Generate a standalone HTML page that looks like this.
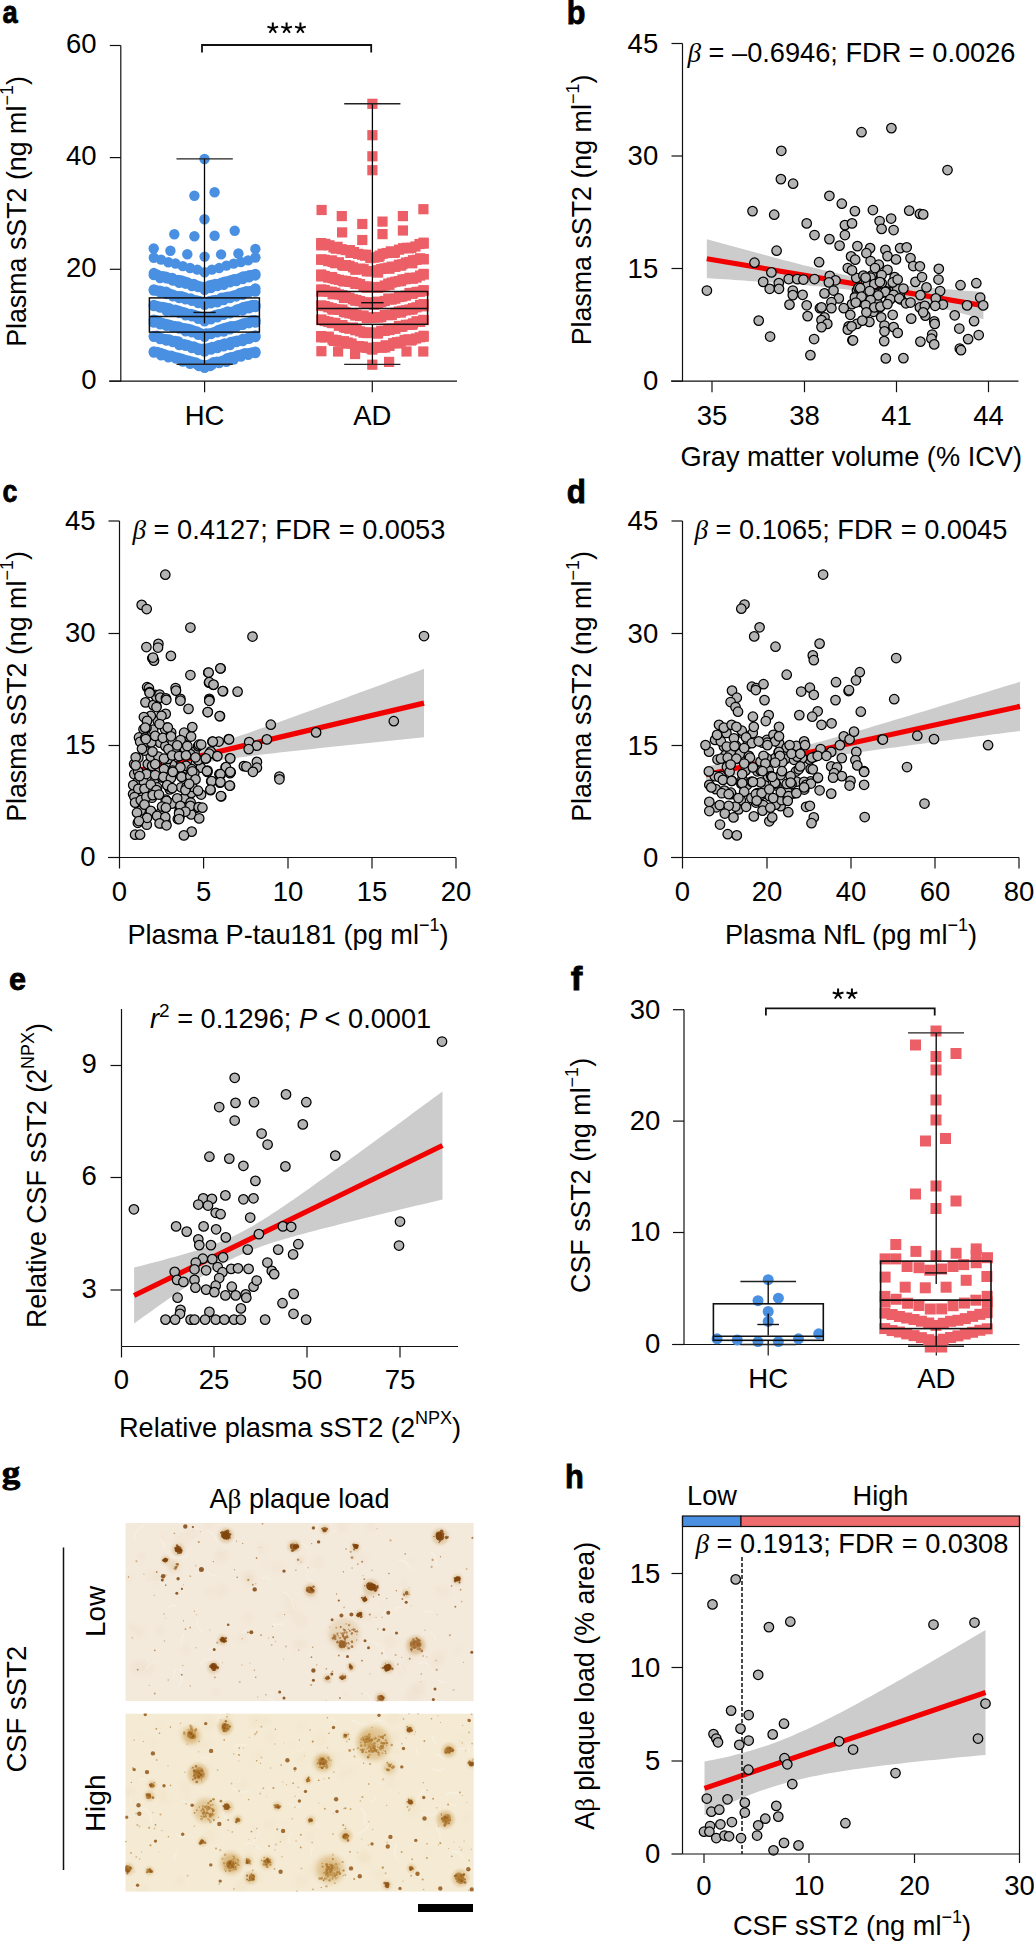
<!DOCTYPE html>
<html><head><meta charset="utf-8"><style>
html,body{margin:0;padding:0;background:#fff;}
svg{display:block;}
text{font-family:"Liberation Sans", sans-serif;fill:#000;}
</style></head><body>
<svg width="1034" height="1942" viewBox="0 0 1034 1942">
<rect width="1034" height="1942" fill="#fff"/>
<g transform="matrix(0.2736,0,0,0.3145,2.48,23.19)"><text x="0" y="0" font-size="100" font-weight="bold" stroke="#000" stroke-width="2.5" style="font-family:'Liberation Sans'">a</text></g>
<line x1="120.80" y1="45.50" x2="120.80" y2="381.50" stroke="#111" stroke-width="1.2" />
<line x1="109.00" y1="381.20" x2="457.00" y2="381.20" stroke="#111" stroke-width="1.2" />
<line x1="109.80" y1="45.50" x2="120.80" y2="45.50" stroke="#111" stroke-width="1.2" />
<text x="96.50" y="53.20" font-size="27.5" text-anchor="end" font-weight="normal" font-style="normal">60</text>
<line x1="109.80" y1="157.60" x2="120.80" y2="157.60" stroke="#111" stroke-width="1.2" />
<text x="96.50" y="165.30" font-size="27.5" text-anchor="end" font-weight="normal" font-style="normal">40</text>
<line x1="109.80" y1="269.30" x2="120.80" y2="269.30" stroke="#111" stroke-width="1.2" />
<text x="96.50" y="277.00" font-size="27.5" text-anchor="end" font-weight="normal" font-style="normal">20</text>
<line x1="109.80" y1="381.20" x2="120.80" y2="381.20" stroke="#111" stroke-width="1.2" />
<text x="96.50" y="388.90" font-size="27.5" text-anchor="end" font-weight="normal" font-style="normal">0</text>
<line x1="204.60" y1="381.20" x2="204.60" y2="392.20" stroke="#111" stroke-width="1.2" />
<text x="204.60" y="424.70" font-size="27.5" text-anchor="middle" font-weight="normal" font-style="normal">HC</text>
<line x1="372.30" y1="381.20" x2="372.30" y2="392.20" stroke="#111" stroke-width="1.2" />
<text x="372.30" y="424.70" font-size="27.5" text-anchor="middle" font-weight="normal" font-style="normal">AD</text>
<text x="25.50" y="211.50" font-size="26.8" text-anchor="middle" font-weight="normal" font-style="normal" transform="rotate(-90 25.50 211.50)">Plasma sST2 (ng ml<tspan dy="-12.5" font-size="18">−1</tspan><tspan dy="12.5">)</tspan></text>
<path d="M202,52.5 L202,45 L371.2,45 L371.2,52.5" fill="none" stroke="#111" stroke-width="1.8"/>
<path d="M272.80,28.20 L272.80,22.60 M272.80,28.20 L278.18,26.66 M272.80,28.20 L276.09,32.73 M272.80,28.20 L269.51,32.73 M272.80,28.20 L267.42,26.66 " stroke="#000" stroke-width="2.0" stroke-linecap="butt" fill="none"/>
<path d="M286.60,28.20 L286.60,22.60 M286.60,28.20 L291.98,26.66 M286.60,28.20 L289.89,32.73 M286.60,28.20 L283.31,32.73 M286.60,28.20 L281.22,26.66 " stroke="#000" stroke-width="2.0" stroke-linecap="butt" fill="none"/>
<path d="M300.40,28.20 L300.40,22.60 M300.40,28.20 L305.78,26.66 M300.40,28.20 L303.69,32.73 M300.40,28.20 L297.11,32.73 M300.40,28.20 L295.02,26.66 " stroke="#000" stroke-width="2.0" stroke-linecap="butt" fill="none"/>
<circle cx="204.50" cy="159.00" r="5.2" fill="#4A90E2" stroke="none" stroke-width="0"/>
<circle cx="194.40" cy="195.70" r="5.2" fill="#4A90E2" stroke="none" stroke-width="0"/>
<circle cx="214.60" cy="192.30" r="5.2" fill="#4A90E2" stroke="none" stroke-width="0"/>
<circle cx="204.50" cy="219.30" r="5.2" fill="#4A90E2" stroke="none" stroke-width="0"/>
<circle cx="174.30" cy="234.30" r="5.2" fill="#4A90E2" stroke="none" stroke-width="0"/>
<circle cx="194.40" cy="236.20" r="5.2" fill="#4A90E2" stroke="none" stroke-width="0"/>
<circle cx="214.60" cy="235.70" r="5.2" fill="#4A90E2" stroke="none" stroke-width="0"/>
<circle cx="234.70" cy="230.70" r="5.2" fill="#4A90E2" stroke="none" stroke-width="0"/>
<circle cx="153.70" cy="248.50" r="5.2" fill="#4A90E2" stroke="none" stroke-width="0"/>
<circle cx="170.40" cy="250.80" r="5.2" fill="#4A90E2" stroke="none" stroke-width="0"/>
<circle cx="187.30" cy="254.20" r="5.2" fill="#4A90E2" stroke="none" stroke-width="0"/>
<circle cx="204.60" cy="256.60" r="5.2" fill="#4A90E2" stroke="none" stroke-width="0"/>
<circle cx="221.10" cy="254.40" r="5.2" fill="#4A90E2" stroke="none" stroke-width="0"/>
<circle cx="238.40" cy="253.50" r="5.2" fill="#4A90E2" stroke="none" stroke-width="0"/>
<circle cx="255.40" cy="248.90" r="5.2" fill="#4A90E2" stroke="none" stroke-width="0"/>
<circle cx="153.80" cy="257.79" r="5.2" fill="#4A90E2" stroke="none" stroke-width="0"/>
<circle cx="161.06" cy="259.61" r="5.2" fill="#4A90E2" stroke="none" stroke-width="0"/>
<circle cx="168.31" cy="262.24" r="5.2" fill="#4A90E2" stroke="none" stroke-width="0"/>
<circle cx="175.57" cy="263.57" r="5.2" fill="#4A90E2" stroke="none" stroke-width="0"/>
<circle cx="182.83" cy="266.16" r="5.2" fill="#4A90E2" stroke="none" stroke-width="0"/>
<circle cx="190.09" cy="267.98" r="5.2" fill="#4A90E2" stroke="none" stroke-width="0"/>
<circle cx="197.34" cy="269.64" r="5.2" fill="#4A90E2" stroke="none" stroke-width="0"/>
<circle cx="204.60" cy="272.21" r="5.2" fill="#4A90E2" stroke="none" stroke-width="0"/>
<circle cx="211.86" cy="269.62" r="5.2" fill="#4A90E2" stroke="none" stroke-width="0"/>
<circle cx="219.11" cy="268.06" r="5.2" fill="#4A90E2" stroke="none" stroke-width="0"/>
<circle cx="226.37" cy="265.60" r="5.2" fill="#4A90E2" stroke="none" stroke-width="0"/>
<circle cx="233.63" cy="263.59" r="5.2" fill="#4A90E2" stroke="none" stroke-width="0"/>
<circle cx="240.89" cy="261.97" r="5.2" fill="#4A90E2" stroke="none" stroke-width="0"/>
<circle cx="248.14" cy="260.42" r="5.2" fill="#4A90E2" stroke="none" stroke-width="0"/>
<circle cx="255.40" cy="257.55" r="5.2" fill="#4A90E2" stroke="none" stroke-width="0"/>
<circle cx="153.80" cy="273.06" r="5.2" fill="#4A90E2" stroke="none" stroke-width="0"/>
<circle cx="156.88" cy="274.55" r="5.2" fill="#4A90E2" stroke="none" stroke-width="0"/>
<circle cx="159.96" cy="275.91" r="5.2" fill="#4A90E2" stroke="none" stroke-width="0"/>
<circle cx="163.04" cy="276.17" r="5.2" fill="#4A90E2" stroke="none" stroke-width="0"/>
<circle cx="166.12" cy="276.73" r="5.2" fill="#4A90E2" stroke="none" stroke-width="0"/>
<circle cx="169.19" cy="278.50" r="5.2" fill="#4A90E2" stroke="none" stroke-width="0"/>
<circle cx="172.27" cy="277.87" r="5.2" fill="#4A90E2" stroke="none" stroke-width="0"/>
<circle cx="175.35" cy="280.01" r="5.2" fill="#4A90E2" stroke="none" stroke-width="0"/>
<circle cx="178.43" cy="279.95" r="5.2" fill="#4A90E2" stroke="none" stroke-width="0"/>
<circle cx="181.51" cy="280.57" r="5.2" fill="#4A90E2" stroke="none" stroke-width="0"/>
<circle cx="184.59" cy="281.37" r="5.2" fill="#4A90E2" stroke="none" stroke-width="0"/>
<circle cx="187.67" cy="282.53" r="5.2" fill="#4A90E2" stroke="none" stroke-width="0"/>
<circle cx="190.75" cy="284.19" r="5.2" fill="#4A90E2" stroke="none" stroke-width="0"/>
<circle cx="193.82" cy="284.02" r="5.2" fill="#4A90E2" stroke="none" stroke-width="0"/>
<circle cx="196.90" cy="285.51" r="5.2" fill="#4A90E2" stroke="none" stroke-width="0"/>
<circle cx="199.98" cy="286.45" r="5.2" fill="#4A90E2" stroke="none" stroke-width="0"/>
<circle cx="203.06" cy="286.87" r="5.2" fill="#4A90E2" stroke="none" stroke-width="0"/>
<circle cx="206.14" cy="287.15" r="5.2" fill="#4A90E2" stroke="none" stroke-width="0"/>
<circle cx="209.22" cy="285.53" r="5.2" fill="#4A90E2" stroke="none" stroke-width="0"/>
<circle cx="212.30" cy="284.67" r="5.2" fill="#4A90E2" stroke="none" stroke-width="0"/>
<circle cx="215.38" cy="284.06" r="5.2" fill="#4A90E2" stroke="none" stroke-width="0"/>
<circle cx="218.45" cy="283.97" r="5.2" fill="#4A90E2" stroke="none" stroke-width="0"/>
<circle cx="221.53" cy="282.72" r="5.2" fill="#4A90E2" stroke="none" stroke-width="0"/>
<circle cx="224.61" cy="281.69" r="5.2" fill="#4A90E2" stroke="none" stroke-width="0"/>
<circle cx="227.69" cy="281.27" r="5.2" fill="#4A90E2" stroke="none" stroke-width="0"/>
<circle cx="230.77" cy="280.21" r="5.2" fill="#4A90E2" stroke="none" stroke-width="0"/>
<circle cx="233.85" cy="279.12" r="5.2" fill="#4A90E2" stroke="none" stroke-width="0"/>
<circle cx="236.93" cy="279.06" r="5.2" fill="#4A90E2" stroke="none" stroke-width="0"/>
<circle cx="240.01" cy="278.06" r="5.2" fill="#4A90E2" stroke="none" stroke-width="0"/>
<circle cx="243.08" cy="276.48" r="5.2" fill="#4A90E2" stroke="none" stroke-width="0"/>
<circle cx="246.16" cy="276.16" r="5.2" fill="#4A90E2" stroke="none" stroke-width="0"/>
<circle cx="249.24" cy="275.24" r="5.2" fill="#4A90E2" stroke="none" stroke-width="0"/>
<circle cx="252.32" cy="274.95" r="5.2" fill="#4A90E2" stroke="none" stroke-width="0"/>
<circle cx="255.40" cy="273.87" r="5.2" fill="#4A90E2" stroke="none" stroke-width="0"/>
<circle cx="153.80" cy="275.16" r="5.2" fill="#4A90E2" stroke="none" stroke-width="0"/>
<circle cx="160.15" cy="278.02" r="5.2" fill="#4A90E2" stroke="none" stroke-width="0"/>
<circle cx="166.50" cy="278.39" r="5.2" fill="#4A90E2" stroke="none" stroke-width="0"/>
<circle cx="172.85" cy="280.62" r="5.2" fill="#4A90E2" stroke="none" stroke-width="0"/>
<circle cx="179.20" cy="282.91" r="5.2" fill="#4A90E2" stroke="none" stroke-width="0"/>
<circle cx="185.55" cy="283.69" r="5.2" fill="#4A90E2" stroke="none" stroke-width="0"/>
<circle cx="191.90" cy="285.98" r="5.2" fill="#4A90E2" stroke="none" stroke-width="0"/>
<circle cx="198.25" cy="287.01" r="5.2" fill="#4A90E2" stroke="none" stroke-width="0"/>
<circle cx="204.60" cy="289.77" r="5.2" fill="#4A90E2" stroke="none" stroke-width="0"/>
<circle cx="210.95" cy="288.17" r="5.2" fill="#4A90E2" stroke="none" stroke-width="0"/>
<circle cx="217.30" cy="286.12" r="5.2" fill="#4A90E2" stroke="none" stroke-width="0"/>
<circle cx="223.65" cy="284.85" r="5.2" fill="#4A90E2" stroke="none" stroke-width="0"/>
<circle cx="230.00" cy="282.20" r="5.2" fill="#4A90E2" stroke="none" stroke-width="0"/>
<circle cx="236.35" cy="281.06" r="5.2" fill="#4A90E2" stroke="none" stroke-width="0"/>
<circle cx="242.70" cy="279.15" r="5.2" fill="#4A90E2" stroke="none" stroke-width="0"/>
<circle cx="249.05" cy="277.38" r="5.2" fill="#4A90E2" stroke="none" stroke-width="0"/>
<circle cx="255.40" cy="275.43" r="5.2" fill="#4A90E2" stroke="none" stroke-width="0"/>
<circle cx="153.80" cy="289.54" r="5.2" fill="#4A90E2" stroke="none" stroke-width="0"/>
<circle cx="156.88" cy="290.56" r="5.2" fill="#4A90E2" stroke="none" stroke-width="0"/>
<circle cx="159.96" cy="290.66" r="5.2" fill="#4A90E2" stroke="none" stroke-width="0"/>
<circle cx="163.04" cy="291.81" r="5.2" fill="#4A90E2" stroke="none" stroke-width="0"/>
<circle cx="166.12" cy="291.69" r="5.2" fill="#4A90E2" stroke="none" stroke-width="0"/>
<circle cx="169.19" cy="293.56" r="5.2" fill="#4A90E2" stroke="none" stroke-width="0"/>
<circle cx="172.27" cy="294.33" r="5.2" fill="#4A90E2" stroke="none" stroke-width="0"/>
<circle cx="175.35" cy="295.73" r="5.2" fill="#4A90E2" stroke="none" stroke-width="0"/>
<circle cx="178.43" cy="296.30" r="5.2" fill="#4A90E2" stroke="none" stroke-width="0"/>
<circle cx="181.51" cy="296.29" r="5.2" fill="#4A90E2" stroke="none" stroke-width="0"/>
<circle cx="184.59" cy="297.30" r="5.2" fill="#4A90E2" stroke="none" stroke-width="0"/>
<circle cx="187.67" cy="298.60" r="5.2" fill="#4A90E2" stroke="none" stroke-width="0"/>
<circle cx="190.75" cy="298.42" r="5.2" fill="#4A90E2" stroke="none" stroke-width="0"/>
<circle cx="193.82" cy="299.97" r="5.2" fill="#4A90E2" stroke="none" stroke-width="0"/>
<circle cx="196.90" cy="300.35" r="5.2" fill="#4A90E2" stroke="none" stroke-width="0"/>
<circle cx="199.98" cy="301.11" r="5.2" fill="#4A90E2" stroke="none" stroke-width="0"/>
<circle cx="203.06" cy="301.87" r="5.2" fill="#4A90E2" stroke="none" stroke-width="0"/>
<circle cx="206.14" cy="303.00" r="5.2" fill="#4A90E2" stroke="none" stroke-width="0"/>
<circle cx="209.22" cy="301.13" r="5.2" fill="#4A90E2" stroke="none" stroke-width="0"/>
<circle cx="212.30" cy="300.47" r="5.2" fill="#4A90E2" stroke="none" stroke-width="0"/>
<circle cx="215.38" cy="299.86" r="5.2" fill="#4A90E2" stroke="none" stroke-width="0"/>
<circle cx="218.45" cy="299.78" r="5.2" fill="#4A90E2" stroke="none" stroke-width="0"/>
<circle cx="221.53" cy="297.66" r="5.2" fill="#4A90E2" stroke="none" stroke-width="0"/>
<circle cx="224.61" cy="297.40" r="5.2" fill="#4A90E2" stroke="none" stroke-width="0"/>
<circle cx="227.69" cy="296.72" r="5.2" fill="#4A90E2" stroke="none" stroke-width="0"/>
<circle cx="230.77" cy="296.40" r="5.2" fill="#4A90E2" stroke="none" stroke-width="0"/>
<circle cx="233.85" cy="295.45" r="5.2" fill="#4A90E2" stroke="none" stroke-width="0"/>
<circle cx="236.93" cy="294.67" r="5.2" fill="#4A90E2" stroke="none" stroke-width="0"/>
<circle cx="240.01" cy="292.89" r="5.2" fill="#4A90E2" stroke="none" stroke-width="0"/>
<circle cx="243.08" cy="292.26" r="5.2" fill="#4A90E2" stroke="none" stroke-width="0"/>
<circle cx="246.16" cy="291.32" r="5.2" fill="#4A90E2" stroke="none" stroke-width="0"/>
<circle cx="249.24" cy="291.31" r="5.2" fill="#4A90E2" stroke="none" stroke-width="0"/>
<circle cx="252.32" cy="290.58" r="5.2" fill="#4A90E2" stroke="none" stroke-width="0"/>
<circle cx="255.40" cy="288.44" r="5.2" fill="#4A90E2" stroke="none" stroke-width="0"/>
<circle cx="153.80" cy="290.48" r="5.2" fill="#4A90E2" stroke="none" stroke-width="0"/>
<circle cx="160.15" cy="292.32" r="5.2" fill="#4A90E2" stroke="none" stroke-width="0"/>
<circle cx="166.50" cy="294.07" r="5.2" fill="#4A90E2" stroke="none" stroke-width="0"/>
<circle cx="172.85" cy="296.23" r="5.2" fill="#4A90E2" stroke="none" stroke-width="0"/>
<circle cx="179.20" cy="298.14" r="5.2" fill="#4A90E2" stroke="none" stroke-width="0"/>
<circle cx="185.55" cy="299.37" r="5.2" fill="#4A90E2" stroke="none" stroke-width="0"/>
<circle cx="191.90" cy="300.71" r="5.2" fill="#4A90E2" stroke="none" stroke-width="0"/>
<circle cx="198.25" cy="303.12" r="5.2" fill="#4A90E2" stroke="none" stroke-width="0"/>
<circle cx="204.60" cy="304.79" r="5.2" fill="#4A90E2" stroke="none" stroke-width="0"/>
<circle cx="210.95" cy="303.36" r="5.2" fill="#4A90E2" stroke="none" stroke-width="0"/>
<circle cx="217.30" cy="302.22" r="5.2" fill="#4A90E2" stroke="none" stroke-width="0"/>
<circle cx="223.65" cy="300.05" r="5.2" fill="#4A90E2" stroke="none" stroke-width="0"/>
<circle cx="230.00" cy="298.02" r="5.2" fill="#4A90E2" stroke="none" stroke-width="0"/>
<circle cx="236.35" cy="296.44" r="5.2" fill="#4A90E2" stroke="none" stroke-width="0"/>
<circle cx="242.70" cy="294.78" r="5.2" fill="#4A90E2" stroke="none" stroke-width="0"/>
<circle cx="249.05" cy="292.04" r="5.2" fill="#4A90E2" stroke="none" stroke-width="0"/>
<circle cx="255.40" cy="291.64" r="5.2" fill="#4A90E2" stroke="none" stroke-width="0"/>
<circle cx="153.80" cy="304.95" r="5.2" fill="#4A90E2" stroke="none" stroke-width="0"/>
<circle cx="156.88" cy="305.95" r="5.2" fill="#4A90E2" stroke="none" stroke-width="0"/>
<circle cx="159.96" cy="306.67" r="5.2" fill="#4A90E2" stroke="none" stroke-width="0"/>
<circle cx="163.04" cy="306.87" r="5.2" fill="#4A90E2" stroke="none" stroke-width="0"/>
<circle cx="166.12" cy="307.73" r="5.2" fill="#4A90E2" stroke="none" stroke-width="0"/>
<circle cx="169.19" cy="308.11" r="5.2" fill="#4A90E2" stroke="none" stroke-width="0"/>
<circle cx="172.27" cy="309.81" r="5.2" fill="#4A90E2" stroke="none" stroke-width="0"/>
<circle cx="175.35" cy="309.74" r="5.2" fill="#4A90E2" stroke="none" stroke-width="0"/>
<circle cx="178.43" cy="310.60" r="5.2" fill="#4A90E2" stroke="none" stroke-width="0"/>
<circle cx="181.51" cy="311.67" r="5.2" fill="#4A90E2" stroke="none" stroke-width="0"/>
<circle cx="184.59" cy="312.44" r="5.2" fill="#4A90E2" stroke="none" stroke-width="0"/>
<circle cx="187.67" cy="313.58" r="5.2" fill="#4A90E2" stroke="none" stroke-width="0"/>
<circle cx="190.75" cy="313.97" r="5.2" fill="#4A90E2" stroke="none" stroke-width="0"/>
<circle cx="193.82" cy="314.73" r="5.2" fill="#4A90E2" stroke="none" stroke-width="0"/>
<circle cx="196.90" cy="315.82" r="5.2" fill="#4A90E2" stroke="none" stroke-width="0"/>
<circle cx="199.98" cy="316.59" r="5.2" fill="#4A90E2" stroke="none" stroke-width="0"/>
<circle cx="203.06" cy="317.86" r="5.2" fill="#4A90E2" stroke="none" stroke-width="0"/>
<circle cx="206.14" cy="317.32" r="5.2" fill="#4A90E2" stroke="none" stroke-width="0"/>
<circle cx="209.22" cy="317.83" r="5.2" fill="#4A90E2" stroke="none" stroke-width="0"/>
<circle cx="212.30" cy="316.56" r="5.2" fill="#4A90E2" stroke="none" stroke-width="0"/>
<circle cx="215.38" cy="314.97" r="5.2" fill="#4A90E2" stroke="none" stroke-width="0"/>
<circle cx="218.45" cy="314.29" r="5.2" fill="#4A90E2" stroke="none" stroke-width="0"/>
<circle cx="221.53" cy="313.59" r="5.2" fill="#4A90E2" stroke="none" stroke-width="0"/>
<circle cx="224.61" cy="312.77" r="5.2" fill="#4A90E2" stroke="none" stroke-width="0"/>
<circle cx="227.69" cy="311.53" r="5.2" fill="#4A90E2" stroke="none" stroke-width="0"/>
<circle cx="230.77" cy="311.85" r="5.2" fill="#4A90E2" stroke="none" stroke-width="0"/>
<circle cx="233.85" cy="311.23" r="5.2" fill="#4A90E2" stroke="none" stroke-width="0"/>
<circle cx="236.93" cy="309.54" r="5.2" fill="#4A90E2" stroke="none" stroke-width="0"/>
<circle cx="240.01" cy="308.72" r="5.2" fill="#4A90E2" stroke="none" stroke-width="0"/>
<circle cx="243.08" cy="307.23" r="5.2" fill="#4A90E2" stroke="none" stroke-width="0"/>
<circle cx="246.16" cy="306.41" r="5.2" fill="#4A90E2" stroke="none" stroke-width="0"/>
<circle cx="249.24" cy="305.95" r="5.2" fill="#4A90E2" stroke="none" stroke-width="0"/>
<circle cx="252.32" cy="304.97" r="5.2" fill="#4A90E2" stroke="none" stroke-width="0"/>
<circle cx="255.40" cy="305.03" r="5.2" fill="#4A90E2" stroke="none" stroke-width="0"/>
<circle cx="153.80" cy="305.96" r="5.2" fill="#4A90E2" stroke="none" stroke-width="0"/>
<circle cx="160.15" cy="307.49" r="5.2" fill="#4A90E2" stroke="none" stroke-width="0"/>
<circle cx="166.50" cy="310.72" r="5.2" fill="#4A90E2" stroke="none" stroke-width="0"/>
<circle cx="172.85" cy="311.80" r="5.2" fill="#4A90E2" stroke="none" stroke-width="0"/>
<circle cx="179.20" cy="312.93" r="5.2" fill="#4A90E2" stroke="none" stroke-width="0"/>
<circle cx="185.55" cy="315.32" r="5.2" fill="#4A90E2" stroke="none" stroke-width="0"/>
<circle cx="191.90" cy="316.24" r="5.2" fill="#4A90E2" stroke="none" stroke-width="0"/>
<circle cx="198.25" cy="318.79" r="5.2" fill="#4A90E2" stroke="none" stroke-width="0"/>
<circle cx="204.60" cy="321.27" r="5.2" fill="#4A90E2" stroke="none" stroke-width="0"/>
<circle cx="210.95" cy="319.33" r="5.2" fill="#4A90E2" stroke="none" stroke-width="0"/>
<circle cx="217.30" cy="317.31" r="5.2" fill="#4A90E2" stroke="none" stroke-width="0"/>
<circle cx="223.65" cy="314.87" r="5.2" fill="#4A90E2" stroke="none" stroke-width="0"/>
<circle cx="230.00" cy="313.29" r="5.2" fill="#4A90E2" stroke="none" stroke-width="0"/>
<circle cx="236.35" cy="311.22" r="5.2" fill="#4A90E2" stroke="none" stroke-width="0"/>
<circle cx="242.70" cy="310.44" r="5.2" fill="#4A90E2" stroke="none" stroke-width="0"/>
<circle cx="249.05" cy="308.30" r="5.2" fill="#4A90E2" stroke="none" stroke-width="0"/>
<circle cx="255.40" cy="306.95" r="5.2" fill="#4A90E2" stroke="none" stroke-width="0"/>
<circle cx="153.80" cy="319.73" r="5.2" fill="#4A90E2" stroke="none" stroke-width="0"/>
<circle cx="156.88" cy="320.41" r="5.2" fill="#4A90E2" stroke="none" stroke-width="0"/>
<circle cx="159.96" cy="322.20" r="5.2" fill="#4A90E2" stroke="none" stroke-width="0"/>
<circle cx="163.04" cy="323.32" r="5.2" fill="#4A90E2" stroke="none" stroke-width="0"/>
<circle cx="166.12" cy="323.96" r="5.2" fill="#4A90E2" stroke="none" stroke-width="0"/>
<circle cx="169.19" cy="324.73" r="5.2" fill="#4A90E2" stroke="none" stroke-width="0"/>
<circle cx="172.27" cy="325.60" r="5.2" fill="#4A90E2" stroke="none" stroke-width="0"/>
<circle cx="175.35" cy="326.32" r="5.2" fill="#4A90E2" stroke="none" stroke-width="0"/>
<circle cx="178.43" cy="326.35" r="5.2" fill="#4A90E2" stroke="none" stroke-width="0"/>
<circle cx="181.51" cy="327.66" r="5.2" fill="#4A90E2" stroke="none" stroke-width="0"/>
<circle cx="184.59" cy="328.25" r="5.2" fill="#4A90E2" stroke="none" stroke-width="0"/>
<circle cx="187.67" cy="328.58" r="5.2" fill="#4A90E2" stroke="none" stroke-width="0"/>
<circle cx="190.75" cy="329.43" r="5.2" fill="#4A90E2" stroke="none" stroke-width="0"/>
<circle cx="193.82" cy="330.68" r="5.2" fill="#4A90E2" stroke="none" stroke-width="0"/>
<circle cx="196.90" cy="331.49" r="5.2" fill="#4A90E2" stroke="none" stroke-width="0"/>
<circle cx="199.98" cy="333.04" r="5.2" fill="#4A90E2" stroke="none" stroke-width="0"/>
<circle cx="203.06" cy="334.31" r="5.2" fill="#4A90E2" stroke="none" stroke-width="0"/>
<circle cx="206.14" cy="333.49" r="5.2" fill="#4A90E2" stroke="none" stroke-width="0"/>
<circle cx="209.22" cy="333.43" r="5.2" fill="#4A90E2" stroke="none" stroke-width="0"/>
<circle cx="212.30" cy="332.66" r="5.2" fill="#4A90E2" stroke="none" stroke-width="0"/>
<circle cx="215.38" cy="331.76" r="5.2" fill="#4A90E2" stroke="none" stroke-width="0"/>
<circle cx="218.45" cy="329.97" r="5.2" fill="#4A90E2" stroke="none" stroke-width="0"/>
<circle cx="221.53" cy="328.89" r="5.2" fill="#4A90E2" stroke="none" stroke-width="0"/>
<circle cx="224.61" cy="328.05" r="5.2" fill="#4A90E2" stroke="none" stroke-width="0"/>
<circle cx="227.69" cy="327.15" r="5.2" fill="#4A90E2" stroke="none" stroke-width="0"/>
<circle cx="230.77" cy="326.31" r="5.2" fill="#4A90E2" stroke="none" stroke-width="0"/>
<circle cx="233.85" cy="326.14" r="5.2" fill="#4A90E2" stroke="none" stroke-width="0"/>
<circle cx="236.93" cy="325.73" r="5.2" fill="#4A90E2" stroke="none" stroke-width="0"/>
<circle cx="240.01" cy="324.79" r="5.2" fill="#4A90E2" stroke="none" stroke-width="0"/>
<circle cx="243.08" cy="323.36" r="5.2" fill="#4A90E2" stroke="none" stroke-width="0"/>
<circle cx="246.16" cy="322.79" r="5.2" fill="#4A90E2" stroke="none" stroke-width="0"/>
<circle cx="249.24" cy="322.18" r="5.2" fill="#4A90E2" stroke="none" stroke-width="0"/>
<circle cx="252.32" cy="320.18" r="5.2" fill="#4A90E2" stroke="none" stroke-width="0"/>
<circle cx="255.40" cy="320.26" r="5.2" fill="#4A90E2" stroke="none" stroke-width="0"/>
<circle cx="153.80" cy="322.66" r="5.2" fill="#4A90E2" stroke="none" stroke-width="0"/>
<circle cx="160.15" cy="324.20" r="5.2" fill="#4A90E2" stroke="none" stroke-width="0"/>
<circle cx="166.50" cy="325.90" r="5.2" fill="#4A90E2" stroke="none" stroke-width="0"/>
<circle cx="172.85" cy="327.21" r="5.2" fill="#4A90E2" stroke="none" stroke-width="0"/>
<circle cx="179.20" cy="328.49" r="5.2" fill="#4A90E2" stroke="none" stroke-width="0"/>
<circle cx="185.55" cy="331.21" r="5.2" fill="#4A90E2" stroke="none" stroke-width="0"/>
<circle cx="191.90" cy="332.23" r="5.2" fill="#4A90E2" stroke="none" stroke-width="0"/>
<circle cx="198.25" cy="334.73" r="5.2" fill="#4A90E2" stroke="none" stroke-width="0"/>
<circle cx="204.60" cy="336.75" r="5.2" fill="#4A90E2" stroke="none" stroke-width="0"/>
<circle cx="210.95" cy="334.08" r="5.2" fill="#4A90E2" stroke="none" stroke-width="0"/>
<circle cx="217.30" cy="332.34" r="5.2" fill="#4A90E2" stroke="none" stroke-width="0"/>
<circle cx="223.65" cy="331.46" r="5.2" fill="#4A90E2" stroke="none" stroke-width="0"/>
<circle cx="230.00" cy="329.36" r="5.2" fill="#4A90E2" stroke="none" stroke-width="0"/>
<circle cx="236.35" cy="326.72" r="5.2" fill="#4A90E2" stroke="none" stroke-width="0"/>
<circle cx="242.70" cy="324.90" r="5.2" fill="#4A90E2" stroke="none" stroke-width="0"/>
<circle cx="249.05" cy="323.19" r="5.2" fill="#4A90E2" stroke="none" stroke-width="0"/>
<circle cx="255.40" cy="322.65" r="5.2" fill="#4A90E2" stroke="none" stroke-width="0"/>
<circle cx="153.80" cy="335.99" r="5.2" fill="#4A90E2" stroke="none" stroke-width="0"/>
<circle cx="156.88" cy="335.78" r="5.2" fill="#4A90E2" stroke="none" stroke-width="0"/>
<circle cx="159.96" cy="337.72" r="5.2" fill="#4A90E2" stroke="none" stroke-width="0"/>
<circle cx="163.04" cy="338.81" r="5.2" fill="#4A90E2" stroke="none" stroke-width="0"/>
<circle cx="166.12" cy="339.15" r="5.2" fill="#4A90E2" stroke="none" stroke-width="0"/>
<circle cx="169.19" cy="339.50" r="5.2" fill="#4A90E2" stroke="none" stroke-width="0"/>
<circle cx="172.27" cy="340.67" r="5.2" fill="#4A90E2" stroke="none" stroke-width="0"/>
<circle cx="175.35" cy="340.85" r="5.2" fill="#4A90E2" stroke="none" stroke-width="0"/>
<circle cx="178.43" cy="341.51" r="5.2" fill="#4A90E2" stroke="none" stroke-width="0"/>
<circle cx="181.51" cy="343.89" r="5.2" fill="#4A90E2" stroke="none" stroke-width="0"/>
<circle cx="184.59" cy="344.22" r="5.2" fill="#4A90E2" stroke="none" stroke-width="0"/>
<circle cx="187.67" cy="344.88" r="5.2" fill="#4A90E2" stroke="none" stroke-width="0"/>
<circle cx="190.75" cy="346.38" r="5.2" fill="#4A90E2" stroke="none" stroke-width="0"/>
<circle cx="193.82" cy="346.42" r="5.2" fill="#4A90E2" stroke="none" stroke-width="0"/>
<circle cx="196.90" cy="347.97" r="5.2" fill="#4A90E2" stroke="none" stroke-width="0"/>
<circle cx="199.98" cy="348.75" r="5.2" fill="#4A90E2" stroke="none" stroke-width="0"/>
<circle cx="203.06" cy="348.61" r="5.2" fill="#4A90E2" stroke="none" stroke-width="0"/>
<circle cx="206.14" cy="348.68" r="5.2" fill="#4A90E2" stroke="none" stroke-width="0"/>
<circle cx="209.22" cy="347.90" r="5.2" fill="#4A90E2" stroke="none" stroke-width="0"/>
<circle cx="212.30" cy="346.96" r="5.2" fill="#4A90E2" stroke="none" stroke-width="0"/>
<circle cx="215.38" cy="346.67" r="5.2" fill="#4A90E2" stroke="none" stroke-width="0"/>
<circle cx="218.45" cy="345.30" r="5.2" fill="#4A90E2" stroke="none" stroke-width="0"/>
<circle cx="221.53" cy="344.70" r="5.2" fill="#4A90E2" stroke="none" stroke-width="0"/>
<circle cx="224.61" cy="343.39" r="5.2" fill="#4A90E2" stroke="none" stroke-width="0"/>
<circle cx="227.69" cy="343.79" r="5.2" fill="#4A90E2" stroke="none" stroke-width="0"/>
<circle cx="230.77" cy="342.05" r="5.2" fill="#4A90E2" stroke="none" stroke-width="0"/>
<circle cx="233.85" cy="341.37" r="5.2" fill="#4A90E2" stroke="none" stroke-width="0"/>
<circle cx="236.93" cy="340.72" r="5.2" fill="#4A90E2" stroke="none" stroke-width="0"/>
<circle cx="240.01" cy="340.39" r="5.2" fill="#4A90E2" stroke="none" stroke-width="0"/>
<circle cx="243.08" cy="338.77" r="5.2" fill="#4A90E2" stroke="none" stroke-width="0"/>
<circle cx="246.16" cy="338.71" r="5.2" fill="#4A90E2" stroke="none" stroke-width="0"/>
<circle cx="249.24" cy="337.20" r="5.2" fill="#4A90E2" stroke="none" stroke-width="0"/>
<circle cx="252.32" cy="336.40" r="5.2" fill="#4A90E2" stroke="none" stroke-width="0"/>
<circle cx="255.40" cy="335.54" r="5.2" fill="#4A90E2" stroke="none" stroke-width="0"/>
<circle cx="153.80" cy="336.73" r="5.2" fill="#4A90E2" stroke="none" stroke-width="0"/>
<circle cx="160.15" cy="339.15" r="5.2" fill="#4A90E2" stroke="none" stroke-width="0"/>
<circle cx="166.50" cy="340.49" r="5.2" fill="#4A90E2" stroke="none" stroke-width="0"/>
<circle cx="172.85" cy="341.96" r="5.2" fill="#4A90E2" stroke="none" stroke-width="0"/>
<circle cx="179.20" cy="344.98" r="5.2" fill="#4A90E2" stroke="none" stroke-width="0"/>
<circle cx="185.55" cy="345.73" r="5.2" fill="#4A90E2" stroke="none" stroke-width="0"/>
<circle cx="191.90" cy="347.96" r="5.2" fill="#4A90E2" stroke="none" stroke-width="0"/>
<circle cx="198.25" cy="350.11" r="5.2" fill="#4A90E2" stroke="none" stroke-width="0"/>
<circle cx="204.60" cy="351.59" r="5.2" fill="#4A90E2" stroke="none" stroke-width="0"/>
<circle cx="210.95" cy="349.47" r="5.2" fill="#4A90E2" stroke="none" stroke-width="0"/>
<circle cx="217.30" cy="348.03" r="5.2" fill="#4A90E2" stroke="none" stroke-width="0"/>
<circle cx="223.65" cy="346.34" r="5.2" fill="#4A90E2" stroke="none" stroke-width="0"/>
<circle cx="230.00" cy="344.95" r="5.2" fill="#4A90E2" stroke="none" stroke-width="0"/>
<circle cx="236.35" cy="342.12" r="5.2" fill="#4A90E2" stroke="none" stroke-width="0"/>
<circle cx="242.70" cy="341.10" r="5.2" fill="#4A90E2" stroke="none" stroke-width="0"/>
<circle cx="249.05" cy="338.85" r="5.2" fill="#4A90E2" stroke="none" stroke-width="0"/>
<circle cx="255.40" cy="337.14" r="5.2" fill="#4A90E2" stroke="none" stroke-width="0"/>
<circle cx="153.80" cy="351.44" r="5.2" fill="#4A90E2" stroke="none" stroke-width="0"/>
<circle cx="157.30" cy="351.98" r="5.2" fill="#4A90E2" stroke="none" stroke-width="0"/>
<circle cx="160.81" cy="353.03" r="5.2" fill="#4A90E2" stroke="none" stroke-width="0"/>
<circle cx="164.31" cy="354.31" r="5.2" fill="#4A90E2" stroke="none" stroke-width="0"/>
<circle cx="167.81" cy="355.52" r="5.2" fill="#4A90E2" stroke="none" stroke-width="0"/>
<circle cx="171.32" cy="355.74" r="5.2" fill="#4A90E2" stroke="none" stroke-width="0"/>
<circle cx="174.82" cy="356.97" r="5.2" fill="#4A90E2" stroke="none" stroke-width="0"/>
<circle cx="178.32" cy="357.77" r="5.2" fill="#4A90E2" stroke="none" stroke-width="0"/>
<circle cx="181.83" cy="358.74" r="5.2" fill="#4A90E2" stroke="none" stroke-width="0"/>
<circle cx="185.33" cy="360.00" r="5.2" fill="#4A90E2" stroke="none" stroke-width="0"/>
<circle cx="188.83" cy="360.58" r="5.2" fill="#4A90E2" stroke="none" stroke-width="0"/>
<circle cx="192.34" cy="361.67" r="5.2" fill="#4A90E2" stroke="none" stroke-width="0"/>
<circle cx="195.84" cy="362.55" r="5.2" fill="#4A90E2" stroke="none" stroke-width="0"/>
<circle cx="199.34" cy="364.26" r="5.2" fill="#4A90E2" stroke="none" stroke-width="0"/>
<circle cx="202.85" cy="364.84" r="5.2" fill="#4A90E2" stroke="none" stroke-width="0"/>
<circle cx="206.35" cy="365.12" r="5.2" fill="#4A90E2" stroke="none" stroke-width="0"/>
<circle cx="209.86" cy="364.26" r="5.2" fill="#4A90E2" stroke="none" stroke-width="0"/>
<circle cx="213.36" cy="362.20" r="5.2" fill="#4A90E2" stroke="none" stroke-width="0"/>
<circle cx="216.86" cy="361.72" r="5.2" fill="#4A90E2" stroke="none" stroke-width="0"/>
<circle cx="220.37" cy="361.36" r="5.2" fill="#4A90E2" stroke="none" stroke-width="0"/>
<circle cx="223.87" cy="360.23" r="5.2" fill="#4A90E2" stroke="none" stroke-width="0"/>
<circle cx="227.37" cy="358.14" r="5.2" fill="#4A90E2" stroke="none" stroke-width="0"/>
<circle cx="230.88" cy="357.15" r="5.2" fill="#4A90E2" stroke="none" stroke-width="0"/>
<circle cx="234.38" cy="356.70" r="5.2" fill="#4A90E2" stroke="none" stroke-width="0"/>
<circle cx="237.88" cy="355.14" r="5.2" fill="#4A90E2" stroke="none" stroke-width="0"/>
<circle cx="241.39" cy="354.45" r="5.2" fill="#4A90E2" stroke="none" stroke-width="0"/>
<circle cx="244.89" cy="353.21" r="5.2" fill="#4A90E2" stroke="none" stroke-width="0"/>
<circle cx="248.39" cy="353.20" r="5.2" fill="#4A90E2" stroke="none" stroke-width="0"/>
<circle cx="251.90" cy="352.42" r="5.2" fill="#4A90E2" stroke="none" stroke-width="0"/>
<circle cx="255.40" cy="351.64" r="5.2" fill="#4A90E2" stroke="none" stroke-width="0"/>
<circle cx="153.80" cy="352.45" r="5.2" fill="#4A90E2" stroke="none" stroke-width="0"/>
<circle cx="161.06" cy="355.35" r="5.2" fill="#4A90E2" stroke="none" stroke-width="0"/>
<circle cx="168.31" cy="357.26" r="5.2" fill="#4A90E2" stroke="none" stroke-width="0"/>
<circle cx="175.57" cy="358.43" r="5.2" fill="#4A90E2" stroke="none" stroke-width="0"/>
<circle cx="182.83" cy="361.61" r="5.2" fill="#4A90E2" stroke="none" stroke-width="0"/>
<circle cx="190.09" cy="363.75" r="5.2" fill="#4A90E2" stroke="none" stroke-width="0"/>
<circle cx="197.34" cy="364.55" r="5.2" fill="#4A90E2" stroke="none" stroke-width="0"/>
<circle cx="204.60" cy="367.72" r="5.2" fill="#4A90E2" stroke="none" stroke-width="0"/>
<circle cx="211.86" cy="364.84" r="5.2" fill="#4A90E2" stroke="none" stroke-width="0"/>
<circle cx="219.11" cy="362.98" r="5.2" fill="#4A90E2" stroke="none" stroke-width="0"/>
<circle cx="226.37" cy="361.78" r="5.2" fill="#4A90E2" stroke="none" stroke-width="0"/>
<circle cx="233.63" cy="359.53" r="5.2" fill="#4A90E2" stroke="none" stroke-width="0"/>
<circle cx="240.89" cy="356.46" r="5.2" fill="#4A90E2" stroke="none" stroke-width="0"/>
<circle cx="248.14" cy="354.89" r="5.2" fill="#4A90E2" stroke="none" stroke-width="0"/>
<circle cx="255.40" cy="353.02" r="5.2" fill="#4A90E2" stroke="none" stroke-width="0"/>
<circle cx="199.00" cy="366.00" r="5.2" fill="#4A90E2" stroke="none" stroke-width="0"/>
<circle cx="204.60" cy="367.00" r="5.2" fill="#4A90E2" stroke="none" stroke-width="0"/>
<circle cx="210.00" cy="366.00" r="5.2" fill="#4A90E2" stroke="none" stroke-width="0"/>
<rect x="367.30" y="98.70" width="10.20" height="10.20" fill="#EC5F66" stroke="none" stroke-width="0"/>
<rect x="367.30" y="130.10" width="10.20" height="10.20" fill="#EC5F66" stroke="none" stroke-width="0"/>
<rect x="367.30" y="151.20" width="10.20" height="10.20" fill="#EC5F66" stroke="none" stroke-width="0"/>
<rect x="367.30" y="165.10" width="10.20" height="10.20" fill="#EC5F66" stroke="none" stroke-width="0"/>
<rect x="316.50" y="204.90" width="10.20" height="10.20" fill="#EC5F66" stroke="none" stroke-width="0"/>
<rect x="336.70" y="211.00" width="10.20" height="10.20" fill="#EC5F66" stroke="none" stroke-width="0"/>
<rect x="357.20" y="218.90" width="10.20" height="10.20" fill="#EC5F66" stroke="none" stroke-width="0"/>
<rect x="377.40" y="216.50" width="10.20" height="10.20" fill="#EC5F66" stroke="none" stroke-width="0"/>
<rect x="397.80" y="211.00" width="10.20" height="10.20" fill="#EC5F66" stroke="none" stroke-width="0"/>
<rect x="418.30" y="204.10" width="10.20" height="10.20" fill="#EC5F66" stroke="none" stroke-width="0"/>
<rect x="337.00" y="227.30" width="10.20" height="10.20" fill="#EC5F66" stroke="none" stroke-width="0"/>
<rect x="357.20" y="234.90" width="10.20" height="10.20" fill="#EC5F66" stroke="none" stroke-width="0"/>
<rect x="377.40" y="229.00" width="10.20" height="10.20" fill="#EC5F66" stroke="none" stroke-width="0"/>
<rect x="397.80" y="225.40" width="10.20" height="10.20" fill="#EC5F66" stroke="none" stroke-width="0"/>
<rect x="316.10" y="238.01" width="10.20" height="10.20" fill="#EC5F66" stroke="none" stroke-width="0"/>
<rect x="320.20" y="238.79" width="10.20" height="10.20" fill="#EC5F66" stroke="none" stroke-width="0"/>
<rect x="324.29" y="240.20" width="10.20" height="10.20" fill="#EC5F66" stroke="none" stroke-width="0"/>
<rect x="328.39" y="242.29" width="10.20" height="10.20" fill="#EC5F66" stroke="none" stroke-width="0"/>
<rect x="332.48" y="241.73" width="10.20" height="10.20" fill="#EC5F66" stroke="none" stroke-width="0"/>
<rect x="336.58" y="244.13" width="10.20" height="10.20" fill="#EC5F66" stroke="none" stroke-width="0"/>
<rect x="340.68" y="244.98" width="10.20" height="10.20" fill="#EC5F66" stroke="none" stroke-width="0"/>
<rect x="344.77" y="245.08" width="10.20" height="10.20" fill="#EC5F66" stroke="none" stroke-width="0"/>
<rect x="348.87" y="246.96" width="10.20" height="10.20" fill="#EC5F66" stroke="none" stroke-width="0"/>
<rect x="352.96" y="248.78" width="10.20" height="10.20" fill="#EC5F66" stroke="none" stroke-width="0"/>
<rect x="357.06" y="249.63" width="10.20" height="10.20" fill="#EC5F66" stroke="none" stroke-width="0"/>
<rect x="361.16" y="249.67" width="10.20" height="10.20" fill="#EC5F66" stroke="none" stroke-width="0"/>
<rect x="365.25" y="253.00" width="10.20" height="10.20" fill="#EC5F66" stroke="none" stroke-width="0"/>
<rect x="369.35" y="252.53" width="10.20" height="10.20" fill="#EC5F66" stroke="none" stroke-width="0"/>
<rect x="373.44" y="251.85" width="10.20" height="10.20" fill="#EC5F66" stroke="none" stroke-width="0"/>
<rect x="377.54" y="248.65" width="10.20" height="10.20" fill="#EC5F66" stroke="none" stroke-width="0"/>
<rect x="381.64" y="247.92" width="10.20" height="10.20" fill="#EC5F66" stroke="none" stroke-width="0"/>
<rect x="385.73" y="246.26" width="10.20" height="10.20" fill="#EC5F66" stroke="none" stroke-width="0"/>
<rect x="389.83" y="246.91" width="10.20" height="10.20" fill="#EC5F66" stroke="none" stroke-width="0"/>
<rect x="393.92" y="244.57" width="10.20" height="10.20" fill="#EC5F66" stroke="none" stroke-width="0"/>
<rect x="398.02" y="243.11" width="10.20" height="10.20" fill="#EC5F66" stroke="none" stroke-width="0"/>
<rect x="402.12" y="242.69" width="10.20" height="10.20" fill="#EC5F66" stroke="none" stroke-width="0"/>
<rect x="406.21" y="242.75" width="10.20" height="10.20" fill="#EC5F66" stroke="none" stroke-width="0"/>
<rect x="410.31" y="241.41" width="10.20" height="10.20" fill="#EC5F66" stroke="none" stroke-width="0"/>
<rect x="414.40" y="238.94" width="10.20" height="10.20" fill="#EC5F66" stroke="none" stroke-width="0"/>
<rect x="418.50" y="237.56" width="10.20" height="10.20" fill="#EC5F66" stroke="none" stroke-width="0"/>
<rect x="316.10" y="240.24" width="10.20" height="10.20" fill="#EC5F66" stroke="none" stroke-width="0"/>
<rect x="330.73" y="243.54" width="10.20" height="10.20" fill="#EC5F66" stroke="none" stroke-width="0"/>
<rect x="345.36" y="247.80" width="10.20" height="10.20" fill="#EC5F66" stroke="none" stroke-width="0"/>
<rect x="359.99" y="250.58" width="10.20" height="10.20" fill="#EC5F66" stroke="none" stroke-width="0"/>
<rect x="374.61" y="250.52" width="10.20" height="10.20" fill="#EC5F66" stroke="none" stroke-width="0"/>
<rect x="389.24" y="247.78" width="10.20" height="10.20" fill="#EC5F66" stroke="none" stroke-width="0"/>
<rect x="403.87" y="243.25" width="10.20" height="10.20" fill="#EC5F66" stroke="none" stroke-width="0"/>
<rect x="418.50" y="238.54" width="10.20" height="10.20" fill="#EC5F66" stroke="none" stroke-width="0"/>
<rect x="316.10" y="254.45" width="10.20" height="10.20" fill="#EC5F66" stroke="none" stroke-width="0"/>
<rect x="319.63" y="254.69" width="10.20" height="10.20" fill="#EC5F66" stroke="none" stroke-width="0"/>
<rect x="323.16" y="256.05" width="10.20" height="10.20" fill="#EC5F66" stroke="none" stroke-width="0"/>
<rect x="326.69" y="255.30" width="10.20" height="10.20" fill="#EC5F66" stroke="none" stroke-width="0"/>
<rect x="330.22" y="258.12" width="10.20" height="10.20" fill="#EC5F66" stroke="none" stroke-width="0"/>
<rect x="333.76" y="257.19" width="10.20" height="10.20" fill="#EC5F66" stroke="none" stroke-width="0"/>
<rect x="337.29" y="260.06" width="10.20" height="10.20" fill="#EC5F66" stroke="none" stroke-width="0"/>
<rect x="340.82" y="260.05" width="10.20" height="10.20" fill="#EC5F66" stroke="none" stroke-width="0"/>
<rect x="344.35" y="260.74" width="10.20" height="10.20" fill="#EC5F66" stroke="none" stroke-width="0"/>
<rect x="347.88" y="262.22" width="10.20" height="10.20" fill="#EC5F66" stroke="none" stroke-width="0"/>
<rect x="351.41" y="264.08" width="10.20" height="10.20" fill="#EC5F66" stroke="none" stroke-width="0"/>
<rect x="354.94" y="263.46" width="10.20" height="10.20" fill="#EC5F66" stroke="none" stroke-width="0"/>
<rect x="358.47" y="264.10" width="10.20" height="10.20" fill="#EC5F66" stroke="none" stroke-width="0"/>
<rect x="362.00" y="266.02" width="10.20" height="10.20" fill="#EC5F66" stroke="none" stroke-width="0"/>
<rect x="365.53" y="266.29" width="10.20" height="10.20" fill="#EC5F66" stroke="none" stroke-width="0"/>
<rect x="369.07" y="265.98" width="10.20" height="10.20" fill="#EC5F66" stroke="none" stroke-width="0"/>
<rect x="372.60" y="265.14" width="10.20" height="10.20" fill="#EC5F66" stroke="none" stroke-width="0"/>
<rect x="376.13" y="263.91" width="10.20" height="10.20" fill="#EC5F66" stroke="none" stroke-width="0"/>
<rect x="379.66" y="263.30" width="10.20" height="10.20" fill="#EC5F66" stroke="none" stroke-width="0"/>
<rect x="383.19" y="262.60" width="10.20" height="10.20" fill="#EC5F66" stroke="none" stroke-width="0"/>
<rect x="386.72" y="261.62" width="10.20" height="10.20" fill="#EC5F66" stroke="none" stroke-width="0"/>
<rect x="390.25" y="261.75" width="10.20" height="10.20" fill="#EC5F66" stroke="none" stroke-width="0"/>
<rect x="393.78" y="259.65" width="10.20" height="10.20" fill="#EC5F66" stroke="none" stroke-width="0"/>
<rect x="397.31" y="259.19" width="10.20" height="10.20" fill="#EC5F66" stroke="none" stroke-width="0"/>
<rect x="400.84" y="257.45" width="10.20" height="10.20" fill="#EC5F66" stroke="none" stroke-width="0"/>
<rect x="404.38" y="256.89" width="10.20" height="10.20" fill="#EC5F66" stroke="none" stroke-width="0"/>
<rect x="407.91" y="255.14" width="10.20" height="10.20" fill="#EC5F66" stroke="none" stroke-width="0"/>
<rect x="411.44" y="254.73" width="10.20" height="10.20" fill="#EC5F66" stroke="none" stroke-width="0"/>
<rect x="414.97" y="253.20" width="10.20" height="10.20" fill="#EC5F66" stroke="none" stroke-width="0"/>
<rect x="418.50" y="253.96" width="10.20" height="10.20" fill="#EC5F66" stroke="none" stroke-width="0"/>
<rect x="316.10" y="254.50" width="10.20" height="10.20" fill="#EC5F66" stroke="none" stroke-width="0"/>
<rect x="327.48" y="256.89" width="10.20" height="10.20" fill="#EC5F66" stroke="none" stroke-width="0"/>
<rect x="338.86" y="260.57" width="10.20" height="10.20" fill="#EC5F66" stroke="none" stroke-width="0"/>
<rect x="350.23" y="264.60" width="10.20" height="10.20" fill="#EC5F66" stroke="none" stroke-width="0"/>
<rect x="361.61" y="266.06" width="10.20" height="10.20" fill="#EC5F66" stroke="none" stroke-width="0"/>
<rect x="372.99" y="267.48" width="10.20" height="10.20" fill="#EC5F66" stroke="none" stroke-width="0"/>
<rect x="384.37" y="263.60" width="10.20" height="10.20" fill="#EC5F66" stroke="none" stroke-width="0"/>
<rect x="395.74" y="260.61" width="10.20" height="10.20" fill="#EC5F66" stroke="none" stroke-width="0"/>
<rect x="407.12" y="258.18" width="10.20" height="10.20" fill="#EC5F66" stroke="none" stroke-width="0"/>
<rect x="418.50" y="254.19" width="10.20" height="10.20" fill="#EC5F66" stroke="none" stroke-width="0"/>
<rect x="316.10" y="269.42" width="10.20" height="10.20" fill="#EC5F66" stroke="none" stroke-width="0"/>
<rect x="319.63" y="270.82" width="10.20" height="10.20" fill="#EC5F66" stroke="none" stroke-width="0"/>
<rect x="323.16" y="272.49" width="10.20" height="10.20" fill="#EC5F66" stroke="none" stroke-width="0"/>
<rect x="326.69" y="271.92" width="10.20" height="10.20" fill="#EC5F66" stroke="none" stroke-width="0"/>
<rect x="330.22" y="274.06" width="10.20" height="10.20" fill="#EC5F66" stroke="none" stroke-width="0"/>
<rect x="333.76" y="274.72" width="10.20" height="10.20" fill="#EC5F66" stroke="none" stroke-width="0"/>
<rect x="337.29" y="275.52" width="10.20" height="10.20" fill="#EC5F66" stroke="none" stroke-width="0"/>
<rect x="340.82" y="275.93" width="10.20" height="10.20" fill="#EC5F66" stroke="none" stroke-width="0"/>
<rect x="344.35" y="276.76" width="10.20" height="10.20" fill="#EC5F66" stroke="none" stroke-width="0"/>
<rect x="347.88" y="277.02" width="10.20" height="10.20" fill="#EC5F66" stroke="none" stroke-width="0"/>
<rect x="351.41" y="278.17" width="10.20" height="10.20" fill="#EC5F66" stroke="none" stroke-width="0"/>
<rect x="354.94" y="278.99" width="10.20" height="10.20" fill="#EC5F66" stroke="none" stroke-width="0"/>
<rect x="358.47" y="281.56" width="10.20" height="10.20" fill="#EC5F66" stroke="none" stroke-width="0"/>
<rect x="362.00" y="281.37" width="10.20" height="10.20" fill="#EC5F66" stroke="none" stroke-width="0"/>
<rect x="365.53" y="282.11" width="10.20" height="10.20" fill="#EC5F66" stroke="none" stroke-width="0"/>
<rect x="369.07" y="281.92" width="10.20" height="10.20" fill="#EC5F66" stroke="none" stroke-width="0"/>
<rect x="372.60" y="282.77" width="10.20" height="10.20" fill="#EC5F66" stroke="none" stroke-width="0"/>
<rect x="376.13" y="281.88" width="10.20" height="10.20" fill="#EC5F66" stroke="none" stroke-width="0"/>
<rect x="379.66" y="280.43" width="10.20" height="10.20" fill="#EC5F66" stroke="none" stroke-width="0"/>
<rect x="383.19" y="278.53" width="10.20" height="10.20" fill="#EC5F66" stroke="none" stroke-width="0"/>
<rect x="386.72" y="277.47" width="10.20" height="10.20" fill="#EC5F66" stroke="none" stroke-width="0"/>
<rect x="390.25" y="276.63" width="10.20" height="10.20" fill="#EC5F66" stroke="none" stroke-width="0"/>
<rect x="393.78" y="276.06" width="10.20" height="10.20" fill="#EC5F66" stroke="none" stroke-width="0"/>
<rect x="397.31" y="274.37" width="10.20" height="10.20" fill="#EC5F66" stroke="none" stroke-width="0"/>
<rect x="400.84" y="274.10" width="10.20" height="10.20" fill="#EC5F66" stroke="none" stroke-width="0"/>
<rect x="404.38" y="272.69" width="10.20" height="10.20" fill="#EC5F66" stroke="none" stroke-width="0"/>
<rect x="407.91" y="273.40" width="10.20" height="10.20" fill="#EC5F66" stroke="none" stroke-width="0"/>
<rect x="411.44" y="272.47" width="10.20" height="10.20" fill="#EC5F66" stroke="none" stroke-width="0"/>
<rect x="414.97" y="270.48" width="10.20" height="10.20" fill="#EC5F66" stroke="none" stroke-width="0"/>
<rect x="418.50" y="268.79" width="10.20" height="10.20" fill="#EC5F66" stroke="none" stroke-width="0"/>
<rect x="316.10" y="271.33" width="10.20" height="10.20" fill="#EC5F66" stroke="none" stroke-width="0"/>
<rect x="327.48" y="273.13" width="10.20" height="10.20" fill="#EC5F66" stroke="none" stroke-width="0"/>
<rect x="338.86" y="276.34" width="10.20" height="10.20" fill="#EC5F66" stroke="none" stroke-width="0"/>
<rect x="350.23" y="278.74" width="10.20" height="10.20" fill="#EC5F66" stroke="none" stroke-width="0"/>
<rect x="361.61" y="282.61" width="10.20" height="10.20" fill="#EC5F66" stroke="none" stroke-width="0"/>
<rect x="372.99" y="282.79" width="10.20" height="10.20" fill="#EC5F66" stroke="none" stroke-width="0"/>
<rect x="384.37" y="279.74" width="10.20" height="10.20" fill="#EC5F66" stroke="none" stroke-width="0"/>
<rect x="395.74" y="276.02" width="10.20" height="10.20" fill="#EC5F66" stroke="none" stroke-width="0"/>
<rect x="407.12" y="273.52" width="10.20" height="10.20" fill="#EC5F66" stroke="none" stroke-width="0"/>
<rect x="418.50" y="269.41" width="10.20" height="10.20" fill="#EC5F66" stroke="none" stroke-width="0"/>
<rect x="316.10" y="284.33" width="10.20" height="10.20" fill="#EC5F66" stroke="none" stroke-width="0"/>
<rect x="319.63" y="284.88" width="10.20" height="10.20" fill="#EC5F66" stroke="none" stroke-width="0"/>
<rect x="323.16" y="286.59" width="10.20" height="10.20" fill="#EC5F66" stroke="none" stroke-width="0"/>
<rect x="326.69" y="286.70" width="10.20" height="10.20" fill="#EC5F66" stroke="none" stroke-width="0"/>
<rect x="330.22" y="287.62" width="10.20" height="10.20" fill="#EC5F66" stroke="none" stroke-width="0"/>
<rect x="333.76" y="289.26" width="10.20" height="10.20" fill="#EC5F66" stroke="none" stroke-width="0"/>
<rect x="337.29" y="290.05" width="10.20" height="10.20" fill="#EC5F66" stroke="none" stroke-width="0"/>
<rect x="340.82" y="291.86" width="10.20" height="10.20" fill="#EC5F66" stroke="none" stroke-width="0"/>
<rect x="344.35" y="292.69" width="10.20" height="10.20" fill="#EC5F66" stroke="none" stroke-width="0"/>
<rect x="347.88" y="294.19" width="10.20" height="10.20" fill="#EC5F66" stroke="none" stroke-width="0"/>
<rect x="351.41" y="294.93" width="10.20" height="10.20" fill="#EC5F66" stroke="none" stroke-width="0"/>
<rect x="354.94" y="296.04" width="10.20" height="10.20" fill="#EC5F66" stroke="none" stroke-width="0"/>
<rect x="358.47" y="297.40" width="10.20" height="10.20" fill="#EC5F66" stroke="none" stroke-width="0"/>
<rect x="362.00" y="297.19" width="10.20" height="10.20" fill="#EC5F66" stroke="none" stroke-width="0"/>
<rect x="365.53" y="298.00" width="10.20" height="10.20" fill="#EC5F66" stroke="none" stroke-width="0"/>
<rect x="369.07" y="299.58" width="10.20" height="10.20" fill="#EC5F66" stroke="none" stroke-width="0"/>
<rect x="372.60" y="296.61" width="10.20" height="10.20" fill="#EC5F66" stroke="none" stroke-width="0"/>
<rect x="376.13" y="297.02" width="10.20" height="10.20" fill="#EC5F66" stroke="none" stroke-width="0"/>
<rect x="379.66" y="295.86" width="10.20" height="10.20" fill="#EC5F66" stroke="none" stroke-width="0"/>
<rect x="383.19" y="293.46" width="10.20" height="10.20" fill="#EC5F66" stroke="none" stroke-width="0"/>
<rect x="386.72" y="294.39" width="10.20" height="10.20" fill="#EC5F66" stroke="none" stroke-width="0"/>
<rect x="390.25" y="293.56" width="10.20" height="10.20" fill="#EC5F66" stroke="none" stroke-width="0"/>
<rect x="393.78" y="291.96" width="10.20" height="10.20" fill="#EC5F66" stroke="none" stroke-width="0"/>
<rect x="397.31" y="291.25" width="10.20" height="10.20" fill="#EC5F66" stroke="none" stroke-width="0"/>
<rect x="400.84" y="290.48" width="10.20" height="10.20" fill="#EC5F66" stroke="none" stroke-width="0"/>
<rect x="404.38" y="287.90" width="10.20" height="10.20" fill="#EC5F66" stroke="none" stroke-width="0"/>
<rect x="407.91" y="287.85" width="10.20" height="10.20" fill="#EC5F66" stroke="none" stroke-width="0"/>
<rect x="411.44" y="286.84" width="10.20" height="10.20" fill="#EC5F66" stroke="none" stroke-width="0"/>
<rect x="414.97" y="286.67" width="10.20" height="10.20" fill="#EC5F66" stroke="none" stroke-width="0"/>
<rect x="418.50" y="285.63" width="10.20" height="10.20" fill="#EC5F66" stroke="none" stroke-width="0"/>
<rect x="316.10" y="286.55" width="10.20" height="10.20" fill="#EC5F66" stroke="none" stroke-width="0"/>
<rect x="327.48" y="289.18" width="10.20" height="10.20" fill="#EC5F66" stroke="none" stroke-width="0"/>
<rect x="338.86" y="292.91" width="10.20" height="10.20" fill="#EC5F66" stroke="none" stroke-width="0"/>
<rect x="350.23" y="295.60" width="10.20" height="10.20" fill="#EC5F66" stroke="none" stroke-width="0"/>
<rect x="361.61" y="298.73" width="10.20" height="10.20" fill="#EC5F66" stroke="none" stroke-width="0"/>
<rect x="372.99" y="297.80" width="10.20" height="10.20" fill="#EC5F66" stroke="none" stroke-width="0"/>
<rect x="384.37" y="294.30" width="10.20" height="10.20" fill="#EC5F66" stroke="none" stroke-width="0"/>
<rect x="395.74" y="291.39" width="10.20" height="10.20" fill="#EC5F66" stroke="none" stroke-width="0"/>
<rect x="407.12" y="288.73" width="10.20" height="10.20" fill="#EC5F66" stroke="none" stroke-width="0"/>
<rect x="418.50" y="285.11" width="10.20" height="10.20" fill="#EC5F66" stroke="none" stroke-width="0"/>
<rect x="316.10" y="300.71" width="10.20" height="10.20" fill="#EC5F66" stroke="none" stroke-width="0"/>
<rect x="319.63" y="301.01" width="10.20" height="10.20" fill="#EC5F66" stroke="none" stroke-width="0"/>
<rect x="323.16" y="302.14" width="10.20" height="10.20" fill="#EC5F66" stroke="none" stroke-width="0"/>
<rect x="326.69" y="303.10" width="10.20" height="10.20" fill="#EC5F66" stroke="none" stroke-width="0"/>
<rect x="330.22" y="304.20" width="10.20" height="10.20" fill="#EC5F66" stroke="none" stroke-width="0"/>
<rect x="333.76" y="304.70" width="10.20" height="10.20" fill="#EC5F66" stroke="none" stroke-width="0"/>
<rect x="337.29" y="304.50" width="10.20" height="10.20" fill="#EC5F66" stroke="none" stroke-width="0"/>
<rect x="340.82" y="307.37" width="10.20" height="10.20" fill="#EC5F66" stroke="none" stroke-width="0"/>
<rect x="344.35" y="308.22" width="10.20" height="10.20" fill="#EC5F66" stroke="none" stroke-width="0"/>
<rect x="347.88" y="308.60" width="10.20" height="10.20" fill="#EC5F66" stroke="none" stroke-width="0"/>
<rect x="351.41" y="309.64" width="10.20" height="10.20" fill="#EC5F66" stroke="none" stroke-width="0"/>
<rect x="354.94" y="310.90" width="10.20" height="10.20" fill="#EC5F66" stroke="none" stroke-width="0"/>
<rect x="358.47" y="310.44" width="10.20" height="10.20" fill="#EC5F66" stroke="none" stroke-width="0"/>
<rect x="362.00" y="313.02" width="10.20" height="10.20" fill="#EC5F66" stroke="none" stroke-width="0"/>
<rect x="365.53" y="312.82" width="10.20" height="10.20" fill="#EC5F66" stroke="none" stroke-width="0"/>
<rect x="369.07" y="312.40" width="10.20" height="10.20" fill="#EC5F66" stroke="none" stroke-width="0"/>
<rect x="372.60" y="311.89" width="10.20" height="10.20" fill="#EC5F66" stroke="none" stroke-width="0"/>
<rect x="376.13" y="312.04" width="10.20" height="10.20" fill="#EC5F66" stroke="none" stroke-width="0"/>
<rect x="379.66" y="309.81" width="10.20" height="10.20" fill="#EC5F66" stroke="none" stroke-width="0"/>
<rect x="383.19" y="310.13" width="10.20" height="10.20" fill="#EC5F66" stroke="none" stroke-width="0"/>
<rect x="386.72" y="309.73" width="10.20" height="10.20" fill="#EC5F66" stroke="none" stroke-width="0"/>
<rect x="390.25" y="307.61" width="10.20" height="10.20" fill="#EC5F66" stroke="none" stroke-width="0"/>
<rect x="393.78" y="306.38" width="10.20" height="10.20" fill="#EC5F66" stroke="none" stroke-width="0"/>
<rect x="397.31" y="305.64" width="10.20" height="10.20" fill="#EC5F66" stroke="none" stroke-width="0"/>
<rect x="400.84" y="305.17" width="10.20" height="10.20" fill="#EC5F66" stroke="none" stroke-width="0"/>
<rect x="404.38" y="304.40" width="10.20" height="10.20" fill="#EC5F66" stroke="none" stroke-width="0"/>
<rect x="407.91" y="303.08" width="10.20" height="10.20" fill="#EC5F66" stroke="none" stroke-width="0"/>
<rect x="411.44" y="302.17" width="10.20" height="10.20" fill="#EC5F66" stroke="none" stroke-width="0"/>
<rect x="414.97" y="299.85" width="10.20" height="10.20" fill="#EC5F66" stroke="none" stroke-width="0"/>
<rect x="418.50" y="299.05" width="10.20" height="10.20" fill="#EC5F66" stroke="none" stroke-width="0"/>
<rect x="316.10" y="300.41" width="10.20" height="10.20" fill="#EC5F66" stroke="none" stroke-width="0"/>
<rect x="327.48" y="304.50" width="10.20" height="10.20" fill="#EC5F66" stroke="none" stroke-width="0"/>
<rect x="338.86" y="306.73" width="10.20" height="10.20" fill="#EC5F66" stroke="none" stroke-width="0"/>
<rect x="350.23" y="310.37" width="10.20" height="10.20" fill="#EC5F66" stroke="none" stroke-width="0"/>
<rect x="361.61" y="312.37" width="10.20" height="10.20" fill="#EC5F66" stroke="none" stroke-width="0"/>
<rect x="372.99" y="312.47" width="10.20" height="10.20" fill="#EC5F66" stroke="none" stroke-width="0"/>
<rect x="384.37" y="309.77" width="10.20" height="10.20" fill="#EC5F66" stroke="none" stroke-width="0"/>
<rect x="395.74" y="307.47" width="10.20" height="10.20" fill="#EC5F66" stroke="none" stroke-width="0"/>
<rect x="407.12" y="304.40" width="10.20" height="10.20" fill="#EC5F66" stroke="none" stroke-width="0"/>
<rect x="418.50" y="301.25" width="10.20" height="10.20" fill="#EC5F66" stroke="none" stroke-width="0"/>
<rect x="316.10" y="314.40" width="10.20" height="10.20" fill="#EC5F66" stroke="none" stroke-width="0"/>
<rect x="319.63" y="315.91" width="10.20" height="10.20" fill="#EC5F66" stroke="none" stroke-width="0"/>
<rect x="323.16" y="316.75" width="10.20" height="10.20" fill="#EC5F66" stroke="none" stroke-width="0"/>
<rect x="326.69" y="317.72" width="10.20" height="10.20" fill="#EC5F66" stroke="none" stroke-width="0"/>
<rect x="330.22" y="317.85" width="10.20" height="10.20" fill="#EC5F66" stroke="none" stroke-width="0"/>
<rect x="333.76" y="320.67" width="10.20" height="10.20" fill="#EC5F66" stroke="none" stroke-width="0"/>
<rect x="337.29" y="319.97" width="10.20" height="10.20" fill="#EC5F66" stroke="none" stroke-width="0"/>
<rect x="340.82" y="322.81" width="10.20" height="10.20" fill="#EC5F66" stroke="none" stroke-width="0"/>
<rect x="344.35" y="323.67" width="10.20" height="10.20" fill="#EC5F66" stroke="none" stroke-width="0"/>
<rect x="347.88" y="322.43" width="10.20" height="10.20" fill="#EC5F66" stroke="none" stroke-width="0"/>
<rect x="351.41" y="324.46" width="10.20" height="10.20" fill="#EC5F66" stroke="none" stroke-width="0"/>
<rect x="354.94" y="326.29" width="10.20" height="10.20" fill="#EC5F66" stroke="none" stroke-width="0"/>
<rect x="358.47" y="327.61" width="10.20" height="10.20" fill="#EC5F66" stroke="none" stroke-width="0"/>
<rect x="362.00" y="327.33" width="10.20" height="10.20" fill="#EC5F66" stroke="none" stroke-width="0"/>
<rect x="365.53" y="327.86" width="10.20" height="10.20" fill="#EC5F66" stroke="none" stroke-width="0"/>
<rect x="369.07" y="327.72" width="10.20" height="10.20" fill="#EC5F66" stroke="none" stroke-width="0"/>
<rect x="372.60" y="328.52" width="10.20" height="10.20" fill="#EC5F66" stroke="none" stroke-width="0"/>
<rect x="376.13" y="325.79" width="10.20" height="10.20" fill="#EC5F66" stroke="none" stroke-width="0"/>
<rect x="379.66" y="325.72" width="10.20" height="10.20" fill="#EC5F66" stroke="none" stroke-width="0"/>
<rect x="383.19" y="323.70" width="10.20" height="10.20" fill="#EC5F66" stroke="none" stroke-width="0"/>
<rect x="386.72" y="323.65" width="10.20" height="10.20" fill="#EC5F66" stroke="none" stroke-width="0"/>
<rect x="390.25" y="323.71" width="10.20" height="10.20" fill="#EC5F66" stroke="none" stroke-width="0"/>
<rect x="393.78" y="320.78" width="10.20" height="10.20" fill="#EC5F66" stroke="none" stroke-width="0"/>
<rect x="397.31" y="321.46" width="10.20" height="10.20" fill="#EC5F66" stroke="none" stroke-width="0"/>
<rect x="400.84" y="319.75" width="10.20" height="10.20" fill="#EC5F66" stroke="none" stroke-width="0"/>
<rect x="404.38" y="319.69" width="10.20" height="10.20" fill="#EC5F66" stroke="none" stroke-width="0"/>
<rect x="407.91" y="318.28" width="10.20" height="10.20" fill="#EC5F66" stroke="none" stroke-width="0"/>
<rect x="411.44" y="316.19" width="10.20" height="10.20" fill="#EC5F66" stroke="none" stroke-width="0"/>
<rect x="414.97" y="316.82" width="10.20" height="10.20" fill="#EC5F66" stroke="none" stroke-width="0"/>
<rect x="418.50" y="314.87" width="10.20" height="10.20" fill="#EC5F66" stroke="none" stroke-width="0"/>
<rect x="316.10" y="314.95" width="10.20" height="10.20" fill="#EC5F66" stroke="none" stroke-width="0"/>
<rect x="327.48" y="318.02" width="10.20" height="10.20" fill="#EC5F66" stroke="none" stroke-width="0"/>
<rect x="338.86" y="322.11" width="10.20" height="10.20" fill="#EC5F66" stroke="none" stroke-width="0"/>
<rect x="350.23" y="325.13" width="10.20" height="10.20" fill="#EC5F66" stroke="none" stroke-width="0"/>
<rect x="361.61" y="327.95" width="10.20" height="10.20" fill="#EC5F66" stroke="none" stroke-width="0"/>
<rect x="372.99" y="327.63" width="10.20" height="10.20" fill="#EC5F66" stroke="none" stroke-width="0"/>
<rect x="384.37" y="324.92" width="10.20" height="10.20" fill="#EC5F66" stroke="none" stroke-width="0"/>
<rect x="395.74" y="321.75" width="10.20" height="10.20" fill="#EC5F66" stroke="none" stroke-width="0"/>
<rect x="407.12" y="319.69" width="10.20" height="10.20" fill="#EC5F66" stroke="none" stroke-width="0"/>
<rect x="418.50" y="314.90" width="10.20" height="10.20" fill="#EC5F66" stroke="none" stroke-width="0"/>
<rect x="316.10" y="331.00" width="10.20" height="10.20" fill="#EC5F66" stroke="none" stroke-width="0"/>
<rect x="319.89" y="332.25" width="10.20" height="10.20" fill="#EC5F66" stroke="none" stroke-width="0"/>
<rect x="323.69" y="331.56" width="10.20" height="10.20" fill="#EC5F66" stroke="none" stroke-width="0"/>
<rect x="327.48" y="334.53" width="10.20" height="10.20" fill="#EC5F66" stroke="none" stroke-width="0"/>
<rect x="331.27" y="335.06" width="10.20" height="10.20" fill="#EC5F66" stroke="none" stroke-width="0"/>
<rect x="335.06" y="336.55" width="10.20" height="10.20" fill="#EC5F66" stroke="none" stroke-width="0"/>
<rect x="338.86" y="336.12" width="10.20" height="10.20" fill="#EC5F66" stroke="none" stroke-width="0"/>
<rect x="342.65" y="337.35" width="10.20" height="10.20" fill="#EC5F66" stroke="none" stroke-width="0"/>
<rect x="346.44" y="338.44" width="10.20" height="10.20" fill="#EC5F66" stroke="none" stroke-width="0"/>
<rect x="350.23" y="340.93" width="10.20" height="10.20" fill="#EC5F66" stroke="none" stroke-width="0"/>
<rect x="354.03" y="340.98" width="10.20" height="10.20" fill="#EC5F66" stroke="none" stroke-width="0"/>
<rect x="357.82" y="341.47" width="10.20" height="10.20" fill="#EC5F66" stroke="none" stroke-width="0"/>
<rect x="361.61" y="342.67" width="10.20" height="10.20" fill="#EC5F66" stroke="none" stroke-width="0"/>
<rect x="365.40" y="343.34" width="10.20" height="10.20" fill="#EC5F66" stroke="none" stroke-width="0"/>
<rect x="369.20" y="342.80" width="10.20" height="10.20" fill="#EC5F66" stroke="none" stroke-width="0"/>
<rect x="372.99" y="341.89" width="10.20" height="10.20" fill="#EC5F66" stroke="none" stroke-width="0"/>
<rect x="376.78" y="342.61" width="10.20" height="10.20" fill="#EC5F66" stroke="none" stroke-width="0"/>
<rect x="380.57" y="340.26" width="10.20" height="10.20" fill="#EC5F66" stroke="none" stroke-width="0"/>
<rect x="384.37" y="340.78" width="10.20" height="10.20" fill="#EC5F66" stroke="none" stroke-width="0"/>
<rect x="388.16" y="338.09" width="10.20" height="10.20" fill="#EC5F66" stroke="none" stroke-width="0"/>
<rect x="391.95" y="337.10" width="10.20" height="10.20" fill="#EC5F66" stroke="none" stroke-width="0"/>
<rect x="395.74" y="336.65" width="10.20" height="10.20" fill="#EC5F66" stroke="none" stroke-width="0"/>
<rect x="399.54" y="334.84" width="10.20" height="10.20" fill="#EC5F66" stroke="none" stroke-width="0"/>
<rect x="403.33" y="334.24" width="10.20" height="10.20" fill="#EC5F66" stroke="none" stroke-width="0"/>
<rect x="407.12" y="334.61" width="10.20" height="10.20" fill="#EC5F66" stroke="none" stroke-width="0"/>
<rect x="410.91" y="333.40" width="10.20" height="10.20" fill="#EC5F66" stroke="none" stroke-width="0"/>
<rect x="414.71" y="332.19" width="10.20" height="10.20" fill="#EC5F66" stroke="none" stroke-width="0"/>
<rect x="418.50" y="330.71" width="10.20" height="10.20" fill="#EC5F66" stroke="none" stroke-width="0"/>
<rect x="316.10" y="332.23" width="10.20" height="10.20" fill="#EC5F66" stroke="none" stroke-width="0"/>
<rect x="328.90" y="335.78" width="10.20" height="10.20" fill="#EC5F66" stroke="none" stroke-width="0"/>
<rect x="341.70" y="338.50" width="10.20" height="10.20" fill="#EC5F66" stroke="none" stroke-width="0"/>
<rect x="354.50" y="342.34" width="10.20" height="10.20" fill="#EC5F66" stroke="none" stroke-width="0"/>
<rect x="367.30" y="344.50" width="10.20" height="10.20" fill="#EC5F66" stroke="none" stroke-width="0"/>
<rect x="380.10" y="342.36" width="10.20" height="10.20" fill="#EC5F66" stroke="none" stroke-width="0"/>
<rect x="392.90" y="338.30" width="10.20" height="10.20" fill="#EC5F66" stroke="none" stroke-width="0"/>
<rect x="405.70" y="335.41" width="10.20" height="10.20" fill="#EC5F66" stroke="none" stroke-width="0"/>
<rect x="418.50" y="331.69" width="10.20" height="10.20" fill="#EC5F66" stroke="none" stroke-width="0"/>
<rect x="316.30" y="346.10" width="10.20" height="10.20" fill="#EC5F66" stroke="none" stroke-width="0"/>
<rect x="333.00" y="346.40" width="10.20" height="10.20" fill="#EC5F66" stroke="none" stroke-width="0"/>
<rect x="350.00" y="348.90" width="10.20" height="10.20" fill="#EC5F66" stroke="none" stroke-width="0"/>
<rect x="367.20" y="359.60" width="10.20" height="10.20" fill="#EC5F66" stroke="none" stroke-width="0"/>
<rect x="384.00" y="356.80" width="10.20" height="10.20" fill="#EC5F66" stroke="none" stroke-width="0"/>
<rect x="401.40" y="346.40" width="10.20" height="10.20" fill="#EC5F66" stroke="none" stroke-width="0"/>
<rect x="418.20" y="346.40" width="10.20" height="10.20" fill="#EC5F66" stroke="none" stroke-width="0"/>
<rect x="149.40" y="297.90" width="110.00" height="34.20" fill="none" stroke="#111" stroke-width="1.5"/>
<line x1="149.40" y1="316.40" x2="259.40" y2="316.40" stroke="#111" stroke-width="1.5" />
<line x1="204.50" y1="158.90" x2="204.50" y2="297.90" stroke="#000" stroke-width="1.3" />
<line x1="204.50" y1="332.10" x2="204.50" y2="364.20" stroke="#000" stroke-width="1.3" />
<line x1="176.50" y1="158.90" x2="232.80" y2="158.90" stroke="#222" stroke-width="1.4" />
<line x1="176.50" y1="364.20" x2="232.80" y2="364.20" stroke="#222" stroke-width="1.4" />
<line x1="193.40" y1="312.40" x2="215.70" y2="312.40" stroke="#111" stroke-width="1.4" />
<line x1="204.50" y1="301.40" x2="204.50" y2="323.40" stroke="#000" stroke-width="1.3" />
<rect x="317.30" y="291.50" width="110.30" height="32.80" fill="none" stroke="#111" stroke-width="1.5"/>
<line x1="317.30" y1="308.40" x2="427.60" y2="308.40" stroke="#111" stroke-width="1.5" />
<line x1="372.40" y1="103.70" x2="372.40" y2="291.50" stroke="#000" stroke-width="1.3" />
<line x1="372.40" y1="324.30" x2="372.40" y2="364.40" stroke="#000" stroke-width="1.3" />
<line x1="344.20" y1="103.70" x2="400.40" y2="103.70" stroke="#222" stroke-width="1.4" />
<line x1="344.20" y1="364.40" x2="400.40" y2="364.40" stroke="#222" stroke-width="1.4" />
<line x1="361.30" y1="302.70" x2="383.60" y2="302.70" stroke="#111" stroke-width="1.4" />
<line x1="372.40" y1="291.70" x2="372.40" y2="313.70" stroke="#000" stroke-width="1.3" />
<g transform="matrix(0.3060,0,0,0.3356,566.76,24.40)"><text x="0" y="0" font-size="100" font-weight="bold" stroke="#000" stroke-width="2.5" style="font-family:'Liberation Sans'">b</text></g>
<line x1="682.50" y1="43.50" x2="682.50" y2="381.20" stroke="#111" stroke-width="1.2" />
<line x1="671.00" y1="381.20" x2="1018.50" y2="381.20" stroke="#111" stroke-width="1.2" />
<line x1="671.50" y1="43.50" x2="682.50" y2="43.50" stroke="#111" stroke-width="1.2" />
<text x="658.20" y="52.60" font-size="27.5" text-anchor="end" font-weight="normal" font-style="normal">45</text>
<line x1="671.50" y1="156.00" x2="682.50" y2="156.00" stroke="#111" stroke-width="1.2" />
<text x="658.20" y="165.10" font-size="27.5" text-anchor="end" font-weight="normal" font-style="normal">30</text>
<line x1="671.50" y1="268.50" x2="682.50" y2="268.50" stroke="#111" stroke-width="1.2" />
<text x="658.20" y="277.60" font-size="27.5" text-anchor="end" font-weight="normal" font-style="normal">15</text>
<line x1="671.50" y1="381.20" x2="682.50" y2="381.20" stroke="#111" stroke-width="1.2" />
<text x="658.20" y="390.30" font-size="27.5" text-anchor="end" font-weight="normal" font-style="normal">0</text>
<line x1="712.00" y1="381.20" x2="712.00" y2="392.20" stroke="#111" stroke-width="1.2" />
<text x="712.00" y="425.00" font-size="27.5" text-anchor="middle" font-weight="normal" font-style="normal">35</text>
<line x1="804.50" y1="381.20" x2="804.50" y2="392.20" stroke="#111" stroke-width="1.2" />
<text x="804.50" y="425.00" font-size="27.5" text-anchor="middle" font-weight="normal" font-style="normal">38</text>
<line x1="896.50" y1="381.20" x2="896.50" y2="392.20" stroke="#111" stroke-width="1.2" />
<text x="896.50" y="425.00" font-size="27.5" text-anchor="middle" font-weight="normal" font-style="normal">41</text>
<line x1="988.50" y1="381.20" x2="988.50" y2="392.20" stroke="#111" stroke-width="1.2" />
<text x="988.50" y="425.00" font-size="27.5" text-anchor="middle" font-weight="normal" font-style="normal">44</text>
<text x="851.30" y="466.30" font-size="27.2" text-anchor="middle" font-weight="normal" font-style="normal">Gray matter volume (% ICV)</text>
<text x="591.00" y="210.00" font-size="26.8" text-anchor="middle" font-weight="normal" font-style="normal" transform="rotate(-90 591.00 210.00)">Plasma sST2 (ng ml<tspan dy="-12.5" font-size="18">−1</tspan><tspan dy="12.5">)</tspan></text>
<text x="687.50" y="61.50" font-size="27.2" text-anchor="start" font-weight="normal" font-style="normal"><tspan font-family="Liberation Serif" font-style="italic">β</tspan> = –0.6946; FDR = 0.0026</text>
<g transform="matrix(0.2673,0,0,0.3055,2.43,501.79)"><text x="0" y="0" font-size="100" font-weight="bold" stroke="#000" stroke-width="2.5" style="font-family:'Liberation Sans'">c</text></g>
<line x1="119.50" y1="521.00" x2="119.50" y2="857.50" stroke="#111" stroke-width="1.2" />
<line x1="108.00" y1="857.50" x2="456.00" y2="857.50" stroke="#111" stroke-width="1.2" />
<line x1="108.50" y1="521.00" x2="119.50" y2="521.00" stroke="#111" stroke-width="1.2" />
<text x="95.50" y="529.60" font-size="27.5" text-anchor="end" font-weight="normal" font-style="normal">45</text>
<line x1="108.50" y1="633.50" x2="119.50" y2="633.50" stroke="#111" stroke-width="1.2" />
<text x="95.50" y="642.10" font-size="27.5" text-anchor="end" font-weight="normal" font-style="normal">30</text>
<line x1="108.50" y1="745.50" x2="119.50" y2="745.50" stroke="#111" stroke-width="1.2" />
<text x="95.50" y="754.10" font-size="27.5" text-anchor="end" font-weight="normal" font-style="normal">15</text>
<line x1="108.50" y1="857.50" x2="119.50" y2="857.50" stroke="#111" stroke-width="1.2" />
<text x="95.50" y="866.10" font-size="27.5" text-anchor="end" font-weight="normal" font-style="normal">0</text>
<line x1="119.50" y1="857.50" x2="119.50" y2="868.50" stroke="#111" stroke-width="1.2" />
<text x="119.50" y="901.00" font-size="27.5" text-anchor="middle" font-weight="normal" font-style="normal">0</text>
<line x1="203.60" y1="857.50" x2="203.60" y2="868.50" stroke="#111" stroke-width="1.2" />
<text x="203.60" y="901.00" font-size="27.5" text-anchor="middle" font-weight="normal" font-style="normal">5</text>
<line x1="288.00" y1="857.50" x2="288.00" y2="868.50" stroke="#111" stroke-width="1.2" />
<text x="288.00" y="901.00" font-size="27.5" text-anchor="middle" font-weight="normal" font-style="normal">10</text>
<line x1="372.00" y1="857.50" x2="372.00" y2="868.50" stroke="#111" stroke-width="1.2" />
<text x="372.00" y="901.00" font-size="27.5" text-anchor="middle" font-weight="normal" font-style="normal">15</text>
<line x1="456.00" y1="857.50" x2="456.00" y2="868.50" stroke="#111" stroke-width="1.2" />
<text x="456.00" y="901.00" font-size="27.5" text-anchor="middle" font-weight="normal" font-style="normal">20</text>
<text x="288.00" y="943.50" font-size="27.2" text-anchor="middle" font-weight="normal" font-style="normal">Plasma P-tau181 (pg ml<tspan dy="-12.5" font-size="18">−1</tspan><tspan dy="12.5">)</tspan></text>
<text x="25.50" y="686.50" font-size="26.8" text-anchor="middle" font-weight="normal" font-style="normal" transform="rotate(-90 25.50 686.50)">Plasma sST2 (ng ml<tspan dy="-12.5" font-size="18">−1</tspan><tspan dy="12.5">)</tspan></text>
<text x="132.50" y="539.00" font-size="27.2" text-anchor="start" font-weight="normal" font-style="normal"><tspan font-family="Liberation Serif" font-style="italic">β</tspan> = 0.4127; FDR = 0.0053</text>
<g transform="matrix(0.3140,0,0,0.3356,566.84,502.50)"><text x="0" y="0" font-size="100" font-weight="bold" stroke="#000" stroke-width="2.5" style="font-family:'Liberation Sans'">d</text></g>
<line x1="682.50" y1="521.00" x2="682.50" y2="857.50" stroke="#111" stroke-width="1.2" />
<line x1="671.00" y1="857.50" x2="1019.00" y2="857.50" stroke="#111" stroke-width="1.2" />
<line x1="671.50" y1="521.00" x2="682.50" y2="521.00" stroke="#111" stroke-width="1.2" />
<text x="658.20" y="530.20" font-size="27.5" text-anchor="end" font-weight="normal" font-style="normal">45</text>
<line x1="671.50" y1="633.50" x2="682.50" y2="633.50" stroke="#111" stroke-width="1.2" />
<text x="658.20" y="642.70" font-size="27.5" text-anchor="end" font-weight="normal" font-style="normal">30</text>
<line x1="671.50" y1="745.50" x2="682.50" y2="745.50" stroke="#111" stroke-width="1.2" />
<text x="658.20" y="754.70" font-size="27.5" text-anchor="end" font-weight="normal" font-style="normal">15</text>
<line x1="671.50" y1="857.50" x2="682.50" y2="857.50" stroke="#111" stroke-width="1.2" />
<text x="658.20" y="866.70" font-size="27.5" text-anchor="end" font-weight="normal" font-style="normal">0</text>
<line x1="682.50" y1="857.50" x2="682.50" y2="868.50" stroke="#111" stroke-width="1.2" />
<text x="682.50" y="901.00" font-size="27.5" text-anchor="middle" font-weight="normal" font-style="normal">0</text>
<line x1="767.00" y1="857.50" x2="767.00" y2="868.50" stroke="#111" stroke-width="1.2" />
<text x="767.00" y="901.00" font-size="27.5" text-anchor="middle" font-weight="normal" font-style="normal">20</text>
<line x1="851.00" y1="857.50" x2="851.00" y2="868.50" stroke="#111" stroke-width="1.2" />
<text x="851.00" y="901.00" font-size="27.5" text-anchor="middle" font-weight="normal" font-style="normal">40</text>
<line x1="935.00" y1="857.50" x2="935.00" y2="868.50" stroke="#111" stroke-width="1.2" />
<text x="935.00" y="901.00" font-size="27.5" text-anchor="middle" font-weight="normal" font-style="normal">60</text>
<line x1="1019.00" y1="857.50" x2="1019.00" y2="868.50" stroke="#111" stroke-width="1.2" />
<text x="1019.00" y="901.00" font-size="27.5" text-anchor="middle" font-weight="normal" font-style="normal">80</text>
<text x="851.00" y="943.50" font-size="27.2" text-anchor="middle" font-weight="normal" font-style="normal">Plasma NfL (pg ml<tspan dy="-12.5" font-size="18">−1</tspan><tspan dy="12.5">)</tspan></text>
<text x="591.00" y="686.50" font-size="26.8" text-anchor="middle" font-weight="normal" font-style="normal" transform="rotate(-90 591.00 686.50)">Plasma sST2 (ng ml<tspan dy="-12.5" font-size="18">−1</tspan><tspan dy="12.5">)</tspan></text>
<text x="694.50" y="539.00" font-size="27.2" text-anchor="start" font-weight="normal" font-style="normal"><tspan font-family="Liberation Serif" font-style="italic">β</tspan> = 0.1065; FDR = 0.0045</text>
<g transform="matrix(0.3062,0,0,0.3127,9.08,990.09)"><text x="0" y="0" font-size="100" font-weight="bold" stroke="#000" stroke-width="2.5" style="font-family:'Liberation Sans'">e</text></g>
<line x1="121.50" y1="1009.00" x2="121.50" y2="1346.50" stroke="#111" stroke-width="1.2" />
<line x1="121.50" y1="1346.50" x2="458.00" y2="1346.50" stroke="#111" stroke-width="1.2" />
<line x1="110.50" y1="1065.50" x2="121.50" y2="1065.50" stroke="#111" stroke-width="1.2" />
<text x="96.80" y="1073.00" font-size="27.5" text-anchor="end" font-weight="normal" font-style="normal">9</text>
<line x1="110.50" y1="1177.50" x2="121.50" y2="1177.50" stroke="#111" stroke-width="1.2" />
<text x="96.80" y="1185.00" font-size="27.5" text-anchor="end" font-weight="normal" font-style="normal">6</text>
<line x1="110.50" y1="1290.00" x2="121.50" y2="1290.00" stroke="#111" stroke-width="1.2" />
<text x="96.80" y="1297.50" font-size="27.5" text-anchor="end" font-weight="normal" font-style="normal">3</text>
<line x1="121.50" y1="1346.50" x2="121.50" y2="1357.50" stroke="#111" stroke-width="1.2" />
<text x="121.50" y="1389.00" font-size="27.5" text-anchor="middle" font-weight="normal" font-style="normal">0</text>
<line x1="214.00" y1="1346.50" x2="214.00" y2="1357.50" stroke="#111" stroke-width="1.2" />
<text x="214.00" y="1389.00" font-size="27.5" text-anchor="middle" font-weight="normal" font-style="normal">25</text>
<line x1="307.00" y1="1346.50" x2="307.00" y2="1357.50" stroke="#111" stroke-width="1.2" />
<text x="307.00" y="1389.00" font-size="27.5" text-anchor="middle" font-weight="normal" font-style="normal">50</text>
<line x1="400.00" y1="1346.50" x2="400.00" y2="1357.50" stroke="#111" stroke-width="1.2" />
<text x="400.00" y="1389.00" font-size="27.5" text-anchor="middle" font-weight="normal" font-style="normal">75</text>
<text x="290.00" y="1436.50" font-size="27.2" text-anchor="middle" font-weight="normal" font-style="normal">Relative plasma sST2 (2<tspan dy="-12.5" font-size="18">NPX</tspan><tspan dy="12.5">)</tspan></text>
<text x="46.00" y="1175.50" font-size="26.8" text-anchor="middle" font-weight="normal" font-style="normal" transform="rotate(-90 46.00 1175.50)">Relative CSF sST2 (2<tspan dy="-12.5" font-size="18">NPX</tspan><tspan dy="12.5">)</tspan></text>
<text x="150.00" y="1027.50" font-size="27.2" text-anchor="start" font-weight="normal" font-style="normal"><tspan font-style="italic">r</tspan><tspan dy="-10.5" font-size="19">2</tspan><tspan dy="10.5"> = 0.1296; </tspan><tspan font-style="italic">P</tspan> &lt; 0.0001</text>
<g transform="matrix(0.3484,0,0,0.3260,570.70,990.40)"><text x="0" y="0" font-size="100" font-weight="bold" stroke="#000" stroke-width="2.5" style="font-family:'Liberation Sans'">f</text></g>
<line x1="684.00" y1="1009.70" x2="684.00" y2="1344.50" stroke="#111" stroke-width="1.2" />
<line x1="672.00" y1="1344.50" x2="1019.50" y2="1344.50" stroke="#111" stroke-width="1.2" />
<line x1="673.00" y1="1009.70" x2="684.00" y2="1009.70" stroke="#111" stroke-width="1.2" />
<text x="660.40" y="1018.60" font-size="27.5" text-anchor="end" font-weight="normal" font-style="normal">30</text>
<line x1="673.00" y1="1121.10" x2="684.00" y2="1121.10" stroke="#111" stroke-width="1.2" />
<text x="660.40" y="1130.00" font-size="27.5" text-anchor="end" font-weight="normal" font-style="normal">20</text>
<line x1="673.00" y1="1232.50" x2="684.00" y2="1232.50" stroke="#111" stroke-width="1.2" />
<text x="660.40" y="1241.40" font-size="27.5" text-anchor="end" font-weight="normal" font-style="normal">10</text>
<line x1="673.00" y1="1344.50" x2="684.00" y2="1344.50" stroke="#111" stroke-width="1.2" />
<text x="660.40" y="1353.40" font-size="27.5" text-anchor="end" font-weight="normal" font-style="normal">0</text>
<line x1="768.20" y1="1344.50" x2="768.20" y2="1355.50" stroke="#111" stroke-width="1.2" />
<text x="768.20" y="1387.50" font-size="27.5" text-anchor="middle" font-weight="normal" font-style="normal">HC</text>
<line x1="936.30" y1="1344.50" x2="936.30" y2="1355.50" stroke="#111" stroke-width="1.2" />
<text x="936.30" y="1387.50" font-size="27.5" text-anchor="middle" font-weight="normal" font-style="normal">AD</text>
<text x="590.50" y="1175.40" font-size="26.8" text-anchor="middle" font-weight="normal" font-style="normal" transform="rotate(-90 590.50 1175.40)">CSF sST2 (ng ml<tspan dy="-12.5" font-size="18">−1</tspan><tspan dy="12.5">)</tspan></text>
<path d="M765.9,1015.5 L765.9,1008.3 L934.7,1008.3 L934.7,1015.5" fill="none" stroke="#111" stroke-width="1.8"/>
<path d="M838.10,994.00 L838.10,988.40 M838.10,994.00 L843.48,992.46 M838.10,994.00 L841.39,998.53 M838.10,994.00 L834.81,998.53 M838.10,994.00 L832.72,992.46 " stroke="#000" stroke-width="2.0" stroke-linecap="butt" fill="none"/>
<path d="M851.90,994.00 L851.90,988.40 M851.90,994.00 L857.28,992.46 M851.90,994.00 L855.19,998.53 M851.90,994.00 L848.61,998.53 M851.90,994.00 L846.52,992.46 " stroke="#000" stroke-width="2.0" stroke-linecap="butt" fill="none"/>
<g transform="matrix(0.3696,0,0,0.3096,1.79,1483.10)"><text x="0" y="0" font-size="100" font-weight="bold" stroke="#000" stroke-width="2.5" style="font-family:'Liberation Serif'">g</text></g>
<text x="299.50" y="1507.50" font-size="27.2" text-anchor="middle" font-weight="normal" font-style="normal">A<tspan font-family="Liberation Serif">β</tspan> plaque load</text>
<line x1="63.50" y1="1547.50" x2="63.50" y2="1870.00" stroke="#111" stroke-width="1.5" />
<text x="26.30" y="1709.20" font-size="27.5" text-anchor="middle" font-weight="normal" font-style="normal" transform="rotate(-90 26.30 1709.20)">CSF sST2</text>
<text x="105.30" y="1611.50" font-size="27.9" text-anchor="middle" font-weight="normal" font-style="normal" transform="rotate(-90 105.30 1611.50)">Low</text>
<text x="105.30" y="1803.30" font-size="28" text-anchor="middle" font-weight="normal" font-style="normal" transform="rotate(-90 105.30 1803.30)">High</text>
<rect x="418.00" y="1904.00" width="55.00" height="8.00" fill="#000" stroke="none" stroke-width="0"/>
<g transform="matrix(0.3083,0,0,0.3288,565.04,1488.10)"><text x="0" y="0" font-size="100" font-weight="bold" stroke="#000" stroke-width="2.5" style="font-family:'Liberation Sans'">h</text></g>
<text x="712.00" y="1505.00" font-size="27.2" text-anchor="middle" font-weight="normal" font-style="normal">Low</text>
<text x="880.50" y="1505.00" font-size="27.2" text-anchor="middle" font-weight="normal" font-style="normal">High</text>
<rect x="682.50" y="1516.00" width="58.50" height="10.50" fill="#4A90E2" stroke="#111" stroke-width="1.2"/>
<rect x="741.00" y="1516.00" width="278.50" height="10.50" fill="#EE6B6E" stroke="#111" stroke-width="1.2"/>
<line x1="671.50" y1="1573.50" x2="682.50" y2="1573.50" stroke="#111" stroke-width="1.2" />
<text x="660.40" y="1582.60" font-size="27.5" text-anchor="end" font-weight="normal" font-style="normal">15</text>
<line x1="671.50" y1="1667.50" x2="682.50" y2="1667.50" stroke="#111" stroke-width="1.2" />
<text x="660.40" y="1676.60" font-size="27.5" text-anchor="end" font-weight="normal" font-style="normal">10</text>
<line x1="671.50" y1="1761.00" x2="682.50" y2="1761.00" stroke="#111" stroke-width="1.2" />
<text x="660.40" y="1770.10" font-size="27.5" text-anchor="end" font-weight="normal" font-style="normal">5</text>
<line x1="671.50" y1="1854.00" x2="682.50" y2="1854.00" stroke="#111" stroke-width="1.2" />
<text x="660.40" y="1863.10" font-size="27.5" text-anchor="end" font-weight="normal" font-style="normal">0</text>
<line x1="704.00" y1="1854.00" x2="704.00" y2="1863.00" stroke="#111" stroke-width="1.2" />
<text x="704.00" y="1895.00" font-size="27.5" text-anchor="middle" font-weight="normal" font-style="normal">0</text>
<line x1="809.00" y1="1854.00" x2="809.00" y2="1863.00" stroke="#111" stroke-width="1.2" />
<text x="809.00" y="1895.00" font-size="27.5" text-anchor="middle" font-weight="normal" font-style="normal">10</text>
<line x1="914.50" y1="1854.00" x2="914.50" y2="1863.00" stroke="#111" stroke-width="1.2" />
<text x="914.50" y="1895.00" font-size="27.5" text-anchor="middle" font-weight="normal" font-style="normal">20</text>
<line x1="1019.50" y1="1854.00" x2="1019.50" y2="1863.00" stroke="#111" stroke-width="1.2" />
<text x="1019.50" y="1895.00" font-size="27.5" text-anchor="middle" font-weight="normal" font-style="normal">30</text>
<text x="852.00" y="1935.00" font-size="27.2" text-anchor="middle" font-weight="normal" font-style="normal">CSF sST2 (ng ml<tspan dy="-12.5" font-size="18">−1</tspan><tspan dy="12.5">)</tspan></text>
<text x="594.00" y="1685.80" font-size="26.8" text-anchor="middle" font-weight="normal" font-style="normal" transform="rotate(-90 594.00 1685.80)">A<tspan font-family="Liberation Serif">β</tspan> plaque load (% area)</text>
<text x="695.50" y="1552.50" font-size="27.2" text-anchor="start" font-weight="normal" font-style="normal"><tspan font-family="Liberation Serif" font-style="italic">β</tspan> = 0.1913; FDR = 0.0308</text>
<path d="M706.80,239.33 L711.41,240.59 L716.02,241.84 L720.63,243.10 L725.24,244.35 L729.85,245.60 L734.46,246.85 L739.07,248.10 L743.68,249.35 L748.29,250.59 L752.90,251.83 L757.51,253.07 L762.12,254.30 L766.73,255.53 L771.34,256.75 L775.95,257.97 L780.56,259.19 L785.17,260.39 L789.78,261.60 L794.39,262.79 L799.00,263.98 L803.61,265.16 L808.22,266.32 L812.83,267.48 L817.44,268.62 L822.05,269.75 L826.66,270.86 L831.27,271.95 L835.88,273.02 L840.49,274.07 L845.10,275.09 L849.71,276.08 L854.32,277.05 L858.93,277.97 L863.54,278.86 L868.15,279.71 L872.76,280.53 L877.37,281.30 L881.98,282.03 L886.59,282.72 L891.20,283.38 L895.81,284.00 L900.42,284.58 L905.03,285.14 L909.64,285.67 L914.25,286.17 L918.86,286.65 L923.47,287.11 L928.08,287.56 L932.69,287.99 L937.30,288.40 L941.91,288.80 L946.52,289.19 L951.13,289.58 L955.74,289.95 L960.35,290.31 L964.96,290.67 L969.57,291.02 L974.18,291.37 L978.79,291.71 L983.40,292.05 L983.40,319.17 L978.79,317.95 L974.18,316.73 L969.57,315.51 L964.96,314.30 L960.35,313.09 L955.74,311.89 L951.13,310.70 L946.52,309.52 L941.91,308.35 L937.30,307.19 L932.69,306.04 L928.08,304.90 L923.47,303.78 L918.86,302.68 L914.25,301.60 L909.64,300.54 L905.03,299.50 L900.42,298.49 L895.81,297.52 L891.20,296.57 L886.59,295.66 L881.98,294.79 L877.37,293.96 L872.76,293.17 L868.15,292.42 L863.54,291.70 L858.93,291.03 L854.32,290.39 L849.71,289.79 L845.10,289.22 L840.49,288.68 L835.88,288.16 L831.27,287.67 L826.66,287.20 L822.05,286.75 L817.44,286.31 L812.83,285.89 L808.22,285.48 L803.61,285.08 L799.00,284.70 L794.39,284.32 L789.78,283.95 L785.17,283.59 L780.56,283.23 L775.95,282.88 L771.34,282.54 L766.73,282.20 L762.12,281.87 L757.51,281.54 L752.90,281.21 L748.29,280.88 L743.68,280.56 L739.07,280.24 L734.46,279.93 L729.85,279.61 L725.24,279.30 L720.63,278.99 L716.02,278.68 L711.41,278.38 L706.80,278.07Z" fill="#CCCCCC"/>
<line x1="706.80" y1="258.70" x2="983.40" y2="305.60" stroke="#F20000" stroke-width="5.2" />
<circle cx="882.91" cy="290.68" r="4.75" fill="#B3B3B3" stroke="#000" stroke-width="1.25"/>
<circle cx="859.69" cy="301.78" r="4.75" fill="#B3B3B3" stroke="#000" stroke-width="1.25"/>
<circle cx="889.63" cy="291.97" r="4.75" fill="#B3B3B3" stroke="#000" stroke-width="1.25"/>
<circle cx="867.04" cy="299.27" r="4.75" fill="#B3B3B3" stroke="#000" stroke-width="1.25"/>
<circle cx="856.96" cy="290.67" r="4.75" fill="#B3B3B3" stroke="#000" stroke-width="1.25"/>
<circle cx="856.25" cy="277.78" r="4.75" fill="#B3B3B3" stroke="#000" stroke-width="1.25"/>
<circle cx="886.29" cy="291.40" r="4.75" fill="#B3B3B3" stroke="#000" stroke-width="1.25"/>
<circle cx="872.58" cy="303.16" r="4.75" fill="#B3B3B3" stroke="#000" stroke-width="1.25"/>
<circle cx="881.71" cy="283.20" r="4.75" fill="#B3B3B3" stroke="#000" stroke-width="1.25"/>
<circle cx="877.51" cy="303.17" r="4.75" fill="#B3B3B3" stroke="#000" stroke-width="1.25"/>
<circle cx="871.94" cy="275.42" r="4.75" fill="#B3B3B3" stroke="#000" stroke-width="1.25"/>
<circle cx="894.65" cy="277.07" r="4.75" fill="#B3B3B3" stroke="#000" stroke-width="1.25"/>
<circle cx="863.39" cy="275.58" r="4.75" fill="#B3B3B3" stroke="#000" stroke-width="1.25"/>
<circle cx="870.56" cy="277.54" r="4.75" fill="#B3B3B3" stroke="#000" stroke-width="1.25"/>
<circle cx="877.69" cy="293.86" r="4.75" fill="#B3B3B3" stroke="#000" stroke-width="1.25"/>
<circle cx="889.66" cy="299.73" r="4.75" fill="#B3B3B3" stroke="#000" stroke-width="1.25"/>
<circle cx="865.85" cy="280.43" r="4.75" fill="#B3B3B3" stroke="#000" stroke-width="1.25"/>
<circle cx="879.52" cy="307.48" r="4.75" fill="#B3B3B3" stroke="#000" stroke-width="1.25"/>
<circle cx="867.65" cy="285.36" r="4.75" fill="#B3B3B3" stroke="#000" stroke-width="1.25"/>
<circle cx="900.85" cy="299.46" r="4.75" fill="#B3B3B3" stroke="#000" stroke-width="1.25"/>
<circle cx="873.42" cy="311.79" r="4.75" fill="#B3B3B3" stroke="#000" stroke-width="1.25"/>
<circle cx="899.89" cy="296.33" r="4.75" fill="#B3B3B3" stroke="#000" stroke-width="1.25"/>
<circle cx="897.32" cy="289.10" r="4.75" fill="#B3B3B3" stroke="#000" stroke-width="1.25"/>
<circle cx="882.38" cy="292.78" r="4.75" fill="#B3B3B3" stroke="#000" stroke-width="1.25"/>
<circle cx="781.30" cy="150.80" r="4.75" fill="#B3B3B3" stroke="#000" stroke-width="1.25"/>
<circle cx="780.90" cy="179.10" r="4.75" fill="#B3B3B3" stroke="#000" stroke-width="1.25"/>
<circle cx="793.10" cy="183.70" r="4.75" fill="#B3B3B3" stroke="#000" stroke-width="1.25"/>
<circle cx="829.40" cy="195.80" r="4.75" fill="#B3B3B3" stroke="#000" stroke-width="1.25"/>
<circle cx="841.80" cy="203.70" r="4.75" fill="#B3B3B3" stroke="#000" stroke-width="1.25"/>
<circle cx="854.90" cy="211.10" r="4.75" fill="#B3B3B3" stroke="#000" stroke-width="1.25"/>
<circle cx="752.50" cy="211.10" r="4.75" fill="#B3B3B3" stroke="#000" stroke-width="1.25"/>
<circle cx="774.20" cy="214.70" r="4.75" fill="#B3B3B3" stroke="#000" stroke-width="1.25"/>
<circle cx="806.70" cy="223.40" r="4.75" fill="#B3B3B3" stroke="#000" stroke-width="1.25"/>
<circle cx="844.90" cy="225.10" r="4.75" fill="#B3B3B3" stroke="#000" stroke-width="1.25"/>
<circle cx="852.00" cy="223.40" r="4.75" fill="#B3B3B3" stroke="#000" stroke-width="1.25"/>
<circle cx="814.50" cy="235.00" r="4.75" fill="#B3B3B3" stroke="#000" stroke-width="1.25"/>
<circle cx="829.40" cy="239.10" r="4.75" fill="#B3B3B3" stroke="#000" stroke-width="1.25"/>
<circle cx="844.90" cy="235.00" r="4.75" fill="#B3B3B3" stroke="#000" stroke-width="1.25"/>
<circle cx="839.60" cy="245.60" r="4.75" fill="#B3B3B3" stroke="#000" stroke-width="1.25"/>
<circle cx="857.40" cy="246.10" r="4.75" fill="#B3B3B3" stroke="#000" stroke-width="1.25"/>
<circle cx="776.60" cy="250.70" r="4.75" fill="#B3B3B3" stroke="#000" stroke-width="1.25"/>
<circle cx="861.50" cy="132.20" r="4.75" fill="#B3B3B3" stroke="#000" stroke-width="1.25"/>
<circle cx="891.40" cy="128.10" r="4.75" fill="#B3B3B3" stroke="#000" stroke-width="1.25"/>
<circle cx="947.50" cy="170.00" r="4.75" fill="#B3B3B3" stroke="#000" stroke-width="1.25"/>
<circle cx="872.90" cy="210.00" r="4.75" fill="#B3B3B3" stroke="#000" stroke-width="1.25"/>
<circle cx="909.20" cy="210.60" r="4.75" fill="#B3B3B3" stroke="#000" stroke-width="1.25"/>
<circle cx="919.90" cy="213.90" r="4.75" fill="#B3B3B3" stroke="#000" stroke-width="1.25"/>
<circle cx="923.20" cy="214.40" r="4.75" fill="#B3B3B3" stroke="#000" stroke-width="1.25"/>
<circle cx="879.60" cy="221.00" r="4.75" fill="#B3B3B3" stroke="#000" stroke-width="1.25"/>
<circle cx="891.10" cy="218.50" r="4.75" fill="#B3B3B3" stroke="#000" stroke-width="1.25"/>
<circle cx="881.60" cy="228.90" r="4.75" fill="#B3B3B3" stroke="#000" stroke-width="1.25"/>
<circle cx="893.60" cy="230.00" r="4.75" fill="#B3B3B3" stroke="#000" stroke-width="1.25"/>
<circle cx="870.10" cy="248.10" r="4.75" fill="#B3B3B3" stroke="#000" stroke-width="1.25"/>
<circle cx="885.40" cy="249.80" r="4.75" fill="#B3B3B3" stroke="#000" stroke-width="1.25"/>
<circle cx="900.10" cy="248.10" r="4.75" fill="#B3B3B3" stroke="#000" stroke-width="1.25"/>
<circle cx="906.70" cy="247.30" r="4.75" fill="#B3B3B3" stroke="#000" stroke-width="1.25"/>
<circle cx="754.50" cy="262.70" r="4.75" fill="#B3B3B3" stroke="#000" stroke-width="1.25"/>
<circle cx="819.10" cy="262.20" r="4.75" fill="#B3B3B3" stroke="#000" stroke-width="1.25"/>
<circle cx="851.10" cy="256.40" r="4.75" fill="#B3B3B3" stroke="#000" stroke-width="1.25"/>
<circle cx="855.20" cy="259.70" r="4.75" fill="#B3B3B3" stroke="#000" stroke-width="1.25"/>
<circle cx="847.80" cy="268.00" r="4.75" fill="#B3B3B3" stroke="#000" stroke-width="1.25"/>
<circle cx="852.00" cy="270.40" r="4.75" fill="#B3B3B3" stroke="#000" stroke-width="1.25"/>
<circle cx="771.40" cy="272.40" r="4.75" fill="#B3B3B3" stroke="#000" stroke-width="1.25"/>
<circle cx="763.20" cy="281.90" r="4.75" fill="#B3B3B3" stroke="#000" stroke-width="1.25"/>
<circle cx="778.80" cy="283.10" r="4.75" fill="#B3B3B3" stroke="#000" stroke-width="1.25"/>
<circle cx="769.70" cy="288.80" r="4.75" fill="#B3B3B3" stroke="#000" stroke-width="1.25"/>
<circle cx="779.00" cy="288.80" r="4.75" fill="#B3B3B3" stroke="#000" stroke-width="1.25"/>
<circle cx="788.70" cy="279.00" r="4.75" fill="#B3B3B3" stroke="#000" stroke-width="1.25"/>
<circle cx="797.20" cy="279.00" r="4.75" fill="#B3B3B3" stroke="#000" stroke-width="1.25"/>
<circle cx="803.40" cy="279.50" r="4.75" fill="#B3B3B3" stroke="#000" stroke-width="1.25"/>
<circle cx="814.50" cy="279.00" r="4.75" fill="#B3B3B3" stroke="#000" stroke-width="1.25"/>
<circle cx="829.80" cy="275.80" r="4.75" fill="#B3B3B3" stroke="#000" stroke-width="1.25"/>
<circle cx="835.50" cy="280.30" r="4.75" fill="#B3B3B3" stroke="#000" stroke-width="1.25"/>
<circle cx="828.90" cy="282.40" r="4.75" fill="#B3B3B3" stroke="#000" stroke-width="1.25"/>
<circle cx="706.90" cy="290.50" r="4.75" fill="#B3B3B3" stroke="#000" stroke-width="1.25"/>
<circle cx="792.80" cy="290.50" r="4.75" fill="#B3B3B3" stroke="#000" stroke-width="1.25"/>
<circle cx="792.80" cy="295.10" r="4.75" fill="#B3B3B3" stroke="#000" stroke-width="1.25"/>
<circle cx="802.60" cy="294.80" r="4.75" fill="#B3B3B3" stroke="#000" stroke-width="1.25"/>
<circle cx="824.50" cy="293.40" r="4.75" fill="#B3B3B3" stroke="#000" stroke-width="1.25"/>
<circle cx="833.50" cy="290.50" r="4.75" fill="#B3B3B3" stroke="#000" stroke-width="1.25"/>
<circle cx="838.80" cy="298.40" r="4.75" fill="#B3B3B3" stroke="#000" stroke-width="1.25"/>
<circle cx="831.40" cy="302.20" r="4.75" fill="#B3B3B3" stroke="#000" stroke-width="1.25"/>
<circle cx="858.50" cy="287.70" r="4.75" fill="#B3B3B3" stroke="#000" stroke-width="1.25"/>
<circle cx="855.20" cy="296.70" r="4.75" fill="#B3B3B3" stroke="#000" stroke-width="1.25"/>
<circle cx="852.00" cy="304.10" r="4.75" fill="#B3B3B3" stroke="#000" stroke-width="1.25"/>
<circle cx="856.00" cy="301.70" r="4.75" fill="#B3B3B3" stroke="#000" stroke-width="1.25"/>
<circle cx="789.50" cy="304.60" r="4.75" fill="#B3B3B3" stroke="#000" stroke-width="1.25"/>
<circle cx="806.70" cy="305.30" r="4.75" fill="#B3B3B3" stroke="#000" stroke-width="1.25"/>
<circle cx="819.90" cy="308.20" r="4.75" fill="#B3B3B3" stroke="#000" stroke-width="1.25"/>
<circle cx="821.50" cy="307.40" r="4.75" fill="#B3B3B3" stroke="#000" stroke-width="1.25"/>
<circle cx="831.40" cy="308.20" r="4.75" fill="#B3B3B3" stroke="#000" stroke-width="1.25"/>
<circle cx="843.70" cy="308.20" r="4.75" fill="#B3B3B3" stroke="#000" stroke-width="1.25"/>
<circle cx="850.30" cy="314.80" r="4.75" fill="#B3B3B3" stroke="#000" stroke-width="1.25"/>
<circle cx="807.60" cy="316.10" r="4.75" fill="#B3B3B3" stroke="#000" stroke-width="1.25"/>
<circle cx="824.50" cy="317.30" r="4.75" fill="#B3B3B3" stroke="#000" stroke-width="1.25"/>
<circle cx="821.50" cy="320.10" r="4.75" fill="#B3B3B3" stroke="#000" stroke-width="1.25"/>
<circle cx="827.30" cy="323.90" r="4.75" fill="#B3B3B3" stroke="#000" stroke-width="1.25"/>
<circle cx="821.50" cy="327.10" r="4.75" fill="#B3B3B3" stroke="#000" stroke-width="1.25"/>
<circle cx="758.70" cy="320.60" r="4.75" fill="#B3B3B3" stroke="#000" stroke-width="1.25"/>
<circle cx="848.70" cy="326.30" r="4.75" fill="#B3B3B3" stroke="#000" stroke-width="1.25"/>
<circle cx="847.80" cy="329.60" r="4.75" fill="#B3B3B3" stroke="#000" stroke-width="1.25"/>
<circle cx="856.90" cy="323.90" r="4.75" fill="#B3B3B3" stroke="#000" stroke-width="1.25"/>
<circle cx="770.10" cy="336.50" r="4.75" fill="#B3B3B3" stroke="#000" stroke-width="1.25"/>
<circle cx="814.10" cy="339.00" r="4.75" fill="#B3B3B3" stroke="#000" stroke-width="1.25"/>
<circle cx="852.40" cy="340.30" r="4.75" fill="#B3B3B3" stroke="#000" stroke-width="1.25"/>
<circle cx="810.40" cy="355.10" r="4.75" fill="#B3B3B3" stroke="#000" stroke-width="1.25"/>
<circle cx="866.40" cy="253.20" r="4.75" fill="#B3B3B3" stroke="#000" stroke-width="1.25"/>
<circle cx="887.50" cy="256.10" r="4.75" fill="#B3B3B3" stroke="#000" stroke-width="1.25"/>
<circle cx="896.00" cy="259.40" r="4.75" fill="#B3B3B3" stroke="#000" stroke-width="1.25"/>
<circle cx="910.50" cy="258.10" r="4.75" fill="#B3B3B3" stroke="#000" stroke-width="1.25"/>
<circle cx="913.30" cy="266.00" r="4.75" fill="#B3B3B3" stroke="#000" stroke-width="1.25"/>
<circle cx="919.90" cy="266.30" r="4.75" fill="#B3B3B3" stroke="#000" stroke-width="1.25"/>
<circle cx="870.60" cy="261.00" r="4.75" fill="#B3B3B3" stroke="#000" stroke-width="1.25"/>
<circle cx="878.80" cy="264.70" r="4.75" fill="#B3B3B3" stroke="#000" stroke-width="1.25"/>
<circle cx="875.00" cy="268.00" r="4.75" fill="#B3B3B3" stroke="#000" stroke-width="1.25"/>
<circle cx="887.50" cy="269.90" r="4.75" fill="#B3B3B3" stroke="#000" stroke-width="1.25"/>
<circle cx="881.60" cy="275.00" r="4.75" fill="#B3B3B3" stroke="#000" stroke-width="1.25"/>
<circle cx="865.60" cy="277.50" r="4.75" fill="#B3B3B3" stroke="#000" stroke-width="1.25"/>
<circle cx="892.70" cy="282.40" r="4.75" fill="#B3B3B3" stroke="#000" stroke-width="1.25"/>
<circle cx="897.70" cy="279.50" r="4.75" fill="#B3B3B3" stroke="#000" stroke-width="1.25"/>
<circle cx="874.30" cy="284.10" r="4.75" fill="#B3B3B3" stroke="#000" stroke-width="1.25"/>
<circle cx="879.90" cy="282.00" r="4.75" fill="#B3B3B3" stroke="#000" stroke-width="1.25"/>
<circle cx="860.20" cy="288.20" r="4.75" fill="#B3B3B3" stroke="#000" stroke-width="1.25"/>
<circle cx="869.70" cy="291.00" r="4.75" fill="#B3B3B3" stroke="#000" stroke-width="1.25"/>
<circle cx="885.40" cy="291.80" r="4.75" fill="#B3B3B3" stroke="#000" stroke-width="1.25"/>
<circle cx="903.40" cy="288.50" r="4.75" fill="#B3B3B3" stroke="#000" stroke-width="1.25"/>
<circle cx="915.40" cy="281.90" r="4.75" fill="#B3B3B3" stroke="#000" stroke-width="1.25"/>
<circle cx="922.00" cy="277.00" r="4.75" fill="#B3B3B3" stroke="#000" stroke-width="1.25"/>
<circle cx="926.50" cy="287.40" r="4.75" fill="#B3B3B3" stroke="#000" stroke-width="1.25"/>
<circle cx="938.80" cy="268.80" r="4.75" fill="#B3B3B3" stroke="#000" stroke-width="1.25"/>
<circle cx="938.50" cy="279.50" r="4.75" fill="#B3B3B3" stroke="#000" stroke-width="1.25"/>
<circle cx="940.10" cy="291.00" r="4.75" fill="#B3B3B3" stroke="#000" stroke-width="1.25"/>
<circle cx="960.50" cy="285.20" r="4.75" fill="#B3B3B3" stroke="#000" stroke-width="1.25"/>
<circle cx="976.30" cy="283.20" r="4.75" fill="#B3B3B3" stroke="#000" stroke-width="1.25"/>
<circle cx="980.20" cy="297.50" r="4.75" fill="#B3B3B3" stroke="#000" stroke-width="1.25"/>
<circle cx="983.20" cy="305.40" r="4.75" fill="#B3B3B3" stroke="#000" stroke-width="1.25"/>
<circle cx="967.10" cy="305.40" r="4.75" fill="#B3B3B3" stroke="#000" stroke-width="1.25"/>
<circle cx="854.90" cy="297.50" r="4.75" fill="#B3B3B3" stroke="#000" stroke-width="1.25"/>
<circle cx="861.50" cy="296.70" r="4.75" fill="#B3B3B3" stroke="#000" stroke-width="1.25"/>
<circle cx="878.30" cy="295.40" r="4.75" fill="#B3B3B3" stroke="#000" stroke-width="1.25"/>
<circle cx="893.60" cy="294.80" r="4.75" fill="#B3B3B3" stroke="#000" stroke-width="1.25"/>
<circle cx="890.30" cy="299.20" r="4.75" fill="#B3B3B3" stroke="#000" stroke-width="1.25"/>
<circle cx="899.30" cy="298.40" r="4.75" fill="#B3B3B3" stroke="#000" stroke-width="1.25"/>
<circle cx="870.60" cy="300.00" r="4.75" fill="#B3B3B3" stroke="#000" stroke-width="1.25"/>
<circle cx="920.40" cy="295.10" r="4.75" fill="#B3B3B3" stroke="#000" stroke-width="1.25"/>
<circle cx="935.80" cy="298.40" r="4.75" fill="#B3B3B3" stroke="#000" stroke-width="1.25"/>
<circle cx="942.90" cy="304.50" r="4.75" fill="#B3B3B3" stroke="#000" stroke-width="1.25"/>
<circle cx="935.20" cy="305.80" r="4.75" fill="#B3B3B3" stroke="#000" stroke-width="1.25"/>
<circle cx="905.90" cy="303.30" r="4.75" fill="#B3B3B3" stroke="#000" stroke-width="1.25"/>
<circle cx="910.50" cy="302.50" r="4.75" fill="#B3B3B3" stroke="#000" stroke-width="1.25"/>
<circle cx="855.80" cy="302.50" r="4.75" fill="#B3B3B3" stroke="#000" stroke-width="1.25"/>
<circle cx="865.60" cy="305.00" r="4.75" fill="#B3B3B3" stroke="#000" stroke-width="1.25"/>
<circle cx="874.30" cy="307.40" r="4.75" fill="#B3B3B3" stroke="#000" stroke-width="1.25"/>
<circle cx="880.40" cy="306.60" r="4.75" fill="#B3B3B3" stroke="#000" stroke-width="1.25"/>
<circle cx="887.50" cy="304.10" r="4.75" fill="#B3B3B3" stroke="#000" stroke-width="1.25"/>
<circle cx="919.90" cy="307.40" r="4.75" fill="#B3B3B3" stroke="#000" stroke-width="1.25"/>
<circle cx="924.80" cy="305.80" r="4.75" fill="#B3B3B3" stroke="#000" stroke-width="1.25"/>
<circle cx="866.40" cy="312.30" r="4.75" fill="#B3B3B3" stroke="#000" stroke-width="1.25"/>
<circle cx="881.20" cy="317.30" r="4.75" fill="#B3B3B3" stroke="#000" stroke-width="1.25"/>
<circle cx="892.70" cy="314.80" r="4.75" fill="#B3B3B3" stroke="#000" stroke-width="1.25"/>
<circle cx="911.20" cy="318.60" r="4.75" fill="#B3B3B3" stroke="#000" stroke-width="1.25"/>
<circle cx="925.30" cy="315.60" r="4.75" fill="#B3B3B3" stroke="#000" stroke-width="1.25"/>
<circle cx="923.20" cy="312.30" r="4.75" fill="#B3B3B3" stroke="#000" stroke-width="1.25"/>
<circle cx="934.20" cy="321.40" r="4.75" fill="#B3B3B3" stroke="#000" stroke-width="1.25"/>
<circle cx="934.70" cy="323.90" r="4.75" fill="#B3B3B3" stroke="#000" stroke-width="1.25"/>
<circle cx="954.70" cy="315.30" r="4.75" fill="#B3B3B3" stroke="#000" stroke-width="1.25"/>
<circle cx="974.10" cy="321.10" r="4.75" fill="#B3B3B3" stroke="#000" stroke-width="1.25"/>
<circle cx="869.40" cy="321.90" r="4.75" fill="#B3B3B3" stroke="#000" stroke-width="1.25"/>
<circle cx="862.30" cy="320.60" r="4.75" fill="#B3B3B3" stroke="#000" stroke-width="1.25"/>
<circle cx="851.60" cy="326.30" r="4.75" fill="#B3B3B3" stroke="#000" stroke-width="1.25"/>
<circle cx="884.50" cy="325.50" r="4.75" fill="#B3B3B3" stroke="#000" stroke-width="1.25"/>
<circle cx="893.60" cy="327.10" r="4.75" fill="#B3B3B3" stroke="#000" stroke-width="1.25"/>
<circle cx="884.50" cy="331.30" r="4.75" fill="#B3B3B3" stroke="#000" stroke-width="1.25"/>
<circle cx="897.70" cy="332.90" r="4.75" fill="#B3B3B3" stroke="#000" stroke-width="1.25"/>
<circle cx="932.20" cy="334.50" r="4.75" fill="#B3B3B3" stroke="#000" stroke-width="1.25"/>
<circle cx="931.40" cy="338.70" r="4.75" fill="#B3B3B3" stroke="#000" stroke-width="1.25"/>
<circle cx="934.20" cy="344.40" r="4.75" fill="#B3B3B3" stroke="#000" stroke-width="1.25"/>
<circle cx="920.40" cy="341.60" r="4.75" fill="#B3B3B3" stroke="#000" stroke-width="1.25"/>
<circle cx="884.20" cy="341.10" r="4.75" fill="#B3B3B3" stroke="#000" stroke-width="1.25"/>
<circle cx="853.00" cy="340.30" r="4.75" fill="#B3B3B3" stroke="#000" stroke-width="1.25"/>
<circle cx="959.30" cy="328.50" r="4.75" fill="#B3B3B3" stroke="#000" stroke-width="1.25"/>
<circle cx="968.10" cy="339.10" r="4.75" fill="#B3B3B3" stroke="#000" stroke-width="1.25"/>
<circle cx="978.70" cy="335.00" r="4.75" fill="#B3B3B3" stroke="#000" stroke-width="1.25"/>
<circle cx="959.80" cy="348.50" r="4.75" fill="#B3B3B3" stroke="#000" stroke-width="1.25"/>
<circle cx="961.00" cy="350.20" r="4.75" fill="#B3B3B3" stroke="#000" stroke-width="1.25"/>
<circle cx="885.80" cy="358.40" r="4.75" fill="#B3B3B3" stroke="#000" stroke-width="1.25"/>
<circle cx="903.40" cy="358.10" r="4.75" fill="#B3B3B3" stroke="#000" stroke-width="1.25"/>
<path d="M134.30,762.10 L139.13,761.39 L143.96,760.65 L148.78,759.87 L153.61,759.06 L158.44,758.20 L163.27,757.29 L168.10,756.33 L172.93,755.31 L177.75,754.23 L182.58,753.09 L187.41,751.89 L192.24,750.62 L197.07,749.30 L201.90,747.92 L206.73,746.50 L211.55,745.03 L216.38,743.52 L221.21,741.98 L226.04,740.41 L230.87,738.81 L235.69,737.19 L240.52,735.55 L245.35,733.90 L250.18,732.22 L255.01,730.54 L259.84,728.85 L264.66,727.14 L269.49,725.43 L274.32,723.71 L279.15,721.98 L283.98,720.25 L288.81,718.51 L293.63,716.77 L298.46,715.02 L303.29,713.27 L308.12,711.52 L312.95,709.76 L317.78,708.00 L322.61,706.23 L327.43,704.47 L332.26,702.70 L337.09,700.93 L341.92,699.16 L346.75,697.38 L351.58,695.61 L356.40,693.83 L361.23,692.05 L366.06,690.27 L370.89,688.49 L375.72,686.71 L380.54,684.93 L385.37,683.15 L390.20,681.36 L395.03,679.58 L399.86,677.79 L404.69,676.01 L409.51,674.22 L414.34,672.43 L419.17,670.64 L424.00,668.85 L424.00,737.35 L419.17,737.84 L414.34,738.33 L409.51,738.83 L404.69,739.32 L399.86,739.81 L395.03,740.31 L390.20,740.80 L385.37,741.30 L380.54,741.79 L375.72,742.29 L370.89,742.79 L366.06,743.29 L361.23,743.79 L356.40,744.29 L351.58,744.79 L346.75,745.30 L341.92,745.80 L337.09,746.31 L332.26,746.82 L327.43,747.33 L322.61,747.85 L317.78,748.37 L312.95,748.88 L308.12,749.41 L303.29,749.93 L298.46,750.46 L293.63,750.99 L288.81,751.53 L283.98,752.07 L279.15,752.62 L274.32,753.17 L269.49,753.73 L264.66,754.30 L259.84,754.87 L255.01,755.46 L250.18,756.06 L245.35,756.67 L240.52,757.29 L235.69,757.93 L230.87,758.59 L226.04,759.28 L221.21,759.98 L216.38,760.72 L211.55,761.49 L206.73,762.31 L201.90,763.16 L197.07,764.06 L192.24,765.02 L187.41,766.03 L182.58,767.11 L177.75,768.25 L172.93,769.45 L168.10,770.71 L163.27,772.03 L158.44,773.40 L153.61,774.82 L148.78,776.29 L143.96,777.79 L139.13,779.33 L134.30,780.90Z" fill="#CCCCCC"/>
<line x1="134.30" y1="771.50" x2="424.00" y2="703.10" stroke="#F20000" stroke-width="5.2" />
<circle cx="163.11" cy="810.33" r="4.75" fill="#B3B3B3" stroke="#000" stroke-width="1.25"/>
<circle cx="154.06" cy="782.14" r="4.75" fill="#B3B3B3" stroke="#000" stroke-width="1.25"/>
<circle cx="160.01" cy="742.62" r="4.75" fill="#B3B3B3" stroke="#000" stroke-width="1.25"/>
<circle cx="195.52" cy="807.94" r="4.75" fill="#B3B3B3" stroke="#000" stroke-width="1.25"/>
<circle cx="195.79" cy="763.56" r="4.75" fill="#B3B3B3" stroke="#000" stroke-width="1.25"/>
<circle cx="173.01" cy="803.20" r="4.75" fill="#B3B3B3" stroke="#000" stroke-width="1.25"/>
<circle cx="184.15" cy="805.76" r="4.75" fill="#B3B3B3" stroke="#000" stroke-width="1.25"/>
<circle cx="150.65" cy="750.85" r="4.75" fill="#B3B3B3" stroke="#000" stroke-width="1.25"/>
<circle cx="186.10" cy="765.86" r="4.75" fill="#B3B3B3" stroke="#000" stroke-width="1.25"/>
<circle cx="143.53" cy="729.25" r="4.75" fill="#B3B3B3" stroke="#000" stroke-width="1.25"/>
<circle cx="157.17" cy="787.49" r="4.75" fill="#B3B3B3" stroke="#000" stroke-width="1.25"/>
<circle cx="134.29" cy="774.23" r="4.75" fill="#B3B3B3" stroke="#000" stroke-width="1.25"/>
<circle cx="184.21" cy="798.09" r="4.75" fill="#B3B3B3" stroke="#000" stroke-width="1.25"/>
<circle cx="177.91" cy="743.47" r="4.75" fill="#B3B3B3" stroke="#000" stroke-width="1.25"/>
<circle cx="156.39" cy="706.11" r="4.75" fill="#B3B3B3" stroke="#000" stroke-width="1.25"/>
<circle cx="139.01" cy="737.43" r="4.75" fill="#B3B3B3" stroke="#000" stroke-width="1.25"/>
<circle cx="153.12" cy="729.71" r="4.75" fill="#B3B3B3" stroke="#000" stroke-width="1.25"/>
<circle cx="176.79" cy="757.07" r="4.75" fill="#B3B3B3" stroke="#000" stroke-width="1.25"/>
<circle cx="151.94" cy="797.73" r="4.75" fill="#B3B3B3" stroke="#000" stroke-width="1.25"/>
<circle cx="134.13" cy="764.01" r="4.75" fill="#B3B3B3" stroke="#000" stroke-width="1.25"/>
<circle cx="190.62" cy="773.33" r="4.75" fill="#B3B3B3" stroke="#000" stroke-width="1.25"/>
<circle cx="133.10" cy="794.06" r="4.75" fill="#B3B3B3" stroke="#000" stroke-width="1.25"/>
<circle cx="141.09" cy="801.54" r="4.75" fill="#B3B3B3" stroke="#000" stroke-width="1.25"/>
<circle cx="158.73" cy="722.07" r="4.75" fill="#B3B3B3" stroke="#000" stroke-width="1.25"/>
<circle cx="165.38" cy="746.09" r="4.75" fill="#B3B3B3" stroke="#000" stroke-width="1.25"/>
<circle cx="147.85" cy="764.15" r="4.75" fill="#B3B3B3" stroke="#000" stroke-width="1.25"/>
<circle cx="194.52" cy="751.89" r="4.75" fill="#B3B3B3" stroke="#000" stroke-width="1.25"/>
<circle cx="150.94" cy="812.78" r="4.75" fill="#B3B3B3" stroke="#000" stroke-width="1.25"/>
<circle cx="185.76" cy="739.89" r="4.75" fill="#B3B3B3" stroke="#000" stroke-width="1.25"/>
<circle cx="188.84" cy="736.47" r="4.75" fill="#B3B3B3" stroke="#000" stroke-width="1.25"/>
<circle cx="165.64" cy="799.66" r="4.75" fill="#B3B3B3" stroke="#000" stroke-width="1.25"/>
<circle cx="161.04" cy="812.28" r="4.75" fill="#B3B3B3" stroke="#000" stroke-width="1.25"/>
<circle cx="150.79" cy="756.58" r="4.75" fill="#B3B3B3" stroke="#000" stroke-width="1.25"/>
<circle cx="166.29" cy="772.76" r="4.75" fill="#B3B3B3" stroke="#000" stroke-width="1.25"/>
<circle cx="169.76" cy="789.36" r="4.75" fill="#B3B3B3" stroke="#000" stroke-width="1.25"/>
<circle cx="151.23" cy="742.41" r="4.75" fill="#B3B3B3" stroke="#000" stroke-width="1.25"/>
<circle cx="140.16" cy="741.76" r="4.75" fill="#B3B3B3" stroke="#000" stroke-width="1.25"/>
<circle cx="165.41" cy="821.49" r="4.75" fill="#B3B3B3" stroke="#000" stroke-width="1.25"/>
<circle cx="191.18" cy="814.39" r="4.75" fill="#B3B3B3" stroke="#000" stroke-width="1.25"/>
<circle cx="167.85" cy="779.97" r="4.75" fill="#B3B3B3" stroke="#000" stroke-width="1.25"/>
<circle cx="165.71" cy="713.91" r="4.75" fill="#B3B3B3" stroke="#000" stroke-width="1.25"/>
<circle cx="172.77" cy="741.65" r="4.75" fill="#B3B3B3" stroke="#000" stroke-width="1.25"/>
<circle cx="145.45" cy="702.33" r="4.75" fill="#B3B3B3" stroke="#000" stroke-width="1.25"/>
<circle cx="167.24" cy="727.36" r="4.75" fill="#B3B3B3" stroke="#000" stroke-width="1.25"/>
<circle cx="191.45" cy="792.84" r="4.75" fill="#B3B3B3" stroke="#000" stroke-width="1.25"/>
<circle cx="172.23" cy="764.96" r="4.75" fill="#B3B3B3" stroke="#000" stroke-width="1.25"/>
<circle cx="192.19" cy="786.76" r="4.75" fill="#B3B3B3" stroke="#000" stroke-width="1.25"/>
<circle cx="141.89" cy="791.34" r="4.75" fill="#B3B3B3" stroke="#000" stroke-width="1.25"/>
<circle cx="146.81" cy="720.46" r="4.75" fill="#B3B3B3" stroke="#000" stroke-width="1.25"/>
<circle cx="139.17" cy="800.10" r="4.75" fill="#B3B3B3" stroke="#000" stroke-width="1.25"/>
<circle cx="147.61" cy="811.72" r="4.75" fill="#B3B3B3" stroke="#000" stroke-width="1.25"/>
<circle cx="144.53" cy="750.54" r="4.75" fill="#B3B3B3" stroke="#000" stroke-width="1.25"/>
<circle cx="162.12" cy="777.54" r="4.75" fill="#B3B3B3" stroke="#000" stroke-width="1.25"/>
<circle cx="181.15" cy="787.29" r="4.75" fill="#B3B3B3" stroke="#000" stroke-width="1.25"/>
<circle cx="147.19" cy="810.20" r="4.75" fill="#B3B3B3" stroke="#000" stroke-width="1.25"/>
<circle cx="198.16" cy="746.10" r="4.75" fill="#B3B3B3" stroke="#000" stroke-width="1.25"/>
<circle cx="155.34" cy="694.89" r="4.75" fill="#B3B3B3" stroke="#000" stroke-width="1.25"/>
<circle cx="200.85" cy="767.67" r="4.75" fill="#B3B3B3" stroke="#000" stroke-width="1.25"/>
<circle cx="198.09" cy="760.13" r="4.75" fill="#B3B3B3" stroke="#000" stroke-width="1.25"/>
<circle cx="181.13" cy="775.86" r="4.75" fill="#B3B3B3" stroke="#000" stroke-width="1.25"/>
<circle cx="161.35" cy="823.22" r="4.75" fill="#B3B3B3" stroke="#000" stroke-width="1.25"/>
<circle cx="171.77" cy="803.50" r="4.75" fill="#B3B3B3" stroke="#000" stroke-width="1.25"/>
<circle cx="190.33" cy="754.08" r="4.75" fill="#B3B3B3" stroke="#000" stroke-width="1.25"/>
<circle cx="179.71" cy="815.99" r="4.75" fill="#B3B3B3" stroke="#000" stroke-width="1.25"/>
<circle cx="145.30" cy="737.59" r="4.75" fill="#B3B3B3" stroke="#000" stroke-width="1.25"/>
<circle cx="150.25" cy="772.01" r="4.75" fill="#B3B3B3" stroke="#000" stroke-width="1.25"/>
<circle cx="137.86" cy="822.78" r="4.75" fill="#B3B3B3" stroke="#000" stroke-width="1.25"/>
<circle cx="186.50" cy="787.08" r="4.75" fill="#B3B3B3" stroke="#000" stroke-width="1.25"/>
<circle cx="165.10" cy="729.32" r="4.75" fill="#B3B3B3" stroke="#000" stroke-width="1.25"/>
<circle cx="158.34" cy="756.52" r="4.75" fill="#B3B3B3" stroke="#000" stroke-width="1.25"/>
<circle cx="146.78" cy="824.71" r="4.75" fill="#B3B3B3" stroke="#000" stroke-width="1.25"/>
<circle cx="165.94" cy="762.98" r="4.75" fill="#B3B3B3" stroke="#000" stroke-width="1.25"/>
<circle cx="153.24" cy="705.09" r="4.75" fill="#B3B3B3" stroke="#000" stroke-width="1.25"/>
<circle cx="171.16" cy="732.54" r="4.75" fill="#B3B3B3" stroke="#000" stroke-width="1.25"/>
<circle cx="140.80" cy="810.42" r="4.75" fill="#B3B3B3" stroke="#000" stroke-width="1.25"/>
<circle cx="184.78" cy="748.59" r="4.75" fill="#B3B3B3" stroke="#000" stroke-width="1.25"/>
<circle cx="138.26" cy="780.96" r="4.75" fill="#B3B3B3" stroke="#000" stroke-width="1.25"/>
<circle cx="146.48" cy="727.63" r="4.75" fill="#B3B3B3" stroke="#000" stroke-width="1.25"/>
<circle cx="190.63" cy="802.54" r="4.75" fill="#B3B3B3" stroke="#000" stroke-width="1.25"/>
<circle cx="167.88" cy="758.94" r="4.75" fill="#B3B3B3" stroke="#000" stroke-width="1.25"/>
<circle cx="201.12" cy="794.57" r="4.75" fill="#B3B3B3" stroke="#000" stroke-width="1.25"/>
<circle cx="174.84" cy="749.57" r="4.75" fill="#B3B3B3" stroke="#000" stroke-width="1.25"/>
<circle cx="138.37" cy="757.75" r="4.75" fill="#B3B3B3" stroke="#000" stroke-width="1.25"/>
<circle cx="156.22" cy="696.54" r="4.75" fill="#B3B3B3" stroke="#000" stroke-width="1.25"/>
<circle cx="169.51" cy="786.70" r="4.75" fill="#B3B3B3" stroke="#000" stroke-width="1.25"/>
<circle cx="177.81" cy="819.01" r="4.75" fill="#B3B3B3" stroke="#000" stroke-width="1.25"/>
<circle cx="194.33" cy="772.87" r="4.75" fill="#B3B3B3" stroke="#000" stroke-width="1.25"/>
<circle cx="152.08" cy="765.83" r="4.75" fill="#B3B3B3" stroke="#000" stroke-width="1.25"/>
<circle cx="148.20" cy="789.82" r="4.75" fill="#B3B3B3" stroke="#000" stroke-width="1.25"/>
<circle cx="179.60" cy="810.81" r="4.75" fill="#B3B3B3" stroke="#000" stroke-width="1.25"/>
<circle cx="138.15" cy="771.41" r="4.75" fill="#B3B3B3" stroke="#000" stroke-width="1.25"/>
<circle cx="157.80" cy="720.99" r="4.75" fill="#B3B3B3" stroke="#000" stroke-width="1.25"/>
<circle cx="143.94" cy="782.20" r="4.75" fill="#B3B3B3" stroke="#000" stroke-width="1.25"/>
<circle cx="165.30" cy="574.70" r="4.75" fill="#B3B3B3" stroke="#000" stroke-width="1.25"/>
<circle cx="141.70" cy="604.90" r="4.75" fill="#B3B3B3" stroke="#000" stroke-width="1.25"/>
<circle cx="146.70" cy="609.00" r="4.75" fill="#B3B3B3" stroke="#000" stroke-width="1.25"/>
<circle cx="190.40" cy="627.50" r="4.75" fill="#B3B3B3" stroke="#000" stroke-width="1.25"/>
<circle cx="252.50" cy="636.50" r="4.75" fill="#B3B3B3" stroke="#000" stroke-width="1.25"/>
<circle cx="424.00" cy="636.00" r="4.75" fill="#B3B3B3" stroke="#000" stroke-width="1.25"/>
<circle cx="146.40" cy="647.00" r="4.75" fill="#B3B3B3" stroke="#000" stroke-width="1.25"/>
<circle cx="158.40" cy="643.90" r="4.75" fill="#B3B3B3" stroke="#000" stroke-width="1.25"/>
<circle cx="170.90" cy="655.90" r="4.75" fill="#B3B3B3" stroke="#000" stroke-width="1.25"/>
<circle cx="152.30" cy="658.30" r="4.75" fill="#B3B3B3" stroke="#000" stroke-width="1.25"/>
<circle cx="154.00" cy="660.60" r="4.75" fill="#B3B3B3" stroke="#000" stroke-width="1.25"/>
<circle cx="190.40" cy="675.00" r="4.75" fill="#B3B3B3" stroke="#000" stroke-width="1.25"/>
<circle cx="208.30" cy="672.50" r="4.75" fill="#B3B3B3" stroke="#000" stroke-width="1.25"/>
<circle cx="220.60" cy="668.40" r="4.75" fill="#B3B3B3" stroke="#000" stroke-width="1.25"/>
<circle cx="209.00" cy="682.60" r="4.75" fill="#B3B3B3" stroke="#000" stroke-width="1.25"/>
<circle cx="213.30" cy="684.80" r="4.75" fill="#B3B3B3" stroke="#000" stroke-width="1.25"/>
<circle cx="223.10" cy="691.10" r="4.75" fill="#B3B3B3" stroke="#000" stroke-width="1.25"/>
<circle cx="237.60" cy="691.60" r="4.75" fill="#B3B3B3" stroke="#000" stroke-width="1.25"/>
<circle cx="147.10" cy="687.20" r="4.75" fill="#B3B3B3" stroke="#000" stroke-width="1.25"/>
<circle cx="148.90" cy="688.20" r="4.75" fill="#B3B3B3" stroke="#000" stroke-width="1.25"/>
<circle cx="149.60" cy="692.00" r="4.75" fill="#B3B3B3" stroke="#000" stroke-width="1.25"/>
<circle cx="175.60" cy="688.00" r="4.75" fill="#B3B3B3" stroke="#000" stroke-width="1.25"/>
<circle cx="159.60" cy="694.50" r="4.75" fill="#B3B3B3" stroke="#000" stroke-width="1.25"/>
<circle cx="160.30" cy="697.70" r="4.75" fill="#B3B3B3" stroke="#000" stroke-width="1.25"/>
<circle cx="165.90" cy="698.30" r="4.75" fill="#B3B3B3" stroke="#000" stroke-width="1.25"/>
<circle cx="180.40" cy="698.90" r="4.75" fill="#B3B3B3" stroke="#000" stroke-width="1.25"/>
<circle cx="209.30" cy="698.90" r="4.75" fill="#B3B3B3" stroke="#000" stroke-width="1.25"/>
<circle cx="149.60" cy="692.80" r="4.75" fill="#B3B3B3" stroke="#000" stroke-width="1.25"/>
<circle cx="166.30" cy="699.80" r="4.75" fill="#B3B3B3" stroke="#000" stroke-width="1.25"/>
<circle cx="176.00" cy="690.60" r="4.75" fill="#B3B3B3" stroke="#000" stroke-width="1.25"/>
<circle cx="180.40" cy="700.70" r="4.75" fill="#B3B3B3" stroke="#000" stroke-width="1.25"/>
<circle cx="188.50" cy="708.90" r="4.75" fill="#B3B3B3" stroke="#000" stroke-width="1.25"/>
<circle cx="209.30" cy="700.10" r="4.75" fill="#B3B3B3" stroke="#000" stroke-width="1.25"/>
<circle cx="207.80" cy="712.00" r="4.75" fill="#B3B3B3" stroke="#000" stroke-width="1.25"/>
<circle cx="220.00" cy="716.10" r="4.75" fill="#B3B3B3" stroke="#000" stroke-width="1.25"/>
<circle cx="156.50" cy="707.00" r="4.75" fill="#B3B3B3" stroke="#000" stroke-width="1.25"/>
<circle cx="150.80" cy="715.80" r="4.75" fill="#B3B3B3" stroke="#000" stroke-width="1.25"/>
<circle cx="161.50" cy="715.80" r="4.75" fill="#B3B3B3" stroke="#000" stroke-width="1.25"/>
<circle cx="143.90" cy="717.00" r="4.75" fill="#B3B3B3" stroke="#000" stroke-width="1.25"/>
<circle cx="147.10" cy="720.80" r="4.75" fill="#B3B3B3" stroke="#000" stroke-width="1.25"/>
<circle cx="159.60" cy="724.00" r="4.75" fill="#B3B3B3" stroke="#000" stroke-width="1.25"/>
<circle cx="167.80" cy="727.50" r="4.75" fill="#B3B3B3" stroke="#000" stroke-width="1.25"/>
<circle cx="145.20" cy="727.70" r="4.75" fill="#B3B3B3" stroke="#000" stroke-width="1.25"/>
<circle cx="192.30" cy="727.10" r="4.75" fill="#B3B3B3" stroke="#000" stroke-width="1.25"/>
<circle cx="184.10" cy="732.70" r="4.75" fill="#B3B3B3" stroke="#000" stroke-width="1.25"/>
<circle cx="191.10" cy="736.50" r="4.75" fill="#B3B3B3" stroke="#000" stroke-width="1.25"/>
<circle cx="145.80" cy="739.00" r="4.75" fill="#B3B3B3" stroke="#000" stroke-width="1.25"/>
<circle cx="155.20" cy="735.90" r="4.75" fill="#B3B3B3" stroke="#000" stroke-width="1.25"/>
<circle cx="162.80" cy="737.80" r="4.75" fill="#B3B3B3" stroke="#000" stroke-width="1.25"/>
<circle cx="171.00" cy="736.30" r="4.75" fill="#B3B3B3" stroke="#000" stroke-width="1.25"/>
<circle cx="180.60" cy="740.00" r="4.75" fill="#B3B3B3" stroke="#000" stroke-width="1.25"/>
<circle cx="187.30" cy="746.00" r="4.75" fill="#B3B3B3" stroke="#000" stroke-width="1.25"/>
<circle cx="199.00" cy="744.70" r="4.75" fill="#B3B3B3" stroke="#000" stroke-width="1.25"/>
<circle cx="212.40" cy="741.50" r="4.75" fill="#B3B3B3" stroke="#000" stroke-width="1.25"/>
<circle cx="218.70" cy="741.50" r="4.75" fill="#B3B3B3" stroke="#000" stroke-width="1.25"/>
<circle cx="228.80" cy="739.00" r="4.75" fill="#B3B3B3" stroke="#000" stroke-width="1.25"/>
<circle cx="142.00" cy="748.80" r="4.75" fill="#B3B3B3" stroke="#000" stroke-width="1.25"/>
<circle cx="152.50" cy="751.60" r="4.75" fill="#B3B3B3" stroke="#000" stroke-width="1.25"/>
<circle cx="168.40" cy="749.10" r="4.75" fill="#B3B3B3" stroke="#000" stroke-width="1.25"/>
<circle cx="177.20" cy="745.30" r="4.75" fill="#B3B3B3" stroke="#000" stroke-width="1.25"/>
<circle cx="135.70" cy="757.30" r="4.75" fill="#B3B3B3" stroke="#000" stroke-width="1.25"/>
<circle cx="135.70" cy="765.40" r="4.75" fill="#B3B3B3" stroke="#000" stroke-width="1.25"/>
<circle cx="155.20" cy="764.20" r="4.75" fill="#B3B3B3" stroke="#000" stroke-width="1.25"/>
<circle cx="164.00" cy="758.50" r="4.75" fill="#B3B3B3" stroke="#000" stroke-width="1.25"/>
<circle cx="172.20" cy="755.40" r="4.75" fill="#B3B3B3" stroke="#000" stroke-width="1.25"/>
<circle cx="179.10" cy="756.00" r="4.75" fill="#B3B3B3" stroke="#000" stroke-width="1.25"/>
<circle cx="186.00" cy="755.40" r="4.75" fill="#B3B3B3" stroke="#000" stroke-width="1.25"/>
<circle cx="195.50" cy="757.30" r="4.75" fill="#B3B3B3" stroke="#000" stroke-width="1.25"/>
<circle cx="206.10" cy="758.50" r="4.75" fill="#B3B3B3" stroke="#000" stroke-width="1.25"/>
<circle cx="210.80" cy="751.60" r="4.75" fill="#B3B3B3" stroke="#000" stroke-width="1.25"/>
<circle cx="216.80" cy="756.00" r="4.75" fill="#B3B3B3" stroke="#000" stroke-width="1.25"/>
<circle cx="230.00" cy="758.30" r="4.75" fill="#B3B3B3" stroke="#000" stroke-width="1.25"/>
<circle cx="243.90" cy="766.10" r="4.75" fill="#B3B3B3" stroke="#000" stroke-width="1.25"/>
<circle cx="146.40" cy="774.00" r="4.75" fill="#B3B3B3" stroke="#000" stroke-width="1.25"/>
<circle cx="164.00" cy="769.20" r="4.75" fill="#B3B3B3" stroke="#000" stroke-width="1.25"/>
<circle cx="172.80" cy="770.50" r="4.75" fill="#B3B3B3" stroke="#000" stroke-width="1.25"/>
<circle cx="180.40" cy="767.30" r="4.75" fill="#B3B3B3" stroke="#000" stroke-width="1.25"/>
<circle cx="191.70" cy="769.20" r="4.75" fill="#B3B3B3" stroke="#000" stroke-width="1.25"/>
<circle cx="207.40" cy="770.50" r="4.75" fill="#B3B3B3" stroke="#000" stroke-width="1.25"/>
<circle cx="219.40" cy="774.20" r="4.75" fill="#B3B3B3" stroke="#000" stroke-width="1.25"/>
<circle cx="225.60" cy="767.30" r="4.75" fill="#B3B3B3" stroke="#000" stroke-width="1.25"/>
<circle cx="230.70" cy="772.30" r="4.75" fill="#B3B3B3" stroke="#000" stroke-width="1.25"/>
<circle cx="139.50" cy="776.10" r="4.75" fill="#B3B3B3" stroke="#000" stroke-width="1.25"/>
<circle cx="155.20" cy="775.00" r="4.75" fill="#B3B3B3" stroke="#000" stroke-width="1.25"/>
<circle cx="163.40" cy="776.90" r="4.75" fill="#B3B3B3" stroke="#000" stroke-width="1.25"/>
<circle cx="170.90" cy="778.20" r="4.75" fill="#B3B3B3" stroke="#000" stroke-width="1.25"/>
<circle cx="172.80" cy="771.90" r="4.75" fill="#B3B3B3" stroke="#000" stroke-width="1.25"/>
<circle cx="181.60" cy="776.90" r="4.75" fill="#B3B3B3" stroke="#000" stroke-width="1.25"/>
<circle cx="190.40" cy="776.30" r="4.75" fill="#B3B3B3" stroke="#000" stroke-width="1.25"/>
<circle cx="192.30" cy="771.30" r="4.75" fill="#B3B3B3" stroke="#000" stroke-width="1.25"/>
<circle cx="195.50" cy="779.40" r="4.75" fill="#B3B3B3" stroke="#000" stroke-width="1.25"/>
<circle cx="207.40" cy="771.90" r="4.75" fill="#B3B3B3" stroke="#000" stroke-width="1.25"/>
<circle cx="220.60" cy="774.40" r="4.75" fill="#B3B3B3" stroke="#000" stroke-width="1.25"/>
<circle cx="230.00" cy="773.10" r="4.75" fill="#B3B3B3" stroke="#000" stroke-width="1.25"/>
<circle cx="211.20" cy="781.30" r="4.75" fill="#B3B3B3" stroke="#000" stroke-width="1.25"/>
<circle cx="220.00" cy="782.60" r="4.75" fill="#B3B3B3" stroke="#000" stroke-width="1.25"/>
<circle cx="230.00" cy="785.70" r="4.75" fill="#B3B3B3" stroke="#000" stroke-width="1.25"/>
<circle cx="133.20" cy="785.10" r="4.75" fill="#B3B3B3" stroke="#000" stroke-width="1.25"/>
<circle cx="138.30" cy="788.90" r="4.75" fill="#B3B3B3" stroke="#000" stroke-width="1.25"/>
<circle cx="144.50" cy="788.90" r="4.75" fill="#B3B3B3" stroke="#000" stroke-width="1.25"/>
<circle cx="150.80" cy="784.50" r="4.75" fill="#B3B3B3" stroke="#000" stroke-width="1.25"/>
<circle cx="156.50" cy="790.10" r="4.75" fill="#B3B3B3" stroke="#000" stroke-width="1.25"/>
<circle cx="167.20" cy="785.10" r="4.75" fill="#B3B3B3" stroke="#000" stroke-width="1.25"/>
<circle cx="172.20" cy="788.20" r="4.75" fill="#B3B3B3" stroke="#000" stroke-width="1.25"/>
<circle cx="185.40" cy="790.10" r="4.75" fill="#B3B3B3" stroke="#000" stroke-width="1.25"/>
<circle cx="189.20" cy="783.80" r="4.75" fill="#B3B3B3" stroke="#000" stroke-width="1.25"/>
<circle cx="198.00" cy="790.70" r="4.75" fill="#B3B3B3" stroke="#000" stroke-width="1.25"/>
<circle cx="210.60" cy="790.10" r="4.75" fill="#B3B3B3" stroke="#000" stroke-width="1.25"/>
<circle cx="221.20" cy="796.40" r="4.75" fill="#B3B3B3" stroke="#000" stroke-width="1.25"/>
<circle cx="134.50" cy="797.00" r="4.75" fill="#B3B3B3" stroke="#000" stroke-width="1.25"/>
<circle cx="135.10" cy="802.70" r="4.75" fill="#B3B3B3" stroke="#000" stroke-width="1.25"/>
<circle cx="140.80" cy="800.20" r="4.75" fill="#B3B3B3" stroke="#000" stroke-width="1.25"/>
<circle cx="146.40" cy="797.00" r="4.75" fill="#B3B3B3" stroke="#000" stroke-width="1.25"/>
<circle cx="152.70" cy="795.10" r="4.75" fill="#B3B3B3" stroke="#000" stroke-width="1.25"/>
<circle cx="159.00" cy="794.50" r="4.75" fill="#B3B3B3" stroke="#000" stroke-width="1.25"/>
<circle cx="166.50" cy="800.80" r="4.75" fill="#B3B3B3" stroke="#000" stroke-width="1.25"/>
<circle cx="177.20" cy="798.30" r="4.75" fill="#B3B3B3" stroke="#000" stroke-width="1.25"/>
<circle cx="162.10" cy="806.50" r="4.75" fill="#B3B3B3" stroke="#000" stroke-width="1.25"/>
<circle cx="165.90" cy="807.70" r="4.75" fill="#B3B3B3" stroke="#000" stroke-width="1.25"/>
<circle cx="144.50" cy="804.60" r="4.75" fill="#B3B3B3" stroke="#000" stroke-width="1.25"/>
<circle cx="180.40" cy="805.80" r="4.75" fill="#B3B3B3" stroke="#000" stroke-width="1.25"/>
<circle cx="190.40" cy="805.80" r="4.75" fill="#B3B3B3" stroke="#000" stroke-width="1.25"/>
<circle cx="198.60" cy="807.10" r="4.75" fill="#B3B3B3" stroke="#000" stroke-width="1.25"/>
<circle cx="202.40" cy="807.70" r="4.75" fill="#B3B3B3" stroke="#000" stroke-width="1.25"/>
<circle cx="185.40" cy="811.50" r="4.75" fill="#B3B3B3" stroke="#000" stroke-width="1.25"/>
<circle cx="179.10" cy="813.40" r="4.75" fill="#B3B3B3" stroke="#000" stroke-width="1.25"/>
<circle cx="137.00" cy="812.70" r="4.75" fill="#B3B3B3" stroke="#000" stroke-width="1.25"/>
<circle cx="150.80" cy="810.90" r="4.75" fill="#B3B3B3" stroke="#000" stroke-width="1.25"/>
<circle cx="157.10" cy="815.90" r="4.75" fill="#B3B3B3" stroke="#000" stroke-width="1.25"/>
<circle cx="165.30" cy="817.10" r="4.75" fill="#B3B3B3" stroke="#000" stroke-width="1.25"/>
<circle cx="147.10" cy="817.80" r="4.75" fill="#B3B3B3" stroke="#000" stroke-width="1.25"/>
<circle cx="138.90" cy="821.00" r="4.75" fill="#B3B3B3" stroke="#000" stroke-width="1.25"/>
<circle cx="179.10" cy="819.00" r="4.75" fill="#B3B3B3" stroke="#000" stroke-width="1.25"/>
<circle cx="199.20" cy="818.40" r="4.75" fill="#B3B3B3" stroke="#000" stroke-width="1.25"/>
<circle cx="159.60" cy="823.40" r="4.75" fill="#B3B3B3" stroke="#000" stroke-width="1.25"/>
<circle cx="166.50" cy="825.30" r="4.75" fill="#B3B3B3" stroke="#000" stroke-width="1.25"/>
<circle cx="135.10" cy="834.70" r="4.75" fill="#B3B3B3" stroke="#000" stroke-width="1.25"/>
<circle cx="140.10" cy="834.70" r="4.75" fill="#B3B3B3" stroke="#000" stroke-width="1.25"/>
<circle cx="191.70" cy="831.60" r="4.75" fill="#B3B3B3" stroke="#000" stroke-width="1.25"/>
<circle cx="183.90" cy="835.40" r="4.75" fill="#B3B3B3" stroke="#000" stroke-width="1.25"/>
<circle cx="220.40" cy="668.30" r="4.75" fill="#B3B3B3" stroke="#000" stroke-width="1.25"/>
<circle cx="208.60" cy="672.50" r="4.75" fill="#B3B3B3" stroke="#000" stroke-width="1.25"/>
<circle cx="209.30" cy="682.20" r="4.75" fill="#B3B3B3" stroke="#000" stroke-width="1.25"/>
<circle cx="213.50" cy="684.60" r="4.75" fill="#B3B3B3" stroke="#000" stroke-width="1.25"/>
<circle cx="222.70" cy="691.10" r="4.75" fill="#B3B3B3" stroke="#000" stroke-width="1.25"/>
<circle cx="209.30" cy="700.80" r="4.75" fill="#B3B3B3" stroke="#000" stroke-width="1.25"/>
<circle cx="207.70" cy="712.00" r="4.75" fill="#B3B3B3" stroke="#000" stroke-width="1.25"/>
<circle cx="219.70" cy="716.10" r="4.75" fill="#B3B3B3" stroke="#000" stroke-width="1.25"/>
<circle cx="270.80" cy="724.70" r="4.75" fill="#B3B3B3" stroke="#000" stroke-width="1.25"/>
<circle cx="316.10" cy="732.40" r="4.75" fill="#B3B3B3" stroke="#000" stroke-width="1.25"/>
<circle cx="393.80" cy="721.20" r="4.75" fill="#B3B3B3" stroke="#000" stroke-width="1.25"/>
<circle cx="266.90" cy="739.40" r="4.75" fill="#B3B3B3" stroke="#000" stroke-width="1.25"/>
<circle cx="229.00" cy="739.40" r="4.75" fill="#B3B3B3" stroke="#000" stroke-width="1.25"/>
<circle cx="212.80" cy="741.70" r="4.75" fill="#B3B3B3" stroke="#000" stroke-width="1.25"/>
<circle cx="201.20" cy="744.50" r="4.75" fill="#B3B3B3" stroke="#000" stroke-width="1.25"/>
<circle cx="249.20" cy="742.10" r="4.75" fill="#B3B3B3" stroke="#000" stroke-width="1.25"/>
<circle cx="256.90" cy="745.60" r="4.75" fill="#B3B3B3" stroke="#000" stroke-width="1.25"/>
<circle cx="248.70" cy="749.10" r="4.75" fill="#B3B3B3" stroke="#000" stroke-width="1.25"/>
<circle cx="209.30" cy="753.70" r="4.75" fill="#B3B3B3" stroke="#000" stroke-width="1.25"/>
<circle cx="217.40" cy="756.10" r="4.75" fill="#B3B3B3" stroke="#000" stroke-width="1.25"/>
<circle cx="205.80" cy="758.40" r="4.75" fill="#B3B3B3" stroke="#000" stroke-width="1.25"/>
<circle cx="230.20" cy="758.40" r="4.75" fill="#B3B3B3" stroke="#000" stroke-width="1.25"/>
<circle cx="256.90" cy="761.90" r="4.75" fill="#B3B3B3" stroke="#000" stroke-width="1.25"/>
<circle cx="256.90" cy="767.70" r="4.75" fill="#B3B3B3" stroke="#000" stroke-width="1.25"/>
<circle cx="246.40" cy="766.50" r="4.75" fill="#B3B3B3" stroke="#000" stroke-width="1.25"/>
<circle cx="252.90" cy="771.80" r="4.75" fill="#B3B3B3" stroke="#000" stroke-width="1.25"/>
<circle cx="226.00" cy="767.20" r="4.75" fill="#B3B3B3" stroke="#000" stroke-width="1.25"/>
<circle cx="207.00" cy="771.20" r="4.75" fill="#B3B3B3" stroke="#000" stroke-width="1.25"/>
<circle cx="220.40" cy="774.20" r="4.75" fill="#B3B3B3" stroke="#000" stroke-width="1.25"/>
<circle cx="230.20" cy="771.80" r="4.75" fill="#B3B3B3" stroke="#000" stroke-width="1.25"/>
<circle cx="279.40" cy="776.50" r="4.75" fill="#B3B3B3" stroke="#000" stroke-width="1.25"/>
<circle cx="279.40" cy="779.30" r="4.75" fill="#B3B3B3" stroke="#000" stroke-width="1.25"/>
<circle cx="211.60" cy="781.10" r="4.75" fill="#B3B3B3" stroke="#000" stroke-width="1.25"/>
<circle cx="220.40" cy="782.10" r="4.75" fill="#B3B3B3" stroke="#000" stroke-width="1.25"/>
<circle cx="229.70" cy="785.50" r="4.75" fill="#B3B3B3" stroke="#000" stroke-width="1.25"/>
<circle cx="210.40" cy="789.70" r="4.75" fill="#B3B3B3" stroke="#000" stroke-width="1.25"/>
<circle cx="220.90" cy="796.00" r="4.75" fill="#B3B3B3" stroke="#000" stroke-width="1.25"/>
<circle cx="153.00" cy="657.50" r="4.75" fill="#B3B3B3" stroke="#000" stroke-width="1.25"/>
<circle cx="158.00" cy="647.50" r="4.75" fill="#B3B3B3" stroke="#000" stroke-width="1.25"/>
<path d="M706.00,766.22 L711.23,765.39 L716.47,764.54 L721.70,763.67 L726.93,762.78 L732.17,761.87 L737.40,760.93 L742.63,759.96 L747.87,758.96 L753.10,757.93 L758.33,756.86 L763.57,755.75 L768.80,754.61 L774.03,753.43 L779.27,752.22 L784.50,750.97 L789.73,749.69 L794.97,748.37 L800.20,747.03 L805.43,745.66 L810.67,744.27 L815.90,742.86 L821.13,741.42 L826.37,739.97 L831.60,738.50 L836.83,737.02 L842.07,735.52 L847.30,734.02 L852.53,732.50 L857.77,730.97 L863.00,729.44 L868.23,727.90 L873.47,726.35 L878.70,724.80 L883.93,723.24 L889.17,721.68 L894.40,720.11 L899.63,718.54 L904.87,716.96 L910.10,715.38 L915.33,713.80 L920.57,712.22 L925.80,710.63 L931.03,709.04 L936.27,707.45 L941.50,705.85 L946.73,704.26 L951.97,702.66 L957.20,701.06 L962.43,699.46 L967.67,697.86 L972.90,696.26 L978.13,694.65 L983.37,693.05 L988.60,691.44 L993.83,689.84 L999.07,688.23 L1004.30,686.62 L1009.53,685.01 L1014.77,683.40 L1020.00,681.79 L1020.00,730.97 L1014.77,731.64 L1009.53,732.31 L1004.30,732.98 L999.07,733.65 L993.83,734.33 L988.60,735.00 L983.37,735.68 L978.13,736.35 L972.90,737.03 L967.67,737.70 L962.43,738.38 L957.20,739.06 L951.97,739.75 L946.73,740.43 L941.50,741.11 L936.27,741.80 L931.03,742.49 L925.80,743.18 L920.57,743.88 L915.33,744.57 L910.10,745.27 L904.87,745.97 L899.63,746.68 L894.40,747.39 L889.17,748.10 L883.93,748.82 L878.70,749.54 L873.47,750.27 L868.23,751.00 L863.00,751.74 L857.77,752.49 L852.53,753.24 L847.30,754.01 L842.07,754.78 L836.83,755.57 L831.60,756.36 L826.37,757.18 L821.13,758.00 L815.90,758.85 L810.67,759.72 L805.43,760.60 L800.20,761.52 L794.97,762.45 L789.73,763.42 L784.50,764.42 L779.27,765.45 L774.03,766.52 L768.80,767.62 L763.57,768.76 L758.33,769.94 L753.10,771.15 L747.87,772.39 L742.63,773.67 L737.40,774.99 L732.17,776.33 L726.93,777.69 L721.70,779.08 L716.47,780.50 L711.23,781.93 L706.00,783.38Z" fill="#CCCCCC"/>
<line x1="706.00" y1="774.80" x2="1020.00" y2="706.40" stroke="#F20000" stroke-width="5.2" />
<circle cx="747.11" cy="785.07" r="4.75" fill="#B3B3B3" stroke="#000" stroke-width="1.25"/>
<circle cx="757.39" cy="771.30" r="4.75" fill="#B3B3B3" stroke="#000" stroke-width="1.25"/>
<circle cx="810.70" cy="781.48" r="4.75" fill="#B3B3B3" stroke="#000" stroke-width="1.25"/>
<circle cx="789.04" cy="785.91" r="4.75" fill="#B3B3B3" stroke="#000" stroke-width="1.25"/>
<circle cx="796.53" cy="781.61" r="4.75" fill="#B3B3B3" stroke="#000" stroke-width="1.25"/>
<circle cx="809.59" cy="759.65" r="4.75" fill="#B3B3B3" stroke="#000" stroke-width="1.25"/>
<circle cx="795.98" cy="771.49" r="4.75" fill="#B3B3B3" stroke="#000" stroke-width="1.25"/>
<circle cx="714.78" cy="776.16" r="4.75" fill="#B3B3B3" stroke="#000" stroke-width="1.25"/>
<circle cx="796.39" cy="745.93" r="4.75" fill="#B3B3B3" stroke="#000" stroke-width="1.25"/>
<circle cx="715.09" cy="739.89" r="4.75" fill="#B3B3B3" stroke="#000" stroke-width="1.25"/>
<circle cx="780.60" cy="806.18" r="4.75" fill="#B3B3B3" stroke="#000" stroke-width="1.25"/>
<circle cx="793.74" cy="793.41" r="4.75" fill="#B3B3B3" stroke="#000" stroke-width="1.25"/>
<circle cx="761.41" cy="794.92" r="4.75" fill="#B3B3B3" stroke="#000" stroke-width="1.25"/>
<circle cx="762.48" cy="742.66" r="4.75" fill="#B3B3B3" stroke="#000" stroke-width="1.25"/>
<circle cx="709.05" cy="751.66" r="4.75" fill="#B3B3B3" stroke="#000" stroke-width="1.25"/>
<circle cx="766.91" cy="739.99" r="4.75" fill="#B3B3B3" stroke="#000" stroke-width="1.25"/>
<circle cx="810.68" cy="768.87" r="4.75" fill="#B3B3B3" stroke="#000" stroke-width="1.25"/>
<circle cx="723.92" cy="746.54" r="4.75" fill="#B3B3B3" stroke="#000" stroke-width="1.25"/>
<circle cx="752.76" cy="733.00" r="4.75" fill="#B3B3B3" stroke="#000" stroke-width="1.25"/>
<circle cx="775.11" cy="758.24" r="4.75" fill="#B3B3B3" stroke="#000" stroke-width="1.25"/>
<circle cx="814.08" cy="756.96" r="4.75" fill="#B3B3B3" stroke="#000" stroke-width="1.25"/>
<circle cx="726.42" cy="732.98" r="4.75" fill="#B3B3B3" stroke="#000" stroke-width="1.25"/>
<circle cx="767.22" cy="742.72" r="4.75" fill="#B3B3B3" stroke="#000" stroke-width="1.25"/>
<circle cx="775.59" cy="804.60" r="4.75" fill="#B3B3B3" stroke="#000" stroke-width="1.25"/>
<circle cx="736.02" cy="745.71" r="4.75" fill="#B3B3B3" stroke="#000" stroke-width="1.25"/>
<circle cx="764.52" cy="784.80" r="4.75" fill="#B3B3B3" stroke="#000" stroke-width="1.25"/>
<circle cx="768.83" cy="770.79" r="4.75" fill="#B3B3B3" stroke="#000" stroke-width="1.25"/>
<circle cx="785.37" cy="758.83" r="4.75" fill="#B3B3B3" stroke="#000" stroke-width="1.25"/>
<circle cx="778.66" cy="752.20" r="4.75" fill="#B3B3B3" stroke="#000" stroke-width="1.25"/>
<circle cx="755.95" cy="802.57" r="4.75" fill="#B3B3B3" stroke="#000" stroke-width="1.25"/>
<circle cx="742.42" cy="779.33" r="4.75" fill="#B3B3B3" stroke="#000" stroke-width="1.25"/>
<circle cx="738.59" cy="809.34" r="4.75" fill="#B3B3B3" stroke="#000" stroke-width="1.25"/>
<circle cx="763.39" cy="805.23" r="4.75" fill="#B3B3B3" stroke="#000" stroke-width="1.25"/>
<circle cx="717.50" cy="759.53" r="4.75" fill="#B3B3B3" stroke="#000" stroke-width="1.25"/>
<circle cx="760.55" cy="761.56" r="4.75" fill="#B3B3B3" stroke="#000" stroke-width="1.25"/>
<circle cx="716.28" cy="807.27" r="4.75" fill="#B3B3B3" stroke="#000" stroke-width="1.25"/>
<circle cx="794.00" cy="759.82" r="4.75" fill="#B3B3B3" stroke="#000" stroke-width="1.25"/>
<circle cx="726.93" cy="766.96" r="4.75" fill="#B3B3B3" stroke="#000" stroke-width="1.25"/>
<circle cx="715.83" cy="789.15" r="4.75" fill="#B3B3B3" stroke="#000" stroke-width="1.25"/>
<circle cx="751.40" cy="798.06" r="4.75" fill="#B3B3B3" stroke="#000" stroke-width="1.25"/>
<circle cx="720.74" cy="775.98" r="4.75" fill="#B3B3B3" stroke="#000" stroke-width="1.25"/>
<circle cx="733.95" cy="738.25" r="4.75" fill="#B3B3B3" stroke="#000" stroke-width="1.25"/>
<circle cx="804.22" cy="789.52" r="4.75" fill="#B3B3B3" stroke="#000" stroke-width="1.25"/>
<circle cx="729.60" cy="771.76" r="4.75" fill="#B3B3B3" stroke="#000" stroke-width="1.25"/>
<circle cx="747.74" cy="743.99" r="4.75" fill="#B3B3B3" stroke="#000" stroke-width="1.25"/>
<circle cx="779.19" cy="743.39" r="4.75" fill="#B3B3B3" stroke="#000" stroke-width="1.25"/>
<circle cx="781.53" cy="800.06" r="4.75" fill="#B3B3B3" stroke="#000" stroke-width="1.25"/>
<circle cx="725.39" cy="755.14" r="4.75" fill="#B3B3B3" stroke="#000" stroke-width="1.25"/>
<circle cx="802.19" cy="758.09" r="4.75" fill="#B3B3B3" stroke="#000" stroke-width="1.25"/>
<circle cx="787.74" cy="797.84" r="4.75" fill="#B3B3B3" stroke="#000" stroke-width="1.25"/>
<circle cx="751.61" cy="781.59" r="4.75" fill="#B3B3B3" stroke="#000" stroke-width="1.25"/>
<circle cx="743.05" cy="733.80" r="4.75" fill="#B3B3B3" stroke="#000" stroke-width="1.25"/>
<circle cx="787.22" cy="790.40" r="4.75" fill="#B3B3B3" stroke="#000" stroke-width="1.25"/>
<circle cx="736.48" cy="758.38" r="4.75" fill="#B3B3B3" stroke="#000" stroke-width="1.25"/>
<circle cx="719.75" cy="805.06" r="4.75" fill="#B3B3B3" stroke="#000" stroke-width="1.25"/>
<circle cx="780.74" cy="775.00" r="4.75" fill="#B3B3B3" stroke="#000" stroke-width="1.25"/>
<circle cx="731.85" cy="780.79" r="4.75" fill="#B3B3B3" stroke="#000" stroke-width="1.25"/>
<circle cx="743.90" cy="759.83" r="4.75" fill="#B3B3B3" stroke="#000" stroke-width="1.25"/>
<circle cx="724.39" cy="790.57" r="4.75" fill="#B3B3B3" stroke="#000" stroke-width="1.25"/>
<circle cx="782.34" cy="762.12" r="4.75" fill="#B3B3B3" stroke="#000" stroke-width="1.25"/>
<circle cx="773.43" cy="734.90" r="4.75" fill="#B3B3B3" stroke="#000" stroke-width="1.25"/>
<circle cx="731.39" cy="794.14" r="4.75" fill="#B3B3B3" stroke="#000" stroke-width="1.25"/>
<circle cx="721.80" cy="793.22" r="4.75" fill="#B3B3B3" stroke="#000" stroke-width="1.25"/>
<circle cx="776.59" cy="785.55" r="4.75" fill="#B3B3B3" stroke="#000" stroke-width="1.25"/>
<circle cx="769.54" cy="796.08" r="4.75" fill="#B3B3B3" stroke="#000" stroke-width="1.25"/>
<circle cx="741.76" cy="730.70" r="4.75" fill="#B3B3B3" stroke="#000" stroke-width="1.25"/>
<circle cx="766.11" cy="759.17" r="4.75" fill="#B3B3B3" stroke="#000" stroke-width="1.25"/>
<circle cx="760.68" cy="770.70" r="4.75" fill="#B3B3B3" stroke="#000" stroke-width="1.25"/>
<circle cx="757.24" cy="793.06" r="4.75" fill="#B3B3B3" stroke="#000" stroke-width="1.25"/>
<circle cx="745.46" cy="770.68" r="4.75" fill="#B3B3B3" stroke="#000" stroke-width="1.25"/>
<circle cx="730.64" cy="752.58" r="4.75" fill="#B3B3B3" stroke="#000" stroke-width="1.25"/>
<circle cx="766.56" cy="758.19" r="4.75" fill="#B3B3B3" stroke="#000" stroke-width="1.25"/>
<circle cx="740.10" cy="753.73" r="4.75" fill="#B3B3B3" stroke="#000" stroke-width="1.25"/>
<circle cx="798.78" cy="769.29" r="4.75" fill="#B3B3B3" stroke="#000" stroke-width="1.25"/>
<circle cx="748.89" cy="755.88" r="4.75" fill="#B3B3B3" stroke="#000" stroke-width="1.25"/>
<circle cx="740.79" cy="800.15" r="4.75" fill="#B3B3B3" stroke="#000" stroke-width="1.25"/>
<circle cx="786.70" cy="747.62" r="4.75" fill="#B3B3B3" stroke="#000" stroke-width="1.25"/>
<circle cx="767.95" cy="776.54" r="4.75" fill="#B3B3B3" stroke="#000" stroke-width="1.25"/>
<circle cx="730.91" cy="792.71" r="4.75" fill="#B3B3B3" stroke="#000" stroke-width="1.25"/>
<circle cx="708.87" cy="771.42" r="4.75" fill="#B3B3B3" stroke="#000" stroke-width="1.25"/>
<circle cx="797.19" cy="756.58" r="4.75" fill="#B3B3B3" stroke="#000" stroke-width="1.25"/>
<circle cx="735.41" cy="806.51" r="4.75" fill="#B3B3B3" stroke="#000" stroke-width="1.25"/>
<circle cx="720.81" cy="741.29" r="4.75" fill="#B3B3B3" stroke="#000" stroke-width="1.25"/>
<circle cx="791.60" cy="784.02" r="4.75" fill="#B3B3B3" stroke="#000" stroke-width="1.25"/>
<circle cx="760.62" cy="782.40" r="4.75" fill="#B3B3B3" stroke="#000" stroke-width="1.25"/>
<circle cx="775.40" cy="783.56" r="4.75" fill="#B3B3B3" stroke="#000" stroke-width="1.25"/>
<circle cx="823.10" cy="574.50" r="4.75" fill="#B3B3B3" stroke="#000" stroke-width="1.25"/>
<circle cx="744.50" cy="604.50" r="4.75" fill="#B3B3B3" stroke="#000" stroke-width="1.25"/>
<circle cx="741.30" cy="608.70" r="4.75" fill="#B3B3B3" stroke="#000" stroke-width="1.25"/>
<circle cx="759.60" cy="627.30" r="4.75" fill="#B3B3B3" stroke="#000" stroke-width="1.25"/>
<circle cx="754.20" cy="636.40" r="4.75" fill="#B3B3B3" stroke="#000" stroke-width="1.25"/>
<circle cx="775.50" cy="646.70" r="4.75" fill="#B3B3B3" stroke="#000" stroke-width="1.25"/>
<circle cx="819.60" cy="643.60" r="4.75" fill="#B3B3B3" stroke="#000" stroke-width="1.25"/>
<circle cx="812.80" cy="655.40" r="4.75" fill="#B3B3B3" stroke="#000" stroke-width="1.25"/>
<circle cx="813.80" cy="660.20" r="4.75" fill="#B3B3B3" stroke="#000" stroke-width="1.25"/>
<circle cx="786.70" cy="674.70" r="4.75" fill="#B3B3B3" stroke="#000" stroke-width="1.25"/>
<circle cx="859.80" cy="672.20" r="4.75" fill="#B3B3B3" stroke="#000" stroke-width="1.25"/>
<circle cx="856.00" cy="680.30" r="4.75" fill="#B3B3B3" stroke="#000" stroke-width="1.25"/>
<circle cx="836.00" cy="682.20" r="4.75" fill="#B3B3B3" stroke="#000" stroke-width="1.25"/>
<circle cx="848.60" cy="691.00" r="4.75" fill="#B3B3B3" stroke="#000" stroke-width="1.25"/>
<circle cx="732.00" cy="690.60" r="4.75" fill="#B3B3B3" stroke="#000" stroke-width="1.25"/>
<circle cx="751.90" cy="686.70" r="4.75" fill="#B3B3B3" stroke="#000" stroke-width="1.25"/>
<circle cx="756.20" cy="688.00" r="4.75" fill="#B3B3B3" stroke="#000" stroke-width="1.25"/>
<circle cx="763.50" cy="684.20" r="4.75" fill="#B3B3B3" stroke="#000" stroke-width="1.25"/>
<circle cx="801.20" cy="691.50" r="4.75" fill="#B3B3B3" stroke="#000" stroke-width="1.25"/>
<circle cx="809.90" cy="687.70" r="4.75" fill="#B3B3B3" stroke="#000" stroke-width="1.25"/>
<circle cx="813.80" cy="694.80" r="4.75" fill="#B3B3B3" stroke="#000" stroke-width="1.25"/>
<circle cx="736.80" cy="697.70" r="4.75" fill="#B3B3B3" stroke="#000" stroke-width="1.25"/>
<circle cx="730.60" cy="702.00" r="4.75" fill="#B3B3B3" stroke="#000" stroke-width="1.25"/>
<circle cx="735.50" cy="707.00" r="4.75" fill="#B3B3B3" stroke="#000" stroke-width="1.25"/>
<circle cx="738.00" cy="711.70" r="4.75" fill="#B3B3B3" stroke="#000" stroke-width="1.25"/>
<circle cx="764.50" cy="700.10" r="4.75" fill="#B3B3B3" stroke="#000" stroke-width="1.25"/>
<circle cx="755.80" cy="690.00" r="4.75" fill="#B3B3B3" stroke="#000" stroke-width="1.25"/>
<circle cx="835.50" cy="700.10" r="4.75" fill="#B3B3B3" stroke="#000" stroke-width="1.25"/>
<circle cx="860.80" cy="711.70" r="4.75" fill="#B3B3B3" stroke="#000" stroke-width="1.25"/>
<circle cx="817.70" cy="711.30" r="4.75" fill="#B3B3B3" stroke="#000" stroke-width="1.25"/>
<circle cx="799.30" cy="715.10" r="4.75" fill="#B3B3B3" stroke="#000" stroke-width="1.25"/>
<circle cx="812.20" cy="716.70" r="4.75" fill="#B3B3B3" stroke="#000" stroke-width="1.25"/>
<circle cx="821.50" cy="724.80" r="4.75" fill="#B3B3B3" stroke="#000" stroke-width="1.25"/>
<circle cx="831.60" cy="723.30" r="4.75" fill="#B3B3B3" stroke="#000" stroke-width="1.25"/>
<circle cx="768.70" cy="715.10" r="4.75" fill="#B3B3B3" stroke="#000" stroke-width="1.25"/>
<circle cx="752.90" cy="716.70" r="4.75" fill="#B3B3B3" stroke="#000" stroke-width="1.25"/>
<circle cx="765.80" cy="721.00" r="4.75" fill="#B3B3B3" stroke="#000" stroke-width="1.25"/>
<circle cx="753.80" cy="726.80" r="4.75" fill="#B3B3B3" stroke="#000" stroke-width="1.25"/>
<circle cx="779.00" cy="726.80" r="4.75" fill="#B3B3B3" stroke="#000" stroke-width="1.25"/>
<circle cx="719.00" cy="724.80" r="4.75" fill="#B3B3B3" stroke="#000" stroke-width="1.25"/>
<circle cx="723.80" cy="727.70" r="4.75" fill="#B3B3B3" stroke="#000" stroke-width="1.25"/>
<circle cx="731.60" cy="724.80" r="4.75" fill="#B3B3B3" stroke="#000" stroke-width="1.25"/>
<circle cx="736.40" cy="726.80" r="4.75" fill="#B3B3B3" stroke="#000" stroke-width="1.25"/>
<circle cx="717.10" cy="734.90" r="4.75" fill="#B3B3B3" stroke="#000" stroke-width="1.25"/>
<circle cx="705.50" cy="745.10" r="4.75" fill="#B3B3B3" stroke="#000" stroke-width="1.25"/>
<circle cx="746.10" cy="737.40" r="4.75" fill="#B3B3B3" stroke="#000" stroke-width="1.25"/>
<circle cx="751.90" cy="743.20" r="4.75" fill="#B3B3B3" stroke="#000" stroke-width="1.25"/>
<circle cx="758.70" cy="741.30" r="4.75" fill="#B3B3B3" stroke="#000" stroke-width="1.25"/>
<circle cx="726.80" cy="746.50" r="4.75" fill="#B3B3B3" stroke="#000" stroke-width="1.25"/>
<circle cx="734.50" cy="746.10" r="4.75" fill="#B3B3B3" stroke="#000" stroke-width="1.25"/>
<circle cx="744.20" cy="748.00" r="4.75" fill="#B3B3B3" stroke="#000" stroke-width="1.25"/>
<circle cx="775.10" cy="741.30" r="4.75" fill="#B3B3B3" stroke="#000" stroke-width="1.25"/>
<circle cx="779.00" cy="736.40" r="4.75" fill="#B3B3B3" stroke="#000" stroke-width="1.25"/>
<circle cx="789.60" cy="745.10" r="4.75" fill="#B3B3B3" stroke="#000" stroke-width="1.25"/>
<circle cx="804.10" cy="741.30" r="4.75" fill="#B3B3B3" stroke="#000" stroke-width="1.25"/>
<circle cx="805.10" cy="745.10" r="4.75" fill="#B3B3B3" stroke="#000" stroke-width="1.25"/>
<circle cx="767.40" cy="745.10" r="4.75" fill="#B3B3B3" stroke="#000" stroke-width="1.25"/>
<circle cx="779.00" cy="751.90" r="4.75" fill="#B3B3B3" stroke="#000" stroke-width="1.25"/>
<circle cx="791.50" cy="753.80" r="4.75" fill="#B3B3B3" stroke="#000" stroke-width="1.25"/>
<circle cx="800.30" cy="753.80" r="4.75" fill="#B3B3B3" stroke="#000" stroke-width="1.25"/>
<circle cx="820.60" cy="749.00" r="4.75" fill="#B3B3B3" stroke="#000" stroke-width="1.25"/>
<circle cx="831.20" cy="751.90" r="4.75" fill="#B3B3B3" stroke="#000" stroke-width="1.25"/>
<circle cx="839.90" cy="745.10" r="4.75" fill="#B3B3B3" stroke="#000" stroke-width="1.25"/>
<circle cx="843.80" cy="736.40" r="4.75" fill="#B3B3B3" stroke="#000" stroke-width="1.25"/>
<circle cx="849.60" cy="739.30" r="4.75" fill="#B3B3B3" stroke="#000" stroke-width="1.25"/>
<circle cx="854.00" cy="731.60" r="4.75" fill="#B3B3B3" stroke="#000" stroke-width="1.25"/>
<circle cx="882.10" cy="739.30" r="4.75" fill="#B3B3B3" stroke="#000" stroke-width="1.25"/>
<circle cx="721.00" cy="758.70" r="4.75" fill="#B3B3B3" stroke="#000" stroke-width="1.25"/>
<circle cx="727.70" cy="757.70" r="4.75" fill="#B3B3B3" stroke="#000" stroke-width="1.25"/>
<circle cx="736.40" cy="758.70" r="4.75" fill="#B3B3B3" stroke="#000" stroke-width="1.25"/>
<circle cx="750.00" cy="757.70" r="4.75" fill="#B3B3B3" stroke="#000" stroke-width="1.25"/>
<circle cx="763.50" cy="755.80" r="4.75" fill="#B3B3B3" stroke="#000" stroke-width="1.25"/>
<circle cx="779.90" cy="755.80" r="4.75" fill="#B3B3B3" stroke="#000" stroke-width="1.25"/>
<circle cx="811.90" cy="757.70" r="4.75" fill="#B3B3B3" stroke="#000" stroke-width="1.25"/>
<circle cx="817.70" cy="755.80" r="4.75" fill="#B3B3B3" stroke="#000" stroke-width="1.25"/>
<circle cx="826.40" cy="755.80" r="4.75" fill="#B3B3B3" stroke="#000" stroke-width="1.25"/>
<circle cx="841.80" cy="758.10" r="4.75" fill="#B3B3B3" stroke="#000" stroke-width="1.25"/>
<circle cx="856.30" cy="751.90" r="4.75" fill="#B3B3B3" stroke="#000" stroke-width="1.25"/>
<circle cx="855.40" cy="760.00" r="4.75" fill="#B3B3B3" stroke="#000" stroke-width="1.25"/>
<circle cx="857.30" cy="765.40" r="4.75" fill="#B3B3B3" stroke="#000" stroke-width="1.25"/>
<circle cx="864.10" cy="771.20" r="4.75" fill="#B3B3B3" stroke="#000" stroke-width="1.25"/>
<circle cx="730.60" cy="764.50" r="4.75" fill="#B3B3B3" stroke="#000" stroke-width="1.25"/>
<circle cx="744.20" cy="763.50" r="4.75" fill="#B3B3B3" stroke="#000" stroke-width="1.25"/>
<circle cx="765.40" cy="763.50" r="4.75" fill="#B3B3B3" stroke="#000" stroke-width="1.25"/>
<circle cx="775.10" cy="762.50" r="4.75" fill="#B3B3B3" stroke="#000" stroke-width="1.25"/>
<circle cx="752.90" cy="767.40" r="4.75" fill="#B3B3B3" stroke="#000" stroke-width="1.25"/>
<circle cx="800.30" cy="766.40" r="4.75" fill="#B3B3B3" stroke="#000" stroke-width="1.25"/>
<circle cx="831.20" cy="766.40" r="4.75" fill="#B3B3B3" stroke="#000" stroke-width="1.25"/>
<circle cx="837.00" cy="767.40" r="4.75" fill="#B3B3B3" stroke="#000" stroke-width="1.25"/>
<circle cx="812.80" cy="769.30" r="4.75" fill="#B3B3B3" stroke="#000" stroke-width="1.25"/>
<circle cx="834.10" cy="773.20" r="4.75" fill="#B3B3B3" stroke="#000" stroke-width="1.25"/>
<circle cx="841.80" cy="776.10" r="4.75" fill="#B3B3B3" stroke="#000" stroke-width="1.25"/>
<circle cx="850.50" cy="780.90" r="4.75" fill="#B3B3B3" stroke="#000" stroke-width="1.25"/>
<circle cx="864.10" cy="784.80" r="4.75" fill="#B3B3B3" stroke="#000" stroke-width="1.25"/>
<circle cx="742.20" cy="774.10" r="4.75" fill="#B3B3B3" stroke="#000" stroke-width="1.25"/>
<circle cx="762.50" cy="771.20" r="4.75" fill="#B3B3B3" stroke="#000" stroke-width="1.25"/>
<circle cx="771.20" cy="776.10" r="4.75" fill="#B3B3B3" stroke="#000" stroke-width="1.25"/>
<circle cx="781.90" cy="771.20" r="4.75" fill="#B3B3B3" stroke="#000" stroke-width="1.25"/>
<circle cx="790.60" cy="776.10" r="4.75" fill="#B3B3B3" stroke="#000" stroke-width="1.25"/>
<circle cx="817.70" cy="778.00" r="4.75" fill="#B3B3B3" stroke="#000" stroke-width="1.25"/>
<circle cx="719.00" cy="777.00" r="4.75" fill="#B3B3B3" stroke="#000" stroke-width="1.25"/>
<circle cx="722.90" cy="779.90" r="4.75" fill="#B3B3B3" stroke="#000" stroke-width="1.25"/>
<circle cx="731.60" cy="780.90" r="4.75" fill="#B3B3B3" stroke="#000" stroke-width="1.25"/>
<circle cx="709.30" cy="784.80" r="4.75" fill="#B3B3B3" stroke="#000" stroke-width="1.25"/>
<circle cx="741.30" cy="783.80" r="4.75" fill="#B3B3B3" stroke="#000" stroke-width="1.25"/>
<circle cx="752.90" cy="781.90" r="4.75" fill="#B3B3B3" stroke="#000" stroke-width="1.25"/>
<circle cx="775.10" cy="782.80" r="4.75" fill="#B3B3B3" stroke="#000" stroke-width="1.25"/>
<circle cx="786.70" cy="783.80" r="4.75" fill="#B3B3B3" stroke="#000" stroke-width="1.25"/>
<circle cx="804.10" cy="781.90" r="4.75" fill="#B3B3B3" stroke="#000" stroke-width="1.25"/>
<circle cx="806.10" cy="784.80" r="4.75" fill="#B3B3B3" stroke="#000" stroke-width="1.25"/>
<circle cx="711.30" cy="787.40" r="4.75" fill="#B3B3B3" stroke="#000" stroke-width="1.25"/>
<circle cx="742.20" cy="783.20" r="4.75" fill="#B3B3B3" stroke="#000" stroke-width="1.25"/>
<circle cx="772.20" cy="776.80" r="4.75" fill="#B3B3B3" stroke="#000" stroke-width="1.25"/>
<circle cx="790.60" cy="782.60" r="4.75" fill="#B3B3B3" stroke="#000" stroke-width="1.25"/>
<circle cx="810.90" cy="783.50" r="4.75" fill="#B3B3B3" stroke="#000" stroke-width="1.25"/>
<circle cx="818.00" cy="777.70" r="4.75" fill="#B3B3B3" stroke="#000" stroke-width="1.25"/>
<circle cx="833.10" cy="777.70" r="4.75" fill="#B3B3B3" stroke="#000" stroke-width="1.25"/>
<circle cx="849.60" cy="785.50" r="4.75" fill="#B3B3B3" stroke="#000" stroke-width="1.25"/>
<circle cx="864.10" cy="771.90" r="4.75" fill="#B3B3B3" stroke="#000" stroke-width="1.25"/>
<circle cx="819.60" cy="790.30" r="4.75" fill="#B3B3B3" stroke="#000" stroke-width="1.25"/>
<circle cx="831.20" cy="793.60" r="4.75" fill="#B3B3B3" stroke="#000" stroke-width="1.25"/>
<circle cx="744.20" cy="791.70" r="4.75" fill="#B3B3B3" stroke="#000" stroke-width="1.25"/>
<circle cx="728.70" cy="794.20" r="4.75" fill="#B3B3B3" stroke="#000" stroke-width="1.25"/>
<circle cx="738.40" cy="798.00" r="4.75" fill="#B3B3B3" stroke="#000" stroke-width="1.25"/>
<circle cx="755.80" cy="794.20" r="4.75" fill="#B3B3B3" stroke="#000" stroke-width="1.25"/>
<circle cx="761.60" cy="793.20" r="4.75" fill="#B3B3B3" stroke="#000" stroke-width="1.25"/>
<circle cx="769.30" cy="789.30" r="4.75" fill="#B3B3B3" stroke="#000" stroke-width="1.25"/>
<circle cx="773.20" cy="798.00" r="4.75" fill="#B3B3B3" stroke="#000" stroke-width="1.25"/>
<circle cx="780.90" cy="792.20" r="4.75" fill="#B3B3B3" stroke="#000" stroke-width="1.25"/>
<circle cx="788.60" cy="796.10" r="4.75" fill="#B3B3B3" stroke="#000" stroke-width="1.25"/>
<circle cx="796.40" cy="793.20" r="4.75" fill="#B3B3B3" stroke="#000" stroke-width="1.25"/>
<circle cx="804.10" cy="787.40" r="4.75" fill="#B3B3B3" stroke="#000" stroke-width="1.25"/>
<circle cx="709.30" cy="801.90" r="4.75" fill="#B3B3B3" stroke="#000" stroke-width="1.25"/>
<circle cx="709.30" cy="811.00" r="4.75" fill="#B3B3B3" stroke="#000" stroke-width="1.25"/>
<circle cx="728.70" cy="805.80" r="4.75" fill="#B3B3B3" stroke="#000" stroke-width="1.25"/>
<circle cx="746.10" cy="806.80" r="4.75" fill="#B3B3B3" stroke="#000" stroke-width="1.25"/>
<circle cx="756.70" cy="800.60" r="4.75" fill="#B3B3B3" stroke="#000" stroke-width="1.25"/>
<circle cx="762.50" cy="810.60" r="4.75" fill="#B3B3B3" stroke="#000" stroke-width="1.25"/>
<circle cx="770.30" cy="807.70" r="4.75" fill="#B3B3B3" stroke="#000" stroke-width="1.25"/>
<circle cx="787.70" cy="800.90" r="4.75" fill="#B3B3B3" stroke="#000" stroke-width="1.25"/>
<circle cx="788.30" cy="812.20" r="4.75" fill="#B3B3B3" stroke="#000" stroke-width="1.25"/>
<circle cx="806.10" cy="806.80" r="4.75" fill="#B3B3B3" stroke="#000" stroke-width="1.25"/>
<circle cx="809.90" cy="805.80" r="4.75" fill="#B3B3B3" stroke="#000" stroke-width="1.25"/>
<circle cx="813.80" cy="817.40" r="4.75" fill="#B3B3B3" stroke="#000" stroke-width="1.25"/>
<circle cx="811.50" cy="823.20" r="4.75" fill="#B3B3B3" stroke="#000" stroke-width="1.25"/>
<circle cx="724.80" cy="813.50" r="4.75" fill="#B3B3B3" stroke="#000" stroke-width="1.25"/>
<circle cx="733.50" cy="817.40" r="4.75" fill="#B3B3B3" stroke="#000" stroke-width="1.25"/>
<circle cx="753.80" cy="816.40" r="4.75" fill="#B3B3B3" stroke="#000" stroke-width="1.25"/>
<circle cx="769.30" cy="821.30" r="4.75" fill="#B3B3B3" stroke="#000" stroke-width="1.25"/>
<circle cx="772.20" cy="817.40" r="4.75" fill="#B3B3B3" stroke="#000" stroke-width="1.25"/>
<circle cx="720.00" cy="824.50" r="4.75" fill="#B3B3B3" stroke="#000" stroke-width="1.25"/>
<circle cx="727.70" cy="834.20" r="4.75" fill="#B3B3B3" stroke="#000" stroke-width="1.25"/>
<circle cx="736.80" cy="835.40" r="4.75" fill="#B3B3B3" stroke="#000" stroke-width="1.25"/>
<circle cx="864.70" cy="817.00" r="4.75" fill="#B3B3B3" stroke="#000" stroke-width="1.25"/>
<circle cx="896.20" cy="658.00" r="4.75" fill="#B3B3B3" stroke="#000" stroke-width="1.25"/>
<circle cx="894.20" cy="699.20" r="4.75" fill="#B3B3B3" stroke="#000" stroke-width="1.25"/>
<circle cx="882.90" cy="739.50" r="4.75" fill="#B3B3B3" stroke="#000" stroke-width="1.25"/>
<circle cx="917.30" cy="735.70" r="4.75" fill="#B3B3B3" stroke="#000" stroke-width="1.25"/>
<circle cx="934.00" cy="739.10" r="4.75" fill="#B3B3B3" stroke="#000" stroke-width="1.25"/>
<circle cx="988.10" cy="745.20" r="4.75" fill="#B3B3B3" stroke="#000" stroke-width="1.25"/>
<circle cx="907.00" cy="767.00" r="4.75" fill="#B3B3B3" stroke="#000" stroke-width="1.25"/>
<circle cx="924.50" cy="803.50" r="4.75" fill="#B3B3B3" stroke="#000" stroke-width="1.25"/>
<circle cx="849.00" cy="690.00" r="4.75" fill="#B3B3B3" stroke="#000" stroke-width="1.25"/>
<path d="M134.10,1267.52 L139.24,1266.22 L144.38,1264.91 L149.52,1263.59 L154.66,1262.25 L159.80,1260.89 L164.94,1259.52 L170.08,1258.12 L175.22,1256.70 L180.36,1255.24 L185.50,1253.75 L190.64,1252.22 L195.78,1250.63 L200.92,1248.97 L206.06,1247.25 L211.20,1245.43 L216.34,1243.51 L221.48,1241.46 L226.62,1239.28 L231.76,1236.96 L236.90,1234.48 L242.04,1231.84 L247.18,1229.06 L252.32,1226.13 L257.46,1223.08 L262.60,1219.93 L267.74,1216.68 L272.88,1213.35 L278.02,1209.95 L283.16,1206.50 L288.30,1203.00 L293.44,1199.46 L298.58,1195.89 L303.72,1192.29 L308.86,1188.67 L314.00,1185.03 L319.14,1181.37 L324.28,1177.70 L329.42,1174.01 L334.56,1170.31 L339.70,1166.60 L344.84,1162.89 L349.98,1159.16 L355.12,1155.43 L360.26,1151.70 L365.40,1147.95 L370.54,1144.21 L375.68,1140.46 L380.82,1136.70 L385.96,1132.94 L391.10,1129.18 L396.24,1125.41 L401.38,1121.65 L406.52,1117.88 L411.66,1114.10 L416.80,1110.33 L421.94,1106.55 L427.08,1102.77 L432.22,1098.99 L437.36,1095.21 L442.50,1091.43 L442.50,1199.50 L437.36,1200.72 L432.22,1201.94 L427.08,1203.16 L421.94,1204.38 L416.80,1205.60 L411.66,1206.83 L406.52,1208.06 L401.38,1209.29 L396.24,1210.52 L391.10,1211.76 L385.96,1213.00 L380.82,1214.24 L375.68,1215.49 L370.54,1216.74 L365.40,1217.99 L360.26,1219.25 L355.12,1220.51 L349.98,1221.78 L344.84,1223.06 L339.70,1224.35 L334.56,1225.64 L329.42,1226.94 L324.28,1228.26 L319.14,1229.59 L314.00,1230.93 L308.86,1232.29 L303.72,1233.67 L298.58,1235.07 L293.44,1236.50 L288.30,1237.96 L283.16,1239.47 L278.02,1241.02 L272.88,1242.62 L267.74,1244.29 L262.60,1246.04 L257.46,1247.89 L252.32,1249.84 L247.18,1251.92 L242.04,1254.13 L236.90,1256.50 L231.76,1259.02 L226.62,1261.69 L221.48,1264.52 L216.34,1267.47 L211.20,1270.55 L206.06,1273.74 L200.92,1277.01 L195.78,1280.36 L190.64,1283.77 L185.50,1287.24 L180.36,1290.74 L175.22,1294.29 L170.08,1297.87 L164.94,1301.47 L159.80,1305.10 L154.66,1308.75 L149.52,1312.41 L144.38,1316.09 L139.24,1319.78 L134.10,1323.48Z" fill="#CCCCCC"/>
<line x1="134.10" y1="1295.50" x2="442.50" y2="1145.50" stroke="#F20000" stroke-width="5.2" />
<circle cx="442.00" cy="1041.50" r="4.75" fill="#B3B3B3" stroke="#000" stroke-width="1.25"/>
<circle cx="234.70" cy="1077.80" r="4.75" fill="#B3B3B3" stroke="#000" stroke-width="1.25"/>
<circle cx="286.00" cy="1094.40" r="4.75" fill="#B3B3B3" stroke="#000" stroke-width="1.25"/>
<circle cx="306.30" cy="1102.20" r="4.75" fill="#B3B3B3" stroke="#000" stroke-width="1.25"/>
<circle cx="219.20" cy="1107.00" r="4.75" fill="#B3B3B3" stroke="#000" stroke-width="1.25"/>
<circle cx="235.50" cy="1102.90" r="4.75" fill="#B3B3B3" stroke="#000" stroke-width="1.25"/>
<circle cx="254.00" cy="1102.20" r="4.75" fill="#B3B3B3" stroke="#000" stroke-width="1.25"/>
<circle cx="234.70" cy="1120.50" r="4.75" fill="#B3B3B3" stroke="#000" stroke-width="1.25"/>
<circle cx="302.80" cy="1124.40" r="4.75" fill="#B3B3B3" stroke="#000" stroke-width="1.25"/>
<circle cx="261.60" cy="1133.50" r="4.75" fill="#B3B3B3" stroke="#000" stroke-width="1.25"/>
<circle cx="267.60" cy="1144.50" r="4.75" fill="#B3B3B3" stroke="#000" stroke-width="1.25"/>
<circle cx="209.40" cy="1156.70" r="4.75" fill="#B3B3B3" stroke="#000" stroke-width="1.25"/>
<circle cx="229.30" cy="1158.60" r="4.75" fill="#B3B3B3" stroke="#000" stroke-width="1.25"/>
<circle cx="243.40" cy="1165.80" r="4.75" fill="#B3B3B3" stroke="#000" stroke-width="1.25"/>
<circle cx="285.40" cy="1166.40" r="4.75" fill="#B3B3B3" stroke="#000" stroke-width="1.25"/>
<circle cx="255.40" cy="1180.90" r="4.75" fill="#B3B3B3" stroke="#000" stroke-width="1.25"/>
<circle cx="335.30" cy="1155.60" r="4.75" fill="#B3B3B3" stroke="#000" stroke-width="1.25"/>
<circle cx="203.20" cy="1198.30" r="4.75" fill="#B3B3B3" stroke="#000" stroke-width="1.25"/>
<circle cx="211.90" cy="1198.90" r="4.75" fill="#B3B3B3" stroke="#000" stroke-width="1.25"/>
<circle cx="225.40" cy="1195.40" r="4.75" fill="#B3B3B3" stroke="#000" stroke-width="1.25"/>
<circle cx="243.40" cy="1199.30" r="4.75" fill="#B3B3B3" stroke="#000" stroke-width="1.25"/>
<circle cx="253.50" cy="1198.30" r="4.75" fill="#B3B3B3" stroke="#000" stroke-width="1.25"/>
<circle cx="400.00" cy="1221.50" r="4.75" fill="#B3B3B3" stroke="#000" stroke-width="1.25"/>
<circle cx="399.00" cy="1245.50" r="4.75" fill="#B3B3B3" stroke="#000" stroke-width="1.25"/>
<circle cx="133.90" cy="1209.30" r="4.75" fill="#B3B3B3" stroke="#000" stroke-width="1.25"/>
<circle cx="198.30" cy="1204.50" r="4.75" fill="#B3B3B3" stroke="#000" stroke-width="1.25"/>
<circle cx="208.00" cy="1205.50" r="4.75" fill="#B3B3B3" stroke="#000" stroke-width="1.25"/>
<circle cx="215.70" cy="1212.80" r="4.75" fill="#B3B3B3" stroke="#000" stroke-width="1.25"/>
<circle cx="220.60" cy="1214.20" r="4.75" fill="#B3B3B3" stroke="#000" stroke-width="1.25"/>
<circle cx="250.20" cy="1217.50" r="4.75" fill="#B3B3B3" stroke="#000" stroke-width="1.25"/>
<circle cx="176.10" cy="1226.40" r="4.75" fill="#B3B3B3" stroke="#000" stroke-width="1.25"/>
<circle cx="186.70" cy="1231.60" r="4.75" fill="#B3B3B3" stroke="#000" stroke-width="1.25"/>
<circle cx="203.60" cy="1226.40" r="4.75" fill="#B3B3B3" stroke="#000" stroke-width="1.25"/>
<circle cx="216.10" cy="1229.30" r="4.75" fill="#B3B3B3" stroke="#000" stroke-width="1.25"/>
<circle cx="225.80" cy="1237.40" r="4.75" fill="#B3B3B3" stroke="#000" stroke-width="1.25"/>
<circle cx="198.30" cy="1239.30" r="4.75" fill="#B3B3B3" stroke="#000" stroke-width="1.25"/>
<circle cx="199.30" cy="1245.10" r="4.75" fill="#B3B3B3" stroke="#000" stroke-width="1.25"/>
<circle cx="210.90" cy="1245.10" r="4.75" fill="#B3B3B3" stroke="#000" stroke-width="1.25"/>
<circle cx="258.90" cy="1234.10" r="4.75" fill="#B3B3B3" stroke="#000" stroke-width="1.25"/>
<circle cx="282.90" cy="1226.40" r="4.75" fill="#B3B3B3" stroke="#000" stroke-width="1.25"/>
<circle cx="291.20" cy="1226.80" r="4.75" fill="#B3B3B3" stroke="#000" stroke-width="1.25"/>
<circle cx="298.30" cy="1244.20" r="4.75" fill="#B3B3B3" stroke="#000" stroke-width="1.25"/>
<circle cx="278.20" cy="1249.60" r="4.75" fill="#B3B3B3" stroke="#000" stroke-width="1.25"/>
<circle cx="293.10" cy="1254.40" r="4.75" fill="#B3B3B3" stroke="#000" stroke-width="1.25"/>
<circle cx="247.70" cy="1249.60" r="4.75" fill="#B3B3B3" stroke="#000" stroke-width="1.25"/>
<circle cx="202.80" cy="1258.70" r="4.75" fill="#B3B3B3" stroke="#000" stroke-width="1.25"/>
<circle cx="212.30" cy="1259.10" r="4.75" fill="#B3B3B3" stroke="#000" stroke-width="1.25"/>
<circle cx="223.10" cy="1257.30" r="4.75" fill="#B3B3B3" stroke="#000" stroke-width="1.25"/>
<circle cx="195.80" cy="1262.50" r="4.75" fill="#B3B3B3" stroke="#000" stroke-width="1.25"/>
<circle cx="194.50" cy="1269.30" r="4.75" fill="#B3B3B3" stroke="#000" stroke-width="1.25"/>
<circle cx="206.10" cy="1270.30" r="4.75" fill="#B3B3B3" stroke="#000" stroke-width="1.25"/>
<circle cx="217.70" cy="1267.00" r="4.75" fill="#B3B3B3" stroke="#000" stroke-width="1.25"/>
<circle cx="222.50" cy="1272.20" r="4.75" fill="#B3B3B3" stroke="#000" stroke-width="1.25"/>
<circle cx="231.20" cy="1268.90" r="4.75" fill="#B3B3B3" stroke="#000" stroke-width="1.25"/>
<circle cx="238.00" cy="1268.30" r="4.75" fill="#B3B3B3" stroke="#000" stroke-width="1.25"/>
<circle cx="248.60" cy="1268.90" r="4.75" fill="#B3B3B3" stroke="#000" stroke-width="1.25"/>
<circle cx="267.40" cy="1262.50" r="4.75" fill="#B3B3B3" stroke="#000" stroke-width="1.25"/>
<circle cx="271.80" cy="1270.90" r="4.75" fill="#B3B3B3" stroke="#000" stroke-width="1.25"/>
<circle cx="274.20" cy="1274.10" r="4.75" fill="#B3B3B3" stroke="#000" stroke-width="1.25"/>
<circle cx="174.70" cy="1271.80" r="4.75" fill="#B3B3B3" stroke="#000" stroke-width="1.25"/>
<circle cx="177.10" cy="1279.90" r="4.75" fill="#B3B3B3" stroke="#000" stroke-width="1.25"/>
<circle cx="183.40" cy="1281.90" r="4.75" fill="#B3B3B3" stroke="#000" stroke-width="1.25"/>
<circle cx="194.50" cy="1279.90" r="4.75" fill="#B3B3B3" stroke="#000" stroke-width="1.25"/>
<circle cx="195.40" cy="1287.70" r="4.75" fill="#B3B3B3" stroke="#000" stroke-width="1.25"/>
<circle cx="219.20" cy="1278.00" r="4.75" fill="#B3B3B3" stroke="#000" stroke-width="1.25"/>
<circle cx="215.70" cy="1285.70" r="4.75" fill="#B3B3B3" stroke="#000" stroke-width="1.25"/>
<circle cx="231.80" cy="1286.70" r="4.75" fill="#B3B3B3" stroke="#000" stroke-width="1.25"/>
<circle cx="206.10" cy="1289.60" r="4.75" fill="#B3B3B3" stroke="#000" stroke-width="1.25"/>
<circle cx="214.40" cy="1292.10" r="4.75" fill="#B3B3B3" stroke="#000" stroke-width="1.25"/>
<circle cx="225.40" cy="1295.40" r="4.75" fill="#B3B3B3" stroke="#000" stroke-width="1.25"/>
<circle cx="235.70" cy="1295.40" r="4.75" fill="#B3B3B3" stroke="#000" stroke-width="1.25"/>
<circle cx="245.70" cy="1294.40" r="4.75" fill="#B3B3B3" stroke="#000" stroke-width="1.25"/>
<circle cx="246.30" cy="1297.70" r="4.75" fill="#B3B3B3" stroke="#000" stroke-width="1.25"/>
<circle cx="253.50" cy="1286.70" r="4.75" fill="#B3B3B3" stroke="#000" stroke-width="1.25"/>
<circle cx="256.70" cy="1280.50" r="4.75" fill="#B3B3B3" stroke="#000" stroke-width="1.25"/>
<circle cx="177.60" cy="1297.70" r="4.75" fill="#B3B3B3" stroke="#000" stroke-width="1.25"/>
<circle cx="293.70" cy="1293.90" r="4.75" fill="#B3B3B3" stroke="#000" stroke-width="1.25"/>
<circle cx="282.50" cy="1303.20" r="4.75" fill="#B3B3B3" stroke="#000" stroke-width="1.25"/>
<circle cx="293.50" cy="1313.80" r="4.75" fill="#B3B3B3" stroke="#000" stroke-width="1.25"/>
<circle cx="306.10" cy="1319.60" r="4.75" fill="#B3B3B3" stroke="#000" stroke-width="1.25"/>
<circle cx="265.10" cy="1319.60" r="4.75" fill="#B3B3B3" stroke="#000" stroke-width="1.25"/>
<circle cx="240.90" cy="1308.40" r="4.75" fill="#B3B3B3" stroke="#000" stroke-width="1.25"/>
<circle cx="209.40" cy="1311.90" r="4.75" fill="#B3B3B3" stroke="#000" stroke-width="1.25"/>
<circle cx="180.50" cy="1309.90" r="4.75" fill="#B3B3B3" stroke="#000" stroke-width="1.25"/>
<circle cx="180.00" cy="1313.80" r="4.75" fill="#B3B3B3" stroke="#000" stroke-width="1.25"/>
<circle cx="165.50" cy="1319.60" r="4.75" fill="#B3B3B3" stroke="#000" stroke-width="1.25"/>
<circle cx="175.10" cy="1319.60" r="4.75" fill="#B3B3B3" stroke="#000" stroke-width="1.25"/>
<circle cx="190.60" cy="1319.60" r="4.75" fill="#B3B3B3" stroke="#000" stroke-width="1.25"/>
<circle cx="194.50" cy="1319.60" r="4.75" fill="#B3B3B3" stroke="#000" stroke-width="1.25"/>
<circle cx="205.10" cy="1319.60" r="4.75" fill="#B3B3B3" stroke="#000" stroke-width="1.25"/>
<circle cx="215.70" cy="1319.60" r="4.75" fill="#B3B3B3" stroke="#000" stroke-width="1.25"/>
<circle cx="224.40" cy="1319.60" r="4.75" fill="#B3B3B3" stroke="#000" stroke-width="1.25"/>
<circle cx="234.10" cy="1319.60" r="4.75" fill="#B3B3B3" stroke="#000" stroke-width="1.25"/>
<circle cx="240.90" cy="1319.60" r="4.75" fill="#B3B3B3" stroke="#000" stroke-width="1.25"/>
<path d="M704.50,1761.44 L709.18,1760.56 L713.87,1759.65 L718.55,1758.70 L723.23,1757.69 L727.92,1756.64 L732.60,1755.54 L737.28,1754.37 L741.97,1753.15 L746.65,1751.86 L751.33,1750.50 L756.02,1749.08 L760.70,1747.59 L765.38,1746.02 L770.07,1744.38 L774.75,1742.67 L779.43,1740.90 L784.12,1739.05 L788.80,1737.14 L793.48,1735.16 L798.17,1733.12 L802.85,1731.03 L807.53,1728.88 L812.22,1726.68 L816.90,1724.43 L821.58,1722.15 L826.27,1719.82 L830.95,1717.45 L835.63,1715.06 L840.32,1712.63 L845.00,1710.17 L849.68,1707.69 L854.37,1705.18 L859.05,1702.65 L863.73,1700.10 L868.42,1697.53 L873.10,1694.94 L877.78,1692.34 L882.47,1689.73 L887.15,1687.10 L891.83,1684.46 L896.52,1681.81 L901.20,1679.14 L905.88,1676.47 L910.57,1673.79 L915.25,1671.10 L919.93,1668.40 L924.62,1665.70 L929.30,1662.99 L933.98,1660.27 L938.67,1657.55 L943.35,1654.82 L948.03,1652.09 L952.72,1649.35 L957.40,1646.60 L962.08,1643.86 L966.77,1641.10 L971.45,1638.35 L976.13,1635.59 L980.82,1632.83 L985.50,1630.06 L985.50,1754.93 L980.82,1755.36 L976.13,1755.79 L971.45,1756.23 L966.77,1756.67 L962.08,1757.12 L957.40,1757.57 L952.72,1758.02 L948.03,1758.48 L943.35,1758.94 L938.67,1759.41 L933.98,1759.88 L929.30,1760.36 L924.62,1760.85 L919.93,1761.34 L915.25,1761.84 L910.57,1762.35 L905.88,1762.86 L901.20,1763.39 L896.52,1763.92 L891.83,1764.47 L887.15,1765.02 L882.47,1765.59 L877.78,1766.17 L873.10,1766.77 L868.42,1767.38 L863.73,1768.01 L859.05,1768.66 L854.37,1769.32 L849.68,1770.01 L845.00,1770.73 L840.32,1771.46 L835.63,1772.23 L830.95,1773.03 L826.27,1773.86 L821.58,1774.73 L816.90,1775.64 L812.22,1776.59 L807.53,1777.59 L802.85,1778.64 L798.17,1779.74 L793.48,1780.90 L788.80,1782.12 L784.12,1783.40 L779.43,1784.75 L774.75,1786.17 L770.07,1787.66 L765.38,1789.22 L760.70,1790.85 L756.02,1792.55 L751.33,1794.33 L746.65,1796.17 L741.97,1798.08 L737.28,1800.05 L732.60,1802.08 L727.92,1804.17 L723.23,1806.32 L718.55,1808.51 L713.87,1810.75 L709.18,1813.04 L704.50,1815.36Z" fill="#CCCCCC"/>
<line x1="704.50" y1="1788.40" x2="985.50" y2="1692.50" stroke="#F20000" stroke-width="5.2" />
<line x1="742.00" y1="1557.00" x2="742.00" y2="1854.00" stroke="#111" stroke-width="1.5" stroke-dasharray="4,2"/>
<circle cx="735.70" cy="1579.40" r="4.75" fill="#B3B3B3" stroke="#000" stroke-width="1.25"/>
<circle cx="712.50" cy="1604.40" r="4.75" fill="#B3B3B3" stroke="#000" stroke-width="1.25"/>
<circle cx="768.90" cy="1627.10" r="4.75" fill="#B3B3B3" stroke="#000" stroke-width="1.25"/>
<circle cx="790.30" cy="1621.70" r="4.75" fill="#B3B3B3" stroke="#000" stroke-width="1.25"/>
<circle cx="758.20" cy="1674.80" r="4.75" fill="#B3B3B3" stroke="#000" stroke-width="1.25"/>
<circle cx="933.50" cy="1624.50" r="4.75" fill="#B3B3B3" stroke="#000" stroke-width="1.25"/>
<circle cx="974.50" cy="1622.50" r="4.75" fill="#B3B3B3" stroke="#000" stroke-width="1.25"/>
<circle cx="985.50" cy="1703.50" r="4.75" fill="#B3B3B3" stroke="#000" stroke-width="1.25"/>
<circle cx="978.00" cy="1738.50" r="4.75" fill="#B3B3B3" stroke="#000" stroke-width="1.25"/>
<circle cx="895.50" cy="1773.00" r="4.75" fill="#B3B3B3" stroke="#000" stroke-width="1.25"/>
<circle cx="731.10" cy="1710.60" r="4.75" fill="#B3B3B3" stroke="#000" stroke-width="1.25"/>
<circle cx="748.70" cy="1715.00" r="4.75" fill="#B3B3B3" stroke="#000" stroke-width="1.25"/>
<circle cx="784.00" cy="1723.70" r="4.75" fill="#B3B3B3" stroke="#000" stroke-width="1.25"/>
<circle cx="740.50" cy="1728.60" r="4.75" fill="#B3B3B3" stroke="#000" stroke-width="1.25"/>
<circle cx="713.50" cy="1734.10" r="4.75" fill="#B3B3B3" stroke="#000" stroke-width="1.25"/>
<circle cx="716.30" cy="1738.50" r="4.75" fill="#B3B3B3" stroke="#000" stroke-width="1.25"/>
<circle cx="718.00" cy="1742.30" r="4.75" fill="#B3B3B3" stroke="#000" stroke-width="1.25"/>
<circle cx="739.30" cy="1744.80" r="4.75" fill="#B3B3B3" stroke="#000" stroke-width="1.25"/>
<circle cx="748.70" cy="1740.50" r="4.75" fill="#B3B3B3" stroke="#000" stroke-width="1.25"/>
<circle cx="772.70" cy="1734.40" r="4.75" fill="#B3B3B3" stroke="#000" stroke-width="1.25"/>
<circle cx="839.10" cy="1741.30" r="4.75" fill="#B3B3B3" stroke="#000" stroke-width="1.25"/>
<circle cx="853.10" cy="1749.50" r="4.75" fill="#B3B3B3" stroke="#000" stroke-width="1.25"/>
<circle cx="784.50" cy="1758.20" r="4.75" fill="#B3B3B3" stroke="#000" stroke-width="1.25"/>
<circle cx="787.30" cy="1764.30" r="4.75" fill="#B3B3B3" stroke="#000" stroke-width="1.25"/>
<circle cx="748.40" cy="1769.70" r="4.75" fill="#B3B3B3" stroke="#000" stroke-width="1.25"/>
<circle cx="792.30" cy="1784.00" r="4.75" fill="#B3B3B3" stroke="#000" stroke-width="1.25"/>
<circle cx="706.80" cy="1798.50" r="4.75" fill="#B3B3B3" stroke="#000" stroke-width="1.25"/>
<circle cx="727.50" cy="1799.30" r="4.75" fill="#B3B3B3" stroke="#000" stroke-width="1.25"/>
<circle cx="744.80" cy="1802.60" r="4.75" fill="#B3B3B3" stroke="#000" stroke-width="1.25"/>
<circle cx="711.40" cy="1811.70" r="4.75" fill="#B3B3B3" stroke="#000" stroke-width="1.25"/>
<circle cx="719.30" cy="1809.70" r="4.75" fill="#B3B3B3" stroke="#000" stroke-width="1.25"/>
<circle cx="744.80" cy="1812.50" r="4.75" fill="#B3B3B3" stroke="#000" stroke-width="1.25"/>
<circle cx="776.30" cy="1805.90" r="4.75" fill="#B3B3B3" stroke="#000" stroke-width="1.25"/>
<circle cx="778.30" cy="1816.60" r="4.75" fill="#B3B3B3" stroke="#000" stroke-width="1.25"/>
<circle cx="765.30" cy="1818.70" r="4.75" fill="#B3B3B3" stroke="#000" stroke-width="1.25"/>
<circle cx="758.20" cy="1825.30" r="4.75" fill="#B3B3B3" stroke="#000" stroke-width="1.25"/>
<circle cx="757.10" cy="1835.50" r="4.75" fill="#B3B3B3" stroke="#000" stroke-width="1.25"/>
<circle cx="731.90" cy="1822.00" r="4.75" fill="#B3B3B3" stroke="#000" stroke-width="1.25"/>
<circle cx="720.40" cy="1824.30" r="4.75" fill="#B3B3B3" stroke="#000" stroke-width="1.25"/>
<circle cx="710.10" cy="1826.00" r="4.75" fill="#B3B3B3" stroke="#000" stroke-width="1.25"/>
<circle cx="704.00" cy="1831.70" r="4.75" fill="#B3B3B3" stroke="#000" stroke-width="1.25"/>
<circle cx="709.40" cy="1831.70" r="4.75" fill="#B3B3B3" stroke="#000" stroke-width="1.25"/>
<circle cx="716.30" cy="1838.00" r="4.75" fill="#B3B3B3" stroke="#000" stroke-width="1.25"/>
<circle cx="724.50" cy="1835.50" r="4.75" fill="#B3B3B3" stroke="#000" stroke-width="1.25"/>
<circle cx="729.10" cy="1836.30" r="4.75" fill="#B3B3B3" stroke="#000" stroke-width="1.25"/>
<circle cx="741.00" cy="1838.00" r="4.75" fill="#B3B3B3" stroke="#000" stroke-width="1.25"/>
<circle cx="773.50" cy="1850.30" r="4.75" fill="#B3B3B3" stroke="#000" stroke-width="1.25"/>
<circle cx="784.00" cy="1842.90" r="4.75" fill="#B3B3B3" stroke="#000" stroke-width="1.25"/>
<circle cx="798.50" cy="1845.40" r="4.75" fill="#B3B3B3" stroke="#000" stroke-width="1.25"/>
<circle cx="845.40" cy="1823.20" r="4.75" fill="#B3B3B3" stroke="#000" stroke-width="1.25"/>
<line x1="682.50" y1="1516.00" x2="682.50" y2="1854.00" stroke="#111" stroke-width="1.2" />
<line x1="1019.50" y1="1516.00" x2="1019.50" y2="1854.00" stroke="#111" stroke-width="1.2" />
<line x1="682.50" y1="1854.00" x2="1019.50" y2="1854.00" stroke="#111" stroke-width="1.2" />
<circle cx="768.20" cy="1279.70" r="5.5" fill="#4A90E2" stroke="none" stroke-width="0"/>
<circle cx="758.00" cy="1300.70" r="5.5" fill="#4A90E2" stroke="none" stroke-width="0"/>
<circle cx="778.40" cy="1298.20" r="5.5" fill="#4A90E2" stroke="none" stroke-width="0"/>
<circle cx="768.20" cy="1311.50" r="5.5" fill="#4A90E2" stroke="none" stroke-width="0"/>
<circle cx="768.20" cy="1321.40" r="5.5" fill="#4A90E2" stroke="none" stroke-width="0"/>
<circle cx="717.10" cy="1338.80" r="5.5" fill="#4A90E2" stroke="none" stroke-width="0"/>
<circle cx="737.30" cy="1340.00" r="5.5" fill="#4A90E2" stroke="none" stroke-width="0"/>
<circle cx="758.00" cy="1341.60" r="5.5" fill="#4A90E2" stroke="none" stroke-width="0"/>
<circle cx="778.40" cy="1341.60" r="5.5" fill="#4A90E2" stroke="none" stroke-width="0"/>
<circle cx="798.50" cy="1338.80" r="5.5" fill="#4A90E2" stroke="none" stroke-width="0"/>
<circle cx="818.70" cy="1333.80" r="5.5" fill="#4A90E2" stroke="none" stroke-width="0"/>
<rect x="930.50" y="1025.50" width="11.00" height="11.00" fill="#EC5F66" stroke="none" stroke-width="0"/>
<rect x="910.00" y="1039.50" width="11.00" height="11.00" fill="#EC5F66" stroke="none" stroke-width="0"/>
<rect x="950.50" y="1048.00" width="11.00" height="11.00" fill="#EC5F66" stroke="none" stroke-width="0"/>
<rect x="930.50" y="1051.00" width="11.00" height="11.00" fill="#EC5F66" stroke="none" stroke-width="0"/>
<rect x="930.50" y="1064.50" width="11.00" height="11.00" fill="#EC5F66" stroke="none" stroke-width="0"/>
<rect x="930.50" y="1094.50" width="11.00" height="11.00" fill="#EC5F66" stroke="none" stroke-width="0"/>
<rect x="930.50" y="1114.50" width="11.00" height="11.00" fill="#EC5F66" stroke="none" stroke-width="0"/>
<rect x="920.00" y="1135.50" width="11.00" height="11.00" fill="#EC5F66" stroke="none" stroke-width="0"/>
<rect x="940.00" y="1133.00" width="11.00" height="11.00" fill="#EC5F66" stroke="none" stroke-width="0"/>
<rect x="930.50" y="1180.50" width="11.00" height="11.00" fill="#EC5F66" stroke="none" stroke-width="0"/>
<rect x="910.00" y="1188.50" width="11.00" height="11.00" fill="#EC5F66" stroke="none" stroke-width="0"/>
<rect x="950.50" y="1195.50" width="11.00" height="11.00" fill="#EC5F66" stroke="none" stroke-width="0"/>
<rect x="930.50" y="1203.00" width="11.00" height="11.00" fill="#EC5F66" stroke="none" stroke-width="0"/>
<rect x="890.30" y="1239.00" width="11.00" height="11.00" fill="#EC5F66" stroke="none" stroke-width="0"/>
<rect x="910.40" y="1245.90" width="11.00" height="11.00" fill="#EC5F66" stroke="none" stroke-width="0"/>
<rect x="930.50" y="1250.30" width="11.00" height="11.00" fill="#EC5F66" stroke="none" stroke-width="0"/>
<rect x="950.60" y="1247.80" width="11.00" height="11.00" fill="#EC5F66" stroke="none" stroke-width="0"/>
<rect x="970.70" y="1243.40" width="11.00" height="11.00" fill="#EC5F66" stroke="none" stroke-width="0"/>
<rect x="970.70" y="1249.50" width="11.00" height="11.00" fill="#EC5F66" stroke="none" stroke-width="0"/>
<rect x="879.60" y="1253.40" width="11.00" height="11.00" fill="#EC5F66" stroke="none" stroke-width="0"/>
<rect x="890.30" y="1253.40" width="11.00" height="11.00" fill="#EC5F66" stroke="none" stroke-width="0"/>
<rect x="982.00" y="1252.20" width="11.00" height="11.00" fill="#EC5F66" stroke="none" stroke-width="0"/>
<rect x="901.60" y="1261.00" width="11.00" height="11.00" fill="#EC5F66" stroke="none" stroke-width="0"/>
<rect x="913.50" y="1262.20" width="11.00" height="11.00" fill="#EC5F66" stroke="none" stroke-width="0"/>
<rect x="924.20" y="1264.70" width="11.00" height="11.00" fill="#EC5F66" stroke="none" stroke-width="0"/>
<rect x="936.20" y="1263.50" width="11.00" height="11.00" fill="#EC5F66" stroke="none" stroke-width="0"/>
<rect x="947.50" y="1261.00" width="11.00" height="11.00" fill="#EC5F66" stroke="none" stroke-width="0"/>
<rect x="958.20" y="1259.10" width="11.00" height="11.00" fill="#EC5F66" stroke="none" stroke-width="0"/>
<rect x="970.70" y="1257.20" width="11.00" height="11.00" fill="#EC5F66" stroke="none" stroke-width="0"/>
<rect x="879.60" y="1271.60" width="11.00" height="11.00" fill="#EC5F66" stroke="none" stroke-width="0"/>
<rect x="981.40" y="1271.00" width="11.00" height="11.00" fill="#EC5F66" stroke="none" stroke-width="0"/>
<rect x="960.70" y="1274.80" width="11.00" height="11.00" fill="#EC5F66" stroke="none" stroke-width="0"/>
<rect x="899.70" y="1281.70" width="11.00" height="11.00" fill="#EC5F66" stroke="none" stroke-width="0"/>
<rect x="919.80" y="1282.30" width="11.00" height="11.00" fill="#EC5F66" stroke="none" stroke-width="0"/>
<rect x="940.60" y="1281.70" width="11.00" height="11.00" fill="#EC5F66" stroke="none" stroke-width="0"/>
<rect x="879.30" y="1290.89" width="11.00" height="11.00" fill="#EC5F66" stroke="none" stroke-width="0"/>
<rect x="890.68" y="1293.76" width="11.00" height="11.00" fill="#EC5F66" stroke="none" stroke-width="0"/>
<rect x="902.06" y="1297.75" width="11.00" height="11.00" fill="#EC5F66" stroke="none" stroke-width="0"/>
<rect x="913.43" y="1300.06" width="11.00" height="11.00" fill="#EC5F66" stroke="none" stroke-width="0"/>
<rect x="924.81" y="1303.52" width="11.00" height="11.00" fill="#EC5F66" stroke="none" stroke-width="0"/>
<rect x="936.19" y="1303.39" width="11.00" height="11.00" fill="#EC5F66" stroke="none" stroke-width="0"/>
<rect x="947.57" y="1300.23" width="11.00" height="11.00" fill="#EC5F66" stroke="none" stroke-width="0"/>
<rect x="958.94" y="1297.56" width="11.00" height="11.00" fill="#EC5F66" stroke="none" stroke-width="0"/>
<rect x="970.32" y="1294.69" width="11.00" height="11.00" fill="#EC5F66" stroke="none" stroke-width="0"/>
<rect x="981.70" y="1290.86" width="11.00" height="11.00" fill="#EC5F66" stroke="none" stroke-width="0"/>
<rect x="879.60" y="1296.50" width="11.00" height="11.00" fill="#EC5F66" stroke="none" stroke-width="0"/>
<rect x="982.00" y="1296.50" width="11.00" height="11.00" fill="#EC5F66" stroke="none" stroke-width="0"/>
<rect x="879.30" y="1307.66" width="11.00" height="11.00" fill="#EC5F66" stroke="none" stroke-width="0"/>
<rect x="886.61" y="1309.02" width="11.00" height="11.00" fill="#EC5F66" stroke="none" stroke-width="0"/>
<rect x="893.93" y="1310.99" width="11.00" height="11.00" fill="#EC5F66" stroke="none" stroke-width="0"/>
<rect x="901.24" y="1312.54" width="11.00" height="11.00" fill="#EC5F66" stroke="none" stroke-width="0"/>
<rect x="908.56" y="1314.02" width="11.00" height="11.00" fill="#EC5F66" stroke="none" stroke-width="0"/>
<rect x="915.87" y="1315.73" width="11.00" height="11.00" fill="#EC5F66" stroke="none" stroke-width="0"/>
<rect x="923.19" y="1317.49" width="11.00" height="11.00" fill="#EC5F66" stroke="none" stroke-width="0"/>
<rect x="930.50" y="1319.91" width="11.00" height="11.00" fill="#EC5F66" stroke="none" stroke-width="0"/>
<rect x="937.81" y="1317.78" width="11.00" height="11.00" fill="#EC5F66" stroke="none" stroke-width="0"/>
<rect x="945.13" y="1315.79" width="11.00" height="11.00" fill="#EC5F66" stroke="none" stroke-width="0"/>
<rect x="952.44" y="1314.76" width="11.00" height="11.00" fill="#EC5F66" stroke="none" stroke-width="0"/>
<rect x="959.76" y="1313.14" width="11.00" height="11.00" fill="#EC5F66" stroke="none" stroke-width="0"/>
<rect x="967.07" y="1310.88" width="11.00" height="11.00" fill="#EC5F66" stroke="none" stroke-width="0"/>
<rect x="974.39" y="1308.85" width="11.00" height="11.00" fill="#EC5F66" stroke="none" stroke-width="0"/>
<rect x="981.70" y="1307.19" width="11.00" height="11.00" fill="#EC5F66" stroke="none" stroke-width="0"/>
<rect x="879.30" y="1323.09" width="11.00" height="11.00" fill="#EC5F66" stroke="none" stroke-width="0"/>
<rect x="886.61" y="1325.06" width="11.00" height="11.00" fill="#EC5F66" stroke="none" stroke-width="0"/>
<rect x="893.93" y="1326.52" width="11.00" height="11.00" fill="#EC5F66" stroke="none" stroke-width="0"/>
<rect x="901.24" y="1328.38" width="11.00" height="11.00" fill="#EC5F66" stroke="none" stroke-width="0"/>
<rect x="908.56" y="1330.12" width="11.00" height="11.00" fill="#EC5F66" stroke="none" stroke-width="0"/>
<rect x="915.87" y="1332.14" width="11.00" height="11.00" fill="#EC5F66" stroke="none" stroke-width="0"/>
<rect x="923.19" y="1334.17" width="11.00" height="11.00" fill="#EC5F66" stroke="none" stroke-width="0"/>
<rect x="930.50" y="1335.75" width="11.00" height="11.00" fill="#EC5F66" stroke="none" stroke-width="0"/>
<rect x="937.81" y="1333.70" width="11.00" height="11.00" fill="#EC5F66" stroke="none" stroke-width="0"/>
<rect x="945.13" y="1331.99" width="11.00" height="11.00" fill="#EC5F66" stroke="none" stroke-width="0"/>
<rect x="952.44" y="1330.38" width="11.00" height="11.00" fill="#EC5F66" stroke="none" stroke-width="0"/>
<rect x="959.76" y="1328.52" width="11.00" height="11.00" fill="#EC5F66" stroke="none" stroke-width="0"/>
<rect x="967.07" y="1326.77" width="11.00" height="11.00" fill="#EC5F66" stroke="none" stroke-width="0"/>
<rect x="974.39" y="1324.78" width="11.00" height="11.00" fill="#EC5F66" stroke="none" stroke-width="0"/>
<rect x="981.70" y="1323.28" width="11.00" height="11.00" fill="#EC5F66" stroke="none" stroke-width="0"/>
<rect x="924.80" y="1341.50" width="11.00" height="11.00" fill="#EC5F66" stroke="none" stroke-width="0"/>
<rect x="936.20" y="1341.50" width="11.00" height="11.00" fill="#EC5F66" stroke="none" stroke-width="0"/>
<rect x="713.40" y="1303.80" width="109.90" height="36.50" fill="none" stroke="#111" stroke-width="1.6"/>
<line x1="713.40" y1="1336.30" x2="823.30" y2="1336.30" stroke="#111" stroke-width="1.6" />
<line x1="768.20" y1="1281.50" x2="768.20" y2="1303.80" stroke="#000" stroke-width="1.3" />
<line x1="768.20" y1="1340.30" x2="768.20" y2="1344.50" stroke="#000" stroke-width="1.3" />
<line x1="740.40" y1="1281.50" x2="796.10" y2="1281.50" stroke="#222" stroke-width="1.4" />
<line x1="740.40" y1="1344.50" x2="796.10" y2="1344.50" stroke="#222" stroke-width="1.4" />
<line x1="757.40" y1="1324.50" x2="779.00" y2="1324.50" stroke="#111" stroke-width="1.4" />
<line x1="768.20" y1="1313.50" x2="768.20" y2="1335.50" stroke="#000" stroke-width="1.3" />
<rect x="880.60" y="1261.10" width="110.40" height="67.50" fill="none" stroke="#111" stroke-width="1.6"/>
<line x1="880.60" y1="1300.10" x2="991.00" y2="1300.10" stroke="#111" stroke-width="1.6" />
<line x1="936.20" y1="1032.90" x2="936.20" y2="1261.10" stroke="#000" stroke-width="1.3" />
<line x1="936.20" y1="1328.60" x2="936.20" y2="1346.20" stroke="#000" stroke-width="1.3" />
<line x1="908.00" y1="1032.90" x2="964.00" y2="1032.90" stroke="#222" stroke-width="1.4" />
<line x1="908.00" y1="1346.20" x2="964.00" y2="1346.20" stroke="#222" stroke-width="1.4" />
<line x1="925.10" y1="1272.90" x2="946.80" y2="1272.90" stroke="#111" stroke-width="1.4" />
<line x1="936.20" y1="1261.90" x2="936.20" y2="1283.90" stroke="#000" stroke-width="1.3" />
<defs>
<filter id="bl1" x="-50%" y="-50%" width="200%" height="200%"><feGaussianBlur stdDeviation="0.7"/></filter>
<filter id="bl2" x="-50%" y="-50%" width="200%" height="200%"><feGaussianBlur stdDeviation="1.4"/></filter>
<filter id="bl3" x="-50%" y="-50%" width="200%" height="200%"><feGaussianBlur stdDeviation="2.5"/></filter>
<clipPath id="cg1"><rect x="125.3" y="1523" width="348.5" height="178.3"/></clipPath>
<clipPath id="cg2"><rect x="125.3" y="1713.4" width="348.5" height="178.4"/></clipPath>
</defs>
<g clip-path="url(#cg1)">
<rect x="125.30" y="1523.00" width="348.50" height="178.30" fill="#F4EADC" stroke="none" stroke-width="0"/>
<path d="M182.8,1646.0 q-3.9,-4.4 0.9,-11.7 M200.6,1664.3 q2.1,-5.7 11.1,-4.8 M301.3,1565.1 q5.2,0.1 7.1,7.6 M329.3,1535.3 q1.2,-4.2 7.7,-4.2 M206.4,1530.5 q7.4,-0.1 10.6,10.5 M430.3,1632.8 q4.9,1.1 5.3,8.4 M298.7,1543.6 q5.0,-1.6 9.2,5.0 M179.3,1668.8 q6.1,6.1 -0.2,17.1 M283.2,1621.4 q-3.3,4.9 -11.6,2.2 M190.4,1529.6 q2.9,-3.3 8.8,-0.4 M397.2,1560.2 q8.2,-1.7 13.8,9.5 M388.3,1659.0 q-6.5,-3.6 -3.9,-14.2 M168.0,1607.9 q1.9,-3.7 8.1,-2.4 M447.0,1681.3 q-4.4,2.8 -10.1,-2.4 M282.6,1591.8 q5.3,-0.2 7.7,7.4 M134.7,1539.6 q-1.8,-8.8 10.1,-14.8 M298.2,1610.6 q-7.1,-2.3 -6.6,-13.4 M202.7,1631.6 q-6.3,-2.3 -5.5,-12.3 M188.3,1553.3 q-4.9,7.0 -16.9,2.6 M246.1,1629.5 q-1.3,3.4 -6.6,2.9 M148.2,1668.1 q0.9,-5.2 8.6,-6.0 M363.4,1643.5 q7.0,-5.2 17.3,2.8 M267.1,1699.4 q6.3,-1.6 11.1,6.9 M433.1,1610.5 q-3.2,3.2 -9.0,-0.2 M430.6,1551.9 q7.1,3.3 5.2,14.8 M395.0,1609.1 q1.7,-2.8 6.5,-1.5 M215.2,1574.7 q-3.5,2.0 -7.7,-2.3 M149.5,1583.3 q7.2,-5.3 17.6,2.9 M385.2,1608.4 q-0.1,8.8 -12.7,12.0 M308.5,1652.9 q4.2,0.8 4.8,7.1 M417.4,1664.8 q4.8,-4.5 13.2,0.7 M273.8,1626.6 q2.8,-3.9 9.6,-1.4 M311.5,1572.2 q0.3,-3.0 4.8,-3.7 M364.1,1693.1 q6.5,1.0 7.7,10.7 M349.7,1674.9 q-3.9,-2.3 -2.2,-8.8 M266.7,1693.9 q3.1,-2.1 7.4,1.5 M158.4,1539.7 q5.6,0.9 6.5,9.3 M174.4,1677.6 q-2.1,-3.1 1.5,-7.4 M313.0,1580.8 q-4.3,0.2 -6.3,-5.9 M183.2,1555.8 q-5.2,5.0 -14.5,-0.5 M317.0,1531.2 q-2.0,-8.0 8.6,-14.0 M395.1,1664.0 q5.8,0.3 7.6,8.7 M147.4,1659.2 q3.3,6.5 -4.7,13.8 M213.4,1647.2 q-1.3,3.0 -6.1,2.4 M260.8,1578.2 q3.9,-2.8 9.4,1.6 " stroke="#fbf7f0" stroke-width="1.3" fill="none" opacity="0.45"/>
<circle cx="300.6" cy="1620.9" r="7.7" fill="#D0AD78" opacity="0.06" filter="url(#bl3)"/>
<circle cx="159.6" cy="1630.2" r="5.5" fill="#D0AD78" opacity="0.06" filter="url(#bl3)"/>
<circle cx="381.3" cy="1695.4" r="4.6" fill="#D0AD78" opacity="0.06" filter="url(#bl3)"/>
<circle cx="369.1" cy="1616.7" r="5.8" fill="#D0AD78" opacity="0.06" filter="url(#bl3)"/>
<circle cx="147.5" cy="1668.3" r="7.9" fill="#D0AD78" opacity="0.06" filter="url(#bl3)"/>
<circle cx="249.1" cy="1579.7" r="8.0" fill="#D0AD78" opacity="0.06" filter="url(#bl3)"/>
<circle cx="162.8" cy="1536.6" r="3.4" fill="#D0AD78" opacity="0.06" filter="url(#bl3)"/>
<circle cx="409.1" cy="1658.5" r="5.2" fill="#D0AD78" opacity="0.06" filter="url(#bl3)"/>
<circle cx="341.9" cy="1526.5" r="6.2" fill="#D0AD78" opacity="0.06" filter="url(#bl3)"/>
<circle cx="279.6" cy="1615.3" r="4.9" fill="#D0AD78" opacity="0.06" filter="url(#bl3)"/>
<circle cx="265.2" cy="1563.2" r="3.2" fill="#D0AD78" opacity="0.06" filter="url(#bl3)"/>
<circle cx="276.5" cy="1567.1" r="6.5" fill="#D0AD78" opacity="0.06" filter="url(#bl3)"/>
<circle cx="410.1" cy="1652.0" r="5.3" fill="#D0AD78" opacity="0.06" filter="url(#bl3)"/>
<circle cx="207.7" cy="1591.7" r="5.4" fill="#D0AD78" opacity="0.06" filter="url(#bl3)"/>
<circle cx="345.5" cy="1694.7" r="3.4" fill="#D0AD78" opacity="0.06" filter="url(#bl3)"/>
<circle cx="292.5" cy="1610.7" r="6.6" fill="#D0AD78" opacity="0.06" filter="url(#bl3)"/>
<circle cx="435.6" cy="1662.0" r="6.1" fill="#D0AD78" opacity="0.06" filter="url(#bl3)"/>
<circle cx="389.6" cy="1642.1" r="7.3" fill="#D0AD78" opacity="0.06" filter="url(#bl3)"/>
<circle cx="368.9" cy="1644.8" r="4.2" fill="#D0AD78" opacity="0.06" filter="url(#bl3)"/>
<circle cx="444.8" cy="1591.8" r="6.1" fill="#D0AD78" opacity="0.06" filter="url(#bl3)"/>
<circle cx="412.8" cy="1694.8" r="7.9" fill="#D0AD78" opacity="0.06" filter="url(#bl3)"/>
<circle cx="127.5" cy="1578.7" r="4.6" fill="#D0AD78" opacity="0.06" filter="url(#bl3)"/>
<circle cx="261.6" cy="1548.9" r="5.8" fill="#D0AD78" opacity="0.06" filter="url(#bl3)"/>
<circle cx="153.0" cy="1577.0" r="7.7" fill="#D0AD78" opacity="0.06" filter="url(#bl3)"/>
<circle cx="384.0" cy="1605.4" r="3.5" fill="#D0AD78" opacity="0.06" filter="url(#bl3)"/>
<circle cx="458.5" cy="1648.5" r="4.0" fill="#D0AD78" opacity="0.06" filter="url(#bl3)"/>
<circle cx="242.1" cy="1637.4" r="6.4" fill="#D0AD78" opacity="0.06" filter="url(#bl3)"/>
<circle cx="216.2" cy="1692.6" r="4.6" fill="#D0AD78" opacity="0.06" filter="url(#bl3)"/>
<circle cx="213.9" cy="1673.7" r="3.8" fill="#D0AD78" opacity="0.06" filter="url(#bl3)"/>
<circle cx="362.7" cy="1558.6" r="6.0" fill="#D0AD78" opacity="0.06" filter="url(#bl3)"/>
<circle cx="222.0" cy="1590.6" r="7.7" fill="#D0AD78" opacity="0.06" filter="url(#bl3)"/>
<circle cx="288.0" cy="1600.9" r="6.1" fill="#D0AD78" opacity="0.06" filter="url(#bl3)"/>
<circle cx="223.1" cy="1554.1" r="4.9" fill="#D0AD78" opacity="0.06" filter="url(#bl3)"/>
<circle cx="220.2" cy="1556.6" r="7.8" fill="#D0AD78" opacity="0.06" filter="url(#bl3)"/>
<circle cx="137.3" cy="1667.5" r="7.7" fill="#D0AD78" opacity="0.06" filter="url(#bl3)"/>
<circle cx="370.9" cy="1526.4" r="5.5" fill="#D0AD78" opacity="0.06" filter="url(#bl3)"/>
<circle cx="139.0" cy="1631.4" r="6.5" fill="#D0AD78" opacity="0.06" filter="url(#bl3)"/>
<circle cx="209.0" cy="1524.4" r="5.7" fill="#D0AD78" opacity="0.06" filter="url(#bl3)"/>
<circle cx="158.2" cy="1578.1" r="5.3" fill="#D0AD78" opacity="0.06" filter="url(#bl3)"/>
<circle cx="437.0" cy="1589.0" r="3.7" fill="#D0AD78" opacity="0.06" filter="url(#bl3)"/>
<circle cx="401.2" cy="1669.6" r="5.6" fill="#D0AD78" opacity="0.06" filter="url(#bl3)"/>
<circle cx="142.4" cy="1556.4" r="5.0" fill="#D0AD78" opacity="0.06" filter="url(#bl3)"/>
<circle cx="317.6" cy="1563.1" r="7.0" fill="#D0AD78" opacity="0.06" filter="url(#bl3)"/>
<circle cx="419.3" cy="1688.0" r="7.4" fill="#D0AD78" opacity="0.06" filter="url(#bl3)"/>
<circle cx="131.4" cy="1626.8" r="3.4" fill="#D0AD78" opacity="0.06" filter="url(#bl3)"/>
<circle cx="438.8" cy="1656.2" r="6.8" fill="#D0AD78" opacity="0.06" filter="url(#bl3)"/>
<circle cx="190.9" cy="1533.6" r="7.1" fill="#D0AD78" opacity="0.06" filter="url(#bl3)"/>
<circle cx="336.7" cy="1633.6" r="5.4" fill="#D0AD78" opacity="0.06" filter="url(#bl3)"/>
<circle cx="404.1" cy="1583.3" r="4.3" fill="#D0AD78" opacity="0.06" filter="url(#bl3)"/>
<circle cx="248.4" cy="1576.1" r="6.1" fill="#D0AD78" opacity="0.06" filter="url(#bl3)"/>
<circle cx="435.5" cy="1535.7" r="3.3" fill="#D0AD78" opacity="0.06" filter="url(#bl3)"/>
<circle cx="303.6" cy="1643.9" r="3.9" fill="#D0AD78" opacity="0.06" filter="url(#bl3)"/>
<circle cx="219.3" cy="1533.5" r="3.2" fill="#D0AD78" opacity="0.06" filter="url(#bl3)"/>
<circle cx="297.8" cy="1644.4" r="6.3" fill="#D0AD78" opacity="0.06" filter="url(#bl3)"/>
<circle cx="180.4" cy="1541.6" r="7.7" fill="#D0AD78" opacity="0.06" filter="url(#bl3)"/>
<circle cx="313.0" cy="1595.8" r="6.5" fill="#D0AD78" opacity="0.06" filter="url(#bl3)"/>
<circle cx="378.9" cy="1616.5" r="3.4" fill="#D0AD78" opacity="0.06" filter="url(#bl3)"/>
<circle cx="413.6" cy="1561.1" r="3.2" fill="#D0AD78" opacity="0.06" filter="url(#bl3)"/>
<circle cx="248.1" cy="1618.0" r="6.1" fill="#D0AD78" opacity="0.06" filter="url(#bl3)"/>
<circle cx="186.0" cy="1649.5" r="5.5" fill="#D0AD78" opacity="0.06" filter="url(#bl3)"/>
<circle cx="181.8" cy="1674.7" r="1.0" fill="#A0652A" opacity="0.75"/>
<circle cx="362.1" cy="1561.7" r="1.0" fill="#A0652A" opacity="0.75"/>
<circle cx="311.1" cy="1685.0" r="1.1" fill="#A0652A" opacity="0.50"/>
<circle cx="453.5" cy="1690.0" r="1.0" fill="#A0652A" opacity="0.31"/>
<circle cx="247.9" cy="1632.4" r="0.9" fill="#A0652A" opacity="0.68"/>
<circle cx="350.7" cy="1551.8" r="1.1" fill="#A0652A" opacity="0.57"/>
<circle cx="432.6" cy="1559.9" r="1.1" fill="#A0652A" opacity="0.58"/>
<circle cx="395.6" cy="1654.9" r="1.0" fill="#A0652A" opacity="0.48"/>
<circle cx="154.2" cy="1595.3" r="0.6" fill="#A0652A" opacity="0.57"/>
<circle cx="409.3" cy="1587.6" r="0.6" fill="#A0652A" opacity="0.31"/>
<circle cx="272.7" cy="1626.5" r="0.5" fill="#A0652A" opacity="0.63"/>
<circle cx="198.8" cy="1542.1" r="1.1" fill="#A0652A" opacity="0.56"/>
<circle cx="437.2" cy="1614.6" r="0.6" fill="#A0652A" opacity="0.42"/>
<circle cx="273.2" cy="1637.3" r="1.0" fill="#A0652A" opacity="0.68"/>
<circle cx="352.1" cy="1568.1" r="0.8" fill="#A0652A" opacity="0.49"/>
<circle cx="295.9" cy="1570.3" r="0.8" fill="#A0652A" opacity="0.53"/>
<circle cx="137.7" cy="1669.7" r="0.9" fill="#A0652A" opacity="0.70"/>
<circle cx="382.0" cy="1653.3" r="1.1" fill="#A0652A" opacity="0.49"/>
<circle cx="262.5" cy="1523.7" r="0.9" fill="#A0652A" opacity="0.59"/>
<circle cx="326.2" cy="1700.9" r="0.6" fill="#A0652A" opacity="0.41"/>
<circle cx="381.1" cy="1667.8" r="0.8" fill="#A0652A" opacity="0.33"/>
<circle cx="254.4" cy="1670.3" r="0.8" fill="#A0652A" opacity="0.53"/>
<circle cx="261.0" cy="1635.1" r="0.9" fill="#A0652A" opacity="0.65"/>
<circle cx="426.8" cy="1657.0" r="0.7" fill="#A0652A" opacity="0.43"/>
<circle cx="397.8" cy="1664.4" r="1.1" fill="#A0652A" opacity="0.40"/>
<circle cx="420.7" cy="1681.8" r="0.5" fill="#A0652A" opacity="0.45"/>
<circle cx="346.1" cy="1549.1" r="1.0" fill="#A0652A" opacity="0.43"/>
<circle cx="363.1" cy="1575.7" r="0.6" fill="#A0652A" opacity="0.40"/>
<circle cx="298.7" cy="1650.1" r="0.6" fill="#A0652A" opacity="0.64"/>
<circle cx="242.1" cy="1638.8" r="0.7" fill="#A0652A" opacity="0.40"/>
<circle cx="174.4" cy="1533.3" r="0.9" fill="#A0652A" opacity="0.51"/>
<circle cx="168.3" cy="1680.0" r="0.9" fill="#A0652A" opacity="0.31"/>
<circle cx="377.9" cy="1629.0" r="0.8" fill="#A0652A" opacity="0.55"/>
<circle cx="460.6" cy="1589.7" r="0.9" fill="#A0652A" opacity="0.62"/>
<circle cx="252.8" cy="1584.8" r="1.0" fill="#A0652A" opacity="0.62"/>
<circle cx="284.5" cy="1614.6" r="0.6" fill="#A0652A" opacity="0.69"/>
<circle cx="132.2" cy="1637.7" r="0.8" fill="#A0652A" opacity="0.41"/>
<circle cx="329.8" cy="1627.0" r="0.6" fill="#A0652A" opacity="0.55"/>
<circle cx="182.8" cy="1665.5" r="0.7" fill="#A0652A" opacity="0.46"/>
<circle cx="200.4" cy="1531.6" r="0.6" fill="#A0652A" opacity="0.38"/>
<circle cx="342.8" cy="1674.1" r="0.6" fill="#A0652A" opacity="0.36"/>
<circle cx="311.6" cy="1543.6" r="0.7" fill="#A0652A" opacity="0.68"/>
<circle cx="196.1" cy="1647.7" r="0.8" fill="#A0652A" opacity="0.34"/>
<circle cx="209.8" cy="1629.9" r="0.6" fill="#A0652A" opacity="0.40"/>
<circle cx="326.3" cy="1668.9" r="0.8" fill="#A0652A" opacity="0.63"/>
<circle cx="128.5" cy="1577.0" r="0.7" fill="#A0652A" opacity="0.76"/>
<circle cx="249.9" cy="1662.9" r="0.5" fill="#A0652A" opacity="0.55"/>
<circle cx="436.0" cy="1660.5" r="0.8" fill="#A0652A" opacity="0.39"/>
<circle cx="448.1" cy="1537.2" r="1.1" fill="#A0652A" opacity="0.69"/>
<circle cx="376.1" cy="1617.6" r="0.6" fill="#A0652A" opacity="0.47"/>
<circle cx="356.7" cy="1640.0" r="0.7" fill="#A0652A" opacity="0.70"/>
<circle cx="143.9" cy="1574.2" r="0.6" fill="#A0652A" opacity="0.46"/>
<circle cx="401.6" cy="1657.3" r="0.6" fill="#A0652A" opacity="0.45"/>
<circle cx="164.4" cy="1641.0" r="0.8" fill="#A0652A" opacity="0.42"/>
<circle cx="255.7" cy="1677.3" r="0.8" fill="#A0652A" opacity="0.65"/>
<circle cx="344.1" cy="1607.4" r="0.8" fill="#A0652A" opacity="0.48"/>
<circle cx="194.4" cy="1611.2" r="0.7" fill="#A0652A" opacity="0.47"/>
<circle cx="190.3" cy="1685.9" r="0.8" fill="#A0652A" opacity="0.40"/>
<circle cx="136.4" cy="1561.2" r="1.0" fill="#A0652A" opacity="0.47"/>
<circle cx="357.8" cy="1564.1" r="0.9" fill="#A0652A" opacity="0.53"/>
<circle cx="381.9" cy="1617.2" r="0.7" fill="#A0652A" opacity="0.44"/>
<circle cx="332.4" cy="1671.3" r="0.9" fill="#A0652A" opacity="0.54"/>
<circle cx="239.8" cy="1681.9" r="1.0" fill="#A0652A" opacity="0.37"/>
<circle cx="362.0" cy="1660.7" r="0.9" fill="#A0652A" opacity="0.78"/>
<circle cx="431.6" cy="1566.9" r="1.1" fill="#A0652A" opacity="0.46"/>
<circle cx="257.7" cy="1697.1" r="0.6" fill="#A0652A" opacity="0.50"/>
<circle cx="343.4" cy="1571.7" r="0.7" fill="#A0652A" opacity="0.70"/>
<circle cx="338.8" cy="1655.6" r="1.0" fill="#A0652A" opacity="0.74"/>
<circle cx="436.7" cy="1669.8" r="1.1" fill="#A0652A" opacity="0.55"/>
<circle cx="369.8" cy="1614.6" r="1.1" fill="#A0652A" opacity="0.63"/>
<circle cx="275.4" cy="1641.4" r="0.7" fill="#A0652A" opacity="0.36"/>
<circle cx="259.9" cy="1547.4" r="0.5" fill="#A0652A" opacity="0.35"/>
<circle cx="283.6" cy="1659.1" r="0.5" fill="#A0652A" opacity="0.62"/>
<circle cx="164.1" cy="1614.0" r="0.7" fill="#A0652A" opacity="0.52"/>
<circle cx="373.4" cy="1596.7" r="0.7" fill="#A0652A" opacity="0.66"/>
<circle cx="165.7" cy="1585.2" r="0.9" fill="#A0652A" opacity="0.72"/>
<circle cx="466.6" cy="1568.9" r="0.9" fill="#A0652A" opacity="0.46"/>
<circle cx="369.9" cy="1673.9" r="0.6" fill="#A0652A" opacity="0.47"/>
<circle cx="451.6" cy="1585.8" r="0.9" fill="#A0652A" opacity="0.71"/>
<circle cx="222.4" cy="1662.7" r="0.5" fill="#A0652A" opacity="0.47"/>
<circle cx="183.5" cy="1584.7" r="0.6" fill="#A0652A" opacity="0.31"/>
<circle cx="405.2" cy="1553.9" r="0.8" fill="#A0652A" opacity="0.58"/>
<circle cx="421.3" cy="1674.0" r="0.9" fill="#A0652A" opacity="0.38"/>
<circle cx="390.5" cy="1540.4" r="1.1" fill="#A0652A" opacity="0.45"/>
<circle cx="213.4" cy="1561.6" r="0.7" fill="#A0652A" opacity="0.70"/>
<circle cx="423.2" cy="1656.0" r="0.9" fill="#A0652A" opacity="0.42"/>
<circle cx="237.2" cy="1577.2" r="0.8" fill="#A0652A" opacity="0.74"/>
<circle cx="472.4" cy="1537.9" r="1.1" fill="#A0652A" opacity="0.76"/>
<circle cx="285.9" cy="1646.5" r="1.0" fill="#A0652A" opacity="0.39"/>
<circle cx="339.9" cy="1698.0" r="1.0" fill="#A0652A" opacity="0.76"/>
<circle cx="154.8" cy="1650.4" r="0.8" fill="#A0652A" opacity="0.75"/>
<circle cx="183.5" cy="1620.8" r="0.6" fill="#A0652A" opacity="0.70"/>
<circle cx="377.1" cy="1528.6" r="0.7" fill="#A0652A" opacity="0.37"/>
<circle cx="346.8" cy="1635.3" r="0.5" fill="#A0652A" opacity="0.78"/>
<circle cx="461.7" cy="1601.6" r="0.8" fill="#A0652A" opacity="0.48"/>
<circle cx="336.6" cy="1594.0" r="0.8" fill="#A0652A" opacity="0.67"/>
<circle cx="190.3" cy="1576.2" r="1.0" fill="#A0652A" opacity="0.41"/>
<circle cx="149.3" cy="1685.5" r="0.6" fill="#A0652A" opacity="0.51"/>
<circle cx="234.5" cy="1569.7" r="0.7" fill="#A0652A" opacity="0.57"/>
<circle cx="165.7" cy="1618.1" r="0.5" fill="#A0652A" opacity="0.34"/>
<circle cx="195.8" cy="1565.8" r="0.7" fill="#A0652A" opacity="0.45"/>
<circle cx="416.9" cy="1640.3" r="0.8" fill="#A0652A" opacity="0.69"/>
<circle cx="364.3" cy="1579.2" r="0.9" fill="#A0652A" opacity="0.67"/>
<circle cx="311.5" cy="1657.2" r="0.9" fill="#A0652A" opacity="0.76"/>
<circle cx="217.3" cy="1642.7" r="1.1" fill="#A0652A" opacity="0.56"/>
<circle cx="440.8" cy="1539.9" r="0.9" fill="#A0652A" opacity="0.43"/>
<circle cx="386.8" cy="1598.5" r="0.8" fill="#A0652A" opacity="0.42"/>
<circle cx="214.9" cy="1677.3" r="0.9" fill="#A0652A" opacity="0.61"/>
<circle cx="165.6" cy="1575.3" r="1.1" fill="#A0652A" opacity="0.40"/>
<circle cx="312.7" cy="1647.2" r="0.8" fill="#A0652A" opacity="0.58"/>
<circle cx="463.4" cy="1662.3" r="0.6" fill="#A0652A" opacity="0.52"/>
<circle cx="271.6" cy="1644.9" r="0.9" fill="#A0652A" opacity="0.43"/>
<circle cx="366.6" cy="1599.9" r="0.5" fill="#A0652A" opacity="0.45"/>
<circle cx="256.6" cy="1558.1" r="0.9" fill="#A0652A" opacity="0.80"/>
<circle cx="449.9" cy="1635.3" r="1.0" fill="#A0652A" opacity="0.55"/>
<circle cx="329.7" cy="1682.4" r="0.5" fill="#A0652A" opacity="0.48"/>
<circle cx="255.7" cy="1583.8" r="0.8" fill="#A0652A" opacity="0.33"/>
<circle cx="362.0" cy="1693.6" r="0.6" fill="#A0652A" opacity="0.39"/>
<circle cx="241.9" cy="1665.0" r="0.6" fill="#A0652A" opacity="0.69"/>
<circle cx="185.5" cy="1629.1" r="0.9" fill="#A0652A" opacity="0.64"/>
<circle cx="154.7" cy="1693.6" r="1.0" fill="#A0652A" opacity="0.54"/>
<circle cx="424.8" cy="1630.2" r="0.6" fill="#A0652A" opacity="0.50"/>
<circle cx="411.3" cy="1605.7" r="0.5" fill="#A0652A" opacity="0.38"/>
<circle cx="190.2" cy="1627.5" r="0.9" fill="#A0652A" opacity="0.52"/>
<circle cx="266.0" cy="1694.7" r="0.7" fill="#A0652A" opacity="0.64"/>
<circle cx="196.6" cy="1614.7" r="0.6" fill="#A0652A" opacity="0.36"/>
<circle cx="242.7" cy="1543.5" r="0.7" fill="#A0652A" opacity="0.63"/>
<circle cx="316.7" cy="1664.9" r="0.8" fill="#A0652A" opacity="0.34"/>
<circle cx="378.8" cy="1594.7" r="1.0" fill="#A0652A" opacity="0.79"/>
<circle cx="308.0" cy="1567.7" r="0.7" fill="#A0652A" opacity="0.55"/>
<circle cx="236.5" cy="1541.1" r="0.7" fill="#A0652A" opacity="0.63"/>
<circle cx="409.7" cy="1658.8" r="1.0" fill="#A0652A" opacity="0.70"/>
<circle cx="268.7" cy="1637.9" r="0.5" fill="#A0652A" opacity="0.70"/>
<circle cx="372.0" cy="1570.3" r="0.8" fill="#A0652A" opacity="0.44"/>
<circle cx="402.4" cy="1599.1" r="1.0" fill="#A0652A" opacity="0.76"/>
<circle cx="396.3" cy="1590.8" r="0.7" fill="#A0652A" opacity="0.77"/>
<circle cx="440.5" cy="1556.8" r="0.7" fill="#A0652A" opacity="0.69"/>
<circle cx="388.9" cy="1573.5" r="0.8" fill="#A0652A" opacity="0.78"/>
<circle cx="156.7" cy="1571.9" r="0.9" fill="#A0652A" opacity="0.75"/>
<circle cx="455.3" cy="1606.7" r="1.0" fill="#A0652A" opacity="0.79"/>
<circle cx="226.1" cy="1535.3" r="7.5" fill="#D0AD78" opacity="0.5" filter="url(#bl2)"/>
<ellipse cx="225.5" cy="1534.3" rx="3.1" ry="3.7" fill="#80440E" opacity="0.85" filter="url(#bl1)"/>
<ellipse cx="224.8" cy="1535.5" rx="3.9" ry="3.0" fill="#80440E" opacity="0.85" filter="url(#bl1)"/>
<ellipse cx="226.6" cy="1535.4" rx="4.0" ry="3.4" fill="#80440E" opacity="0.85" filter="url(#bl1)"/>
<ellipse cx="226.1" cy="1536.7" rx="3.7" ry="2.9" fill="#80440E" opacity="0.85" filter="url(#bl1)"/>
<circle cx="227.5" cy="1531.3" r="1.9" fill="#80440E" opacity="0.8" filter="url(#bl1)"/>
<circle cx="230.5" cy="1534.3" r="1.0" fill="#80440E" opacity="0.8" filter="url(#bl1)"/>
<circle cx="226.7" cy="1539.1" r="0.7" fill="#80440E" opacity="0.8" filter="url(#bl1)"/>
<circle cx="228.7" cy="1539.8" r="0.5" fill="#80440E" opacity="0.8" filter="url(#bl1)"/>
<circle cx="222.2" cy="1532.5" r="1.5" fill="#80440E" opacity="0.8" filter="url(#bl1)"/>
<circle cx="220.8" cy="1532.9" r="0.8" fill="#80440E" opacity="0.8" filter="url(#bl1)"/>
<circle cx="230.1" cy="1537.9" r="0.8" fill="#80440E" opacity="0.8" filter="url(#bl1)"/>
<circle cx="178.1" cy="1549.8" r="6.0" fill="#D0AD78" opacity="0.5" filter="url(#bl2)"/>
<ellipse cx="179.5" cy="1551.0" rx="2.9" ry="3.0" fill="#80440E" opacity="0.85" filter="url(#bl1)"/>
<ellipse cx="177.4" cy="1549.8" rx="2.6" ry="2.5" fill="#80440E" opacity="0.85" filter="url(#bl1)"/>
<ellipse cx="177.7" cy="1549.7" rx="2.9" ry="2.2" fill="#80440E" opacity="0.85" filter="url(#bl1)"/>
<ellipse cx="178.2" cy="1548.8" rx="3.2" ry="2.8" fill="#80440E" opacity="0.85" filter="url(#bl1)"/>
<circle cx="175.4" cy="1548.1" r="1.2" fill="#80440E" opacity="0.8" filter="url(#bl1)"/>
<circle cx="177.0" cy="1545.4" r="1.1" fill="#80440E" opacity="0.8" filter="url(#bl1)"/>
<circle cx="177.6" cy="1553.7" r="0.5" fill="#80440E" opacity="0.8" filter="url(#bl1)"/>
<circle cx="178.0" cy="1546.7" r="1.3" fill="#80440E" opacity="0.8" filter="url(#bl1)"/>
<circle cx="180.7" cy="1552.6" r="0.6" fill="#80440E" opacity="0.8" filter="url(#bl1)"/>
<circle cx="181.1" cy="1550.5" r="1.4" fill="#80440E" opacity="0.8" filter="url(#bl1)"/>
<circle cx="165.7" cy="1560" r="4.2" fill="#D0AD78" opacity="0.5" filter="url(#bl2)"/>
<ellipse cx="165.5" cy="1560.0" rx="2.1" ry="2.2" fill="#80440E" opacity="0.85" filter="url(#bl1)"/>
<ellipse cx="165.2" cy="1560.4" rx="2.1" ry="2.1" fill="#80440E" opacity="0.85" filter="url(#bl1)"/>
<ellipse cx="165.4" cy="1559.9" rx="2.1" ry="1.7" fill="#80440E" opacity="0.85" filter="url(#bl1)"/>
<ellipse cx="165.7" cy="1560.3" rx="2.1" ry="1.7" fill="#80440E" opacity="0.85" filter="url(#bl1)"/>
<circle cx="164.7" cy="1558.2" r="0.5" fill="#80440E" opacity="0.8" filter="url(#bl1)"/>
<circle cx="163.0" cy="1560.4" r="0.9" fill="#80440E" opacity="0.8" filter="url(#bl1)"/>
<circle cx="167.6" cy="1559.4" r="0.8" fill="#80440E" opacity="0.8" filter="url(#bl1)"/>
<circle cx="163.6" cy="1560.3" r="1.2" fill="#80440E" opacity="0.8" filter="url(#bl1)"/>
<circle cx="185.3" cy="1526.5" r="2.2" fill="#80440E" opacity="0.85" filter="url(#bl1)"/>
<circle cx="192.9" cy="1527.1" r="1.1" fill="#80440E" opacity="0.85" filter="url(#bl1)"/>
<circle cx="201.4" cy="1569.4" r="2.5" fill="#80440E" opacity="0.85" filter="url(#bl1)"/>
<circle cx="163.1" cy="1576.2" r="2.2" fill="#80440E" opacity="0.85" filter="url(#bl1)"/>
<circle cx="162.3" cy="1580" r="1.5" fill="#80440E" opacity="0.85" filter="url(#bl1)"/>
<circle cx="178.1" cy="1578.7" r="1.7" fill="#80440E" opacity="0.85" filter="url(#bl1)"/>
<circle cx="176.8" cy="1593.2" r="1.5" fill="#80440E" opacity="0.85" filter="url(#bl1)"/>
<circle cx="181.9" cy="1588.9" r="1.1" fill="#80440E" opacity="0.85" filter="url(#bl1)"/>
<circle cx="174" cy="1566" r="6.0" fill="#D0AD78" opacity="0.3" filter="url(#bl3)"/>
<circle cx="175.9" cy="1566.9" r="0.8" fill="#A0652A" opacity="0.64" filter="url(#bl1)"/>
<circle cx="177.1" cy="1566.5" r="0.8" fill="#A0652A" opacity="0.72" filter="url(#bl1)"/>
<circle cx="176.3" cy="1567.7" r="1.0" fill="#A0652A" opacity="0.87" filter="url(#bl1)"/>
<circle cx="174.1" cy="1566.0" r="0.6" fill="#A0652A" opacity="0.45" filter="url(#bl1)"/>
<circle cx="176.3" cy="1564.1" r="0.9" fill="#A0652A" opacity="0.70" filter="url(#bl1)"/>
<circle cx="174.8" cy="1568.4" r="1.2" fill="#A0652A" opacity="0.71" filter="url(#bl1)"/>
<circle cx="176.0" cy="1567.0" r="1.0" fill="#A0652A" opacity="0.95" filter="url(#bl1)"/>
<circle cx="177.5" cy="1564.4" r="1.4" fill="#A0652A" opacity="0.94" filter="url(#bl1)"/>
<circle cx="175.8" cy="1569.2" r="0.6" fill="#A0652A" opacity="0.90" filter="url(#bl1)"/>
<circle cx="293.4" cy="1546.4" r="5.7" fill="#D0AD78" opacity="0.5" filter="url(#bl2)"/>
<ellipse cx="292.8" cy="1545.9" rx="2.9" ry="2.3" fill="#80440E" opacity="0.85" filter="url(#bl1)"/>
<ellipse cx="292.9" cy="1546.3" rx="2.7" ry="2.5" fill="#80440E" opacity="0.85" filter="url(#bl1)"/>
<ellipse cx="294.7" cy="1547.4" rx="2.4" ry="2.9" fill="#80440E" opacity="0.85" filter="url(#bl1)"/>
<ellipse cx="292.7" cy="1546.8" rx="2.3" ry="2.7" fill="#80440E" opacity="0.85" filter="url(#bl1)"/>
<circle cx="293.5" cy="1550.1" r="1.4" fill="#80440E" opacity="0.8" filter="url(#bl1)"/>
<circle cx="295.7" cy="1547.7" r="0.8" fill="#80440E" opacity="0.8" filter="url(#bl1)"/>
<circle cx="295.3" cy="1549.1" r="1.0" fill="#80440E" opacity="0.8" filter="url(#bl1)"/>
<circle cx="292.3" cy="1550.6" r="1.4" fill="#80440E" opacity="0.8" filter="url(#bl1)"/>
<circle cx="291.2" cy="1548.4" r="0.6" fill="#80440E" opacity="0.8" filter="url(#bl1)"/>
<circle cx="254.7" cy="1589.4" r="2.2" fill="#80440E" opacity="0.85" filter="url(#bl1)"/>
<circle cx="248.3" cy="1579.6" r="2.0" fill="#D0AD78" opacity="0.3" filter="url(#bl3)"/>
<circle cx="248.3" cy="1579.9" r="1.1" fill="#A0652A" opacity="0.67" filter="url(#bl1)"/>
<circle cx="284" cy="1571.1" r="1.7" fill="#80440E" opacity="0.85" filter="url(#bl1)"/>
<circle cx="222.7" cy="1640" r="4.9" fill="#D0AD78" opacity="0.5" filter="url(#bl2)"/>
<ellipse cx="223.8" cy="1640.4" rx="1.9" ry="2.0" fill="#80440E" opacity="0.85" filter="url(#bl1)"/>
<ellipse cx="222.6" cy="1640.2" rx="2.5" ry="2.4" fill="#80440E" opacity="0.85" filter="url(#bl1)"/>
<ellipse cx="222.5" cy="1638.9" rx="2.2" ry="2.2" fill="#80440E" opacity="0.85" filter="url(#bl1)"/>
<ellipse cx="222.9" cy="1639.2" rx="2.4" ry="1.8" fill="#80440E" opacity="0.85" filter="url(#bl1)"/>
<circle cx="225.9" cy="1641.2" r="1.1" fill="#80440E" opacity="0.8" filter="url(#bl1)"/>
<circle cx="224.3" cy="1641.7" r="1.2" fill="#80440E" opacity="0.8" filter="url(#bl1)"/>
<circle cx="225.7" cy="1638.3" r="1.3" fill="#80440E" opacity="0.8" filter="url(#bl1)"/>
<circle cx="220.1" cy="1639.8" r="0.8" fill="#80440E" opacity="0.8" filter="url(#bl1)"/>
<circle cx="213.4" cy="1667.2" r="6.0" fill="#D0AD78" opacity="0.5" filter="url(#bl2)"/>
<ellipse cx="214.0" cy="1666.0" rx="2.8" ry="3.0" fill="#80440E" opacity="0.85" filter="url(#bl1)"/>
<ellipse cx="213.5" cy="1667.0" rx="3.1" ry="2.2" fill="#80440E" opacity="0.85" filter="url(#bl1)"/>
<ellipse cx="212.6" cy="1665.9" rx="2.5" ry="2.7" fill="#80440E" opacity="0.85" filter="url(#bl1)"/>
<ellipse cx="213.9" cy="1668.2" rx="2.5" ry="2.9" fill="#80440E" opacity="0.85" filter="url(#bl1)"/>
<circle cx="210.2" cy="1666.5" r="1.2" fill="#80440E" opacity="0.8" filter="url(#bl1)"/>
<circle cx="216.6" cy="1665.1" r="0.4" fill="#80440E" opacity="0.8" filter="url(#bl1)"/>
<circle cx="213.9" cy="1670.2" r="0.9" fill="#80440E" opacity="0.8" filter="url(#bl1)"/>
<circle cx="217.1" cy="1669.8" r="0.4" fill="#80440E" opacity="0.8" filter="url(#bl1)"/>
<circle cx="216.6" cy="1667.0" r="1.6" fill="#80440E" opacity="0.8" filter="url(#bl1)"/>
<circle cx="217.9" cy="1667.7" r="1.2" fill="#80440E" opacity="0.8" filter="url(#bl1)"/>
<circle cx="251.3" cy="1632.3" r="2.0" fill="#80440E" opacity="0.85" filter="url(#bl1)"/>
<circle cx="228.2" cy="1624.7" r="1.3" fill="#80440E" opacity="0.85" filter="url(#bl1)"/>
<circle cx="214.2" cy="1649.4" r="1.5" fill="#80440E" opacity="0.85" filter="url(#bl1)"/>
<circle cx="279.7" cy="1691.9" r="1.5" fill="#80440E" opacity="0.85" filter="url(#bl1)"/>
<circle cx="284" cy="1697.9" r="1.5" fill="#80440E" opacity="0.85" filter="url(#bl1)"/>
<circle cx="440.3" cy="1536.6" r="8.2" fill="#D0AD78" opacity="0.5" filter="url(#bl2)"/>
<ellipse cx="438.9" cy="1535.9" rx="3.2" ry="3.6" fill="#80440E" opacity="0.85" filter="url(#bl1)"/>
<ellipse cx="438.9" cy="1534.9" rx="3.2" ry="3.3" fill="#80440E" opacity="0.85" filter="url(#bl1)"/>
<ellipse cx="440.1" cy="1537.1" rx="4.1" ry="3.7" fill="#80440E" opacity="0.85" filter="url(#bl1)"/>
<ellipse cx="439.4" cy="1536.8" rx="3.2" ry="3.1" fill="#80440E" opacity="0.85" filter="url(#bl1)"/>
<circle cx="441.3" cy="1533.2" r="0.5" fill="#80440E" opacity="0.8" filter="url(#bl1)"/>
<circle cx="441.6" cy="1531.3" r="1.9" fill="#80440E" opacity="0.8" filter="url(#bl1)"/>
<circle cx="441.4" cy="1532.7" r="0.8" fill="#80440E" opacity="0.8" filter="url(#bl1)"/>
<circle cx="433.9" cy="1536.6" r="0.7" fill="#80440E" opacity="0.8" filter="url(#bl1)"/>
<circle cx="439.0" cy="1542.6" r="0.7" fill="#80440E" opacity="0.8" filter="url(#bl1)"/>
<circle cx="443.1" cy="1534.0" r="1.4" fill="#80440E" opacity="0.8" filter="url(#bl1)"/>
<circle cx="446.4" cy="1537.5" r="1.7" fill="#80440E" opacity="0.8" filter="url(#bl1)"/>
<circle cx="439.8" cy="1541.2" r="1.0" fill="#80440E" opacity="0.8" filter="url(#bl1)"/>
<circle cx="355.4" cy="1547.1" r="4.5" fill="#D0AD78" opacity="0.5" filter="url(#bl2)"/>
<ellipse cx="355.3" cy="1546.4" rx="2.1" ry="2.3" fill="#80440E" opacity="0.85" filter="url(#bl1)"/>
<ellipse cx="356.1" cy="1546.2" rx="2.2" ry="2.0" fill="#80440E" opacity="0.85" filter="url(#bl1)"/>
<ellipse cx="355.9" cy="1546.3" rx="2.1" ry="2.3" fill="#80440E" opacity="0.85" filter="url(#bl1)"/>
<ellipse cx="356.3" cy="1547.4" rx="1.9" ry="1.8" fill="#80440E" opacity="0.85" filter="url(#bl1)"/>
<circle cx="354.2" cy="1545.6" r="0.6" fill="#80440E" opacity="0.8" filter="url(#bl1)"/>
<circle cx="353.5" cy="1544.8" r="1.2" fill="#80440E" opacity="0.8" filter="url(#bl1)"/>
<circle cx="358.1" cy="1545.4" r="0.9" fill="#80440E" opacity="0.8" filter="url(#bl1)"/>
<circle cx="354.1" cy="1549.5" r="0.9" fill="#80440E" opacity="0.8" filter="url(#bl1)"/>
<circle cx="352.8" cy="1556.8" r="2.0" fill="#D0AD78" opacity="0.3" filter="url(#bl3)"/>
<circle cx="352.0" cy="1557.6" r="1.4" fill="#A0652A" opacity="0.67" filter="url(#bl1)"/>
<circle cx="324.8" cy="1529.6" r="4.2" fill="#D0AD78" opacity="0.55" filter="url(#bl2)"/>
<ellipse cx="324.1" cy="1529.1" rx="2.2" ry="2.1" fill="#A0652A" opacity="0.8" filter="url(#bl1)"/>
<ellipse cx="324.2" cy="1530.4" rx="1.8" ry="2.0" fill="#A0652A" opacity="0.8" filter="url(#bl1)"/>
<ellipse cx="324.9" cy="1530.2" rx="1.9" ry="1.5" fill="#A0652A" opacity="0.8" filter="url(#bl1)"/>
<circle cx="322.1" cy="1528.6" r="0.9" fill="#80440E" opacity="0.7" filter="url(#bl1)"/>
<circle cx="325.6" cy="1528.0" r="0.8" fill="#80440E" opacity="0.7" filter="url(#bl1)"/>
<circle cx="324.0" cy="1530.5" r="1.0" fill="#80440E" opacity="0.7" filter="url(#bl1)"/>
<circle cx="326.9" cy="1529.0" r="1.2" fill="#80440E" opacity="0.7" filter="url(#bl1)"/>
<circle cx="325.5" cy="1531.0" r="1.0" fill="#80440E" opacity="0.7" filter="url(#bl1)"/>
<circle cx="324.3" cy="1530.0" r="1.3" fill="#80440E" opacity="0.7" filter="url(#bl1)"/>
<circle cx="313.4" cy="1527.9" r="1.7" fill="#80440E" opacity="0.85" filter="url(#bl1)"/>
<circle cx="318.6" cy="1541.9" r="1.7" fill="#80440E" opacity="0.85" filter="url(#bl1)"/>
<circle cx="300.3" cy="1560.3" r="3.0" fill="#D0AD78" opacity="0.3" filter="url(#bl3)"/>
<circle cx="298.1" cy="1559.8" r="1.3" fill="#A0652A" opacity="0.66" filter="url(#bl1)"/>
<circle cx="301.0" cy="1562.0" r="0.6" fill="#A0652A" opacity="0.61" filter="url(#bl1)"/>
<circle cx="457.4" cy="1579.5" r="4.9" fill="#D0AD78" opacity="0.5" filter="url(#bl2)"/>
<ellipse cx="456.3" cy="1579.5" rx="2.2" ry="2.0" fill="#80440E" opacity="0.85" filter="url(#bl1)"/>
<ellipse cx="456.8" cy="1578.5" rx="1.8" ry="1.9" fill="#80440E" opacity="0.85" filter="url(#bl1)"/>
<ellipse cx="458.5" cy="1578.4" rx="2.4" ry="2.2" fill="#80440E" opacity="0.85" filter="url(#bl1)"/>
<ellipse cx="457.6" cy="1579.0" rx="2.6" ry="2.5" fill="#80440E" opacity="0.85" filter="url(#bl1)"/>
<circle cx="455.1" cy="1581.1" r="1.3" fill="#80440E" opacity="0.8" filter="url(#bl1)"/>
<circle cx="459.5" cy="1582.6" r="1.0" fill="#80440E" opacity="0.8" filter="url(#bl1)"/>
<circle cx="454.6" cy="1578.3" r="1.0" fill="#80440E" opacity="0.8" filter="url(#bl1)"/>
<circle cx="459.5" cy="1580.8" r="0.8" fill="#80440E" opacity="0.8" filter="url(#bl1)"/>
<circle cx="371.1" cy="1587.4" r="8.2" fill="#D0AD78" opacity="0.5" filter="url(#bl2)"/>
<ellipse cx="370.0" cy="1585.8" rx="4.0" ry="3.6" fill="#80440E" opacity="0.85" filter="url(#bl1)"/>
<ellipse cx="372.0" cy="1587.0" rx="4.3" ry="3.4" fill="#80440E" opacity="0.85" filter="url(#bl1)"/>
<ellipse cx="371.1" cy="1587.1" rx="4.1" ry="3.2" fill="#80440E" opacity="0.85" filter="url(#bl1)"/>
<ellipse cx="371.3" cy="1587.2" rx="3.9" ry="3.3" fill="#80440E" opacity="0.85" filter="url(#bl1)"/>
<circle cx="364.8" cy="1585.7" r="0.6" fill="#80440E" opacity="0.8" filter="url(#bl1)"/>
<circle cx="377.5" cy="1586.2" r="1.1" fill="#80440E" opacity="0.8" filter="url(#bl1)"/>
<circle cx="375.4" cy="1589.8" r="2.0" fill="#80440E" opacity="0.8" filter="url(#bl1)"/>
<circle cx="376.9" cy="1587.4" r="1.7" fill="#80440E" opacity="0.8" filter="url(#bl1)"/>
<circle cx="375.1" cy="1590.9" r="0.6" fill="#80440E" opacity="0.8" filter="url(#bl1)"/>
<circle cx="375.2" cy="1590.3" r="0.9" fill="#80440E" opacity="0.8" filter="url(#bl1)"/>
<circle cx="368.4" cy="1583.2" r="0.8" fill="#80440E" opacity="0.8" filter="url(#bl1)"/>
<circle cx="374.0" cy="1585.8" r="1.7" fill="#80440E" opacity="0.8" filter="url(#bl1)"/>
<circle cx="365" cy="1598.8" r="4.2" fill="#D0AD78" opacity="0.5" filter="url(#bl2)"/>
<ellipse cx="364.6" cy="1599.6" rx="2.0" ry="1.9" fill="#80440E" opacity="0.85" filter="url(#bl1)"/>
<ellipse cx="364.4" cy="1599.5" rx="2.1" ry="2.2" fill="#80440E" opacity="0.85" filter="url(#bl1)"/>
<ellipse cx="365.2" cy="1599.6" rx="2.2" ry="2.0" fill="#80440E" opacity="0.85" filter="url(#bl1)"/>
<ellipse cx="364.7" cy="1599.0" rx="1.8" ry="2.1" fill="#80440E" opacity="0.85" filter="url(#bl1)"/>
<circle cx="362.0" cy="1597.8" r="1.1" fill="#80440E" opacity="0.8" filter="url(#bl1)"/>
<circle cx="365.1" cy="1596.8" r="0.7" fill="#80440E" opacity="0.8" filter="url(#bl1)"/>
<circle cx="366.9" cy="1599.9" r="0.5" fill="#80440E" opacity="0.8" filter="url(#bl1)"/>
<circle cx="364.1" cy="1601.7" r="0.5" fill="#80440E" opacity="0.8" filter="url(#bl1)"/>
<circle cx="310.4" cy="1590" r="6.3" fill="#D0AD78" opacity="0.55" filter="url(#bl2)"/>
<ellipse cx="311.5" cy="1591.1" rx="3.1" ry="2.5" fill="#A0652A" opacity="0.8" filter="url(#bl1)"/>
<ellipse cx="309.8" cy="1589.9" rx="2.9" ry="3.3" fill="#A0652A" opacity="0.8" filter="url(#bl1)"/>
<ellipse cx="309.1" cy="1588.9" rx="3.2" ry="2.3" fill="#A0652A" opacity="0.8" filter="url(#bl1)"/>
<circle cx="311.7" cy="1589.0" r="1.4" fill="#80440E" opacity="0.7" filter="url(#bl1)"/>
<circle cx="307.1" cy="1590.6" r="1.2" fill="#80440E" opacity="0.7" filter="url(#bl1)"/>
<circle cx="311.5" cy="1587.7" r="0.9" fill="#80440E" opacity="0.7" filter="url(#bl1)"/>
<circle cx="310.9" cy="1588.1" r="0.8" fill="#80440E" opacity="0.7" filter="url(#bl1)"/>
<circle cx="313.5" cy="1586.7" r="1.2" fill="#80440E" opacity="0.7" filter="url(#bl1)"/>
<circle cx="309.1" cy="1591.9" r="0.6" fill="#80440E" opacity="0.7" filter="url(#bl1)"/>
<circle cx="310.9" cy="1589.0" r="0.7" fill="#80440E" opacity="0.7" filter="url(#bl1)"/>
<circle cx="313.1" cy="1590.4" r="1.4" fill="#80440E" opacity="0.7" filter="url(#bl1)"/>
<circle cx="312.1" cy="1590.8" r="0.7" fill="#80440E" opacity="0.7" filter="url(#bl1)"/>
<circle cx="406.2" cy="1593.5" r="3.9" fill="#D0AD78" opacity="0.55" filter="url(#bl2)"/>
<ellipse cx="406.5" cy="1593.3" rx="1.5" ry="1.9" fill="#A0652A" opacity="0.8" filter="url(#bl1)"/>
<ellipse cx="406.9" cy="1592.9" rx="1.4" ry="1.7" fill="#A0652A" opacity="0.8" filter="url(#bl1)"/>
<ellipse cx="406.9" cy="1592.8" rx="1.5" ry="1.9" fill="#A0652A" opacity="0.8" filter="url(#bl1)"/>
<circle cx="406.3" cy="1591.8" r="0.5" fill="#80440E" opacity="0.7" filter="url(#bl1)"/>
<circle cx="405.4" cy="1593.2" r="0.6" fill="#80440E" opacity="0.7" filter="url(#bl1)"/>
<circle cx="408.9" cy="1594.5" r="0.6" fill="#80440E" opacity="0.7" filter="url(#bl1)"/>
<circle cx="403.6" cy="1593.9" r="0.7" fill="#80440E" opacity="0.7" filter="url(#bl1)"/>
<circle cx="404.2" cy="1595.1" r="1.0" fill="#80440E" opacity="0.7" filter="url(#bl1)"/>
<circle cx="406.2" cy="1602.3" r="1.5" fill="#80440E" opacity="0.85" filter="url(#bl1)"/>
<circle cx="338.8" cy="1600.5" r="1.1" fill="#80440E" opacity="0.85" filter="url(#bl1)"/>
<circle cx="359.4" cy="1614.5" r="4.2" fill="#D0AD78" opacity="0.5" filter="url(#bl2)"/>
<ellipse cx="358.8" cy="1614.6" rx="2.2" ry="2.1" fill="#80440E" opacity="0.85" filter="url(#bl1)"/>
<ellipse cx="360.3" cy="1613.6" rx="1.6" ry="1.9" fill="#80440E" opacity="0.85" filter="url(#bl1)"/>
<ellipse cx="358.4" cy="1615.4" rx="1.7" ry="1.9" fill="#80440E" opacity="0.85" filter="url(#bl1)"/>
<ellipse cx="360.1" cy="1614.4" rx="2.1" ry="1.6" fill="#80440E" opacity="0.85" filter="url(#bl1)"/>
<circle cx="356.7" cy="1615.5" r="0.8" fill="#80440E" opacity="0.8" filter="url(#bl1)"/>
<circle cx="360.6" cy="1617.4" r="0.7" fill="#80440E" opacity="0.8" filter="url(#bl1)"/>
<circle cx="361.3" cy="1613.3" r="1.1" fill="#80440E" opacity="0.8" filter="url(#bl1)"/>
<circle cx="361.4" cy="1616.5" r="1.2" fill="#80440E" opacity="0.8" filter="url(#bl1)"/>
<circle cx="351.4" cy="1614.5" r="2.0" fill="#80440E" opacity="0.85" filter="url(#bl1)"/>
<circle cx="341.4" cy="1615.4" r="2.0" fill="#80440E" opacity="0.85" filter="url(#bl1)"/>
<circle cx="388.3" cy="1612.8" r="2.0" fill="#80440E" opacity="0.85" filter="url(#bl1)"/>
<circle cx="332.1" cy="1619.8" r="1.5" fill="#80440E" opacity="0.85" filter="url(#bl1)"/>
<circle cx="342.3" cy="1644.3" r="5.7" fill="#D0AD78" opacity="0.5" filter="url(#bl2)"/>
<ellipse cx="342.6" cy="1644.1" rx="3.0" ry="3.0" fill="#80440E" opacity="0.85" filter="url(#bl1)"/>
<ellipse cx="343.2" cy="1643.6" rx="2.2" ry="2.7" fill="#80440E" opacity="0.85" filter="url(#bl1)"/>
<ellipse cx="341.3" cy="1643.1" rx="2.6" ry="3.0" fill="#80440E" opacity="0.85" filter="url(#bl1)"/>
<ellipse cx="341.7" cy="1645.2" rx="3.0" ry="3.0" fill="#80440E" opacity="0.85" filter="url(#bl1)"/>
<circle cx="344.6" cy="1645.6" r="1.5" fill="#80440E" opacity="0.8" filter="url(#bl1)"/>
<circle cx="344.9" cy="1643.7" r="0.6" fill="#80440E" opacity="0.8" filter="url(#bl1)"/>
<circle cx="341.7" cy="1641.9" r="0.5" fill="#80440E" opacity="0.8" filter="url(#bl1)"/>
<circle cx="344.2" cy="1647.3" r="0.8" fill="#80440E" opacity="0.8" filter="url(#bl1)"/>
<circle cx="343.7" cy="1642.1" r="1.4" fill="#80440E" opacity="0.8" filter="url(#bl1)"/>
<circle cx="334.4" cy="1637.3" r="3.5" fill="#D0AD78" opacity="0.55" filter="url(#bl2)"/>
<ellipse cx="334.8" cy="1637.1" rx="1.6" ry="1.7" fill="#A0652A" opacity="0.8" filter="url(#bl1)"/>
<ellipse cx="333.8" cy="1637.9" rx="1.5" ry="1.6" fill="#A0652A" opacity="0.8" filter="url(#bl1)"/>
<ellipse cx="334.9" cy="1636.6" rx="1.4" ry="1.3" fill="#A0652A" opacity="0.8" filter="url(#bl1)"/>
<circle cx="334.3" cy="1636.3" r="1.1" fill="#80440E" opacity="0.7" filter="url(#bl1)"/>
<circle cx="333.8" cy="1634.6" r="0.7" fill="#80440E" opacity="0.7" filter="url(#bl1)"/>
<circle cx="332.5" cy="1638.5" r="0.9" fill="#80440E" opacity="0.7" filter="url(#bl1)"/>
<circle cx="335.3" cy="1639.1" r="1.2" fill="#80440E" opacity="0.7" filter="url(#bl1)"/>
<circle cx="333.1" cy="1637.7" r="0.6" fill="#80440E" opacity="0.7" filter="url(#bl1)"/>
<circle cx="344" cy="1633.8" r="16.0" fill="#D0AD78" opacity="0.3" filter="url(#bl3)"/>
<circle cx="348.7" cy="1648.3" r="1.3" fill="#A0652A" opacity="0.78" filter="url(#bl1)"/>
<circle cx="346.2" cy="1623.9" r="0.7" fill="#A0652A" opacity="0.67" filter="url(#bl1)"/>
<circle cx="338.3" cy="1635.8" r="0.6" fill="#A0652A" opacity="0.92" filter="url(#bl1)"/>
<circle cx="345.3" cy="1637.0" r="0.9" fill="#A0652A" opacity="0.64" filter="url(#bl1)"/>
<circle cx="340.0" cy="1645.8" r="1.2" fill="#A0652A" opacity="0.73" filter="url(#bl1)"/>
<circle cx="342.4" cy="1633.2" r="0.9" fill="#A0652A" opacity="0.59" filter="url(#bl1)"/>
<circle cx="346.2" cy="1643.6" r="1.1" fill="#A0652A" opacity="0.89" filter="url(#bl1)"/>
<circle cx="337.7" cy="1640.9" r="0.6" fill="#A0652A" opacity="0.93" filter="url(#bl1)"/>
<circle cx="346.4" cy="1637.4" r="1.2" fill="#A0652A" opacity="0.65" filter="url(#bl1)"/>
<circle cx="337.6" cy="1633.2" r="1.0" fill="#A0652A" opacity="0.55" filter="url(#bl1)"/>
<circle cx="347.3" cy="1636.9" r="0.9" fill="#A0652A" opacity="0.88" filter="url(#bl1)"/>
<circle cx="343.7" cy="1645.8" r="1.0" fill="#A0652A" opacity="0.62" filter="url(#bl1)"/>
<circle cx="340.7" cy="1627.1" r="1.0" fill="#A0652A" opacity="0.92" filter="url(#bl1)"/>
<circle cx="343.2" cy="1636.3" r="1.2" fill="#A0652A" opacity="0.83" filter="url(#bl1)"/>
<circle cx="344.8" cy="1630.4" r="1.2" fill="#A0652A" opacity="0.69" filter="url(#bl1)"/>
<circle cx="335.1" cy="1635.0" r="0.6" fill="#A0652A" opacity="0.81" filter="url(#bl1)"/>
<circle cx="343.6" cy="1629.2" r="0.9" fill="#A0652A" opacity="0.62" filter="url(#bl1)"/>
<circle cx="352.1" cy="1641.2" r="1.0" fill="#A0652A" opacity="0.53" filter="url(#bl1)"/>
<circle cx="357.0" cy="1631.4" r="1.2" fill="#A0652A" opacity="0.71" filter="url(#bl1)"/>
<circle cx="344.0" cy="1629.5" r="0.5" fill="#A0652A" opacity="0.53" filter="url(#bl1)"/>
<circle cx="348.2" cy="1642.9" r="0.8" fill="#A0652A" opacity="0.90" filter="url(#bl1)"/>
<circle cx="352.0" cy="1646.7" r="1.4" fill="#A0652A" opacity="0.80" filter="url(#bl1)"/>
<circle cx="353.7" cy="1630.2" r="0.6" fill="#A0652A" opacity="0.93" filter="url(#bl1)"/>
<circle cx="347.0" cy="1635.5" r="1.1" fill="#A0652A" opacity="0.53" filter="url(#bl1)"/>
<circle cx="345.1" cy="1638.4" r="1.1" fill="#A0652A" opacity="0.86" filter="url(#bl1)"/>
<circle cx="340.7" cy="1637.4" r="0.6" fill="#A0652A" opacity="0.62" filter="url(#bl1)"/>
<circle cx="342.6" cy="1643.3" r="0.7" fill="#A0652A" opacity="0.59" filter="url(#bl1)"/>
<circle cx="348.1" cy="1637.3" r="0.7" fill="#A0652A" opacity="0.72" filter="url(#bl1)"/>
<circle cx="351.3" cy="1634.2" r="0.6" fill="#A0652A" opacity="0.80" filter="url(#bl1)"/>
<circle cx="340.7" cy="1632.9" r="0.6" fill="#A0652A" opacity="0.83" filter="url(#bl1)"/>
<circle cx="350.0" cy="1631.1" r="1.0" fill="#A0652A" opacity="0.56" filter="url(#bl1)"/>
<circle cx="344.8" cy="1639.6" r="0.8" fill="#A0652A" opacity="0.82" filter="url(#bl1)"/>
<circle cx="341.5" cy="1634.0" r="0.7" fill="#A0652A" opacity="0.75" filter="url(#bl1)"/>
<circle cx="343.2" cy="1635.2" r="0.9" fill="#A0652A" opacity="0.66" filter="url(#bl1)"/>
<circle cx="354.8" cy="1629.4" r="0.8" fill="#A0652A" opacity="0.70" filter="url(#bl1)"/>
<circle cx="349.1" cy="1625.1" r="1.3" fill="#A0652A" opacity="0.58" filter="url(#bl1)"/>
<circle cx="344.6" cy="1642.4" r="0.6" fill="#A0652A" opacity="0.46" filter="url(#bl1)"/>
<circle cx="349.0" cy="1643.8" r="0.9" fill="#A0652A" opacity="0.66" filter="url(#bl1)"/>
<circle cx="348.5" cy="1629.3" r="0.7" fill="#A0652A" opacity="0.61" filter="url(#bl1)"/>
<circle cx="346.6" cy="1632.5" r="1.2" fill="#A0652A" opacity="0.65" filter="url(#bl1)"/>
<circle cx="337.4" cy="1642.3" r="1.2" fill="#A0652A" opacity="0.88" filter="url(#bl1)"/>
<circle cx="342.6" cy="1635.7" r="1.0" fill="#A0652A" opacity="0.49" filter="url(#bl1)"/>
<circle cx="352.1" cy="1642.2" r="1.1" fill="#A0652A" opacity="0.75" filter="url(#bl1)"/>
<circle cx="345.0" cy="1629.9" r="0.6" fill="#A0652A" opacity="0.59" filter="url(#bl1)"/>
<circle cx="345.4" cy="1640.0" r="0.7" fill="#A0652A" opacity="0.72" filter="url(#bl1)"/>
<circle cx="349.6" cy="1630.3" r="0.5" fill="#A0652A" opacity="0.86" filter="url(#bl1)"/>
<circle cx="344.7" cy="1641.7" r="1.2" fill="#A0652A" opacity="0.59" filter="url(#bl1)"/>
<circle cx="344.2" cy="1642.7" r="1.3" fill="#A0652A" opacity="0.78" filter="url(#bl1)"/>
<circle cx="356.8" cy="1634.3" r="0.6" fill="#A0652A" opacity="0.71" filter="url(#bl1)"/>
<circle cx="352.0" cy="1633.3" r="1.2" fill="#A0652A" opacity="0.72" filter="url(#bl1)"/>
<circle cx="355.2" cy="1631.4" r="0.9" fill="#A0652A" opacity="0.93" filter="url(#bl1)"/>
<circle cx="353.4" cy="1629.5" r="1.2" fill="#A0652A" opacity="0.69" filter="url(#bl1)"/>
<circle cx="344.1" cy="1632.5" r="0.9" fill="#A0652A" opacity="0.61" filter="url(#bl1)"/>
<circle cx="344.1" cy="1630.0" r="0.6" fill="#A0652A" opacity="0.93" filter="url(#bl1)"/>
<circle cx="344.2" cy="1637.9" r="1.3" fill="#A0652A" opacity="0.56" filter="url(#bl1)"/>
<circle cx="346.7" cy="1637.4" r="0.5" fill="#A0652A" opacity="0.57" filter="url(#bl1)"/>
<circle cx="351.6" cy="1629.7" r="0.8" fill="#A0652A" opacity="0.57" filter="url(#bl1)"/>
<circle cx="347.0" cy="1646.3" r="0.6" fill="#A0652A" opacity="0.81" filter="url(#bl1)"/>
<circle cx="336.3" cy="1627.7" r="0.9" fill="#A0652A" opacity="0.51" filter="url(#bl1)"/>
<circle cx="339.8" cy="1638.0" r="1.3" fill="#A0652A" opacity="0.46" filter="url(#bl1)"/>
<circle cx="343.2" cy="1634.0" r="1.1" fill="#A0652A" opacity="0.68" filter="url(#bl1)"/>
<circle cx="337.3" cy="1634.3" r="1.1" fill="#A0652A" opacity="0.53" filter="url(#bl1)"/>
<circle cx="351.3" cy="1641.4" r="0.9" fill="#A0652A" opacity="0.50" filter="url(#bl1)"/>
<circle cx="344.5" cy="1633.0" r="0.7" fill="#A0652A" opacity="0.68" filter="url(#bl1)"/>
<circle cx="365" cy="1640.8" r="1.5" fill="#80440E" opacity="0.85" filter="url(#bl1)"/>
<circle cx="396.5" cy="1632.9" r="1.5" fill="#80440E" opacity="0.85" filter="url(#bl1)"/>
<circle cx="383.9" cy="1629.4" r="1.5" fill="#80440E" opacity="0.85" filter="url(#bl1)"/>
<circle cx="415.8" cy="1645.2" r="9.1" fill="#D0AD78" opacity="0.55" filter="url(#bl2)"/>
<ellipse cx="414.3" cy="1645.1" rx="4.6" ry="3.7" fill="#A0652A" opacity="0.8" filter="url(#bl1)"/>
<ellipse cx="417.0" cy="1644.2" rx="4.6" ry="3.4" fill="#A0652A" opacity="0.8" filter="url(#bl1)"/>
<ellipse cx="414.3" cy="1643.4" rx="4.2" ry="3.3" fill="#A0652A" opacity="0.8" filter="url(#bl1)"/>
<circle cx="414.5" cy="1641.7" r="1.3" fill="#80440E" opacity="0.7" filter="url(#bl1)"/>
<circle cx="411.2" cy="1649.3" r="1.2" fill="#80440E" opacity="0.7" filter="url(#bl1)"/>
<circle cx="411.7" cy="1649.4" r="1.0" fill="#80440E" opacity="0.7" filter="url(#bl1)"/>
<circle cx="412.6" cy="1643.1" r="0.6" fill="#80440E" opacity="0.7" filter="url(#bl1)"/>
<circle cx="411.5" cy="1644.6" r="0.9" fill="#80440E" opacity="0.7" filter="url(#bl1)"/>
<circle cx="418.1" cy="1644.9" r="1.3" fill="#80440E" opacity="0.7" filter="url(#bl1)"/>
<circle cx="414.0" cy="1644.5" r="1.0" fill="#80440E" opacity="0.7" filter="url(#bl1)"/>
<circle cx="417.4" cy="1649.1" r="0.9" fill="#80440E" opacity="0.7" filter="url(#bl1)"/>
<circle cx="416.7" cy="1638.6" r="0.6" fill="#80440E" opacity="0.7" filter="url(#bl1)"/>
<circle cx="420.6" cy="1640.4" r="0.6" fill="#80440E" opacity="0.7" filter="url(#bl1)"/>
<circle cx="419.3" cy="1647.2" r="0.5" fill="#80440E" opacity="0.7" filter="url(#bl1)"/>
<circle cx="418.8" cy="1648.2" r="0.7" fill="#80440E" opacity="0.7" filter="url(#bl1)"/>
<circle cx="413.8" cy="1643.7" r="1.1" fill="#80440E" opacity="0.7" filter="url(#bl1)"/>
<circle cx="415.8" cy="1645.2" r="9.0" fill="#D0AD78" opacity="0.3" filter="url(#bl3)"/>
<circle cx="414.4" cy="1647.5" r="1.2" fill="#A0652A" opacity="0.88" filter="url(#bl1)"/>
<circle cx="418.5" cy="1649.8" r="0.6" fill="#A0652A" opacity="0.57" filter="url(#bl1)"/>
<circle cx="418.2" cy="1644.7" r="0.6" fill="#A0652A" opacity="0.86" filter="url(#bl1)"/>
<circle cx="418.7" cy="1640.1" r="1.4" fill="#A0652A" opacity="0.66" filter="url(#bl1)"/>
<circle cx="419.5" cy="1649.6" r="1.1" fill="#A0652A" opacity="0.56" filter="url(#bl1)"/>
<circle cx="420.1" cy="1648.7" r="0.9" fill="#A0652A" opacity="0.77" filter="url(#bl1)"/>
<circle cx="421.8" cy="1650.9" r="1.3" fill="#A0652A" opacity="0.82" filter="url(#bl1)"/>
<circle cx="416.7" cy="1638.4" r="1.2" fill="#A0652A" opacity="0.82" filter="url(#bl1)"/>
<circle cx="418.9" cy="1643.9" r="1.4" fill="#A0652A" opacity="0.91" filter="url(#bl1)"/>
<circle cx="411.4" cy="1651.1" r="0.6" fill="#A0652A" opacity="0.85" filter="url(#bl1)"/>
<circle cx="410.7" cy="1643.2" r="1.0" fill="#A0652A" opacity="0.57" filter="url(#bl1)"/>
<circle cx="416.1" cy="1641.9" r="1.2" fill="#A0652A" opacity="0.72" filter="url(#bl1)"/>
<circle cx="416.4" cy="1641.6" r="0.9" fill="#A0652A" opacity="0.64" filter="url(#bl1)"/>
<circle cx="419.1" cy="1641.7" r="0.8" fill="#A0652A" opacity="0.72" filter="url(#bl1)"/>
<circle cx="417.7" cy="1644.2" r="1.3" fill="#A0652A" opacity="0.63" filter="url(#bl1)"/>
<circle cx="419.6" cy="1645.4" r="1.3" fill="#A0652A" opacity="0.58" filter="url(#bl1)"/>
<circle cx="413.5" cy="1639.5" r="1.3" fill="#A0652A" opacity="0.73" filter="url(#bl1)"/>
<circle cx="418.9" cy="1645.0" r="0.6" fill="#A0652A" opacity="0.81" filter="url(#bl1)"/>
<circle cx="418.3" cy="1640.4" r="1.3" fill="#A0652A" opacity="0.91" filter="url(#bl1)"/>
<circle cx="417.2" cy="1643.7" r="0.6" fill="#A0652A" opacity="0.79" filter="url(#bl1)"/>
<circle cx="387.8" cy="1667" r="6.3" fill="#D0AD78" opacity="0.5" filter="url(#bl2)"/>
<ellipse cx="388.1" cy="1667.7" rx="2.6" ry="3.3" fill="#80440E" opacity="0.85" filter="url(#bl1)"/>
<ellipse cx="387.3" cy="1667.3" rx="3.3" ry="2.8" fill="#80440E" opacity="0.85" filter="url(#bl1)"/>
<ellipse cx="388.5" cy="1667.0" rx="3.1" ry="3.0" fill="#80440E" opacity="0.85" filter="url(#bl1)"/>
<ellipse cx="386.6" cy="1667.9" rx="2.4" ry="3.3" fill="#80440E" opacity="0.85" filter="url(#bl1)"/>
<circle cx="385.5" cy="1663.7" r="0.5" fill="#80440E" opacity="0.8" filter="url(#bl1)"/>
<circle cx="388.9" cy="1664.2" r="0.8" fill="#80440E" opacity="0.8" filter="url(#bl1)"/>
<circle cx="383.0" cy="1668.0" r="1.1" fill="#80440E" opacity="0.8" filter="url(#bl1)"/>
<circle cx="392.3" cy="1668.7" r="1.2" fill="#80440E" opacity="0.8" filter="url(#bl1)"/>
<circle cx="384.8" cy="1667.1" r="1.4" fill="#80440E" opacity="0.8" filter="url(#bl1)"/>
<circle cx="386.3" cy="1670.3" r="1.5" fill="#80440E" opacity="0.8" filter="url(#bl1)"/>
<circle cx="351" cy="1667" r="3.9" fill="#D0AD78" opacity="0.55" filter="url(#bl2)"/>
<ellipse cx="350.3" cy="1667.1" rx="1.5" ry="1.5" fill="#A0652A" opacity="0.8" filter="url(#bl1)"/>
<ellipse cx="351.5" cy="1667.7" rx="1.5" ry="2.0" fill="#A0652A" opacity="0.8" filter="url(#bl1)"/>
<ellipse cx="351.0" cy="1667.3" rx="1.9" ry="2.0" fill="#A0652A" opacity="0.8" filter="url(#bl1)"/>
<circle cx="350.8" cy="1666.1" r="1.1" fill="#80440E" opacity="0.7" filter="url(#bl1)"/>
<circle cx="350.2" cy="1666.7" r="1.4" fill="#80440E" opacity="0.7" filter="url(#bl1)"/>
<circle cx="350.0" cy="1664.7" r="1.3" fill="#80440E" opacity="0.7" filter="url(#bl1)"/>
<circle cx="350.6" cy="1669.8" r="0.5" fill="#80440E" opacity="0.7" filter="url(#bl1)"/>
<circle cx="351.8" cy="1667.8" r="0.7" fill="#80440E" opacity="0.7" filter="url(#bl1)"/>
<circle cx="313.4" cy="1670.5" r="2.2" fill="#80440E" opacity="0.85" filter="url(#bl1)"/>
<circle cx="327.4" cy="1678.4" r="3.9" fill="#D0AD78" opacity="0.55" filter="url(#bl2)"/>
<ellipse cx="326.9" cy="1677.9" rx="2.0" ry="1.5" fill="#A0652A" opacity="0.8" filter="url(#bl1)"/>
<ellipse cx="328.0" cy="1677.7" rx="2.0" ry="1.8" fill="#A0652A" opacity="0.8" filter="url(#bl1)"/>
<ellipse cx="327.3" cy="1677.8" rx="1.6" ry="1.5" fill="#A0652A" opacity="0.8" filter="url(#bl1)"/>
<circle cx="328.1" cy="1678.2" r="1.3" fill="#80440E" opacity="0.7" filter="url(#bl1)"/>
<circle cx="328.3" cy="1676.3" r="0.8" fill="#80440E" opacity="0.7" filter="url(#bl1)"/>
<circle cx="329.5" cy="1678.2" r="0.5" fill="#80440E" opacity="0.7" filter="url(#bl1)"/>
<circle cx="326.6" cy="1679.7" r="0.6" fill="#80440E" opacity="0.7" filter="url(#bl1)"/>
<circle cx="325.2" cy="1678.4" r="0.6" fill="#80440E" opacity="0.7" filter="url(#bl1)"/>
<circle cx="343.1" cy="1677.5" r="3.9" fill="#D0AD78" opacity="0.55" filter="url(#bl2)"/>
<ellipse cx="342.5" cy="1677.9" rx="1.7" ry="2.1" fill="#A0652A" opacity="0.8" filter="url(#bl1)"/>
<ellipse cx="342.3" cy="1677.0" rx="2.1" ry="2.0" fill="#A0652A" opacity="0.8" filter="url(#bl1)"/>
<ellipse cx="342.5" cy="1677.4" rx="1.7" ry="2.0" fill="#A0652A" opacity="0.8" filter="url(#bl1)"/>
<circle cx="343.6" cy="1678.2" r="0.6" fill="#80440E" opacity="0.7" filter="url(#bl1)"/>
<circle cx="340.3" cy="1677.6" r="1.3" fill="#80440E" opacity="0.7" filter="url(#bl1)"/>
<circle cx="341.9" cy="1678.7" r="1.3" fill="#80440E" opacity="0.7" filter="url(#bl1)"/>
<circle cx="345.2" cy="1676.3" r="1.1" fill="#80440E" opacity="0.7" filter="url(#bl1)"/>
<circle cx="344.7" cy="1677.8" r="1.3" fill="#80440E" opacity="0.7" filter="url(#bl1)"/>
<circle cx="313.4" cy="1680.2" r="1.5" fill="#80440E" opacity="0.85" filter="url(#bl1)"/>
<circle cx="331.8" cy="1674" r="1.5" fill="#80440E" opacity="0.85" filter="url(#bl1)"/>
<circle cx="380.8" cy="1698.5" r="5.6" fill="#D0AD78" opacity="0.55" filter="url(#bl2)"/>
<ellipse cx="380.0" cy="1697.7" rx="2.8" ry="2.7" fill="#A0652A" opacity="0.8" filter="url(#bl1)"/>
<ellipse cx="380.9" cy="1698.1" rx="2.4" ry="2.3" fill="#A0652A" opacity="0.8" filter="url(#bl1)"/>
<ellipse cx="381.9" cy="1698.1" rx="2.1" ry="2.8" fill="#A0652A" opacity="0.8" filter="url(#bl1)"/>
<circle cx="379.2" cy="1700.7" r="0.6" fill="#80440E" opacity="0.7" filter="url(#bl1)"/>
<circle cx="382.0" cy="1702.2" r="1.3" fill="#80440E" opacity="0.7" filter="url(#bl1)"/>
<circle cx="383.0" cy="1699.8" r="0.8" fill="#80440E" opacity="0.7" filter="url(#bl1)"/>
<circle cx="382.3" cy="1697.4" r="0.7" fill="#80440E" opacity="0.7" filter="url(#bl1)"/>
<circle cx="381.5" cy="1696.1" r="1.2" fill="#80440E" opacity="0.7" filter="url(#bl1)"/>
<circle cx="377.6" cy="1701.4" r="1.0" fill="#80440E" opacity="0.7" filter="url(#bl1)"/>
<circle cx="380.5" cy="1699.5" r="0.7" fill="#80440E" opacity="0.7" filter="url(#bl1)"/>
<circle cx="383.6" cy="1697.7" r="1.2" fill="#80440E" opacity="0.7" filter="url(#bl1)"/>
<circle cx="435" cy="1688.9" r="1.5" fill="#80440E" opacity="0.85" filter="url(#bl1)"/>
<circle cx="433.3" cy="1699.4" r="1.5" fill="#80440E" opacity="0.85" filter="url(#bl1)"/>
<circle cx="471.8" cy="1652.2" r="1.5" fill="#80440E" opacity="0.85" filter="url(#bl1)"/>
<circle cx="368.5" cy="1647.8" r="1.5" fill="#80440E" opacity="0.85" filter="url(#bl1)"/>
<circle cx="347.5" cy="1656.5" r="1.5" fill="#80440E" opacity="0.85" filter="url(#bl1)"/>
<circle cx="295.9" cy="1546.3" r="4.5" fill="#D0AD78" opacity="0.5" filter="url(#bl2)"/>
<ellipse cx="295.1" cy="1546.9" rx="2.3" ry="2.2" fill="#80440E" opacity="0.85" filter="url(#bl1)"/>
<ellipse cx="296.7" cy="1546.4" rx="2.4" ry="2.1" fill="#80440E" opacity="0.85" filter="url(#bl1)"/>
<ellipse cx="295.0" cy="1546.7" rx="2.2" ry="2.2" fill="#80440E" opacity="0.85" filter="url(#bl1)"/>
<ellipse cx="296.9" cy="1546.4" rx="2.1" ry="2.1" fill="#80440E" opacity="0.85" filter="url(#bl1)"/>
<circle cx="297.8" cy="1547.0" r="0.4" fill="#80440E" opacity="0.8" filter="url(#bl1)"/>
<circle cx="295.0" cy="1544.3" r="0.4" fill="#80440E" opacity="0.8" filter="url(#bl1)"/>
<circle cx="296.3" cy="1543.4" r="0.4" fill="#80440E" opacity="0.8" filter="url(#bl1)"/>
<circle cx="294.4" cy="1545.2" r="0.5" fill="#80440E" opacity="0.8" filter="url(#bl1)"/>
</g>
<g clip-path="url(#cg2)">
<rect x="125.30" y="1713.40" width="348.50" height="178.40" fill="#F5EBD5" stroke="none" stroke-width="0"/>
<path d="M459.2,1738.4 q8.9,1.3 10.5,14.6 M189.5,1734.9 q-3.0,-4.1 1.8,-10.0 M435.3,1754.7 q4.8,-1.3 8.4,5.1 M334.8,1879.7 q-3.4,-7.8 6.5,-15.8 M372.1,1722.0 q4.8,-4.4 13.1,0.7 M233.6,1747.3 q3.8,-5.3 12.9,-1.9 M452.2,1851.5 q6.2,-1.6 10.9,6.7 M368.7,1822.6 q-0.5,8.7 -13.2,11.5 M234.2,1852.7 q6.6,-2.0 12.0,6.8 M174.9,1860.6 q-2.0,-3.6 2.3,-7.9 M142.4,1808.3 q8.4,1.7 9.2,14.4 M301.7,1805.7 q-5.9,3.8 -13.6,-3.2 M444.7,1768.2 q-4.6,4.6 -13.0,-0.1 M228.9,1819.7 q-5.4,-1.5 -5.4,-9.8 M359.9,1807.6 q7.6,4.7 3.9,17.5 M249.3,1790.4 q-7.0,4.9 -16.9,-3.2 M457.1,1804.7 q-2.9,2.1 -7.1,-1.2 M437.4,1744.0 q-4.9,-1.5 -4.7,-9.0 M239.7,1777.1 q1.2,3.0 -2.7,5.9 M311.9,1855.4 q-2.5,-3.4 1.3,-8.3 M367.0,1722.7 q-6.7,4.2 -15.5,-3.8 M446.3,1795.6 q3.4,-4.9 11.8,-2.0 M307.9,1817.7 q7.4,-0.4 11.0,10.1 M290.2,1843.1 q-3.2,-4.0 1.3,-10.2 M398.6,1859.7 q-6.7,-5.4 -1.6,-17.2 M131.6,1802.6 q-3.4,-3.8 0.7,-10.1 M185.0,1836.9 q-4.2,1.9 -8.5,-3.5 M139.9,1885.9 q-2.2,3.0 -7.4,1.0 M200.7,1758.9 q2.7,-3.1 8.2,-0.4 M221.6,1730.8 q-4.2,0.8 -7.0,-4.9 M245.2,1844.5 q7.1,-3.7 15.2,5.1 M138.6,1780.8 q1.9,-2.6 6.3,-1.0 M196.1,1800.8 q-5.5,5.1 -15.0,-0.9 M375.6,1796.3 q0.0,4.4 -6.2,6.2 M218.1,1725.0 q-2.0,-3.4 2.1,-7.6 M435.3,1828.6 q5.6,2.1 4.8,11.0 M335.7,1720.9 q-3.2,0.3 -4.8,-4.2 M392.3,1714.1 q-6.0,-6.6 1.0,-17.8 M420.3,1755.0 q-3.8,-0.8 -4.0,-6.5 M244.6,1867.5 q1.3,-2.8 5.7,-2.1 M257.7,1827.6 q3.5,7.0 -5.1,14.8 M436.5,1811.8 q-5.2,6.2 -16.1,1.1 M304.0,1747.0 q-0.7,3.9 -6.5,4.4 M417.6,1804.4 q-2.6,-7.5 7.1,-14.1 M464.7,1747.4 q-6.8,4.6 -16.1,-3.4 " stroke="#fbf7f0" stroke-width="1.3" fill="none" opacity="0.45"/>
<circle cx="390.7" cy="1782.4" r="6.3" fill="#D6B070" opacity="0.06" filter="url(#bl3)"/>
<circle cx="193.3" cy="1742.3" r="3.3" fill="#D6B070" opacity="0.06" filter="url(#bl3)"/>
<circle cx="257.6" cy="1755.5" r="5.6" fill="#D6B070" opacity="0.06" filter="url(#bl3)"/>
<circle cx="463.2" cy="1740.7" r="5.8" fill="#D6B070" opacity="0.06" filter="url(#bl3)"/>
<circle cx="426.6" cy="1820.2" r="5.6" fill="#D6B070" opacity="0.06" filter="url(#bl3)"/>
<circle cx="392.9" cy="1717.3" r="7.7" fill="#D6B070" opacity="0.06" filter="url(#bl3)"/>
<circle cx="364.5" cy="1857.3" r="7.1" fill="#D6B070" opacity="0.06" filter="url(#bl3)"/>
<circle cx="159.7" cy="1725.3" r="3.9" fill="#D6B070" opacity="0.06" filter="url(#bl3)"/>
<circle cx="301.2" cy="1880.8" r="7.5" fill="#D6B070" opacity="0.06" filter="url(#bl3)"/>
<circle cx="268.9" cy="1824.4" r="6.7" fill="#D6B070" opacity="0.06" filter="url(#bl3)"/>
<circle cx="241.1" cy="1886.5" r="7.7" fill="#D6B070" opacity="0.06" filter="url(#bl3)"/>
<circle cx="378.6" cy="1874.2" r="7.0" fill="#D6B070" opacity="0.06" filter="url(#bl3)"/>
<circle cx="352.6" cy="1770.7" r="4.4" fill="#D6B070" opacity="0.06" filter="url(#bl3)"/>
<circle cx="208.4" cy="1723.6" r="7.6" fill="#D6B070" opacity="0.06" filter="url(#bl3)"/>
<circle cx="229.3" cy="1717.7" r="4.6" fill="#D6B070" opacity="0.06" filter="url(#bl3)"/>
<circle cx="161.3" cy="1792.8" r="4.7" fill="#D6B070" opacity="0.06" filter="url(#bl3)"/>
<circle cx="186.5" cy="1798.5" r="5.1" fill="#D6B070" opacity="0.06" filter="url(#bl3)"/>
<circle cx="248.7" cy="1858.5" r="4.5" fill="#D6B070" opacity="0.06" filter="url(#bl3)"/>
<circle cx="313.9" cy="1870.0" r="7.8" fill="#D6B070" opacity="0.06" filter="url(#bl3)"/>
<circle cx="255.9" cy="1720.6" r="7.8" fill="#D6B070" opacity="0.06" filter="url(#bl3)"/>
<circle cx="304.5" cy="1752.2" r="3.6" fill="#D6B070" opacity="0.06" filter="url(#bl3)"/>
<circle cx="208.6" cy="1768.8" r="3.7" fill="#D6B070" opacity="0.06" filter="url(#bl3)"/>
<circle cx="142.4" cy="1890.8" r="7.1" fill="#D6B070" opacity="0.06" filter="url(#bl3)"/>
<circle cx="164.8" cy="1799.2" r="7.0" fill="#D6B070" opacity="0.06" filter="url(#bl3)"/>
<circle cx="301.1" cy="1725.7" r="4.7" fill="#D6B070" opacity="0.06" filter="url(#bl3)"/>
<circle cx="258.0" cy="1876.5" r="5.9" fill="#D6B070" opacity="0.06" filter="url(#bl3)"/>
<circle cx="285.3" cy="1825.9" r="3.2" fill="#D6B070" opacity="0.06" filter="url(#bl3)"/>
<circle cx="364.4" cy="1857.5" r="6.4" fill="#D6B070" opacity="0.06" filter="url(#bl3)"/>
<circle cx="251.1" cy="1764.4" r="3.1" fill="#D6B070" opacity="0.06" filter="url(#bl3)"/>
<circle cx="153.9" cy="1741.0" r="5.3" fill="#D6B070" opacity="0.06" filter="url(#bl3)"/>
<circle cx="396.5" cy="1752.1" r="5.4" fill="#D6B070" opacity="0.06" filter="url(#bl3)"/>
<circle cx="346.9" cy="1825.7" r="3.1" fill="#D6B070" opacity="0.06" filter="url(#bl3)"/>
<circle cx="446.1" cy="1817.8" r="4.5" fill="#D6B070" opacity="0.06" filter="url(#bl3)"/>
<circle cx="208.7" cy="1836.3" r="7.7" fill="#D6B070" opacity="0.06" filter="url(#bl3)"/>
<circle cx="242.9" cy="1784.4" r="5.8" fill="#D6B070" opacity="0.06" filter="url(#bl3)"/>
<circle cx="186.3" cy="1785.8" r="7.6" fill="#D6B070" opacity="0.06" filter="url(#bl3)"/>
<circle cx="319.2" cy="1860.2" r="4.3" fill="#D6B070" opacity="0.06" filter="url(#bl3)"/>
<circle cx="428.0" cy="1853.0" r="4.1" fill="#D6B070" opacity="0.06" filter="url(#bl3)"/>
<circle cx="310.0" cy="1835.1" r="5.9" fill="#D6B070" opacity="0.06" filter="url(#bl3)"/>
<circle cx="335.1" cy="1756.2" r="5.8" fill="#D6B070" opacity="0.06" filter="url(#bl3)"/>
<circle cx="248.9" cy="1855.8" r="4.9" fill="#D6B070" opacity="0.06" filter="url(#bl3)"/>
<circle cx="466.6" cy="1817.0" r="4.1" fill="#D6B070" opacity="0.06" filter="url(#bl3)"/>
<circle cx="270.2" cy="1736.2" r="6.7" fill="#D6B070" opacity="0.06" filter="url(#bl3)"/>
<circle cx="141.3" cy="1821.3" r="4.5" fill="#D6B070" opacity="0.06" filter="url(#bl3)"/>
<circle cx="396.1" cy="1736.0" r="6.4" fill="#D6B070" opacity="0.06" filter="url(#bl3)"/>
<circle cx="374.1" cy="1755.0" r="3.7" fill="#D6B070" opacity="0.06" filter="url(#bl3)"/>
<circle cx="255.1" cy="1829.2" r="4.3" fill="#D6B070" opacity="0.06" filter="url(#bl3)"/>
<circle cx="128.4" cy="1792.2" r="7.0" fill="#D6B070" opacity="0.06" filter="url(#bl3)"/>
<circle cx="180.3" cy="1881.2" r="5.5" fill="#D6B070" opacity="0.06" filter="url(#bl3)"/>
<circle cx="181.3" cy="1731.3" r="4.9" fill="#D6B070" opacity="0.06" filter="url(#bl3)"/>
<circle cx="291.3" cy="1744.7" r="3.4" fill="#D6B070" opacity="0.06" filter="url(#bl3)"/>
<circle cx="300.0" cy="1758.7" r="5.2" fill="#D6B070" opacity="0.06" filter="url(#bl3)"/>
<circle cx="282.4" cy="1837.8" r="5.9" fill="#D6B070" opacity="0.06" filter="url(#bl3)"/>
<circle cx="204.9" cy="1745.5" r="7.3" fill="#D6B070" opacity="0.06" filter="url(#bl3)"/>
<circle cx="142.9" cy="1735.4" r="3.3" fill="#D6B070" opacity="0.06" filter="url(#bl3)"/>
<circle cx="413.3" cy="1809.9" r="7.6" fill="#D6B070" opacity="0.06" filter="url(#bl3)"/>
<circle cx="343.6" cy="1773.2" r="5.2" fill="#D6B070" opacity="0.06" filter="url(#bl3)"/>
<circle cx="380.5" cy="1754.7" r="7.0" fill="#D6B070" opacity="0.06" filter="url(#bl3)"/>
<circle cx="267.3" cy="1720.9" r="4.7" fill="#D6B070" opacity="0.06" filter="url(#bl3)"/>
<circle cx="320.6" cy="1739.5" r="7.5" fill="#D6B070" opacity="0.06" filter="url(#bl3)"/>
<circle cx="448.1" cy="1804.6" r="1.0" fill="#AE7A30" opacity="0.64"/>
<circle cx="312.8" cy="1741.6" r="1.1" fill="#AE7A30" opacity="0.76"/>
<circle cx="282.8" cy="1782.1" r="0.5" fill="#AE7A30" opacity="0.61"/>
<circle cx="423.2" cy="1782.8" r="0.7" fill="#AE7A30" opacity="0.61"/>
<circle cx="401.8" cy="1743.7" r="0.7" fill="#AE7A30" opacity="0.62"/>
<circle cx="139.7" cy="1859.1" r="0.7" fill="#AE7A30" opacity="0.72"/>
<circle cx="283.8" cy="1742.9" r="0.5" fill="#AE7A30" opacity="0.36"/>
<circle cx="216.0" cy="1848.6" r="1.0" fill="#AE7A30" opacity="0.62"/>
<circle cx="232.3" cy="1831.9" r="0.9" fill="#AE7A30" opacity="0.48"/>
<circle cx="153.7" cy="1797.1" r="0.6" fill="#AE7A30" opacity="0.39"/>
<circle cx="261.4" cy="1726.7" r="1.0" fill="#AE7A30" opacity="0.44"/>
<circle cx="438.4" cy="1844.9" r="0.5" fill="#AE7A30" opacity="0.75"/>
<circle cx="407.4" cy="1807.1" r="1.0" fill="#AE7A30" opacity="0.54"/>
<circle cx="134.1" cy="1740.1" r="0.7" fill="#AE7A30" opacity="0.73"/>
<circle cx="414.4" cy="1734.4" r="0.7" fill="#AE7A30" opacity="0.36"/>
<circle cx="204.9" cy="1776.2" r="0.7" fill="#AE7A30" opacity="0.37"/>
<circle cx="354.5" cy="1756.6" r="1.0" fill="#AE7A30" opacity="0.54"/>
<circle cx="275.0" cy="1850.0" r="0.7" fill="#AE7A30" opacity="0.43"/>
<circle cx="168.0" cy="1766.0" r="0.6" fill="#AE7A30" opacity="0.67"/>
<circle cx="249.0" cy="1839.5" r="0.7" fill="#AE7A30" opacity="0.33"/>
<circle cx="231.5" cy="1783.4" r="1.0" fill="#AE7A30" opacity="0.40"/>
<circle cx="199.1" cy="1741.2" r="0.7" fill="#AE7A30" opacity="0.78"/>
<circle cx="450.1" cy="1754.0" r="0.5" fill="#AE7A30" opacity="0.54"/>
<circle cx="329.0" cy="1733.3" r="0.8" fill="#AE7A30" opacity="0.68"/>
<circle cx="125.8" cy="1841.6" r="0.9" fill="#AE7A30" opacity="0.69"/>
<circle cx="295.0" cy="1796.2" r="0.8" fill="#AE7A30" opacity="0.37"/>
<circle cx="304.4" cy="1756.1" r="0.7" fill="#AE7A30" opacity="0.32"/>
<circle cx="180.5" cy="1723.3" r="0.8" fill="#AE7A30" opacity="0.42"/>
<circle cx="318.9" cy="1803.2" r="0.6" fill="#AE7A30" opacity="0.36"/>
<circle cx="333.0" cy="1834.1" r="0.9" fill="#AE7A30" opacity="0.55"/>
<circle cx="327.4" cy="1717.8" r="0.7" fill="#AE7A30" opacity="0.70"/>
<circle cx="256.8" cy="1732.0" r="0.8" fill="#AE7A30" opacity="0.72"/>
<circle cx="159.5" cy="1733.3" r="0.8" fill="#AE7A30" opacity="0.74"/>
<circle cx="261.4" cy="1757.6" r="1.0" fill="#AE7A30" opacity="0.35"/>
<circle cx="228.2" cy="1820.1" r="1.0" fill="#AE7A30" opacity="0.73"/>
<circle cx="238.8" cy="1760.9" r="0.7" fill="#AE7A30" opacity="0.36"/>
<circle cx="220.3" cy="1850.2" r="1.1" fill="#AE7A30" opacity="0.44"/>
<circle cx="150.5" cy="1845.3" r="1.1" fill="#AE7A30" opacity="0.70"/>
<circle cx="269.1" cy="1846.1" r="1.0" fill="#AE7A30" opacity="0.67"/>
<circle cx="297.0" cy="1891.6" r="1.0" fill="#AE7A30" opacity="0.42"/>
<circle cx="275.4" cy="1729.3" r="0.7" fill="#AE7A30" opacity="0.71"/>
<circle cx="294.8" cy="1806.9" r="1.0" fill="#AE7A30" opacity="0.34"/>
<circle cx="248.6" cy="1799.6" r="0.8" fill="#AE7A30" opacity="0.64"/>
<circle cx="451.8" cy="1856.4" r="0.8" fill="#AE7A30" opacity="0.64"/>
<circle cx="313.0" cy="1889.3" r="0.9" fill="#AE7A30" opacity="0.60"/>
<circle cx="263.3" cy="1788.2" r="1.0" fill="#AE7A30" opacity="0.49"/>
<circle cx="440.3" cy="1843.2" r="1.1" fill="#AE7A30" opacity="0.65"/>
<circle cx="323.9" cy="1778.8" r="0.5" fill="#AE7A30" opacity="0.63"/>
<circle cx="387.1" cy="1842.4" r="1.0" fill="#AE7A30" opacity="0.32"/>
<circle cx="363.7" cy="1763.3" r="0.7" fill="#AE7A30" opacity="0.73"/>
<circle cx="266.4" cy="1796.7" r="0.5" fill="#AE7A30" opacity="0.39"/>
<circle cx="198.6" cy="1751.8" r="0.8" fill="#AE7A30" opacity="0.32"/>
<circle cx="156.3" cy="1728.8" r="0.9" fill="#AE7A30" opacity="0.79"/>
<circle cx="386.7" cy="1805.3" r="0.6" fill="#AE7A30" opacity="0.69"/>
<circle cx="170.4" cy="1727.1" r="0.8" fill="#AE7A30" opacity="0.73"/>
<circle cx="233.6" cy="1867.4" r="0.7" fill="#AE7A30" opacity="0.78"/>
<circle cx="382.7" cy="1867.7" r="1.1" fill="#AE7A30" opacity="0.71"/>
<circle cx="193.7" cy="1805.4" r="0.8" fill="#AE7A30" opacity="0.66"/>
<circle cx="205.3" cy="1816.3" r="0.7" fill="#AE7A30" opacity="0.39"/>
<circle cx="282.0" cy="1856.8" r="0.8" fill="#AE7A30" opacity="0.48"/>
<circle cx="204.0" cy="1777.4" r="0.7" fill="#AE7A30" opacity="0.44"/>
<circle cx="233.7" cy="1753.9" r="0.7" fill="#AE7A30" opacity="0.64"/>
<circle cx="343.2" cy="1825.2" r="1.1" fill="#AE7A30" opacity="0.63"/>
<circle cx="170.6" cy="1785.4" r="0.8" fill="#AE7A30" opacity="0.67"/>
<circle cx="310.1" cy="1730.0" r="0.8" fill="#AE7A30" opacity="0.63"/>
<circle cx="399.0" cy="1793.0" r="0.6" fill="#AE7A30" opacity="0.32"/>
<circle cx="300.6" cy="1847.2" r="0.6" fill="#AE7A30" opacity="0.56"/>
<circle cx="333.3" cy="1813.3" r="0.6" fill="#AE7A30" opacity="0.35"/>
<circle cx="132.8" cy="1767.9" r="1.0" fill="#AE7A30" opacity="0.51"/>
<circle cx="469.2" cy="1860.5" r="0.9" fill="#AE7A30" opacity="0.52"/>
<circle cx="321.3" cy="1863.2" r="0.7" fill="#AE7A30" opacity="0.38"/>
<circle cx="438.5" cy="1826.0" r="0.7" fill="#AE7A30" opacity="0.50"/>
<circle cx="160.5" cy="1814.6" r="1.0" fill="#AE7A30" opacity="0.55"/>
<circle cx="368.3" cy="1845.1" r="0.7" fill="#AE7A30" opacity="0.62"/>
<circle cx="464.1" cy="1841.0" r="0.6" fill="#AE7A30" opacity="0.63"/>
<circle cx="350.0" cy="1851.8" r="0.9" fill="#AE7A30" opacity="0.76"/>
<circle cx="465.5" cy="1750.8" r="0.8" fill="#AE7A30" opacity="0.32"/>
<circle cx="469.0" cy="1732.4" r="0.8" fill="#AE7A30" opacity="0.61"/>
<circle cx="274.9" cy="1744.0" r="0.8" fill="#AE7A30" opacity="0.41"/>
<circle cx="296.1" cy="1841.0" r="0.7" fill="#AE7A30" opacity="0.52"/>
<circle cx="345.5" cy="1808.3" r="1.0" fill="#AE7A30" opacity="0.75"/>
<circle cx="462.3" cy="1742.9" r="0.8" fill="#AE7A30" opacity="0.36"/>
<circle cx="368.7" cy="1784.1" r="1.0" fill="#AE7A30" opacity="0.54"/>
<circle cx="403.5" cy="1718.9" r="0.9" fill="#AE7A30" opacity="0.51"/>
<circle cx="415.5" cy="1731.8" r="0.6" fill="#AE7A30" opacity="0.64"/>
<circle cx="239.0" cy="1791.0" r="0.7" fill="#AE7A30" opacity="0.79"/>
<circle cx="342.7" cy="1861.9" r="1.0" fill="#AE7A30" opacity="0.73"/>
<circle cx="281.1" cy="1765.1" r="0.8" fill="#AE7A30" opacity="0.75"/>
<circle cx="433.1" cy="1798.7" r="1.0" fill="#AE7A30" opacity="0.68"/>
<circle cx="139.4" cy="1826.4" r="1.0" fill="#AE7A30" opacity="0.32"/>
<circle cx="256.9" cy="1828.5" r="0.8" fill="#AE7A30" opacity="0.56"/>
<circle cx="156.7" cy="1760.1" r="1.0" fill="#AE7A30" opacity="0.47"/>
<circle cx="292.3" cy="1818.7" r="0.7" fill="#AE7A30" opacity="0.51"/>
<circle cx="301.5" cy="1868.4" r="1.0" fill="#AE7A30" opacity="0.39"/>
<circle cx="300.7" cy="1847.5" r="1.0" fill="#AE7A30" opacity="0.57"/>
<circle cx="345.4" cy="1828.6" r="0.9" fill="#AE7A30" opacity="0.75"/>
<circle cx="468.7" cy="1890.3" r="0.6" fill="#AE7A30" opacity="0.66"/>
<circle cx="260.5" cy="1763.3" r="0.6" fill="#AE7A30" opacity="0.76"/>
<circle cx="436.7" cy="1807.7" r="0.8" fill="#AE7A30" opacity="0.40"/>
<circle cx="448.5" cy="1848.5" r="0.6" fill="#AE7A30" opacity="0.59"/>
<circle cx="472.3" cy="1760.4" r="0.7" fill="#AE7A30" opacity="0.48"/>
<circle cx="254.8" cy="1734.4" r="0.9" fill="#AE7A30" opacity="0.42"/>
<circle cx="362.4" cy="1796.9" r="1.0" fill="#AE7A30" opacity="0.67"/>
<circle cx="424.4" cy="1741.1" r="1.0" fill="#AE7A30" opacity="0.69"/>
<circle cx="227.0" cy="1713.6" r="0.6" fill="#AE7A30" opacity="0.69"/>
<circle cx="462.7" cy="1725.4" r="0.6" fill="#AE7A30" opacity="0.50"/>
<circle cx="149.1" cy="1827.8" r="1.0" fill="#AE7A30" opacity="0.72"/>
<circle cx="187.6" cy="1875.8" r="1.0" fill="#AE7A30" opacity="0.38"/>
<circle cx="422.7" cy="1879.4" r="1.0" fill="#AE7A30" opacity="0.68"/>
<circle cx="409.9" cy="1808.8" r="0.5" fill="#AE7A30" opacity="0.64"/>
<circle cx="299.4" cy="1739.9" r="0.6" fill="#AE7A30" opacity="0.74"/>
<circle cx="440.4" cy="1722.5" r="0.5" fill="#AE7A30" opacity="0.65"/>
<circle cx="226.9" cy="1868.6" r="0.8" fill="#AE7A30" opacity="0.66"/>
<circle cx="141.6" cy="1851.9" r="0.6" fill="#AE7A30" opacity="0.51"/>
<circle cx="294.7" cy="1771.3" r="0.6" fill="#AE7A30" opacity="0.52"/>
<circle cx="143.3" cy="1741.5" r="0.6" fill="#AE7A30" opacity="0.73"/>
<circle cx="234.0" cy="1888.9" r="1.0" fill="#AE7A30" opacity="0.38"/>
<circle cx="423.6" cy="1889.5" r="0.8" fill="#AE7A30" opacity="0.54"/>
<circle cx="360.3" cy="1800.9" r="0.7" fill="#AE7A30" opacity="0.67"/>
<circle cx="201.9" cy="1782.0" r="0.5" fill="#AE7A30" opacity="0.46"/>
<circle cx="406.2" cy="1738.0" r="0.6" fill="#AE7A30" opacity="0.50"/>
<circle cx="229.0" cy="1714.6" r="0.5" fill="#AE7A30" opacity="0.40"/>
<circle cx="401.6" cy="1851.9" r="1.0" fill="#AE7A30" opacity="0.65"/>
<circle cx="473.2" cy="1759.4" r="0.9" fill="#AE7A30" opacity="0.52"/>
<circle cx="460.0" cy="1792.4" r="0.9" fill="#AE7A30" opacity="0.69"/>
<circle cx="461.2" cy="1849.9" r="0.7" fill="#AE7A30" opacity="0.62"/>
<circle cx="402.9" cy="1881.0" r="0.6" fill="#AE7A30" opacity="0.67"/>
<circle cx="376.7" cy="1741.6" r="0.6" fill="#AE7A30" opacity="0.58"/>
<circle cx="333.9" cy="1772.0" r="0.9" fill="#AE7A30" opacity="0.37"/>
<circle cx="324.8" cy="1808.8" r="1.0" fill="#AE7A30" opacity="0.66"/>
<circle cx="153.0" cy="1812.7" r="0.6" fill="#AE7A30" opacity="0.56"/>
<circle cx="361.7" cy="1839.0" r="0.5" fill="#AE7A30" opacity="0.57"/>
<circle cx="186.2" cy="1803.8" r="0.8" fill="#AE7A30" opacity="0.54"/>
<circle cx="391.4" cy="1766.5" r="0.8" fill="#AE7A30" opacity="0.42"/>
<circle cx="194.3" cy="1826.1" r="0.6" fill="#AE7A30" opacity="0.70"/>
<circle cx="255.8" cy="1733.6" r="1.0" fill="#AE7A30" opacity="0.31"/>
<circle cx="228.2" cy="1830.2" r="0.5" fill="#AE7A30" opacity="0.65"/>
<circle cx="321.3" cy="1887.5" r="0.7" fill="#AE7A30" opacity="0.71"/>
<circle cx="467.0" cy="1802.4" r="0.5" fill="#AE7A30" opacity="0.47"/>
<circle cx="408.9" cy="1713.4" r="0.9" fill="#AE7A30" opacity="0.56"/>
<circle cx="383.2" cy="1779.4" r="1.1" fill="#AE7A30" opacity="0.36"/>
<circle cx="270.5" cy="1768.0" r="0.8" fill="#AE7A30" opacity="0.41"/>
<circle cx="260.2" cy="1793.6" r="1.1" fill="#AE7A30" opacity="0.31"/>
<circle cx="224.2" cy="1739.8" r="0.9" fill="#AE7A30" opacity="0.69"/>
<circle cx="131.0" cy="1853.1" r="1.0" fill="#AE7A30" opacity="0.53"/>
<circle cx="332.8" cy="1854.8" r="1.1" fill="#AE7A30" opacity="0.41"/>
<circle cx="372.0" cy="1727.5" r="0.7" fill="#AE7A30" opacity="0.76"/>
<circle cx="344.1" cy="1808.6" r="0.8" fill="#AE7A30" opacity="0.53"/>
<circle cx="136.1" cy="1813.5" r="1.1" fill="#AE7A30" opacity="0.36"/>
<circle cx="137.4" cy="1824.9" r="1.0" fill="#AE7A30" opacity="0.51"/>
<circle cx="154.5" cy="1828.4" r="0.9" fill="#AE7A30" opacity="0.42"/>
<circle cx="408.9" cy="1810.3" r="1.0" fill="#AE7A30" opacity="0.42"/>
<circle cx="251.5" cy="1831.6" r="0.9" fill="#AE7A30" opacity="0.72"/>
<circle cx="454.0" cy="1841.9" r="0.5" fill="#AE7A30" opacity="0.53"/>
<circle cx="357.5" cy="1852.5" r="0.7" fill="#AE7A30" opacity="0.33"/>
<circle cx="327.6" cy="1747.8" r="0.8" fill="#AE7A30" opacity="0.41"/>
<circle cx="431.5" cy="1718.8" r="0.8" fill="#AE7A30" opacity="0.74"/>
<circle cx="349.2" cy="1739.4" r="0.8" fill="#AE7A30" opacity="0.71"/>
<circle cx="345.3" cy="1875.1" r="1.0" fill="#AE7A30" opacity="0.49"/>
<circle cx="168.4" cy="1836.7" r="0.8" fill="#AE7A30" opacity="0.71"/>
<circle cx="280.3" cy="1841.7" r="0.6" fill="#AE7A30" opacity="0.68"/>
<circle cx="426.9" cy="1857.9" r="1.0" fill="#AE7A30" opacity="0.64"/>
<circle cx="184.8" cy="1772.2" r="0.7" fill="#AE7A30" opacity="0.45"/>
<circle cx="329.0" cy="1778.1" r="0.9" fill="#AE7A30" opacity="0.75"/>
<circle cx="471.5" cy="1714.1" r="0.9" fill="#AE7A30" opacity="0.59"/>
<circle cx="275.9" cy="1844.5" r="1.0" fill="#AE7A30" opacity="0.42"/>
<circle cx="346.9" cy="1741.6" r="0.8" fill="#AE7A30" opacity="0.48"/>
<circle cx="411.1" cy="1875.8" r="1.0" fill="#AE7A30" opacity="0.56"/>
<circle cx="372.8" cy="1829.5" r="0.8" fill="#AE7A30" opacity="0.37"/>
<circle cx="219.1" cy="1884.0" r="0.9" fill="#AE7A30" opacity="0.36"/>
<circle cx="249.3" cy="1737.3" r="0.6" fill="#AE7A30" opacity="0.49"/>
<circle cx="227.0" cy="1716.8" r="0.8" fill="#AE7A30" opacity="0.76"/>
<circle cx="286.5" cy="1784.7" r="0.7" fill="#AE7A30" opacity="0.43"/>
<circle cx="239.3" cy="1748.1" r="0.8" fill="#AE7A30" opacity="0.76"/>
<circle cx="252.8" cy="1870.4" r="0.8" fill="#AE7A30" opacity="0.62"/>
<circle cx="293.2" cy="1783.3" r="1.0" fill="#AE7A30" opacity="0.60"/>
<circle cx="191.6" cy="1768.1" r="0.7" fill="#AE7A30" opacity="0.58"/>
<circle cx="256.7" cy="1760.8" r="0.7" fill="#AE7A30" opacity="0.80"/>
<circle cx="383.0" cy="1867.5" r="1.0" fill="#AE7A30" opacity="0.37"/>
<circle cx="312.1" cy="1842.6" r="0.8" fill="#AE7A30" opacity="0.56"/>
<circle cx="345.8" cy="1826.3" r="0.6" fill="#AE7A30" opacity="0.33"/>
<circle cx="220.3" cy="1719.7" r="0.7" fill="#AE7A30" opacity="0.32"/>
<circle cx="161.9" cy="1830.6" r="0.6" fill="#AE7A30" opacity="0.66"/>
<circle cx="271.4" cy="1862.5" r="0.8" fill="#AE7A30" opacity="0.74"/>
<circle cx="273.4" cy="1788.1" r="1.1" fill="#AE7A30" opacity="0.64"/>
<circle cx="274.5" cy="1868.9" r="0.9" fill="#AE7A30" opacity="0.62"/>
<circle cx="134.9" cy="1872.0" r="0.6" fill="#AE7A30" opacity="0.31"/>
<circle cx="243.4" cy="1748.0" r="0.6" fill="#AE7A30" opacity="0.54"/>
<circle cx="300.8" cy="1834.7" r="1.0" fill="#AE7A30" opacity="0.65"/>
<circle cx="427.2" cy="1790.2" r="0.6" fill="#AE7A30" opacity="0.66"/>
<circle cx="472.1" cy="1743.6" r="0.9" fill="#AE7A30" opacity="0.49"/>
<circle cx="467.9" cy="1719.2" r="0.8" fill="#AE7A30" opacity="0.48"/>
<circle cx="254.0" cy="1846.0" r="0.5" fill="#AE7A30" opacity="0.44"/>
<circle cx="462.3" cy="1795.4" r="0.5" fill="#AE7A30" opacity="0.61"/>
<circle cx="354.2" cy="1879.1" r="1.0" fill="#AE7A30" opacity="0.77"/>
<circle cx="217.6" cy="1770.1" r="0.9" fill="#AE7A30" opacity="0.47"/>
<circle cx="256.2" cy="1720.5" r="0.6" fill="#AE7A30" opacity="0.37"/>
<circle cx="255.2" cy="1838.4" r="0.6" fill="#AE7A30" opacity="0.44"/>
<circle cx="154.1" cy="1786.0" r="0.9" fill="#AE7A30" opacity="0.60"/>
<circle cx="350.6" cy="1809.1" r="0.9" fill="#AE7A30" opacity="0.70"/>
<circle cx="418.0" cy="1713.5" r="1.1" fill="#AE7A30" opacity="0.54"/>
<circle cx="471.3" cy="1849.4" r="0.8" fill="#AE7A30" opacity="0.32"/>
<circle cx="159.1" cy="1851.9" r="0.5" fill="#AE7A30" opacity="0.33"/>
<circle cx="368.7" cy="1821.7" r="0.9" fill="#AE7A30" opacity="0.33"/>
<circle cx="459.3" cy="1847.0" r="0.5" fill="#AE7A30" opacity="0.58"/>
<circle cx="239.0" cy="1754.9" r="0.9" fill="#AE7A30" opacity="0.79"/>
<circle cx="136.3" cy="1857.0" r="1.1" fill="#AE7A30" opacity="0.34"/>
<circle cx="438.0" cy="1716.0" r="0.7" fill="#AE7A30" opacity="0.31"/>
<circle cx="187.2" cy="1744.1" r="0.8" fill="#AE7A30" opacity="0.52"/>
<circle cx="462.5" cy="1848.1" r="0.5" fill="#AE7A30" opacity="0.34"/>
<circle cx="222.5" cy="1858.8" r="1.0" fill="#AE7A30" opacity="0.72"/>
<circle cx="427.1" cy="1843.8" r="0.8" fill="#AE7A30" opacity="0.72"/>
<circle cx="412.2" cy="1859.3" r="1.0" fill="#AE7A30" opacity="0.57"/>
<circle cx="155.5" cy="1824.8" r="0.9" fill="#AE7A30" opacity="0.77"/>
<circle cx="385.6" cy="1873.2" r="1.0" fill="#AE7A30" opacity="0.46"/>
<circle cx="448.0" cy="1815.0" r="0.8" fill="#AE7A30" opacity="0.52"/>
<circle cx="298.3" cy="1787.3" r="0.9" fill="#AE7A30" opacity="0.43"/>
<circle cx="277.2" cy="1829.3" r="1.1" fill="#AE7A30" opacity="0.67"/>
<circle cx="318.7" cy="1780.3" r="0.9" fill="#AE7A30" opacity="0.76"/>
<circle cx="131.4" cy="1782.4" r="0.7" fill="#AE7A30" opacity="0.69"/>
<circle cx="191.2" cy="1735.5" r="9.0" fill="#D6B070" opacity="0.6" filter="url(#bl3)"/>
<circle cx="189.5" cy="1736.4" r="0.7" fill="#AE7A30" opacity="0.59" filter="url(#bl1)"/>
<circle cx="190.5" cy="1729.9" r="1.1" fill="#AE7A30" opacity="0.60" filter="url(#bl1)"/>
<circle cx="190.6" cy="1733.0" r="1.1" fill="#AE7A30" opacity="0.69" filter="url(#bl1)"/>
<circle cx="188.4" cy="1734.6" r="1.0" fill="#AE7A30" opacity="0.54" filter="url(#bl1)"/>
<circle cx="193.9" cy="1736.5" r="1.0" fill="#AE7A30" opacity="0.58" filter="url(#bl1)"/>
<circle cx="195.1" cy="1730.6" r="1.4" fill="#AE7A30" opacity="0.89" filter="url(#bl1)"/>
<circle cx="194.6" cy="1732.2" r="0.8" fill="#AE7A30" opacity="0.80" filter="url(#bl1)"/>
<circle cx="190.1" cy="1734.0" r="0.7" fill="#AE7A30" opacity="0.65" filter="url(#bl1)"/>
<circle cx="193.4" cy="1733.5" r="0.7" fill="#AE7A30" opacity="0.53" filter="url(#bl1)"/>
<circle cx="189.5" cy="1732.0" r="0.7" fill="#AE7A30" opacity="0.73" filter="url(#bl1)"/>
<circle cx="184.4" cy="1733.9" r="1.3" fill="#AE7A30" opacity="0.58" filter="url(#bl1)"/>
<circle cx="184.2" cy="1732.5" r="1.0" fill="#AE7A30" opacity="0.84" filter="url(#bl1)"/>
<circle cx="191.4" cy="1729.4" r="1.3" fill="#AE7A30" opacity="0.89" filter="url(#bl1)"/>
<circle cx="192.2" cy="1726.7" r="0.5" fill="#AE7A30" opacity="0.86" filter="url(#bl1)"/>
<circle cx="196.1" cy="1729.4" r="1.1" fill="#AE7A30" opacity="0.79" filter="url(#bl1)"/>
<circle cx="191.1" cy="1727.5" r="1.3" fill="#AE7A30" opacity="0.63" filter="url(#bl1)"/>
<circle cx="189.1" cy="1733.6" r="1.0" fill="#AE7A30" opacity="0.47" filter="url(#bl1)"/>
<circle cx="195.0" cy="1733.5" r="0.8" fill="#AE7A30" opacity="0.94" filter="url(#bl1)"/>
<circle cx="192.4" cy="1732.5" r="0.7" fill="#AE7A30" opacity="0.76" filter="url(#bl1)"/>
<circle cx="188.8" cy="1735.6" r="0.8" fill="#AE7A30" opacity="0.84" filter="url(#bl1)"/>
<circle cx="188.2" cy="1736.1" r="1.1" fill="#AE7A30" opacity="0.91" filter="url(#bl1)"/>
<circle cx="190.5" cy="1725.7" r="1.2" fill="#AE7A30" opacity="0.64" filter="url(#bl1)"/>
<circle cx="189.2" cy="1734.5" r="1.0" fill="#AE7A30" opacity="0.68" filter="url(#bl1)"/>
<circle cx="194.4" cy="1734.3" r="0.6" fill="#AE7A30" opacity="0.57" filter="url(#bl1)"/>
<circle cx="191.7" cy="1730.4" r="1.1" fill="#AE7A30" opacity="0.48" filter="url(#bl1)"/>
<circle cx="190.4" cy="1736.9" r="1.3" fill="#AE7A30" opacity="0.81" filter="url(#bl1)"/>
<circle cx="192.2" cy="1729.7" r="1.2" fill="#AE7A30" opacity="0.66" filter="url(#bl1)"/>
<circle cx="190.4" cy="1736.6" r="0.5" fill="#AE7A30" opacity="0.53" filter="url(#bl1)"/>
<circle cx="189.2" cy="1731.3" r="0.5" fill="#AE7A30" opacity="0.47" filter="url(#bl1)"/>
<circle cx="188.7" cy="1732.0" r="1.0" fill="#AE7A30" opacity="0.48" filter="url(#bl1)"/>
<circle cx="190.9" cy="1733.6" r="1.0" fill="#AE7A30" opacity="0.91" filter="url(#bl1)"/>
<circle cx="191.1" cy="1731.8" r="1.0" fill="#AE7A30" opacity="0.74" filter="url(#bl1)"/>
<circle cx="191.0" cy="1734.5" r="0.8" fill="#AE7A30" opacity="0.53" filter="url(#bl1)"/>
<circle cx="190.9" cy="1735.3" r="0.9" fill="#AE7A30" opacity="0.70" filter="url(#bl1)"/>
<circle cx="191.9" cy="1735.4" r="0.7" fill="#AE7A30" opacity="0.75" filter="url(#bl1)"/>
<circle cx="192.9" cy="1737.3" r="0.7" fill="#AE7A30" opacity="0.59" filter="url(#bl1)"/>
<circle cx="191.7" cy="1736.2" r="1.2" fill="#AE7A30" opacity="0.78" filter="url(#bl1)"/>
<circle cx="194.4" cy="1737.7" r="1.0" fill="#AE7A30" opacity="0.50" filter="url(#bl1)"/>
<circle cx="188.6" cy="1729.9" r="0.8" fill="#AE7A30" opacity="0.59" filter="url(#bl1)"/>
<circle cx="192.5" cy="1731.7" r="0.6" fill="#AE7A30" opacity="0.45" filter="url(#bl1)"/>
<circle cx="191.2" cy="1735.5" r="7.0" fill="#D6B070" opacity="0.55" filter="url(#bl2)"/>
<ellipse cx="192.7" cy="1736.3" rx="3.4" ry="2.9" fill="#AE7A30" opacity="0.8" filter="url(#bl1)"/>
<ellipse cx="191.4" cy="1735.6" rx="3.1" ry="3.4" fill="#AE7A30" opacity="0.8" filter="url(#bl1)"/>
<ellipse cx="189.9" cy="1734.5" rx="2.8" ry="3.4" fill="#AE7A30" opacity="0.8" filter="url(#bl1)"/>
<circle cx="192.8" cy="1736.1" r="0.9" fill="#93581A" opacity="0.7" filter="url(#bl1)"/>
<circle cx="190.6" cy="1733.8" r="1.0" fill="#93581A" opacity="0.7" filter="url(#bl1)"/>
<circle cx="192.7" cy="1731.1" r="0.7" fill="#93581A" opacity="0.7" filter="url(#bl1)"/>
<circle cx="191.5" cy="1733.2" r="0.9" fill="#93581A" opacity="0.7" filter="url(#bl1)"/>
<circle cx="191.2" cy="1734.0" r="0.6" fill="#93581A" opacity="0.7" filter="url(#bl1)"/>
<circle cx="193.3" cy="1735.9" r="1.0" fill="#93581A" opacity="0.7" filter="url(#bl1)"/>
<circle cx="189.6" cy="1732.6" r="1.0" fill="#93581A" opacity="0.7" filter="url(#bl1)"/>
<circle cx="191.0" cy="1734.0" r="1.1" fill="#93581A" opacity="0.7" filter="url(#bl1)"/>
<circle cx="192.8" cy="1736.8" r="1.3" fill="#93581A" opacity="0.7" filter="url(#bl1)"/>
<circle cx="188.8" cy="1733.2" r="0.7" fill="#93581A" opacity="0.7" filter="url(#bl1)"/>
<circle cx="225.3" cy="1727" r="7.7" fill="#D6B070" opacity="0.55" filter="url(#bl2)"/>
<ellipse cx="226.3" cy="1727.1" rx="3.9" ry="3.4" fill="#AE7A30" opacity="0.8" filter="url(#bl1)"/>
<ellipse cx="224.3" cy="1726.3" rx="2.8" ry="3.5" fill="#AE7A30" opacity="0.8" filter="url(#bl1)"/>
<ellipse cx="225.1" cy="1728.6" rx="3.5" ry="3.6" fill="#AE7A30" opacity="0.8" filter="url(#bl1)"/>
<circle cx="224.2" cy="1728.1" r="1.3" fill="#93581A" opacity="0.7" filter="url(#bl1)"/>
<circle cx="228.9" cy="1730.0" r="0.5" fill="#93581A" opacity="0.7" filter="url(#bl1)"/>
<circle cx="222.7" cy="1727.2" r="0.7" fill="#93581A" opacity="0.7" filter="url(#bl1)"/>
<circle cx="227.7" cy="1724.7" r="0.7" fill="#93581A" opacity="0.7" filter="url(#bl1)"/>
<circle cx="225.2" cy="1724.7" r="1.4" fill="#93581A" opacity="0.7" filter="url(#bl1)"/>
<circle cx="224.2" cy="1728.1" r="1.1" fill="#93581A" opacity="0.7" filter="url(#bl1)"/>
<circle cx="225.9" cy="1721.2" r="1.2" fill="#93581A" opacity="0.7" filter="url(#bl1)"/>
<circle cx="224.1" cy="1730.9" r="1.1" fill="#93581A" opacity="0.7" filter="url(#bl1)"/>
<circle cx="223.4" cy="1725.9" r="1.2" fill="#93581A" opacity="0.7" filter="url(#bl1)"/>
<circle cx="227.0" cy="1728.8" r="0.8" fill="#93581A" opacity="0.7" filter="url(#bl1)"/>
<circle cx="230.2" cy="1726.4" r="1.0" fill="#93581A" opacity="0.7" filter="url(#bl1)"/>
<circle cx="198" cy="1773.8" r="10.5" fill="#D6B070" opacity="0.55" filter="url(#bl2)"/>
<ellipse cx="199.4" cy="1772.2" rx="4.4" ry="5.3" fill="#AE7A30" opacity="0.8" filter="url(#bl1)"/>
<ellipse cx="199.2" cy="1774.6" rx="5.3" ry="4.9" fill="#AE7A30" opacity="0.8" filter="url(#bl1)"/>
<ellipse cx="198.7" cy="1772.9" rx="5.4" ry="4.2" fill="#AE7A30" opacity="0.8" filter="url(#bl1)"/>
<circle cx="203.7" cy="1774.0" r="1.1" fill="#93581A" opacity="0.7" filter="url(#bl1)"/>
<circle cx="196.8" cy="1781.9" r="1.4" fill="#93581A" opacity="0.7" filter="url(#bl1)"/>
<circle cx="201.6" cy="1779.9" r="0.6" fill="#93581A" opacity="0.7" filter="url(#bl1)"/>
<circle cx="202.6" cy="1772.0" r="0.7" fill="#93581A" opacity="0.7" filter="url(#bl1)"/>
<circle cx="198.7" cy="1770.0" r="0.6" fill="#93581A" opacity="0.7" filter="url(#bl1)"/>
<circle cx="196.0" cy="1765.9" r="0.7" fill="#93581A" opacity="0.7" filter="url(#bl1)"/>
<circle cx="195.0" cy="1773.6" r="1.2" fill="#93581A" opacity="0.7" filter="url(#bl1)"/>
<circle cx="193.0" cy="1779.6" r="1.0" fill="#93581A" opacity="0.7" filter="url(#bl1)"/>
<circle cx="198.7" cy="1776.5" r="1.1" fill="#93581A" opacity="0.7" filter="url(#bl1)"/>
<circle cx="195.8" cy="1772.4" r="0.9" fill="#93581A" opacity="0.7" filter="url(#bl1)"/>
<circle cx="193.2" cy="1776.4" r="0.7" fill="#93581A" opacity="0.7" filter="url(#bl1)"/>
<circle cx="198.9" cy="1777.8" r="0.6" fill="#93581A" opacity="0.7" filter="url(#bl1)"/>
<circle cx="193.0" cy="1767.7" r="0.9" fill="#93581A" opacity="0.7" filter="url(#bl1)"/>
<circle cx="196.1" cy="1766.6" r="1.3" fill="#93581A" opacity="0.7" filter="url(#bl1)"/>
<circle cx="202.4" cy="1775.6" r="1.3" fill="#93581A" opacity="0.7" filter="url(#bl1)"/>
<circle cx="198" cy="1773.8" r="7.0" fill="#D6B070" opacity="0.55" filter="url(#bl2)"/>
<ellipse cx="199.3" cy="1775.0" rx="2.7" ry="2.6" fill="#AE7A30" opacity="0.8" filter="url(#bl1)"/>
<ellipse cx="198.1" cy="1774.2" rx="2.7" ry="2.7" fill="#AE7A30" opacity="0.8" filter="url(#bl1)"/>
<ellipse cx="197.0" cy="1772.6" rx="3.6" ry="3.0" fill="#AE7A30" opacity="0.8" filter="url(#bl1)"/>
<circle cx="196.6" cy="1772.1" r="0.8" fill="#93581A" opacity="0.7" filter="url(#bl1)"/>
<circle cx="198.6" cy="1777.0" r="1.4" fill="#93581A" opacity="0.7" filter="url(#bl1)"/>
<circle cx="194.1" cy="1770.7" r="1.4" fill="#93581A" opacity="0.7" filter="url(#bl1)"/>
<circle cx="200.3" cy="1770.8" r="0.7" fill="#93581A" opacity="0.7" filter="url(#bl1)"/>
<circle cx="194.0" cy="1775.5" r="1.1" fill="#93581A" opacity="0.7" filter="url(#bl1)"/>
<circle cx="201.1" cy="1774.7" r="1.3" fill="#93581A" opacity="0.7" filter="url(#bl1)"/>
<circle cx="199.0" cy="1773.2" r="1.1" fill="#93581A" opacity="0.7" filter="url(#bl1)"/>
<circle cx="195.1" cy="1778.0" r="1.4" fill="#93581A" opacity="0.7" filter="url(#bl1)"/>
<circle cx="201.8" cy="1770.7" r="1.1" fill="#93581A" opacity="0.7" filter="url(#bl1)"/>
<circle cx="198.2" cy="1771.5" r="0.8" fill="#93581A" opacity="0.7" filter="url(#bl1)"/>
<circle cx="211.1" cy="1750.9" r="2.2" fill="#93581A" opacity="0.85" filter="url(#bl1)"/>
<circle cx="205.7" cy="1723.6" r="1.7" fill="#93581A" opacity="0.85" filter="url(#bl1)"/>
<circle cx="152.9" cy="1753.4" r="2.2" fill="#93581A" opacity="0.85" filter="url(#bl1)"/>
<circle cx="147" cy="1772.1" r="2.2" fill="#93581A" opacity="0.85" filter="url(#bl1)"/>
<circle cx="134.2" cy="1769.6" r="1.7" fill="#93581A" opacity="0.85" filter="url(#bl1)"/>
<circle cx="152.1" cy="1784.9" r="4.2" fill="#D6B070" opacity="0.55" filter="url(#bl2)"/>
<ellipse cx="152.3" cy="1785.7" rx="2.2" ry="1.9" fill="#AE7A30" opacity="0.8" filter="url(#bl1)"/>
<ellipse cx="152.3" cy="1785.5" rx="2.0" ry="2.0" fill="#AE7A30" opacity="0.8" filter="url(#bl1)"/>
<ellipse cx="153.0" cy="1785.4" rx="1.5" ry="1.9" fill="#AE7A30" opacity="0.8" filter="url(#bl1)"/>
<circle cx="150.1" cy="1784.6" r="1.1" fill="#93581A" opacity="0.7" filter="url(#bl1)"/>
<circle cx="150.1" cy="1785.1" r="1.2" fill="#93581A" opacity="0.7" filter="url(#bl1)"/>
<circle cx="150.8" cy="1786.5" r="1.1" fill="#93581A" opacity="0.7" filter="url(#bl1)"/>
<circle cx="151.4" cy="1785.7" r="1.2" fill="#93581A" opacity="0.7" filter="url(#bl1)"/>
<circle cx="151.3" cy="1783.8" r="1.0" fill="#93581A" opacity="0.7" filter="url(#bl1)"/>
<circle cx="154.1" cy="1782.8" r="0.7" fill="#93581A" opacity="0.7" filter="url(#bl1)"/>
<circle cx="149.5" cy="1796" r="4.9" fill="#D6B070" opacity="0.55" filter="url(#bl2)"/>
<ellipse cx="148.6" cy="1796.7" rx="2.3" ry="2.2" fill="#AE7A30" opacity="0.8" filter="url(#bl1)"/>
<ellipse cx="148.6" cy="1796.7" rx="2.6" ry="2.2" fill="#AE7A30" opacity="0.8" filter="url(#bl1)"/>
<ellipse cx="148.8" cy="1795.2" rx="2.1" ry="2.2" fill="#AE7A30" opacity="0.8" filter="url(#bl1)"/>
<circle cx="152.9" cy="1797.7" r="1.4" fill="#93581A" opacity="0.7" filter="url(#bl1)"/>
<circle cx="149.2" cy="1795.3" r="1.1" fill="#93581A" opacity="0.7" filter="url(#bl1)"/>
<circle cx="150.4" cy="1796.2" r="1.0" fill="#93581A" opacity="0.7" filter="url(#bl1)"/>
<circle cx="150.1" cy="1794.6" r="0.8" fill="#93581A" opacity="0.7" filter="url(#bl1)"/>
<circle cx="148.3" cy="1793.9" r="0.7" fill="#93581A" opacity="0.7" filter="url(#bl1)"/>
<circle cx="146.7" cy="1794.4" r="1.2" fill="#93581A" opacity="0.7" filter="url(#bl1)"/>
<circle cx="147.3" cy="1795.5" r="0.9" fill="#93581A" opacity="0.7" filter="url(#bl1)"/>
<circle cx="138.5" cy="1805.3" r="2.2" fill="#93581A" opacity="0.85" filter="url(#bl1)"/>
<circle cx="139.3" cy="1813.8" r="2.2" fill="#93581A" opacity="0.85" filter="url(#bl1)"/>
<circle cx="126.6" cy="1817.2" r="1.7" fill="#93581A" opacity="0.85" filter="url(#bl1)"/>
<circle cx="164" cy="1785.7" r="1.7" fill="#93581A" opacity="0.85" filter="url(#bl1)"/>
<circle cx="227.8" cy="1807" r="5.7" fill="#D6B070" opacity="0.5" filter="url(#bl2)"/>
<ellipse cx="227.1" cy="1806.4" rx="2.6" ry="2.5" fill="#93581A" opacity="0.85" filter="url(#bl1)"/>
<ellipse cx="226.7" cy="1807.2" rx="2.9" ry="2.9" fill="#93581A" opacity="0.85" filter="url(#bl1)"/>
<ellipse cx="226.9" cy="1806.6" rx="2.3" ry="2.3" fill="#93581A" opacity="0.85" filter="url(#bl1)"/>
<ellipse cx="226.6" cy="1805.7" rx="2.5" ry="2.5" fill="#93581A" opacity="0.85" filter="url(#bl1)"/>
<circle cx="223.6" cy="1806.2" r="1.1" fill="#93581A" opacity="0.8" filter="url(#bl1)"/>
<circle cx="230.9" cy="1807.6" r="0.4" fill="#93581A" opacity="0.8" filter="url(#bl1)"/>
<circle cx="230.1" cy="1807.2" r="0.5" fill="#93581A" opacity="0.8" filter="url(#bl1)"/>
<circle cx="224.1" cy="1809.3" r="0.5" fill="#93581A" opacity="0.8" filter="url(#bl1)"/>
<circle cx="224.6" cy="1804.1" r="0.6" fill="#93581A" opacity="0.8" filter="url(#bl1)"/>
<circle cx="210.8" cy="1815.5" r="3.5" fill="#D6B070" opacity="0.55" filter="url(#bl2)"/>
<ellipse cx="210.5" cy="1815.0" rx="1.8" ry="1.6" fill="#AE7A30" opacity="0.8" filter="url(#bl1)"/>
<ellipse cx="211.0" cy="1815.5" rx="1.5" ry="1.4" fill="#AE7A30" opacity="0.8" filter="url(#bl1)"/>
<ellipse cx="210.9" cy="1814.9" rx="1.6" ry="1.4" fill="#AE7A30" opacity="0.8" filter="url(#bl1)"/>
<circle cx="210.1" cy="1816.8" r="1.1" fill="#93581A" opacity="0.7" filter="url(#bl1)"/>
<circle cx="210.4" cy="1815.2" r="0.8" fill="#93581A" opacity="0.7" filter="url(#bl1)"/>
<circle cx="212.3" cy="1815.3" r="0.7" fill="#93581A" opacity="0.7" filter="url(#bl1)"/>
<circle cx="211.5" cy="1814.0" r="1.2" fill="#93581A" opacity="0.7" filter="url(#bl1)"/>
<circle cx="212.2" cy="1814.8" r="1.3" fill="#93581A" opacity="0.7" filter="url(#bl1)"/>
<circle cx="205.7" cy="1810.4" r="12.0" fill="#D6B070" opacity="0.6" filter="url(#bl3)"/>
<circle cx="208.9" cy="1808.8" r="0.9" fill="#AE7A30" opacity="0.63" filter="url(#bl1)"/>
<circle cx="205.5" cy="1816.4" r="1.4" fill="#AE7A30" opacity="0.69" filter="url(#bl1)"/>
<circle cx="203.7" cy="1816.4" r="1.1" fill="#AE7A30" opacity="0.81" filter="url(#bl1)"/>
<circle cx="207.8" cy="1808.5" r="0.6" fill="#AE7A30" opacity="0.57" filter="url(#bl1)"/>
<circle cx="210.0" cy="1808.0" r="1.3" fill="#AE7A30" opacity="0.46" filter="url(#bl1)"/>
<circle cx="209.5" cy="1820.5" r="0.8" fill="#AE7A30" opacity="0.61" filter="url(#bl1)"/>
<circle cx="199.4" cy="1807.1" r="0.7" fill="#AE7A30" opacity="0.86" filter="url(#bl1)"/>
<circle cx="204.6" cy="1812.1" r="0.7" fill="#AE7A30" opacity="0.63" filter="url(#bl1)"/>
<circle cx="203.0" cy="1806.3" r="1.2" fill="#AE7A30" opacity="0.51" filter="url(#bl1)"/>
<circle cx="203.5" cy="1810.0" r="1.2" fill="#AE7A30" opacity="0.82" filter="url(#bl1)"/>
<circle cx="203.2" cy="1813.7" r="1.0" fill="#AE7A30" opacity="0.89" filter="url(#bl1)"/>
<circle cx="213.0" cy="1811.0" r="1.1" fill="#AE7A30" opacity="0.92" filter="url(#bl1)"/>
<circle cx="208.3" cy="1807.1" r="1.1" fill="#AE7A30" opacity="0.75" filter="url(#bl1)"/>
<circle cx="205.1" cy="1808.7" r="0.5" fill="#AE7A30" opacity="0.65" filter="url(#bl1)"/>
<circle cx="213.9" cy="1820.0" r="1.0" fill="#AE7A30" opacity="0.82" filter="url(#bl1)"/>
<circle cx="207.8" cy="1803.3" r="0.8" fill="#AE7A30" opacity="0.53" filter="url(#bl1)"/>
<circle cx="196.8" cy="1810.1" r="0.9" fill="#AE7A30" opacity="0.55" filter="url(#bl1)"/>
<circle cx="212.5" cy="1812.9" r="0.6" fill="#AE7A30" opacity="0.83" filter="url(#bl1)"/>
<circle cx="210.4" cy="1814.3" r="1.2" fill="#AE7A30" opacity="0.86" filter="url(#bl1)"/>
<circle cx="206.7" cy="1808.6" r="0.7" fill="#AE7A30" opacity="0.88" filter="url(#bl1)"/>
<circle cx="208.4" cy="1803.4" r="0.9" fill="#AE7A30" opacity="0.91" filter="url(#bl1)"/>
<circle cx="209.1" cy="1808.3" r="0.5" fill="#AE7A30" opacity="0.78" filter="url(#bl1)"/>
<circle cx="208.8" cy="1809.6" r="0.9" fill="#AE7A30" opacity="0.54" filter="url(#bl1)"/>
<circle cx="202.6" cy="1808.4" r="0.8" fill="#AE7A30" opacity="0.70" filter="url(#bl1)"/>
<circle cx="206.5" cy="1805.6" r="0.7" fill="#AE7A30" opacity="0.84" filter="url(#bl1)"/>
<circle cx="196.5" cy="1810.6" r="0.6" fill="#AE7A30" opacity="0.47" filter="url(#bl1)"/>
<circle cx="213.7" cy="1814.4" r="0.8" fill="#AE7A30" opacity="0.56" filter="url(#bl1)"/>
<circle cx="201.0" cy="1810.5" r="0.6" fill="#AE7A30" opacity="0.91" filter="url(#bl1)"/>
<circle cx="210.5" cy="1821.9" r="1.3" fill="#AE7A30" opacity="0.45" filter="url(#bl1)"/>
<circle cx="201.5" cy="1810.0" r="0.9" fill="#AE7A30" opacity="0.46" filter="url(#bl1)"/>
<circle cx="205.4" cy="1814.2" r="1.0" fill="#AE7A30" opacity="0.62" filter="url(#bl1)"/>
<circle cx="204.3" cy="1812.4" r="1.3" fill="#AE7A30" opacity="0.94" filter="url(#bl1)"/>
<circle cx="209.4" cy="1801.9" r="0.7" fill="#AE7A30" opacity="0.85" filter="url(#bl1)"/>
<circle cx="207.0" cy="1806.3" r="0.7" fill="#AE7A30" opacity="0.73" filter="url(#bl1)"/>
<circle cx="210.0" cy="1815.0" r="0.8" fill="#AE7A30" opacity="0.75" filter="url(#bl1)"/>
<circle cx="210.7" cy="1805.3" r="1.0" fill="#AE7A30" opacity="0.61" filter="url(#bl1)"/>
<circle cx="194.6" cy="1812.8" r="0.9" fill="#AE7A30" opacity="0.77" filter="url(#bl1)"/>
<circle cx="207.0" cy="1813.1" r="1.2" fill="#AE7A30" opacity="0.82" filter="url(#bl1)"/>
<circle cx="212.2" cy="1809.0" r="1.3" fill="#AE7A30" opacity="0.71" filter="url(#bl1)"/>
<circle cx="201.4" cy="1819.0" r="1.3" fill="#AE7A30" opacity="0.53" filter="url(#bl1)"/>
<circle cx="202.6" cy="1812.7" r="0.7" fill="#AE7A30" opacity="0.90" filter="url(#bl1)"/>
<circle cx="201.3" cy="1816.2" r="0.8" fill="#AE7A30" opacity="0.93" filter="url(#bl1)"/>
<circle cx="207.4" cy="1812.6" r="0.9" fill="#AE7A30" opacity="0.74" filter="url(#bl1)"/>
<circle cx="201.6" cy="1811.8" r="0.8" fill="#AE7A30" opacity="0.63" filter="url(#bl1)"/>
<circle cx="208.7" cy="1819.5" r="0.6" fill="#AE7A30" opacity="0.85" filter="url(#bl1)"/>
<circle cx="203.3" cy="1809.0" r="0.7" fill="#AE7A30" opacity="0.79" filter="url(#bl1)"/>
<circle cx="208.0" cy="1819.0" r="0.8" fill="#AE7A30" opacity="0.68" filter="url(#bl1)"/>
<circle cx="214.1" cy="1811.0" r="0.6" fill="#AE7A30" opacity="0.68" filter="url(#bl1)"/>
<circle cx="208.5" cy="1814.0" r="0.8" fill="#AE7A30" opacity="0.59" filter="url(#bl1)"/>
<circle cx="205.1" cy="1806.9" r="1.2" fill="#AE7A30" opacity="0.74" filter="url(#bl1)"/>
<circle cx="213.5" cy="1799.2" r="1.3" fill="#AE7A30" opacity="0.82" filter="url(#bl1)"/>
<circle cx="218.5" cy="1817.4" r="0.8" fill="#AE7A30" opacity="0.47" filter="url(#bl1)"/>
<circle cx="209.9" cy="1815.9" r="0.9" fill="#AE7A30" opacity="0.88" filter="url(#bl1)"/>
<circle cx="220.9" cy="1801.2" r="1.4" fill="#AE7A30" opacity="0.90" filter="url(#bl1)"/>
<circle cx="206.5" cy="1807.7" r="1.0" fill="#AE7A30" opacity="0.47" filter="url(#bl1)"/>
<circle cx="206.1" cy="1813.6" r="0.7" fill="#AE7A30" opacity="0.65" filter="url(#bl1)"/>
<circle cx="210.9" cy="1800.9" r="1.1" fill="#AE7A30" opacity="0.81" filter="url(#bl1)"/>
<circle cx="213.8" cy="1810.2" r="0.9" fill="#AE7A30" opacity="0.89" filter="url(#bl1)"/>
<circle cx="208.4" cy="1807.1" r="1.3" fill="#AE7A30" opacity="0.59" filter="url(#bl1)"/>
<circle cx="212.8" cy="1811.6" r="0.7" fill="#AE7A30" opacity="0.54" filter="url(#bl1)"/>
<circle cx="213.0" cy="1810.0" r="0.9" fill="#AE7A30" opacity="0.93" filter="url(#bl1)"/>
<circle cx="205.6" cy="1814.9" r="0.7" fill="#AE7A30" opacity="0.51" filter="url(#bl1)"/>
<circle cx="203.3" cy="1814.4" r="0.6" fill="#AE7A30" opacity="0.59" filter="url(#bl1)"/>
<circle cx="203.5" cy="1813.2" r="0.7" fill="#AE7A30" opacity="0.66" filter="url(#bl1)"/>
<circle cx="208.8" cy="1813.2" r="0.6" fill="#AE7A30" opacity="0.86" filter="url(#bl1)"/>
<circle cx="207.3" cy="1809.4" r="0.9" fill="#AE7A30" opacity="0.78" filter="url(#bl1)"/>
<circle cx="202.8" cy="1817.7" r="0.8" fill="#AE7A30" opacity="0.51" filter="url(#bl1)"/>
<circle cx="210.8" cy="1801.2" r="0.8" fill="#AE7A30" opacity="0.76" filter="url(#bl1)"/>
<circle cx="209.7" cy="1807.8" r="1.0" fill="#AE7A30" opacity="0.47" filter="url(#bl1)"/>
<circle cx="212.8" cy="1804.7" r="0.7" fill="#AE7A30" opacity="0.81" filter="url(#bl1)"/>
<circle cx="206.9" cy="1810.9" r="1.1" fill="#AE7A30" opacity="0.50" filter="url(#bl1)"/>
<circle cx="207.9" cy="1813.4" r="0.5" fill="#AE7A30" opacity="0.75" filter="url(#bl1)"/>
<circle cx="238" cy="1819.8" r="4.2" fill="#D6B070" opacity="0.55" filter="url(#bl2)"/>
<ellipse cx="238.1" cy="1819.7" rx="2.1" ry="1.8" fill="#AE7A30" opacity="0.8" filter="url(#bl1)"/>
<ellipse cx="238.3" cy="1820.2" rx="2.1" ry="1.6" fill="#AE7A30" opacity="0.8" filter="url(#bl1)"/>
<ellipse cx="237.5" cy="1819.7" rx="2.1" ry="2.2" fill="#AE7A30" opacity="0.8" filter="url(#bl1)"/>
<circle cx="239.1" cy="1820.9" r="0.7" fill="#93581A" opacity="0.7" filter="url(#bl1)"/>
<circle cx="236.8" cy="1822.6" r="0.6" fill="#93581A" opacity="0.7" filter="url(#bl1)"/>
<circle cx="236.1" cy="1822.0" r="1.2" fill="#93581A" opacity="0.7" filter="url(#bl1)"/>
<circle cx="237.4" cy="1819.3" r="0.5" fill="#93581A" opacity="0.7" filter="url(#bl1)"/>
<circle cx="238.2" cy="1819.1" r="0.7" fill="#93581A" opacity="0.7" filter="url(#bl1)"/>
<circle cx="237.2" cy="1820.0" r="1.2" fill="#93581A" opacity="0.7" filter="url(#bl1)"/>
<circle cx="219.3" cy="1824" r="2.2" fill="#93581A" opacity="0.85" filter="url(#bl1)"/>
<circle cx="192.1" cy="1805.3" r="1.7" fill="#93581A" opacity="0.85" filter="url(#bl1)"/>
<circle cx="277.2" cy="1806.2" r="4.2" fill="#D6B070" opacity="0.55" filter="url(#bl2)"/>
<ellipse cx="277.7" cy="1806.1" rx="2.1" ry="2.0" fill="#AE7A30" opacity="0.8" filter="url(#bl1)"/>
<ellipse cx="277.2" cy="1805.8" rx="2.0" ry="1.6" fill="#AE7A30" opacity="0.8" filter="url(#bl1)"/>
<ellipse cx="276.8" cy="1805.4" rx="1.6" ry="1.5" fill="#AE7A30" opacity="0.8" filter="url(#bl1)"/>
<circle cx="275.7" cy="1807.2" r="1.3" fill="#93581A" opacity="0.7" filter="url(#bl1)"/>
<circle cx="280.3" cy="1806.6" r="1.0" fill="#93581A" opacity="0.7" filter="url(#bl1)"/>
<circle cx="278.1" cy="1806.7" r="1.3" fill="#93581A" opacity="0.7" filter="url(#bl1)"/>
<circle cx="274.5" cy="1805.3" r="1.0" fill="#93581A" opacity="0.7" filter="url(#bl1)"/>
<circle cx="278.9" cy="1807.5" r="1.2" fill="#93581A" opacity="0.7" filter="url(#bl1)"/>
<circle cx="278.1" cy="1807.9" r="1.1" fill="#93581A" opacity="0.7" filter="url(#bl1)"/>
<circle cx="287.4" cy="1760.2" r="2.2" fill="#93581A" opacity="0.85" filter="url(#bl1)"/>
<circle cx="295" cy="1768.7" r="1.7" fill="#93581A" opacity="0.85" filter="url(#bl1)"/>
<circle cx="283.1" cy="1830.9" r="2.2" fill="#93581A" opacity="0.85" filter="url(#bl1)"/>
<circle cx="182.7" cy="1834.3" r="1.7" fill="#93581A" opacity="0.85" filter="url(#bl1)"/>
<circle cx="202.3" cy="1841.9" r="4.2" fill="#D6B070" opacity="0.55" filter="url(#bl2)"/>
<ellipse cx="201.6" cy="1842.6" rx="1.9" ry="1.7" fill="#AE7A30" opacity="0.8" filter="url(#bl1)"/>
<ellipse cx="202.5" cy="1841.9" rx="1.8" ry="2.1" fill="#AE7A30" opacity="0.8" filter="url(#bl1)"/>
<ellipse cx="201.5" cy="1841.3" rx="1.8" ry="1.9" fill="#AE7A30" opacity="0.8" filter="url(#bl1)"/>
<circle cx="203.1" cy="1841.4" r="1.2" fill="#93581A" opacity="0.7" filter="url(#bl1)"/>
<circle cx="205.1" cy="1842.8" r="1.3" fill="#93581A" opacity="0.7" filter="url(#bl1)"/>
<circle cx="201.0" cy="1842.4" r="1.3" fill="#93581A" opacity="0.7" filter="url(#bl1)"/>
<circle cx="199.9" cy="1843.4" r="1.3" fill="#93581A" opacity="0.7" filter="url(#bl1)"/>
<circle cx="202.0" cy="1840.6" r="1.3" fill="#93581A" opacity="0.7" filter="url(#bl1)"/>
<circle cx="200.7" cy="1843.7" r="0.9" fill="#93581A" opacity="0.7" filter="url(#bl1)"/>
<circle cx="155.5" cy="1841.1" r="1.7" fill="#93581A" opacity="0.85" filter="url(#bl1)"/>
<circle cx="231.2" cy="1863.2" r="11.0" fill="#D6B070" opacity="0.6" filter="url(#bl3)"/>
<circle cx="231.4" cy="1860.8" r="0.5" fill="#AE7A30" opacity="0.50" filter="url(#bl1)"/>
<circle cx="229.3" cy="1864.5" r="1.0" fill="#AE7A30" opacity="0.62" filter="url(#bl1)"/>
<circle cx="232.3" cy="1862.2" r="0.8" fill="#AE7A30" opacity="0.67" filter="url(#bl1)"/>
<circle cx="238.5" cy="1860.6" r="0.9" fill="#AE7A30" opacity="0.79" filter="url(#bl1)"/>
<circle cx="234.7" cy="1868.3" r="1.2" fill="#AE7A30" opacity="0.66" filter="url(#bl1)"/>
<circle cx="230.1" cy="1866.0" r="1.1" fill="#AE7A30" opacity="0.67" filter="url(#bl1)"/>
<circle cx="227.8" cy="1864.6" r="0.8" fill="#AE7A30" opacity="0.49" filter="url(#bl1)"/>
<circle cx="233.6" cy="1863.8" r="0.6" fill="#AE7A30" opacity="0.89" filter="url(#bl1)"/>
<circle cx="232.7" cy="1860.0" r="1.3" fill="#AE7A30" opacity="0.61" filter="url(#bl1)"/>
<circle cx="234.8" cy="1868.0" r="1.4" fill="#AE7A30" opacity="0.71" filter="url(#bl1)"/>
<circle cx="228.8" cy="1868.8" r="0.9" fill="#AE7A30" opacity="0.72" filter="url(#bl1)"/>
<circle cx="228.5" cy="1865.9" r="1.0" fill="#AE7A30" opacity="0.73" filter="url(#bl1)"/>
<circle cx="225.7" cy="1870.8" r="0.8" fill="#AE7A30" opacity="0.76" filter="url(#bl1)"/>
<circle cx="236.4" cy="1868.8" r="0.8" fill="#AE7A30" opacity="0.62" filter="url(#bl1)"/>
<circle cx="230.7" cy="1866.6" r="0.6" fill="#AE7A30" opacity="0.74" filter="url(#bl1)"/>
<circle cx="235.3" cy="1862.1" r="0.8" fill="#AE7A30" opacity="0.71" filter="url(#bl1)"/>
<circle cx="233.4" cy="1862.1" r="0.5" fill="#AE7A30" opacity="0.86" filter="url(#bl1)"/>
<circle cx="234.0" cy="1861.7" r="0.9" fill="#AE7A30" opacity="0.47" filter="url(#bl1)"/>
<circle cx="234.2" cy="1858.7" r="1.4" fill="#AE7A30" opacity="0.73" filter="url(#bl1)"/>
<circle cx="229.9" cy="1866.9" r="0.8" fill="#AE7A30" opacity="0.68" filter="url(#bl1)"/>
<circle cx="232.0" cy="1863.8" r="0.6" fill="#AE7A30" opacity="0.85" filter="url(#bl1)"/>
<circle cx="230.0" cy="1870.5" r="1.3" fill="#AE7A30" opacity="0.89" filter="url(#bl1)"/>
<circle cx="234.8" cy="1865.6" r="0.9" fill="#AE7A30" opacity="0.56" filter="url(#bl1)"/>
<circle cx="230.7" cy="1864.0" r="1.1" fill="#AE7A30" opacity="0.59" filter="url(#bl1)"/>
<circle cx="233.8" cy="1856.8" r="1.0" fill="#AE7A30" opacity="0.88" filter="url(#bl1)"/>
<circle cx="233.7" cy="1869.1" r="1.2" fill="#AE7A30" opacity="0.83" filter="url(#bl1)"/>
<circle cx="230.0" cy="1866.5" r="1.2" fill="#AE7A30" opacity="0.72" filter="url(#bl1)"/>
<circle cx="232.0" cy="1863.9" r="1.3" fill="#AE7A30" opacity="0.60" filter="url(#bl1)"/>
<circle cx="237.4" cy="1862.6" r="1.1" fill="#AE7A30" opacity="0.75" filter="url(#bl1)"/>
<circle cx="233.3" cy="1862.2" r="1.3" fill="#AE7A30" opacity="0.89" filter="url(#bl1)"/>
<circle cx="227.9" cy="1864.2" r="0.7" fill="#AE7A30" opacity="0.48" filter="url(#bl1)"/>
<circle cx="235.5" cy="1863.2" r="0.9" fill="#AE7A30" opacity="0.53" filter="url(#bl1)"/>
<circle cx="230.2" cy="1867.2" r="0.7" fill="#AE7A30" opacity="0.84" filter="url(#bl1)"/>
<circle cx="235.5" cy="1869.0" r="1.3" fill="#AE7A30" opacity="0.46" filter="url(#bl1)"/>
<circle cx="229.0" cy="1870.7" r="0.8" fill="#AE7A30" opacity="0.83" filter="url(#bl1)"/>
<circle cx="235.7" cy="1869.8" r="0.8" fill="#AE7A30" opacity="0.49" filter="url(#bl1)"/>
<circle cx="233.5" cy="1865.2" r="0.7" fill="#AE7A30" opacity="0.68" filter="url(#bl1)"/>
<circle cx="234.3" cy="1864.3" r="1.0" fill="#AE7A30" opacity="0.76" filter="url(#bl1)"/>
<circle cx="231.2" cy="1870.2" r="0.8" fill="#AE7A30" opacity="0.54" filter="url(#bl1)"/>
<circle cx="236.9" cy="1864.7" r="1.2" fill="#AE7A30" opacity="0.56" filter="url(#bl1)"/>
<circle cx="236.5" cy="1863.3" r="1.2" fill="#AE7A30" opacity="0.55" filter="url(#bl1)"/>
<circle cx="225.6" cy="1866.4" r="1.3" fill="#AE7A30" opacity="0.51" filter="url(#bl1)"/>
<circle cx="235.0" cy="1866.4" r="0.6" fill="#AE7A30" opacity="0.67" filter="url(#bl1)"/>
<circle cx="232.5" cy="1870.3" r="1.0" fill="#AE7A30" opacity="0.45" filter="url(#bl1)"/>
<circle cx="231.7" cy="1866.4" r="0.7" fill="#AE7A30" opacity="0.85" filter="url(#bl1)"/>
<circle cx="225.8" cy="1871.2" r="0.7" fill="#AE7A30" opacity="0.55" filter="url(#bl1)"/>
<circle cx="233.7" cy="1861.5" r="1.2" fill="#AE7A30" opacity="0.60" filter="url(#bl1)"/>
<circle cx="233.1" cy="1856.1" r="0.9" fill="#AE7A30" opacity="0.49" filter="url(#bl1)"/>
<circle cx="227.9" cy="1868.2" r="1.1" fill="#AE7A30" opacity="0.52" filter="url(#bl1)"/>
<circle cx="225.1" cy="1854.8" r="1.2" fill="#AE7A30" opacity="0.51" filter="url(#bl1)"/>
<circle cx="224.6" cy="1869.1" r="0.6" fill="#AE7A30" opacity="0.93" filter="url(#bl1)"/>
<circle cx="232.1" cy="1861.3" r="0.8" fill="#AE7A30" opacity="0.77" filter="url(#bl1)"/>
<circle cx="237.3" cy="1859.6" r="1.1" fill="#AE7A30" opacity="0.86" filter="url(#bl1)"/>
<circle cx="233.7" cy="1859.1" r="0.9" fill="#AE7A30" opacity="0.89" filter="url(#bl1)"/>
<circle cx="231.2" cy="1860.4" r="1.1" fill="#AE7A30" opacity="0.85" filter="url(#bl1)"/>
<circle cx="224.2" cy="1863.3" r="1.2" fill="#AE7A30" opacity="0.86" filter="url(#bl1)"/>
<circle cx="234.9" cy="1861.9" r="1.2" fill="#AE7A30" opacity="0.95" filter="url(#bl1)"/>
<circle cx="238.3" cy="1864.9" r="1.2" fill="#AE7A30" opacity="0.80" filter="url(#bl1)"/>
<circle cx="230.6" cy="1863.1" r="1.0" fill="#AE7A30" opacity="0.74" filter="url(#bl1)"/>
<circle cx="226.6" cy="1863.5" r="0.7" fill="#AE7A30" opacity="0.93" filter="url(#bl1)"/>
<circle cx="231.2" cy="1863.2" r="8.4" fill="#D6B070" opacity="0.55" filter="url(#bl2)"/>
<ellipse cx="229.8" cy="1864.3" rx="3.4" ry="4.1" fill="#AE7A30" opacity="0.8" filter="url(#bl1)"/>
<ellipse cx="230.8" cy="1864.8" rx="3.8" ry="4.1" fill="#AE7A30" opacity="0.8" filter="url(#bl1)"/>
<ellipse cx="229.9" cy="1864.5" rx="3.4" ry="4.1" fill="#AE7A30" opacity="0.8" filter="url(#bl1)"/>
<circle cx="231.3" cy="1864.8" r="0.6" fill="#93581A" opacity="0.7" filter="url(#bl1)"/>
<circle cx="230.0" cy="1863.4" r="0.7" fill="#93581A" opacity="0.7" filter="url(#bl1)"/>
<circle cx="233.5" cy="1863.9" r="0.9" fill="#93581A" opacity="0.7" filter="url(#bl1)"/>
<circle cx="233.6" cy="1867.4" r="0.7" fill="#93581A" opacity="0.7" filter="url(#bl1)"/>
<circle cx="228.3" cy="1865.7" r="1.0" fill="#93581A" opacity="0.7" filter="url(#bl1)"/>
<circle cx="229.7" cy="1863.6" r="1.1" fill="#93581A" opacity="0.7" filter="url(#bl1)"/>
<circle cx="229.1" cy="1863.1" r="1.0" fill="#93581A" opacity="0.7" filter="url(#bl1)"/>
<circle cx="235.7" cy="1863.3" r="0.8" fill="#93581A" opacity="0.7" filter="url(#bl1)"/>
<circle cx="230.3" cy="1861.8" r="1.1" fill="#93581A" opacity="0.7" filter="url(#bl1)"/>
<circle cx="230.1" cy="1863.8" r="1.0" fill="#93581A" opacity="0.7" filter="url(#bl1)"/>
<circle cx="235.7" cy="1866.9" r="0.8" fill="#93581A" opacity="0.7" filter="url(#bl1)"/>
<circle cx="232.5" cy="1866.4" r="1.1" fill="#93581A" opacity="0.7" filter="url(#bl1)"/>
<circle cx="248.3" cy="1861.5" r="4.2" fill="#D6B070" opacity="0.55" filter="url(#bl2)"/>
<ellipse cx="248.4" cy="1861.9" rx="2.0" ry="2.2" fill="#AE7A30" opacity="0.8" filter="url(#bl1)"/>
<ellipse cx="248.5" cy="1861.2" rx="2.2" ry="1.8" fill="#AE7A30" opacity="0.8" filter="url(#bl1)"/>
<ellipse cx="247.9" cy="1860.6" rx="2.0" ry="2.0" fill="#AE7A30" opacity="0.8" filter="url(#bl1)"/>
<circle cx="250.4" cy="1863.8" r="0.6" fill="#93581A" opacity="0.7" filter="url(#bl1)"/>
<circle cx="246.5" cy="1860.3" r="0.9" fill="#93581A" opacity="0.7" filter="url(#bl1)"/>
<circle cx="246.6" cy="1863.1" r="1.0" fill="#93581A" opacity="0.7" filter="url(#bl1)"/>
<circle cx="247.5" cy="1862.8" r="1.0" fill="#93581A" opacity="0.7" filter="url(#bl1)"/>
<circle cx="247.0" cy="1862.2" r="1.3" fill="#93581A" opacity="0.7" filter="url(#bl1)"/>
<circle cx="246.5" cy="1858.7" r="0.7" fill="#93581A" opacity="0.7" filter="url(#bl1)"/>
<circle cx="267" cy="1862.3" r="6.0" fill="#D6B070" opacity="0.6" filter="url(#bl3)"/>
<circle cx="264.0" cy="1864.4" r="1.3" fill="#AE7A30" opacity="0.94" filter="url(#bl1)"/>
<circle cx="265.5" cy="1864.8" r="1.0" fill="#AE7A30" opacity="0.47" filter="url(#bl1)"/>
<circle cx="269.7" cy="1860.1" r="1.4" fill="#AE7A30" opacity="0.87" filter="url(#bl1)"/>
<circle cx="266.3" cy="1862.2" r="1.1" fill="#AE7A30" opacity="0.67" filter="url(#bl1)"/>
<circle cx="267.9" cy="1858.6" r="0.7" fill="#AE7A30" opacity="0.78" filter="url(#bl1)"/>
<circle cx="264.2" cy="1857.5" r="0.8" fill="#AE7A30" opacity="0.75" filter="url(#bl1)"/>
<circle cx="270.0" cy="1862.6" r="1.0" fill="#AE7A30" opacity="0.87" filter="url(#bl1)"/>
<circle cx="269.1" cy="1862.8" r="1.1" fill="#AE7A30" opacity="0.69" filter="url(#bl1)"/>
<circle cx="267.3" cy="1859.8" r="1.0" fill="#AE7A30" opacity="0.47" filter="url(#bl1)"/>
<circle cx="266.8" cy="1863.4" r="0.9" fill="#AE7A30" opacity="0.82" filter="url(#bl1)"/>
<circle cx="270.6" cy="1864.8" r="1.0" fill="#AE7A30" opacity="0.53" filter="url(#bl1)"/>
<circle cx="261.5" cy="1860.4" r="0.7" fill="#AE7A30" opacity="0.82" filter="url(#bl1)"/>
<circle cx="269.5" cy="1864.7" r="0.5" fill="#AE7A30" opacity="0.69" filter="url(#bl1)"/>
<circle cx="270.2" cy="1864.6" r="1.2" fill="#AE7A30" opacity="0.61" filter="url(#bl1)"/>
<circle cx="267.2" cy="1866.7" r="1.4" fill="#AE7A30" opacity="0.85" filter="url(#bl1)"/>
<circle cx="267.4" cy="1864.3" r="1.1" fill="#AE7A30" opacity="0.90" filter="url(#bl1)"/>
<circle cx="267.4" cy="1858.5" r="1.1" fill="#AE7A30" opacity="0.82" filter="url(#bl1)"/>
<circle cx="265.4" cy="1862.5" r="1.2" fill="#AE7A30" opacity="0.63" filter="url(#bl1)"/>
<circle cx="267" cy="1862.3" r="4.9" fill="#D6B070" opacity="0.55" filter="url(#bl2)"/>
<ellipse cx="267.4" cy="1861.5" rx="1.8" ry="2.4" fill="#AE7A30" opacity="0.8" filter="url(#bl1)"/>
<ellipse cx="266.5" cy="1861.3" rx="2.1" ry="2.4" fill="#AE7A30" opacity="0.8" filter="url(#bl1)"/>
<ellipse cx="266.9" cy="1862.2" rx="1.8" ry="2.5" fill="#AE7A30" opacity="0.8" filter="url(#bl1)"/>
<circle cx="266.1" cy="1864.8" r="1.0" fill="#93581A" opacity="0.7" filter="url(#bl1)"/>
<circle cx="268.2" cy="1860.4" r="0.6" fill="#93581A" opacity="0.7" filter="url(#bl1)"/>
<circle cx="264.4" cy="1861.2" r="1.3" fill="#93581A" opacity="0.7" filter="url(#bl1)"/>
<circle cx="268.1" cy="1860.9" r="1.4" fill="#93581A" opacity="0.7" filter="url(#bl1)"/>
<circle cx="269.4" cy="1861.9" r="1.2" fill="#93581A" opacity="0.7" filter="url(#bl1)"/>
<circle cx="266.9" cy="1859.4" r="1.1" fill="#93581A" opacity="0.7" filter="url(#bl1)"/>
<circle cx="268.0" cy="1858.8" r="0.9" fill="#93581A" opacity="0.7" filter="url(#bl1)"/>
<circle cx="250.8" cy="1877.7" r="6.3" fill="#D6B070" opacity="0.55" filter="url(#bl2)"/>
<ellipse cx="251.4" cy="1878.4" rx="2.4" ry="2.6" fill="#AE7A30" opacity="0.8" filter="url(#bl1)"/>
<ellipse cx="252.1" cy="1876.5" rx="3.0" ry="2.4" fill="#AE7A30" opacity="0.8" filter="url(#bl1)"/>
<ellipse cx="251.6" cy="1877.5" rx="2.7" ry="2.9" fill="#AE7A30" opacity="0.8" filter="url(#bl1)"/>
<circle cx="252.1" cy="1878.5" r="0.6" fill="#93581A" opacity="0.7" filter="url(#bl1)"/>
<circle cx="247.2" cy="1879.4" r="1.0" fill="#93581A" opacity="0.7" filter="url(#bl1)"/>
<circle cx="249.1" cy="1880.4" r="1.0" fill="#93581A" opacity="0.7" filter="url(#bl1)"/>
<circle cx="254.3" cy="1876.6" r="0.6" fill="#93581A" opacity="0.7" filter="url(#bl1)"/>
<circle cx="253.2" cy="1875.3" r="0.7" fill="#93581A" opacity="0.7" filter="url(#bl1)"/>
<circle cx="249.2" cy="1877.9" r="0.7" fill="#93581A" opacity="0.7" filter="url(#bl1)"/>
<circle cx="251.6" cy="1873.6" r="0.6" fill="#93581A" opacity="0.7" filter="url(#bl1)"/>
<circle cx="247.1" cy="1875.7" r="1.1" fill="#93581A" opacity="0.7" filter="url(#bl1)"/>
<circle cx="253.5" cy="1879.3" r="1.4" fill="#93581A" opacity="0.7" filter="url(#bl1)"/>
<circle cx="280.6" cy="1871.7" r="2.2" fill="#93581A" opacity="0.85" filter="url(#bl1)"/>
<circle cx="128.3" cy="1869.1" r="5.6" fill="#D6B070" opacity="0.55" filter="url(#bl2)"/>
<ellipse cx="128.5" cy="1868.5" rx="2.8" ry="3.0" fill="#AE7A30" opacity="0.8" filter="url(#bl1)"/>
<ellipse cx="127.5" cy="1870.3" rx="3.0" ry="2.3" fill="#AE7A30" opacity="0.8" filter="url(#bl1)"/>
<ellipse cx="127.2" cy="1868.4" rx="2.9" ry="2.8" fill="#AE7A30" opacity="0.8" filter="url(#bl1)"/>
<circle cx="127.3" cy="1871.4" r="1.2" fill="#93581A" opacity="0.7" filter="url(#bl1)"/>
<circle cx="124.9" cy="1868.0" r="0.6" fill="#93581A" opacity="0.7" filter="url(#bl1)"/>
<circle cx="128.5" cy="1871.2" r="1.4" fill="#93581A" opacity="0.7" filter="url(#bl1)"/>
<circle cx="127.2" cy="1869.7" r="1.4" fill="#93581A" opacity="0.7" filter="url(#bl1)"/>
<circle cx="127.4" cy="1873.4" r="1.1" fill="#93581A" opacity="0.7" filter="url(#bl1)"/>
<circle cx="130.7" cy="1868.2" r="1.4" fill="#93581A" opacity="0.7" filter="url(#bl1)"/>
<circle cx="126.7" cy="1866.2" r="0.9" fill="#93581A" opacity="0.7" filter="url(#bl1)"/>
<circle cx="126.1" cy="1867.6" r="0.8" fill="#93581A" opacity="0.7" filter="url(#bl1)"/>
<circle cx="149.5" cy="1870.9" r="4.2" fill="#D6B070" opacity="0.55" filter="url(#bl2)"/>
<ellipse cx="149.8" cy="1870.3" rx="1.8" ry="2.0" fill="#AE7A30" opacity="0.8" filter="url(#bl1)"/>
<ellipse cx="149.5" cy="1871.2" rx="2.0" ry="1.8" fill="#AE7A30" opacity="0.8" filter="url(#bl1)"/>
<ellipse cx="149.8" cy="1870.5" rx="1.5" ry="2.0" fill="#AE7A30" opacity="0.8" filter="url(#bl1)"/>
<circle cx="151.2" cy="1871.7" r="1.3" fill="#93581A" opacity="0.7" filter="url(#bl1)"/>
<circle cx="151.9" cy="1871.5" r="1.3" fill="#93581A" opacity="0.7" filter="url(#bl1)"/>
<circle cx="147.0" cy="1872.2" r="1.1" fill="#93581A" opacity="0.7" filter="url(#bl1)"/>
<circle cx="147.4" cy="1869.7" r="1.0" fill="#93581A" opacity="0.7" filter="url(#bl1)"/>
<circle cx="149.6" cy="1869.3" r="0.7" fill="#93581A" opacity="0.7" filter="url(#bl1)"/>
<circle cx="150.1" cy="1870.7" r="1.1" fill="#93581A" opacity="0.7" filter="url(#bl1)"/>
<circle cx="210.8" cy="1864.9" r="1.7" fill="#93581A" opacity="0.85" filter="url(#bl1)"/>
<circle cx="220.2" cy="1881.1" r="1.7" fill="#93581A" opacity="0.85" filter="url(#bl1)"/>
<circle cx="137.6" cy="1885.3" r="1.7" fill="#93581A" opacity="0.85" filter="url(#bl1)"/>
<circle cx="145.3" cy="1714.5" r="1.7" fill="#93581A" opacity="0.85" filter="url(#bl1)"/>
<circle cx="373.8" cy="1743.3" r="17.0" fill="#D6B070" opacity="0.6" filter="url(#bl3)"/>
<circle cx="384.9" cy="1735.2" r="1.1" fill="#AE7A30" opacity="0.78" filter="url(#bl1)"/>
<circle cx="368.8" cy="1735.3" r="1.1" fill="#AE7A30" opacity="0.72" filter="url(#bl1)"/>
<circle cx="375.3" cy="1743.7" r="0.9" fill="#AE7A30" opacity="0.64" filter="url(#bl1)"/>
<circle cx="382.4" cy="1753.2" r="0.9" fill="#AE7A30" opacity="0.50" filter="url(#bl1)"/>
<circle cx="377.7" cy="1750.1" r="0.7" fill="#AE7A30" opacity="0.88" filter="url(#bl1)"/>
<circle cx="360.7" cy="1742.5" r="1.1" fill="#AE7A30" opacity="0.61" filter="url(#bl1)"/>
<circle cx="368.8" cy="1735.8" r="1.3" fill="#AE7A30" opacity="0.84" filter="url(#bl1)"/>
<circle cx="371.3" cy="1749.0" r="0.9" fill="#AE7A30" opacity="0.55" filter="url(#bl1)"/>
<circle cx="383.1" cy="1747.7" r="1.2" fill="#AE7A30" opacity="0.65" filter="url(#bl1)"/>
<circle cx="380.5" cy="1749.3" r="1.4" fill="#AE7A30" opacity="0.54" filter="url(#bl1)"/>
<circle cx="369.5" cy="1742.8" r="1.1" fill="#AE7A30" opacity="0.47" filter="url(#bl1)"/>
<circle cx="369.5" cy="1741.4" r="0.7" fill="#AE7A30" opacity="0.59" filter="url(#bl1)"/>
<circle cx="364.1" cy="1736.3" r="0.6" fill="#AE7A30" opacity="0.82" filter="url(#bl1)"/>
<circle cx="367.3" cy="1740.1" r="1.4" fill="#AE7A30" opacity="0.73" filter="url(#bl1)"/>
<circle cx="370.6" cy="1750.3" r="1.1" fill="#AE7A30" opacity="0.77" filter="url(#bl1)"/>
<circle cx="375.4" cy="1749.5" r="0.5" fill="#AE7A30" opacity="0.77" filter="url(#bl1)"/>
<circle cx="378.1" cy="1744.6" r="0.5" fill="#AE7A30" opacity="0.66" filter="url(#bl1)"/>
<circle cx="365.9" cy="1742.9" r="0.8" fill="#AE7A30" opacity="0.46" filter="url(#bl1)"/>
<circle cx="385.2" cy="1751.2" r="0.8" fill="#AE7A30" opacity="0.93" filter="url(#bl1)"/>
<circle cx="373.6" cy="1743.8" r="1.1" fill="#AE7A30" opacity="0.88" filter="url(#bl1)"/>
<circle cx="373.5" cy="1752.0" r="1.0" fill="#AE7A30" opacity="0.46" filter="url(#bl1)"/>
<circle cx="368.7" cy="1734.4" r="0.9" fill="#AE7A30" opacity="0.82" filter="url(#bl1)"/>
<circle cx="364.0" cy="1738.6" r="1.3" fill="#AE7A30" opacity="0.51" filter="url(#bl1)"/>
<circle cx="377.5" cy="1741.2" r="1.0" fill="#AE7A30" opacity="0.87" filter="url(#bl1)"/>
<circle cx="366.4" cy="1749.6" r="0.5" fill="#AE7A30" opacity="0.54" filter="url(#bl1)"/>
<circle cx="366.9" cy="1752.5" r="0.7" fill="#AE7A30" opacity="0.46" filter="url(#bl1)"/>
<circle cx="363.4" cy="1740.5" r="1.2" fill="#AE7A30" opacity="0.86" filter="url(#bl1)"/>
<circle cx="362.8" cy="1751.5" r="1.2" fill="#AE7A30" opacity="0.76" filter="url(#bl1)"/>
<circle cx="365.0" cy="1745.8" r="1.3" fill="#AE7A30" opacity="0.48" filter="url(#bl1)"/>
<circle cx="370.3" cy="1746.8" r="1.1" fill="#AE7A30" opacity="0.91" filter="url(#bl1)"/>
<circle cx="386.6" cy="1742.1" r="0.7" fill="#AE7A30" opacity="0.71" filter="url(#bl1)"/>
<circle cx="362.4" cy="1750.0" r="1.2" fill="#AE7A30" opacity="0.87" filter="url(#bl1)"/>
<circle cx="370.9" cy="1749.1" r="1.0" fill="#AE7A30" opacity="0.87" filter="url(#bl1)"/>
<circle cx="370.0" cy="1763.9" r="1.0" fill="#AE7A30" opacity="0.68" filter="url(#bl1)"/>
<circle cx="371.3" cy="1742.0" r="0.8" fill="#AE7A30" opacity="0.85" filter="url(#bl1)"/>
<circle cx="366.3" cy="1738.3" r="1.4" fill="#AE7A30" opacity="0.82" filter="url(#bl1)"/>
<circle cx="374.4" cy="1742.8" r="1.1" fill="#AE7A30" opacity="0.70" filter="url(#bl1)"/>
<circle cx="373.0" cy="1747.4" r="0.5" fill="#AE7A30" opacity="0.92" filter="url(#bl1)"/>
<circle cx="371.4" cy="1751.1" r="1.2" fill="#AE7A30" opacity="0.46" filter="url(#bl1)"/>
<circle cx="384.2" cy="1743.3" r="1.4" fill="#AE7A30" opacity="0.89" filter="url(#bl1)"/>
<circle cx="380.9" cy="1746.6" r="1.3" fill="#AE7A30" opacity="0.85" filter="url(#bl1)"/>
<circle cx="379.1" cy="1747.8" r="1.0" fill="#AE7A30" opacity="0.64" filter="url(#bl1)"/>
<circle cx="386.4" cy="1745.3" r="0.9" fill="#AE7A30" opacity="0.49" filter="url(#bl1)"/>
<circle cx="366.4" cy="1741.7" r="0.7" fill="#AE7A30" opacity="0.55" filter="url(#bl1)"/>
<circle cx="374.3" cy="1738.7" r="1.2" fill="#AE7A30" opacity="0.82" filter="url(#bl1)"/>
<circle cx="375.8" cy="1738.4" r="0.9" fill="#AE7A30" opacity="0.69" filter="url(#bl1)"/>
<circle cx="372.8" cy="1748.3" r="1.0" fill="#AE7A30" opacity="0.88" filter="url(#bl1)"/>
<circle cx="374.0" cy="1746.0" r="0.8" fill="#AE7A30" opacity="0.82" filter="url(#bl1)"/>
<circle cx="368.9" cy="1745.4" r="0.9" fill="#AE7A30" opacity="0.93" filter="url(#bl1)"/>
<circle cx="370.0" cy="1736.9" r="1.0" fill="#AE7A30" opacity="0.84" filter="url(#bl1)"/>
<circle cx="370.1" cy="1744.7" r="0.7" fill="#AE7A30" opacity="0.78" filter="url(#bl1)"/>
<circle cx="378.4" cy="1754.6" r="0.9" fill="#AE7A30" opacity="0.70" filter="url(#bl1)"/>
<circle cx="378.8" cy="1739.7" r="1.3" fill="#AE7A30" opacity="0.86" filter="url(#bl1)"/>
<circle cx="378.2" cy="1752.0" r="0.8" fill="#AE7A30" opacity="0.81" filter="url(#bl1)"/>
<circle cx="371.2" cy="1750.0" r="0.7" fill="#AE7A30" opacity="0.91" filter="url(#bl1)"/>
<circle cx="385.7" cy="1753.2" r="0.8" fill="#AE7A30" opacity="0.82" filter="url(#bl1)"/>
<circle cx="368.8" cy="1737.5" r="0.5" fill="#AE7A30" opacity="0.90" filter="url(#bl1)"/>
<circle cx="382.8" cy="1738.2" r="1.1" fill="#AE7A30" opacity="0.90" filter="url(#bl1)"/>
<circle cx="381.7" cy="1743.2" r="1.3" fill="#AE7A30" opacity="0.75" filter="url(#bl1)"/>
<circle cx="365.1" cy="1742.4" r="1.3" fill="#AE7A30" opacity="0.94" filter="url(#bl1)"/>
<circle cx="377.5" cy="1741.5" r="0.5" fill="#AE7A30" opacity="0.74" filter="url(#bl1)"/>
<circle cx="360.6" cy="1749.7" r="1.0" fill="#AE7A30" opacity="0.68" filter="url(#bl1)"/>
<circle cx="370.4" cy="1754.8" r="0.8" fill="#AE7A30" opacity="0.45" filter="url(#bl1)"/>
<circle cx="381.3" cy="1742.2" r="0.7" fill="#AE7A30" opacity="0.78" filter="url(#bl1)"/>
<circle cx="374.9" cy="1747.0" r="1.3" fill="#AE7A30" opacity="0.54" filter="url(#bl1)"/>
<circle cx="375.4" cy="1736.8" r="0.5" fill="#AE7A30" opacity="0.58" filter="url(#bl1)"/>
<circle cx="365.2" cy="1744.9" r="1.3" fill="#AE7A30" opacity="0.91" filter="url(#bl1)"/>
<circle cx="374.8" cy="1749.2" r="1.3" fill="#AE7A30" opacity="0.57" filter="url(#bl1)"/>
<circle cx="370.8" cy="1742.6" r="0.7" fill="#AE7A30" opacity="0.68" filter="url(#bl1)"/>
<circle cx="386.9" cy="1743.0" r="1.3" fill="#AE7A30" opacity="0.79" filter="url(#bl1)"/>
<circle cx="369.0" cy="1750.9" r="1.0" fill="#AE7A30" opacity="0.92" filter="url(#bl1)"/>
<circle cx="367.9" cy="1743.3" r="0.7" fill="#AE7A30" opacity="0.48" filter="url(#bl1)"/>
<circle cx="374.5" cy="1748.8" r="0.7" fill="#AE7A30" opacity="0.77" filter="url(#bl1)"/>
<circle cx="391.7" cy="1745.0" r="1.2" fill="#AE7A30" opacity="0.69" filter="url(#bl1)"/>
<circle cx="368.4" cy="1741.2" r="0.7" fill="#AE7A30" opacity="0.72" filter="url(#bl1)"/>
<circle cx="357.8" cy="1748.2" r="0.8" fill="#AE7A30" opacity="0.70" filter="url(#bl1)"/>
<circle cx="369.2" cy="1737.6" r="0.7" fill="#AE7A30" opacity="0.59" filter="url(#bl1)"/>
<circle cx="369.3" cy="1734.7" r="1.2" fill="#AE7A30" opacity="0.55" filter="url(#bl1)"/>
<circle cx="353.7" cy="1749.6" r="1.0" fill="#AE7A30" opacity="0.59" filter="url(#bl1)"/>
<circle cx="368.6" cy="1746.5" r="1.0" fill="#AE7A30" opacity="0.51" filter="url(#bl1)"/>
<circle cx="372.2" cy="1752.0" r="1.3" fill="#AE7A30" opacity="0.48" filter="url(#bl1)"/>
<circle cx="374.2" cy="1744.6" r="0.7" fill="#AE7A30" opacity="0.57" filter="url(#bl1)"/>
<circle cx="382.0" cy="1746.0" r="0.6" fill="#AE7A30" opacity="0.82" filter="url(#bl1)"/>
<circle cx="381.5" cy="1748.2" r="1.2" fill="#AE7A30" opacity="0.68" filter="url(#bl1)"/>
<circle cx="374.7" cy="1746.1" r="1.3" fill="#AE7A30" opacity="0.56" filter="url(#bl1)"/>
<circle cx="369.1" cy="1740.1" r="0.8" fill="#AE7A30" opacity="0.79" filter="url(#bl1)"/>
<circle cx="358.7" cy="1748.1" r="0.7" fill="#AE7A30" opacity="0.59" filter="url(#bl1)"/>
<circle cx="378.9" cy="1753.1" r="1.1" fill="#AE7A30" opacity="0.60" filter="url(#bl1)"/>
<circle cx="378.8" cy="1736.3" r="1.1" fill="#AE7A30" opacity="0.54" filter="url(#bl1)"/>
<circle cx="374.7" cy="1748.6" r="0.9" fill="#AE7A30" opacity="0.94" filter="url(#bl1)"/>
<circle cx="373.5" cy="1747.4" r="1.3" fill="#AE7A30" opacity="0.89" filter="url(#bl1)"/>
<circle cx="383.3" cy="1750.4" r="0.6" fill="#AE7A30" opacity="0.45" filter="url(#bl1)"/>
<circle cx="372.5" cy="1751.0" r="1.2" fill="#AE7A30" opacity="0.66" filter="url(#bl1)"/>
<circle cx="369.2" cy="1754.9" r="0.9" fill="#AE7A30" opacity="0.51" filter="url(#bl1)"/>
<circle cx="369.7" cy="1744.7" r="0.9" fill="#AE7A30" opacity="0.68" filter="url(#bl1)"/>
<circle cx="379.6" cy="1755.1" r="0.7" fill="#AE7A30" opacity="0.72" filter="url(#bl1)"/>
<circle cx="376.0" cy="1750.4" r="0.9" fill="#AE7A30" opacity="0.70" filter="url(#bl1)"/>
<circle cx="383.2" cy="1743.5" r="1.1" fill="#AE7A30" opacity="0.46" filter="url(#bl1)"/>
<circle cx="370.6" cy="1748.0" r="0.8" fill="#AE7A30" opacity="0.93" filter="url(#bl1)"/>
<circle cx="377.3" cy="1746.1" r="0.6" fill="#AE7A30" opacity="0.61" filter="url(#bl1)"/>
<circle cx="375.6" cy="1738.3" r="1.0" fill="#AE7A30" opacity="0.78" filter="url(#bl1)"/>
<circle cx="381.0" cy="1736.9" r="1.2" fill="#AE7A30" opacity="0.67" filter="url(#bl1)"/>
<circle cx="369.9" cy="1734.3" r="1.1" fill="#AE7A30" opacity="0.55" filter="url(#bl1)"/>
<circle cx="385.8" cy="1740.4" r="1.1" fill="#AE7A30" opacity="0.70" filter="url(#bl1)"/>
<circle cx="373.7" cy="1745.8" r="1.3" fill="#AE7A30" opacity="0.83" filter="url(#bl1)"/>
<circle cx="363.8" cy="1749.5" r="1.2" fill="#AE7A30" opacity="0.49" filter="url(#bl1)"/>
<circle cx="380.0" cy="1741.2" r="0.6" fill="#AE7A30" opacity="0.72" filter="url(#bl1)"/>
<circle cx="377.3" cy="1747.1" r="0.5" fill="#AE7A30" opacity="0.93" filter="url(#bl1)"/>
<circle cx="376.3" cy="1751.4" r="0.9" fill="#AE7A30" opacity="0.92" filter="url(#bl1)"/>
<circle cx="374.0" cy="1750.1" r="1.2" fill="#AE7A30" opacity="0.86" filter="url(#bl1)"/>
<circle cx="375.8" cy="1750.4" r="1.4" fill="#AE7A30" opacity="0.78" filter="url(#bl1)"/>
<circle cx="367.6" cy="1748.2" r="1.2" fill="#AE7A30" opacity="0.49" filter="url(#bl1)"/>
<circle cx="368.1" cy="1757.2" r="1.4" fill="#AE7A30" opacity="0.84" filter="url(#bl1)"/>
<circle cx="366.4" cy="1736.6" r="1.3" fill="#AE7A30" opacity="0.77" filter="url(#bl1)"/>
<circle cx="382.4" cy="1742.8" r="0.6" fill="#AE7A30" opacity="0.78" filter="url(#bl1)"/>
<circle cx="373.4" cy="1747.8" r="1.1" fill="#AE7A30" opacity="0.82" filter="url(#bl1)"/>
<circle cx="382.7" cy="1746.5" r="0.6" fill="#AE7A30" opacity="0.57" filter="url(#bl1)"/>
<circle cx="365.6" cy="1740.8" r="0.7" fill="#AE7A30" opacity="0.78" filter="url(#bl1)"/>
<circle cx="368.8" cy="1746.7" r="1.0" fill="#AE7A30" opacity="0.76" filter="url(#bl1)"/>
<circle cx="369.7" cy="1747.3" r="1.2" fill="#AE7A30" opacity="0.73" filter="url(#bl1)"/>
<circle cx="380.8" cy="1737.4" r="0.6" fill="#AE7A30" opacity="0.91" filter="url(#bl1)"/>
<circle cx="370.7" cy="1742.6" r="0.8" fill="#AE7A30" opacity="0.52" filter="url(#bl1)"/>
<circle cx="361.3" cy="1745.7" r="1.4" fill="#AE7A30" opacity="0.74" filter="url(#bl1)"/>
<circle cx="384.1" cy="1742.9" r="0.6" fill="#AE7A30" opacity="0.61" filter="url(#bl1)"/>
<circle cx="372.6" cy="1750.8" r="0.5" fill="#AE7A30" opacity="0.77" filter="url(#bl1)"/>
<circle cx="369.7" cy="1743.4" r="1.2" fill="#AE7A30" opacity="0.66" filter="url(#bl1)"/>
<circle cx="372.0" cy="1744.5" r="1.3" fill="#AE7A30" opacity="0.77" filter="url(#bl1)"/>
<circle cx="371.1" cy="1740.8" r="1.1" fill="#AE7A30" opacity="0.82" filter="url(#bl1)"/>
<circle cx="377.5" cy="1740.2" r="0.5" fill="#AE7A30" opacity="0.50" filter="url(#bl1)"/>
<circle cx="362.3" cy="1752.2" r="1.1" fill="#AE7A30" opacity="0.72" filter="url(#bl1)"/>
<circle cx="366.4" cy="1736.7" r="1.0" fill="#AE7A30" opacity="0.93" filter="url(#bl1)"/>
<circle cx="372.4" cy="1746.4" r="1.4" fill="#AE7A30" opacity="0.68" filter="url(#bl1)"/>
<circle cx="382.7" cy="1746.0" r="1.4" fill="#AE7A30" opacity="0.75" filter="url(#bl1)"/>
<circle cx="372.6" cy="1748.3" r="1.0" fill="#AE7A30" opacity="0.59" filter="url(#bl1)"/>
<circle cx="377.6" cy="1752.5" r="0.8" fill="#AE7A30" opacity="0.73" filter="url(#bl1)"/>
<circle cx="361.3" cy="1739.3" r="1.1" fill="#AE7A30" opacity="0.85" filter="url(#bl1)"/>
<circle cx="349.7" cy="1750.5" r="1.4" fill="#AE7A30" opacity="0.73" filter="url(#bl1)"/>
<circle cx="365.7" cy="1752.2" r="1.0" fill="#AE7A30" opacity="0.55" filter="url(#bl1)"/>
<circle cx="374.0" cy="1751.2" r="0.9" fill="#AE7A30" opacity="0.72" filter="url(#bl1)"/>
<circle cx="375.1" cy="1748.0" r="0.6" fill="#AE7A30" opacity="0.58" filter="url(#bl1)"/>
<circle cx="367.7" cy="1738.7" r="1.1" fill="#AE7A30" opacity="0.85" filter="url(#bl1)"/>
<circle cx="367.8" cy="1744.9" r="0.8" fill="#AE7A30" opacity="0.72" filter="url(#bl1)"/>
<circle cx="369.5" cy="1752.0" r="1.2" fill="#AE7A30" opacity="0.48" filter="url(#bl1)"/>
<circle cx="382.9" cy="1736.3" r="1.1" fill="#AE7A30" opacity="0.88" filter="url(#bl1)"/>
<circle cx="368" cy="1740" r="8.0" fill="#D6B070" opacity="0.6" filter="url(#bl3)"/>
<circle cx="367.5" cy="1741.6" r="0.6" fill="#AE7A30" opacity="0.80" filter="url(#bl1)"/>
<circle cx="366.2" cy="1739.7" r="0.7" fill="#AE7A30" opacity="0.54" filter="url(#bl1)"/>
<circle cx="370.5" cy="1739.8" r="0.8" fill="#AE7A30" opacity="0.57" filter="url(#bl1)"/>
<circle cx="369.3" cy="1740.6" r="1.1" fill="#AE7A30" opacity="0.75" filter="url(#bl1)"/>
<circle cx="369.0" cy="1737.8" r="1.1" fill="#AE7A30" opacity="0.46" filter="url(#bl1)"/>
<circle cx="366.1" cy="1741.8" r="0.6" fill="#AE7A30" opacity="0.51" filter="url(#bl1)"/>
<circle cx="364.9" cy="1736.4" r="0.6" fill="#AE7A30" opacity="0.64" filter="url(#bl1)"/>
<circle cx="362.7" cy="1737.5" r="0.8" fill="#AE7A30" opacity="0.88" filter="url(#bl1)"/>
<circle cx="363.7" cy="1738.5" r="0.6" fill="#AE7A30" opacity="0.68" filter="url(#bl1)"/>
<circle cx="367.5" cy="1737.0" r="0.9" fill="#AE7A30" opacity="0.68" filter="url(#bl1)"/>
<circle cx="366.0" cy="1738.7" r="0.9" fill="#AE7A30" opacity="0.86" filter="url(#bl1)"/>
<circle cx="368.2" cy="1738.2" r="0.6" fill="#AE7A30" opacity="0.58" filter="url(#bl1)"/>
<circle cx="366.4" cy="1739.4" r="0.9" fill="#AE7A30" opacity="0.67" filter="url(#bl1)"/>
<circle cx="369.9" cy="1740.8" r="0.5" fill="#AE7A30" opacity="0.50" filter="url(#bl1)"/>
<circle cx="369.1" cy="1737.4" r="0.7" fill="#AE7A30" opacity="0.92" filter="url(#bl1)"/>
<circle cx="363.8" cy="1739.7" r="1.2" fill="#AE7A30" opacity="0.82" filter="url(#bl1)"/>
<circle cx="371.3" cy="1740.7" r="1.3" fill="#AE7A30" opacity="0.61" filter="url(#bl1)"/>
<circle cx="369.3" cy="1740.5" r="1.0" fill="#AE7A30" opacity="0.81" filter="url(#bl1)"/>
<circle cx="365.8" cy="1741.2" r="1.3" fill="#AE7A30" opacity="0.57" filter="url(#bl1)"/>
<circle cx="371.9" cy="1740.0" r="1.2" fill="#AE7A30" opacity="0.84" filter="url(#bl1)"/>
<circle cx="366.6" cy="1739.0" r="1.0" fill="#AE7A30" opacity="0.79" filter="url(#bl1)"/>
<circle cx="367.1" cy="1738.9" r="1.2" fill="#AE7A30" opacity="0.64" filter="url(#bl1)"/>
<circle cx="367.0" cy="1742.1" r="0.9" fill="#AE7A30" opacity="0.53" filter="url(#bl1)"/>
<circle cx="375.9" cy="1738.1" r="0.5" fill="#AE7A30" opacity="0.73" filter="url(#bl1)"/>
<circle cx="371.0" cy="1740.1" r="0.8" fill="#AE7A30" opacity="0.64" filter="url(#bl1)"/>
<circle cx="367.4" cy="1739.3" r="1.3" fill="#AE7A30" opacity="0.93" filter="url(#bl1)"/>
<circle cx="366.6" cy="1740.1" r="0.6" fill="#AE7A30" opacity="0.54" filter="url(#bl1)"/>
<circle cx="365.3" cy="1742.4" r="0.9" fill="#AE7A30" opacity="0.73" filter="url(#bl1)"/>
<circle cx="369.1" cy="1740.5" r="0.8" fill="#AE7A30" opacity="0.52" filter="url(#bl1)"/>
<circle cx="368.2" cy="1742.2" r="1.0" fill="#AE7A30" opacity="0.48" filter="url(#bl1)"/>
<circle cx="369.0" cy="1739.1" r="1.3" fill="#AE7A30" opacity="0.56" filter="url(#bl1)"/>
<circle cx="371.1" cy="1738.6" r="0.7" fill="#AE7A30" opacity="0.66" filter="url(#bl1)"/>
<circle cx="323" cy="1762.5" r="9.0" fill="#D6B070" opacity="0.6" filter="url(#bl3)"/>
<circle cx="320.3" cy="1765.0" r="0.8" fill="#AE7A30" opacity="0.79" filter="url(#bl1)"/>
<circle cx="328.3" cy="1757.7" r="1.2" fill="#AE7A30" opacity="0.74" filter="url(#bl1)"/>
<circle cx="318.7" cy="1762.4" r="1.1" fill="#AE7A30" opacity="0.65" filter="url(#bl1)"/>
<circle cx="325.3" cy="1763.9" r="1.4" fill="#AE7A30" opacity="0.88" filter="url(#bl1)"/>
<circle cx="324.4" cy="1764.1" r="1.2" fill="#AE7A30" opacity="0.75" filter="url(#bl1)"/>
<circle cx="326.6" cy="1767.2" r="1.3" fill="#AE7A30" opacity="0.76" filter="url(#bl1)"/>
<circle cx="324.1" cy="1764.1" r="1.0" fill="#AE7A30" opacity="0.56" filter="url(#bl1)"/>
<circle cx="329.0" cy="1759.8" r="1.1" fill="#AE7A30" opacity="0.64" filter="url(#bl1)"/>
<circle cx="320.0" cy="1764.0" r="1.1" fill="#AE7A30" opacity="0.73" filter="url(#bl1)"/>
<circle cx="325.2" cy="1766.4" r="0.5" fill="#AE7A30" opacity="0.58" filter="url(#bl1)"/>
<circle cx="322.4" cy="1763.3" r="0.6" fill="#AE7A30" opacity="0.80" filter="url(#bl1)"/>
<circle cx="325.7" cy="1761.7" r="1.4" fill="#AE7A30" opacity="0.50" filter="url(#bl1)"/>
<circle cx="331.2" cy="1760.3" r="0.8" fill="#AE7A30" opacity="0.56" filter="url(#bl1)"/>
<circle cx="321.3" cy="1759.3" r="0.7" fill="#AE7A30" opacity="0.59" filter="url(#bl1)"/>
<circle cx="320.2" cy="1763.7" r="0.8" fill="#AE7A30" opacity="0.59" filter="url(#bl1)"/>
<circle cx="327.1" cy="1767.1" r="1.3" fill="#AE7A30" opacity="0.76" filter="url(#bl1)"/>
<circle cx="320.5" cy="1757.9" r="1.3" fill="#AE7A30" opacity="0.46" filter="url(#bl1)"/>
<circle cx="326.2" cy="1767.0" r="1.4" fill="#AE7A30" opacity="0.76" filter="url(#bl1)"/>
<circle cx="326.8" cy="1766.5" r="0.7" fill="#AE7A30" opacity="0.94" filter="url(#bl1)"/>
<circle cx="322.3" cy="1761.9" r="0.8" fill="#AE7A30" opacity="0.88" filter="url(#bl1)"/>
<circle cx="326.7" cy="1764.7" r="0.6" fill="#AE7A30" opacity="0.57" filter="url(#bl1)"/>
<circle cx="320.8" cy="1759.0" r="1.2" fill="#AE7A30" opacity="0.92" filter="url(#bl1)"/>
<circle cx="323.4" cy="1763.3" r="0.6" fill="#AE7A30" opacity="0.63" filter="url(#bl1)"/>
<circle cx="324.2" cy="1765.0" r="0.7" fill="#AE7A30" opacity="0.57" filter="url(#bl1)"/>
<circle cx="322.8" cy="1762.2" r="0.6" fill="#AE7A30" opacity="0.76" filter="url(#bl1)"/>
<circle cx="324.5" cy="1764.0" r="1.3" fill="#AE7A30" opacity="0.46" filter="url(#bl1)"/>
<circle cx="322.3" cy="1764.9" r="1.0" fill="#AE7A30" opacity="0.56" filter="url(#bl1)"/>
<circle cx="319.3" cy="1767.2" r="1.1" fill="#AE7A30" opacity="0.50" filter="url(#bl1)"/>
<circle cx="323.5" cy="1764.0" r="0.7" fill="#AE7A30" opacity="0.52" filter="url(#bl1)"/>
<circle cx="324.2" cy="1766.0" r="1.0" fill="#AE7A30" opacity="0.91" filter="url(#bl1)"/>
<circle cx="321.0" cy="1762.4" r="1.0" fill="#AE7A30" opacity="0.88" filter="url(#bl1)"/>
<circle cx="322.1" cy="1760.7" r="1.4" fill="#AE7A30" opacity="0.86" filter="url(#bl1)"/>
<circle cx="317.8" cy="1759.6" r="0.7" fill="#AE7A30" opacity="0.73" filter="url(#bl1)"/>
<circle cx="323.0" cy="1763.9" r="1.0" fill="#AE7A30" opacity="0.57" filter="url(#bl1)"/>
<circle cx="321.5" cy="1762.9" r="1.0" fill="#AE7A30" opacity="0.56" filter="url(#bl1)"/>
<circle cx="324.1" cy="1760.5" r="1.2" fill="#AE7A30" opacity="0.60" filter="url(#bl1)"/>
<circle cx="320.7" cy="1767.1" r="1.2" fill="#AE7A30" opacity="0.94" filter="url(#bl1)"/>
<circle cx="325.5" cy="1761.9" r="1.2" fill="#AE7A30" opacity="0.81" filter="url(#bl1)"/>
<circle cx="320.9" cy="1758.4" r="1.0" fill="#AE7A30" opacity="0.93" filter="url(#bl1)"/>
<circle cx="320.5" cy="1761.7" r="1.2" fill="#AE7A30" opacity="0.68" filter="url(#bl1)"/>
<circle cx="323" cy="1762.5" r="7.7" fill="#D6B070" opacity="0.55" filter="url(#bl2)"/>
<ellipse cx="323.5" cy="1762.0" rx="4.0" ry="2.8" fill="#AE7A30" opacity="0.8" filter="url(#bl1)"/>
<ellipse cx="323.2" cy="1762.0" rx="3.0" ry="3.2" fill="#AE7A30" opacity="0.8" filter="url(#bl1)"/>
<ellipse cx="322.1" cy="1761.5" rx="3.9" ry="3.4" fill="#AE7A30" opacity="0.8" filter="url(#bl1)"/>
<circle cx="324.7" cy="1766.1" r="0.7" fill="#93581A" opacity="0.7" filter="url(#bl1)"/>
<circle cx="326.9" cy="1765.2" r="0.8" fill="#93581A" opacity="0.7" filter="url(#bl1)"/>
<circle cx="317.6" cy="1763.5" r="0.7" fill="#93581A" opacity="0.7" filter="url(#bl1)"/>
<circle cx="323.5" cy="1766.8" r="0.6" fill="#93581A" opacity="0.7" filter="url(#bl1)"/>
<circle cx="323.5" cy="1763.6" r="1.3" fill="#93581A" opacity="0.7" filter="url(#bl1)"/>
<circle cx="320.0" cy="1764.5" r="1.0" fill="#93581A" opacity="0.7" filter="url(#bl1)"/>
<circle cx="322.2" cy="1767.7" r="1.2" fill="#93581A" opacity="0.7" filter="url(#bl1)"/>
<circle cx="321.7" cy="1759.8" r="0.9" fill="#93581A" opacity="0.7" filter="url(#bl1)"/>
<circle cx="320.5" cy="1763.1" r="0.9" fill="#93581A" opacity="0.7" filter="url(#bl1)"/>
<circle cx="322.8" cy="1758.7" r="1.4" fill="#93581A" opacity="0.7" filter="url(#bl1)"/>
<circle cx="321.9" cy="1768.0" r="0.9" fill="#93581A" opacity="0.7" filter="url(#bl1)"/>
<circle cx="449" cy="1750.3" r="7.0" fill="#D6B070" opacity="0.55" filter="url(#bl2)"/>
<ellipse cx="449.9" cy="1749.6" rx="3.7" ry="2.6" fill="#AE7A30" opacity="0.8" filter="url(#bl1)"/>
<ellipse cx="448.6" cy="1748.9" rx="2.9" ry="2.6" fill="#AE7A30" opacity="0.8" filter="url(#bl1)"/>
<ellipse cx="447.8" cy="1750.7" rx="3.6" ry="3.0" fill="#AE7A30" opacity="0.8" filter="url(#bl1)"/>
<circle cx="447.8" cy="1749.3" r="0.7" fill="#93581A" opacity="0.7" filter="url(#bl1)"/>
<circle cx="453.8" cy="1750.0" r="0.5" fill="#93581A" opacity="0.7" filter="url(#bl1)"/>
<circle cx="450.1" cy="1750.2" r="0.7" fill="#93581A" opacity="0.7" filter="url(#bl1)"/>
<circle cx="447.7" cy="1751.9" r="0.7" fill="#93581A" opacity="0.7" filter="url(#bl1)"/>
<circle cx="452.9" cy="1750.3" r="1.2" fill="#93581A" opacity="0.7" filter="url(#bl1)"/>
<circle cx="450.9" cy="1751.4" r="0.7" fill="#93581A" opacity="0.7" filter="url(#bl1)"/>
<circle cx="445.7" cy="1752.5" r="1.2" fill="#93581A" opacity="0.7" filter="url(#bl1)"/>
<circle cx="452.5" cy="1751.4" r="0.9" fill="#93581A" opacity="0.7" filter="url(#bl1)"/>
<circle cx="450.1" cy="1748.2" r="1.3" fill="#93581A" opacity="0.7" filter="url(#bl1)"/>
<circle cx="449.2" cy="1752.5" r="0.9" fill="#93581A" opacity="0.7" filter="url(#bl1)"/>
<circle cx="409.7" cy="1729.3" r="4.5" fill="#D6B070" opacity="0.5" filter="url(#bl2)"/>
<ellipse cx="408.8" cy="1730.2" rx="2.1" ry="2.2" fill="#93581A" opacity="0.85" filter="url(#bl1)"/>
<ellipse cx="410.0" cy="1728.9" rx="2.0" ry="2.1" fill="#93581A" opacity="0.85" filter="url(#bl1)"/>
<ellipse cx="408.8" cy="1729.5" rx="2.2" ry="2.3" fill="#93581A" opacity="0.85" filter="url(#bl1)"/>
<ellipse cx="409.7" cy="1730.3" rx="2.2" ry="2.1" fill="#93581A" opacity="0.85" filter="url(#bl1)"/>
<circle cx="412.0" cy="1729.9" r="0.7" fill="#93581A" opacity="0.8" filter="url(#bl1)"/>
<circle cx="412.0" cy="1730.6" r="0.9" fill="#93581A" opacity="0.8" filter="url(#bl1)"/>
<circle cx="407.2" cy="1726.8" r="0.8" fill="#93581A" opacity="0.8" filter="url(#bl1)"/>
<circle cx="411.7" cy="1730.6" r="1.1" fill="#93581A" opacity="0.8" filter="url(#bl1)"/>
<circle cx="345.8" cy="1735.4" r="3.5" fill="#D6B070" opacity="0.55" filter="url(#bl2)"/>
<ellipse cx="345.2" cy="1735.6" rx="1.6" ry="1.9" fill="#AE7A30" opacity="0.8" filter="url(#bl1)"/>
<ellipse cx="345.5" cy="1735.9" rx="1.8" ry="1.5" fill="#AE7A30" opacity="0.8" filter="url(#bl1)"/>
<ellipse cx="345.5" cy="1736.1" rx="1.5" ry="1.6" fill="#AE7A30" opacity="0.8" filter="url(#bl1)"/>
<circle cx="343.8" cy="1737.2" r="0.6" fill="#93581A" opacity="0.7" filter="url(#bl1)"/>
<circle cx="344.8" cy="1735.1" r="1.3" fill="#93581A" opacity="0.7" filter="url(#bl1)"/>
<circle cx="346.4" cy="1735.2" r="0.9" fill="#93581A" opacity="0.7" filter="url(#bl1)"/>
<circle cx="346.2" cy="1735.1" r="0.6" fill="#93581A" opacity="0.7" filter="url(#bl1)"/>
<circle cx="348.2" cy="1734.2" r="0.8" fill="#93581A" opacity="0.7" filter="url(#bl1)"/>
<circle cx="333.5" cy="1727.5" r="1.7" fill="#93581A" opacity="0.85" filter="url(#bl1)"/>
<circle cx="471.8" cy="1763.4" r="4.5" fill="#D6B070" opacity="0.5" filter="url(#bl2)"/>
<ellipse cx="471.4" cy="1763.9" rx="2.2" ry="2.1" fill="#93581A" opacity="0.85" filter="url(#bl1)"/>
<ellipse cx="470.8" cy="1764.3" rx="2.0" ry="1.9" fill="#93581A" opacity="0.85" filter="url(#bl1)"/>
<ellipse cx="471.2" cy="1764.2" rx="1.7" ry="2.2" fill="#93581A" opacity="0.85" filter="url(#bl1)"/>
<ellipse cx="472.4" cy="1763.6" rx="2.0" ry="2.1" fill="#93581A" opacity="0.85" filter="url(#bl1)"/>
<circle cx="468.4" cy="1762.9" r="1.0" fill="#93581A" opacity="0.8" filter="url(#bl1)"/>
<circle cx="469.3" cy="1761.6" r="0.5" fill="#93581A" opacity="0.8" filter="url(#bl1)"/>
<circle cx="472.7" cy="1765.2" r="1.0" fill="#93581A" opacity="0.8" filter="url(#bl1)"/>
<circle cx="469.6" cy="1761.8" r="1.2" fill="#93581A" opacity="0.8" filter="url(#bl1)"/>
<circle cx="469.2" cy="1720.5" r="1.7" fill="#93581A" opacity="0.85" filter="url(#bl1)"/>
<circle cx="379" cy="1715.3" r="1.7" fill="#93581A" opacity="0.85" filter="url(#bl1)"/>
<circle cx="389.5" cy="1767.8" r="6.0" fill="#D6B070" opacity="0.6" filter="url(#bl3)"/>
<circle cx="389.9" cy="1766.7" r="0.7" fill="#AE7A30" opacity="0.94" filter="url(#bl1)"/>
<circle cx="387.2" cy="1762.7" r="0.9" fill="#AE7A30" opacity="0.74" filter="url(#bl1)"/>
<circle cx="390.1" cy="1765.1" r="1.3" fill="#AE7A30" opacity="0.74" filter="url(#bl1)"/>
<circle cx="388.0" cy="1769.9" r="1.4" fill="#AE7A30" opacity="0.94" filter="url(#bl1)"/>
<circle cx="389.4" cy="1765.5" r="0.8" fill="#AE7A30" opacity="0.50" filter="url(#bl1)"/>
<circle cx="390.4" cy="1766.1" r="0.6" fill="#AE7A30" opacity="0.93" filter="url(#bl1)"/>
<circle cx="392.6" cy="1767.7" r="1.2" fill="#AE7A30" opacity="0.83" filter="url(#bl1)"/>
<circle cx="389.8" cy="1766.1" r="1.2" fill="#AE7A30" opacity="0.46" filter="url(#bl1)"/>
<circle cx="388.6" cy="1764.4" r="1.2" fill="#AE7A30" opacity="0.67" filter="url(#bl1)"/>
<circle cx="388.6" cy="1765.9" r="0.5" fill="#AE7A30" opacity="0.90" filter="url(#bl1)"/>
<circle cx="389.1" cy="1770.0" r="1.2" fill="#AE7A30" opacity="0.49" filter="url(#bl1)"/>
<circle cx="391.6" cy="1767.6" r="0.6" fill="#AE7A30" opacity="0.92" filter="url(#bl1)"/>
<circle cx="389.5" cy="1766.1" r="0.6" fill="#AE7A30" opacity="0.66" filter="url(#bl1)"/>
<circle cx="394.0" cy="1766.7" r="1.2" fill="#AE7A30" opacity="0.57" filter="url(#bl1)"/>
<circle cx="384.9" cy="1768.1" r="0.5" fill="#AE7A30" opacity="0.71" filter="url(#bl1)"/>
<circle cx="391.6" cy="1764.2" r="0.6" fill="#AE7A30" opacity="0.83" filter="url(#bl1)"/>
<circle cx="386.8" cy="1769.6" r="1.0" fill="#AE7A30" opacity="0.90" filter="url(#bl1)"/>
<circle cx="392.9" cy="1766.2" r="1.1" fill="#AE7A30" opacity="0.46" filter="url(#bl1)"/>
<circle cx="401.8" cy="1766.9" r="1.7" fill="#93581A" opacity="0.85" filter="url(#bl1)"/>
<circle cx="403.5" cy="1748.5" r="1.7" fill="#93581A" opacity="0.85" filter="url(#bl1)"/>
<circle cx="308.1" cy="1780" r="3.5" fill="#D6B070" opacity="0.55" filter="url(#bl2)"/>
<ellipse cx="308.2" cy="1779.8" rx="1.8" ry="1.5" fill="#AE7A30" opacity="0.8" filter="url(#bl1)"/>
<ellipse cx="308.7" cy="1780.6" rx="1.7" ry="1.5" fill="#AE7A30" opacity="0.8" filter="url(#bl1)"/>
<ellipse cx="307.4" cy="1780.7" rx="1.4" ry="1.8" fill="#AE7A30" opacity="0.8" filter="url(#bl1)"/>
<circle cx="306.5" cy="1779.5" r="0.6" fill="#93581A" opacity="0.7" filter="url(#bl1)"/>
<circle cx="307.9" cy="1778.4" r="0.9" fill="#93581A" opacity="0.7" filter="url(#bl1)"/>
<circle cx="307.3" cy="1781.2" r="0.9" fill="#93581A" opacity="0.7" filter="url(#bl1)"/>
<circle cx="308.5" cy="1778.9" r="0.6" fill="#93581A" opacity="0.7" filter="url(#bl1)"/>
<circle cx="308.7" cy="1777.5" r="1.0" fill="#93581A" opacity="0.7" filter="url(#bl1)"/>
<circle cx="305.5" cy="1791.4" r="1.7" fill="#93581A" opacity="0.85" filter="url(#bl1)"/>
<circle cx="336.1" cy="1799.3" r="2.2" fill="#93581A" opacity="0.85" filter="url(#bl1)"/>
<circle cx="410.5" cy="1801.9" r="4.5" fill="#D6B070" opacity="0.5" filter="url(#bl2)"/>
<ellipse cx="409.8" cy="1801.8" rx="2.3" ry="1.7" fill="#93581A" opacity="0.85" filter="url(#bl1)"/>
<ellipse cx="410.4" cy="1802.9" rx="1.9" ry="1.7" fill="#93581A" opacity="0.85" filter="url(#bl1)"/>
<ellipse cx="411.2" cy="1802.4" rx="2.1" ry="2.1" fill="#93581A" opacity="0.85" filter="url(#bl1)"/>
<ellipse cx="409.9" cy="1801.6" rx="2.2" ry="2.3" fill="#93581A" opacity="0.85" filter="url(#bl1)"/>
<circle cx="408.6" cy="1802.7" r="0.8" fill="#93581A" opacity="0.8" filter="url(#bl1)"/>
<circle cx="407.1" cy="1801.8" r="0.6" fill="#93581A" opacity="0.8" filter="url(#bl1)"/>
<circle cx="408.5" cy="1799.3" r="0.7" fill="#93581A" opacity="0.8" filter="url(#bl1)"/>
<circle cx="411.7" cy="1800.0" r="0.6" fill="#93581A" opacity="0.8" filter="url(#bl1)"/>
<circle cx="423.7" cy="1797.5" r="1.7" fill="#93581A" opacity="0.85" filter="url(#bl1)"/>
<circle cx="445.5" cy="1819.4" r="9.1" fill="#D6B070" opacity="0.55" filter="url(#bl2)"/>
<ellipse cx="447.3" cy="1818.4" rx="3.5" ry="4.3" fill="#AE7A30" opacity="0.8" filter="url(#bl1)"/>
<ellipse cx="446.5" cy="1820.2" rx="4.2" ry="4.4" fill="#AE7A30" opacity="0.8" filter="url(#bl1)"/>
<ellipse cx="446.0" cy="1819.1" rx="4.6" ry="4.5" fill="#AE7A30" opacity="0.8" filter="url(#bl1)"/>
<circle cx="447.9" cy="1820.4" r="0.6" fill="#93581A" opacity="0.7" filter="url(#bl1)"/>
<circle cx="444.8" cy="1826.2" r="0.7" fill="#93581A" opacity="0.7" filter="url(#bl1)"/>
<circle cx="445.4" cy="1824.2" r="1.2" fill="#93581A" opacity="0.7" filter="url(#bl1)"/>
<circle cx="447.8" cy="1816.4" r="1.0" fill="#93581A" opacity="0.7" filter="url(#bl1)"/>
<circle cx="443.9" cy="1818.9" r="1.3" fill="#93581A" opacity="0.7" filter="url(#bl1)"/>
<circle cx="443.3" cy="1821.3" r="1.1" fill="#93581A" opacity="0.7" filter="url(#bl1)"/>
<circle cx="446.1" cy="1822.9" r="1.4" fill="#93581A" opacity="0.7" filter="url(#bl1)"/>
<circle cx="448.1" cy="1820.5" r="0.8" fill="#93581A" opacity="0.7" filter="url(#bl1)"/>
<circle cx="441.3" cy="1813.9" r="0.7" fill="#93581A" opacity="0.7" filter="url(#bl1)"/>
<circle cx="449.0" cy="1823.3" r="1.1" fill="#93581A" opacity="0.7" filter="url(#bl1)"/>
<circle cx="444.6" cy="1825.1" r="1.3" fill="#93581A" opacity="0.7" filter="url(#bl1)"/>
<circle cx="449.9" cy="1820.0" r="1.1" fill="#93581A" opacity="0.7" filter="url(#bl1)"/>
<circle cx="441.5" cy="1815.2" r="0.6" fill="#93581A" opacity="0.7" filter="url(#bl1)"/>
<circle cx="445.5" cy="1819.4" r="5.6" fill="#D6B070" opacity="0.55" filter="url(#bl2)"/>
<ellipse cx="444.5" cy="1819.2" rx="2.8" ry="2.7" fill="#AE7A30" opacity="0.8" filter="url(#bl1)"/>
<ellipse cx="446.1" cy="1818.6" rx="2.4" ry="2.9" fill="#AE7A30" opacity="0.8" filter="url(#bl1)"/>
<ellipse cx="446.3" cy="1819.6" rx="2.2" ry="2.8" fill="#AE7A30" opacity="0.8" filter="url(#bl1)"/>
<circle cx="445.9" cy="1822.2" r="0.8" fill="#93581A" opacity="0.7" filter="url(#bl1)"/>
<circle cx="448.2" cy="1817.3" r="0.6" fill="#93581A" opacity="0.7" filter="url(#bl1)"/>
<circle cx="441.7" cy="1818.4" r="0.9" fill="#93581A" opacity="0.7" filter="url(#bl1)"/>
<circle cx="444.6" cy="1819.5" r="0.7" fill="#93581A" opacity="0.7" filter="url(#bl1)"/>
<circle cx="442.1" cy="1819.5" r="0.5" fill="#93581A" opacity="0.7" filter="url(#bl1)"/>
<circle cx="446.8" cy="1817.8" r="0.9" fill="#93581A" opacity="0.7" filter="url(#bl1)"/>
<circle cx="448.7" cy="1820.1" r="0.6" fill="#93581A" opacity="0.7" filter="url(#bl1)"/>
<circle cx="445.0" cy="1817.3" r="1.2" fill="#93581A" opacity="0.7" filter="url(#bl1)"/>
<circle cx="424.5" cy="1818.5" r="2.2" fill="#93581A" opacity="0.85" filter="url(#bl1)"/>
<circle cx="310.8" cy="1820.3" r="4.2" fill="#D6B070" opacity="0.55" filter="url(#bl2)"/>
<ellipse cx="309.9" cy="1820.4" rx="1.8" ry="1.7" fill="#AE7A30" opacity="0.8" filter="url(#bl1)"/>
<ellipse cx="310.7" cy="1819.6" rx="1.8" ry="1.5" fill="#AE7A30" opacity="0.8" filter="url(#bl1)"/>
<ellipse cx="310.6" cy="1820.1" rx="1.7" ry="2.1" fill="#AE7A30" opacity="0.8" filter="url(#bl1)"/>
<circle cx="311.1" cy="1821.0" r="0.7" fill="#93581A" opacity="0.7" filter="url(#bl1)"/>
<circle cx="311.7" cy="1820.8" r="0.9" fill="#93581A" opacity="0.7" filter="url(#bl1)"/>
<circle cx="309.3" cy="1822.0" r="0.8" fill="#93581A" opacity="0.7" filter="url(#bl1)"/>
<circle cx="311.6" cy="1820.8" r="0.7" fill="#93581A" opacity="0.7" filter="url(#bl1)"/>
<circle cx="311.7" cy="1820.4" r="1.3" fill="#93581A" opacity="0.7" filter="url(#bl1)"/>
<circle cx="309.4" cy="1820.1" r="1.3" fill="#93581A" opacity="0.7" filter="url(#bl1)"/>
<circle cx="337" cy="1811.5" r="1.7" fill="#93581A" opacity="0.85" filter="url(#bl1)"/>
<circle cx="345.8" cy="1836" r="6.3" fill="#D6B070" opacity="0.55" filter="url(#bl2)"/>
<ellipse cx="345.0" cy="1836.5" rx="2.7" ry="2.7" fill="#AE7A30" opacity="0.8" filter="url(#bl1)"/>
<ellipse cx="346.0" cy="1836.4" rx="2.8" ry="2.4" fill="#AE7A30" opacity="0.8" filter="url(#bl1)"/>
<ellipse cx="345.6" cy="1836.5" rx="3.0" ry="3.0" fill="#AE7A30" opacity="0.8" filter="url(#bl1)"/>
<circle cx="344.2" cy="1836.5" r="1.3" fill="#93581A" opacity="0.7" filter="url(#bl1)"/>
<circle cx="346.0" cy="1834.7" r="0.7" fill="#93581A" opacity="0.7" filter="url(#bl1)"/>
<circle cx="343.3" cy="1837.0" r="0.8" fill="#93581A" opacity="0.7" filter="url(#bl1)"/>
<circle cx="344.0" cy="1836.5" r="0.6" fill="#93581A" opacity="0.7" filter="url(#bl1)"/>
<circle cx="348.6" cy="1835.5" r="0.8" fill="#93581A" opacity="0.7" filter="url(#bl1)"/>
<circle cx="344.4" cy="1834.5" r="0.9" fill="#93581A" opacity="0.7" filter="url(#bl1)"/>
<circle cx="346.4" cy="1834.6" r="1.4" fill="#93581A" opacity="0.7" filter="url(#bl1)"/>
<circle cx="346.5" cy="1834.9" r="0.5" fill="#93581A" opacity="0.7" filter="url(#bl1)"/>
<circle cx="348.0" cy="1840.4" r="1.3" fill="#93581A" opacity="0.7" filter="url(#bl1)"/>
<circle cx="390.4" cy="1836.9" r="2.2" fill="#93581A" opacity="0.85" filter="url(#bl1)"/>
<circle cx="387.8" cy="1846.5" r="2.2" fill="#93581A" opacity="0.85" filter="url(#bl1)"/>
<circle cx="372" cy="1843.9" r="1.7" fill="#93581A" opacity="0.85" filter="url(#bl1)"/>
<circle cx="415.8" cy="1840.4" r="1.7" fill="#93581A" opacity="0.85" filter="url(#bl1)"/>
<circle cx="330" cy="1869.3" r="14.0" fill="#D6B070" opacity="0.6" filter="url(#bl3)"/>
<circle cx="324.6" cy="1873.1" r="0.5" fill="#AE7A30" opacity="0.74" filter="url(#bl1)"/>
<circle cx="335.7" cy="1868.7" r="0.8" fill="#AE7A30" opacity="0.49" filter="url(#bl1)"/>
<circle cx="325.2" cy="1872.0" r="0.9" fill="#AE7A30" opacity="0.84" filter="url(#bl1)"/>
<circle cx="339.4" cy="1870.8" r="0.6" fill="#AE7A30" opacity="0.74" filter="url(#bl1)"/>
<circle cx="336.0" cy="1864.3" r="1.3" fill="#AE7A30" opacity="0.76" filter="url(#bl1)"/>
<circle cx="327.4" cy="1865.1" r="1.1" fill="#AE7A30" opacity="0.77" filter="url(#bl1)"/>
<circle cx="336.0" cy="1878.6" r="1.0" fill="#AE7A30" opacity="0.46" filter="url(#bl1)"/>
<circle cx="329.5" cy="1880.3" r="1.2" fill="#AE7A30" opacity="0.71" filter="url(#bl1)"/>
<circle cx="327.3" cy="1876.8" r="1.0" fill="#AE7A30" opacity="0.52" filter="url(#bl1)"/>
<circle cx="332.4" cy="1874.9" r="1.4" fill="#AE7A30" opacity="0.46" filter="url(#bl1)"/>
<circle cx="334.8" cy="1876.1" r="1.1" fill="#AE7A30" opacity="0.85" filter="url(#bl1)"/>
<circle cx="330.2" cy="1865.0" r="0.7" fill="#AE7A30" opacity="0.79" filter="url(#bl1)"/>
<circle cx="327.2" cy="1869.7" r="0.5" fill="#AE7A30" opacity="0.55" filter="url(#bl1)"/>
<circle cx="326.4" cy="1886.2" r="1.3" fill="#AE7A30" opacity="0.47" filter="url(#bl1)"/>
<circle cx="343.1" cy="1875.7" r="0.5" fill="#AE7A30" opacity="0.90" filter="url(#bl1)"/>
<circle cx="339.0" cy="1864.1" r="0.5" fill="#AE7A30" opacity="0.89" filter="url(#bl1)"/>
<circle cx="331.0" cy="1874.7" r="1.2" fill="#AE7A30" opacity="0.81" filter="url(#bl1)"/>
<circle cx="330.2" cy="1873.7" r="0.5" fill="#AE7A30" opacity="0.52" filter="url(#bl1)"/>
<circle cx="337.1" cy="1872.5" r="1.3" fill="#AE7A30" opacity="0.79" filter="url(#bl1)"/>
<circle cx="321.5" cy="1878.6" r="1.3" fill="#AE7A30" opacity="0.61" filter="url(#bl1)"/>
<circle cx="332.9" cy="1858.9" r="1.0" fill="#AE7A30" opacity="0.88" filter="url(#bl1)"/>
<circle cx="323.4" cy="1872.9" r="0.7" fill="#AE7A30" opacity="0.91" filter="url(#bl1)"/>
<circle cx="328.3" cy="1876.2" r="1.1" fill="#AE7A30" opacity="0.74" filter="url(#bl1)"/>
<circle cx="327.6" cy="1869.6" r="0.7" fill="#AE7A30" opacity="0.93" filter="url(#bl1)"/>
<circle cx="339.7" cy="1873.9" r="1.1" fill="#AE7A30" opacity="0.85" filter="url(#bl1)"/>
<circle cx="326.0" cy="1874.0" r="0.6" fill="#AE7A30" opacity="0.67" filter="url(#bl1)"/>
<circle cx="325.7" cy="1875.4" r="0.7" fill="#AE7A30" opacity="0.68" filter="url(#bl1)"/>
<circle cx="332.5" cy="1874.5" r="0.8" fill="#AE7A30" opacity="0.53" filter="url(#bl1)"/>
<circle cx="327.7" cy="1873.1" r="0.6" fill="#AE7A30" opacity="0.48" filter="url(#bl1)"/>
<circle cx="330.0" cy="1877.9" r="0.7" fill="#AE7A30" opacity="0.62" filter="url(#bl1)"/>
<circle cx="338.4" cy="1872.3" r="0.5" fill="#AE7A30" opacity="0.47" filter="url(#bl1)"/>
<circle cx="335.1" cy="1876.9" r="0.8" fill="#AE7A30" opacity="0.78" filter="url(#bl1)"/>
<circle cx="325.2" cy="1878.8" r="1.2" fill="#AE7A30" opacity="0.50" filter="url(#bl1)"/>
<circle cx="326.1" cy="1872.3" r="0.5" fill="#AE7A30" opacity="0.79" filter="url(#bl1)"/>
<circle cx="328.6" cy="1875.1" r="1.1" fill="#AE7A30" opacity="0.86" filter="url(#bl1)"/>
<circle cx="327.1" cy="1870.1" r="1.3" fill="#AE7A30" opacity="0.57" filter="url(#bl1)"/>
<circle cx="326.1" cy="1873.4" r="1.4" fill="#AE7A30" opacity="0.74" filter="url(#bl1)"/>
<circle cx="327.2" cy="1870.0" r="0.8" fill="#AE7A30" opacity="0.72" filter="url(#bl1)"/>
<circle cx="336.9" cy="1866.3" r="0.9" fill="#AE7A30" opacity="0.52" filter="url(#bl1)"/>
<circle cx="319.6" cy="1878.5" r="1.3" fill="#AE7A30" opacity="0.69" filter="url(#bl1)"/>
<circle cx="335.9" cy="1874.6" r="1.3" fill="#AE7A30" opacity="0.93" filter="url(#bl1)"/>
<circle cx="337.2" cy="1875.2" r="1.1" fill="#AE7A30" opacity="0.50" filter="url(#bl1)"/>
<circle cx="332.4" cy="1872.2" r="1.2" fill="#AE7A30" opacity="0.89" filter="url(#bl1)"/>
<circle cx="322.3" cy="1866.4" r="0.8" fill="#AE7A30" opacity="0.75" filter="url(#bl1)"/>
<circle cx="323.3" cy="1866.2" r="0.5" fill="#AE7A30" opacity="0.57" filter="url(#bl1)"/>
<circle cx="330.9" cy="1869.7" r="0.6" fill="#AE7A30" opacity="0.75" filter="url(#bl1)"/>
<circle cx="325.1" cy="1875.1" r="0.5" fill="#AE7A30" opacity="0.75" filter="url(#bl1)"/>
<circle cx="339.3" cy="1869.0" r="0.6" fill="#AE7A30" opacity="0.83" filter="url(#bl1)"/>
<circle cx="331.4" cy="1871.0" r="0.7" fill="#AE7A30" opacity="0.54" filter="url(#bl1)"/>
<circle cx="337.2" cy="1868.4" r="1.3" fill="#AE7A30" opacity="0.56" filter="url(#bl1)"/>
<circle cx="326.2" cy="1872.6" r="1.2" fill="#AE7A30" opacity="0.45" filter="url(#bl1)"/>
<circle cx="321.8" cy="1877.7" r="1.0" fill="#AE7A30" opacity="0.55" filter="url(#bl1)"/>
<circle cx="327.4" cy="1875.5" r="1.3" fill="#AE7A30" opacity="0.58" filter="url(#bl1)"/>
<circle cx="331.5" cy="1864.4" r="1.1" fill="#AE7A30" opacity="0.48" filter="url(#bl1)"/>
<circle cx="325.1" cy="1877.6" r="0.6" fill="#AE7A30" opacity="0.56" filter="url(#bl1)"/>
<circle cx="338.7" cy="1872.0" r="0.9" fill="#AE7A30" opacity="0.66" filter="url(#bl1)"/>
<circle cx="330.1" cy="1869.9" r="0.5" fill="#AE7A30" opacity="0.87" filter="url(#bl1)"/>
<circle cx="334.4" cy="1866.6" r="0.6" fill="#AE7A30" opacity="0.66" filter="url(#bl1)"/>
<circle cx="332.7" cy="1876.9" r="1.1" fill="#AE7A30" opacity="0.51" filter="url(#bl1)"/>
<circle cx="324.1" cy="1873.2" r="0.5" fill="#AE7A30" opacity="0.63" filter="url(#bl1)"/>
<circle cx="337.6" cy="1867.1" r="0.7" fill="#AE7A30" opacity="0.90" filter="url(#bl1)"/>
<circle cx="333.9" cy="1873.8" r="1.1" fill="#AE7A30" opacity="0.94" filter="url(#bl1)"/>
<circle cx="332.0" cy="1870.3" r="1.2" fill="#AE7A30" opacity="0.90" filter="url(#bl1)"/>
<circle cx="327.4" cy="1875.2" r="1.0" fill="#AE7A30" opacity="0.51" filter="url(#bl1)"/>
<circle cx="327.7" cy="1871.4" r="0.8" fill="#AE7A30" opacity="0.60" filter="url(#bl1)"/>
<circle cx="343.6" cy="1870.5" r="1.1" fill="#AE7A30" opacity="0.90" filter="url(#bl1)"/>
<circle cx="339.6" cy="1872.9" r="1.3" fill="#AE7A30" opacity="0.61" filter="url(#bl1)"/>
<circle cx="329.6" cy="1872.6" r="0.8" fill="#AE7A30" opacity="0.52" filter="url(#bl1)"/>
<circle cx="327.9" cy="1874.3" r="0.8" fill="#AE7A30" opacity="0.90" filter="url(#bl1)"/>
<circle cx="328.8" cy="1874.1" r="1.0" fill="#AE7A30" opacity="0.86" filter="url(#bl1)"/>
<circle cx="331.4" cy="1868.9" r="1.4" fill="#AE7A30" opacity="0.88" filter="url(#bl1)"/>
<circle cx="337.0" cy="1872.4" r="1.2" fill="#AE7A30" opacity="0.80" filter="url(#bl1)"/>
<circle cx="334.1" cy="1872.8" r="0.7" fill="#AE7A30" opacity="0.95" filter="url(#bl1)"/>
<circle cx="334.7" cy="1874.1" r="0.5" fill="#AE7A30" opacity="0.72" filter="url(#bl1)"/>
<circle cx="328.8" cy="1867.4" r="1.3" fill="#AE7A30" opacity="0.86" filter="url(#bl1)"/>
<circle cx="337.7" cy="1877.4" r="0.5" fill="#AE7A30" opacity="0.77" filter="url(#bl1)"/>
<circle cx="334.9" cy="1870.1" r="1.1" fill="#AE7A30" opacity="0.73" filter="url(#bl1)"/>
<circle cx="326.2" cy="1874.8" r="0.8" fill="#AE7A30" opacity="0.52" filter="url(#bl1)"/>
<circle cx="326.8" cy="1878.7" r="0.7" fill="#AE7A30" opacity="0.70" filter="url(#bl1)"/>
<circle cx="330.2" cy="1871.1" r="0.7" fill="#AE7A30" opacity="0.94" filter="url(#bl1)"/>
<circle cx="323.6" cy="1880.2" r="1.0" fill="#AE7A30" opacity="0.84" filter="url(#bl1)"/>
<circle cx="331.4" cy="1865.7" r="1.3" fill="#AE7A30" opacity="0.53" filter="url(#bl1)"/>
<circle cx="326.1" cy="1874.3" r="0.9" fill="#AE7A30" opacity="0.49" filter="url(#bl1)"/>
<circle cx="322.7" cy="1867.0" r="0.9" fill="#AE7A30" opacity="0.67" filter="url(#bl1)"/>
<circle cx="322.6" cy="1863.3" r="0.6" fill="#AE7A30" opacity="0.71" filter="url(#bl1)"/>
<circle cx="328.3" cy="1874.8" r="1.3" fill="#AE7A30" opacity="0.59" filter="url(#bl1)"/>
<circle cx="337.0" cy="1870.3" r="0.5" fill="#AE7A30" opacity="0.54" filter="url(#bl1)"/>
<circle cx="326.5" cy="1864.5" r="1.4" fill="#AE7A30" opacity="0.86" filter="url(#bl1)"/>
<circle cx="333.1" cy="1869.1" r="1.0" fill="#AE7A30" opacity="0.68" filter="url(#bl1)"/>
<circle cx="337.4" cy="1870.0" r="0.5" fill="#AE7A30" opacity="0.66" filter="url(#bl1)"/>
<circle cx="332.5" cy="1878.8" r="1.0" fill="#AE7A30" opacity="0.68" filter="url(#bl1)"/>
<circle cx="334.7" cy="1874.9" r="0.9" fill="#AE7A30" opacity="0.68" filter="url(#bl1)"/>
<circle cx="337.9" cy="1871.0" r="0.7" fill="#AE7A30" opacity="0.71" filter="url(#bl1)"/>
<circle cx="333.2" cy="1876.3" r="0.7" fill="#AE7A30" opacity="0.63" filter="url(#bl1)"/>
<circle cx="324.3" cy="1878.5" r="0.6" fill="#AE7A30" opacity="0.80" filter="url(#bl1)"/>
<circle cx="334.9" cy="1883.2" r="0.8" fill="#AE7A30" opacity="0.73" filter="url(#bl1)"/>
<circle cx="329.5" cy="1871.0" r="1.0" fill="#AE7A30" opacity="0.52" filter="url(#bl1)"/>
<circle cx="329.7" cy="1874.1" r="1.0" fill="#AE7A30" opacity="0.78" filter="url(#bl1)"/>
<circle cx="330" cy="1869.3" r="8.0" fill="#D6B070" opacity="0.6" filter="url(#bl3)"/>
<circle cx="326.7" cy="1873.4" r="1.3" fill="#AE7A30" opacity="0.76" filter="url(#bl1)"/>
<circle cx="327.0" cy="1864.7" r="1.2" fill="#AE7A30" opacity="0.64" filter="url(#bl1)"/>
<circle cx="331.9" cy="1868.4" r="1.3" fill="#AE7A30" opacity="0.82" filter="url(#bl1)"/>
<circle cx="330.2" cy="1868.9" r="0.9" fill="#AE7A30" opacity="0.80" filter="url(#bl1)"/>
<circle cx="331.1" cy="1870.9" r="1.2" fill="#AE7A30" opacity="0.63" filter="url(#bl1)"/>
<circle cx="328.2" cy="1868.7" r="1.1" fill="#AE7A30" opacity="0.82" filter="url(#bl1)"/>
<circle cx="327.6" cy="1867.8" r="0.9" fill="#AE7A30" opacity="0.67" filter="url(#bl1)"/>
<circle cx="332.0" cy="1868.1" r="1.4" fill="#AE7A30" opacity="0.71" filter="url(#bl1)"/>
<circle cx="335.0" cy="1867.4" r="1.0" fill="#AE7A30" opacity="0.55" filter="url(#bl1)"/>
<circle cx="326.9" cy="1870.1" r="1.3" fill="#AE7A30" opacity="0.75" filter="url(#bl1)"/>
<circle cx="326.4" cy="1869.0" r="1.2" fill="#AE7A30" opacity="0.48" filter="url(#bl1)"/>
<circle cx="326.8" cy="1865.8" r="1.2" fill="#AE7A30" opacity="0.64" filter="url(#bl1)"/>
<circle cx="333.9" cy="1866.1" r="1.0" fill="#AE7A30" opacity="0.49" filter="url(#bl1)"/>
<circle cx="327.2" cy="1870.0" r="1.2" fill="#AE7A30" opacity="0.77" filter="url(#bl1)"/>
<circle cx="332.0" cy="1865.5" r="1.3" fill="#AE7A30" opacity="0.93" filter="url(#bl1)"/>
<circle cx="328.5" cy="1867.3" r="1.2" fill="#AE7A30" opacity="0.77" filter="url(#bl1)"/>
<circle cx="327.1" cy="1867.0" r="1.1" fill="#AE7A30" opacity="0.83" filter="url(#bl1)"/>
<circle cx="328.1" cy="1867.4" r="0.6" fill="#AE7A30" opacity="0.71" filter="url(#bl1)"/>
<circle cx="326.6" cy="1870.9" r="1.2" fill="#AE7A30" opacity="0.68" filter="url(#bl1)"/>
<circle cx="328.8" cy="1869.3" r="1.0" fill="#AE7A30" opacity="0.55" filter="url(#bl1)"/>
<circle cx="332.0" cy="1866.6" r="0.7" fill="#AE7A30" opacity="0.82" filter="url(#bl1)"/>
<circle cx="329.9" cy="1870.5" r="1.0" fill="#AE7A30" opacity="0.50" filter="url(#bl1)"/>
<circle cx="329.8" cy="1864.5" r="1.1" fill="#AE7A30" opacity="0.62" filter="url(#bl1)"/>
<circle cx="327.0" cy="1872.7" r="1.1" fill="#AE7A30" opacity="0.80" filter="url(#bl1)"/>
<circle cx="331.1" cy="1866.3" r="1.1" fill="#AE7A30" opacity="0.79" filter="url(#bl1)"/>
<circle cx="332.6" cy="1867.7" r="1.2" fill="#AE7A30" opacity="0.70" filter="url(#bl1)"/>
<circle cx="328.8" cy="1867.1" r="1.2" fill="#AE7A30" opacity="0.74" filter="url(#bl1)"/>
<circle cx="330.7" cy="1872.5" r="0.9" fill="#AE7A30" opacity="0.76" filter="url(#bl1)"/>
<circle cx="329.4" cy="1872.3" r="1.3" fill="#AE7A30" opacity="0.65" filter="url(#bl1)"/>
<circle cx="329.6" cy="1868.7" r="0.8" fill="#AE7A30" opacity="0.84" filter="url(#bl1)"/>
<circle cx="330.9" cy="1870.4" r="1.3" fill="#AE7A30" opacity="0.79" filter="url(#bl1)"/>
<circle cx="332.9" cy="1868.6" r="0.6" fill="#AE7A30" opacity="0.82" filter="url(#bl1)"/>
<circle cx="351" cy="1868.4" r="2.2" fill="#93581A" opacity="0.85" filter="url(#bl1)"/>
<circle cx="359.8" cy="1876.3" r="2.2" fill="#93581A" opacity="0.85" filter="url(#bl1)"/>
<circle cx="386.9" cy="1885" r="4.5" fill="#D6B070" opacity="0.5" filter="url(#bl2)"/>
<ellipse cx="387.4" cy="1884.0" rx="2.2" ry="2.0" fill="#93581A" opacity="0.85" filter="url(#bl1)"/>
<ellipse cx="386.5" cy="1884.1" rx="2.0" ry="2.2" fill="#93581A" opacity="0.85" filter="url(#bl1)"/>
<ellipse cx="386.8" cy="1885.0" rx="1.8" ry="2.1" fill="#93581A" opacity="0.85" filter="url(#bl1)"/>
<ellipse cx="387.3" cy="1885.9" rx="2.0" ry="2.4" fill="#93581A" opacity="0.85" filter="url(#bl1)"/>
<circle cx="384.5" cy="1882.9" r="1.2" fill="#93581A" opacity="0.8" filter="url(#bl1)"/>
<circle cx="388.8" cy="1884.8" r="0.5" fill="#93581A" opacity="0.8" filter="url(#bl1)"/>
<circle cx="387.6" cy="1887.3" r="0.7" fill="#93581A" opacity="0.8" filter="url(#bl1)"/>
<circle cx="385.6" cy="1886.3" r="1.0" fill="#93581A" opacity="0.8" filter="url(#bl1)"/>
<circle cx="411.4" cy="1868.4" r="4.2" fill="#D6B070" opacity="0.55" filter="url(#bl2)"/>
<ellipse cx="410.5" cy="1867.9" rx="1.8" ry="2.0" fill="#AE7A30" opacity="0.8" filter="url(#bl1)"/>
<ellipse cx="411.0" cy="1867.6" rx="1.9" ry="1.7" fill="#AE7A30" opacity="0.8" filter="url(#bl1)"/>
<ellipse cx="411.0" cy="1868.1" rx="1.8" ry="1.5" fill="#AE7A30" opacity="0.8" filter="url(#bl1)"/>
<circle cx="410.5" cy="1868.2" r="1.0" fill="#93581A" opacity="0.7" filter="url(#bl1)"/>
<circle cx="410.9" cy="1868.8" r="1.2" fill="#93581A" opacity="0.7" filter="url(#bl1)"/>
<circle cx="412.6" cy="1868.8" r="1.3" fill="#93581A" opacity="0.7" filter="url(#bl1)"/>
<circle cx="412.7" cy="1867.9" r="0.6" fill="#93581A" opacity="0.7" filter="url(#bl1)"/>
<circle cx="410.5" cy="1870.1" r="1.0" fill="#93581A" opacity="0.7" filter="url(#bl1)"/>
<circle cx="410.8" cy="1869.4" r="1.3" fill="#93581A" opacity="0.7" filter="url(#bl1)"/>
<circle cx="417.5" cy="1873.7" r="2.2" fill="#93581A" opacity="0.85" filter="url(#bl1)"/>
<circle cx="460.4" cy="1878" r="8.4" fill="#D6B070" opacity="0.55" filter="url(#bl2)"/>
<ellipse cx="460.8" cy="1879.7" rx="3.8" ry="4.3" fill="#AE7A30" opacity="0.8" filter="url(#bl1)"/>
<ellipse cx="460.5" cy="1878.2" rx="3.8" ry="3.8" fill="#AE7A30" opacity="0.8" filter="url(#bl1)"/>
<ellipse cx="458.8" cy="1876.9" rx="4.3" ry="4.3" fill="#AE7A30" opacity="0.8" filter="url(#bl1)"/>
<circle cx="463.8" cy="1874.5" r="1.2" fill="#93581A" opacity="0.7" filter="url(#bl1)"/>
<circle cx="465.0" cy="1879.5" r="1.0" fill="#93581A" opacity="0.7" filter="url(#bl1)"/>
<circle cx="459.7" cy="1879.8" r="0.8" fill="#93581A" opacity="0.7" filter="url(#bl1)"/>
<circle cx="465.0" cy="1882.5" r="1.4" fill="#93581A" opacity="0.7" filter="url(#bl1)"/>
<circle cx="454.7" cy="1876.1" r="1.0" fill="#93581A" opacity="0.7" filter="url(#bl1)"/>
<circle cx="461.5" cy="1876.0" r="0.6" fill="#93581A" opacity="0.7" filter="url(#bl1)"/>
<circle cx="463.8" cy="1874.8" r="1.3" fill="#93581A" opacity="0.7" filter="url(#bl1)"/>
<circle cx="456.0" cy="1875.5" r="1.2" fill="#93581A" opacity="0.7" filter="url(#bl1)"/>
<circle cx="461.7" cy="1881.0" r="1.3" fill="#93581A" opacity="0.7" filter="url(#bl1)"/>
<circle cx="461.4" cy="1874.9" r="0.9" fill="#93581A" opacity="0.7" filter="url(#bl1)"/>
<circle cx="456.6" cy="1881.6" r="0.7" fill="#93581A" opacity="0.7" filter="url(#bl1)"/>
<circle cx="461.3" cy="1879.1" r="0.7" fill="#93581A" opacity="0.7" filter="url(#bl1)"/>
<circle cx="468.3" cy="1869.3" r="2.2" fill="#93581A" opacity="0.85" filter="url(#bl1)"/>
<circle cx="440.3" cy="1888.5" r="2.2" fill="#93581A" opacity="0.85" filter="url(#bl1)"/>
<circle cx="471.8" cy="1889.4" r="2.2" fill="#93581A" opacity="0.85" filter="url(#bl1)"/>
<circle cx="299.4" cy="1801" r="1.7" fill="#93581A" opacity="0.85" filter="url(#bl1)"/>
<circle cx="400" cy="1888.5" r="1.7" fill="#93581A" opacity="0.85" filter="url(#bl1)"/>
</g>
</svg>
</body></html>
